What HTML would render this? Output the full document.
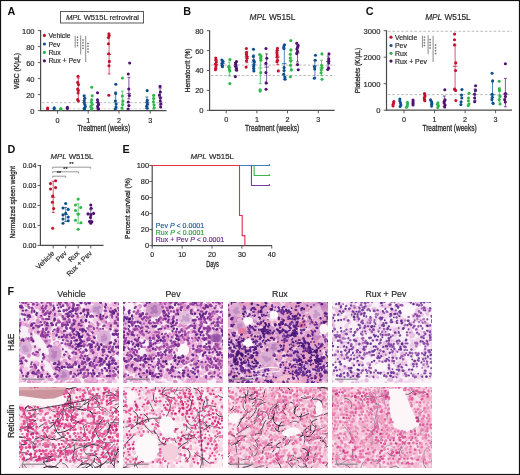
<!DOCTYPE html>
<html><head><meta charset="utf-8"><style>
html,body{margin:0;padding:0;background:#fff;}
body{width:520px;height:475px;overflow:hidden;position:relative}
svg{position:absolute;left:0;top:0;display:block;opacity:.999}
text{font-family:"Liberation Sans",sans-serif}
</style></head><body>
<svg width="520" height="475" viewBox="0 0 520 475">
<rect x="0" y="0" width="520" height="475" fill="#fff"/>
<defs><filter id="bl" x="0" y="0" width="1" height="1"><feGaussianBlur stdDeviation="0.5"/></filter></defs><clipPath id="ch0"><path d="M19 302h100v81h-100z"/></clipPath>
<g clip-path="url(#ch0)"><g filter="url(#bl)" stroke-linecap="round">
<path fill="#f7ebf5" d="M18 301h102v83h-102z"/>
<path stroke="#f2c8e4" stroke-width="3" d="M33.7 338.4l-2.3.7M37.3 329.1l-.7 1.1M39.7 380.6l-.9.4M98 342.5l-1.4 1.2M29.6 316.5l-.7.5M58.8 322.4h0M62 361.6l2.4.2M77.8 309l-.3 1.7M63.6 301.5l-1.2 1.3M29.4 377.2l0 .3M105.2 349.7l.1.3M76.4 319.7l1.4.7M33.9 362l.6 1.8M73.9 381.7l-1.1 1.4M38.6 354.3h0M70.8 314.2l.3 0M46.2 335.7l-0 .6M98.9 376.2l.8.2M112.1 368.6l-.9 1.5M32.4 329.7l-.6.9M81.7 318.9l-.7 1.8M77.4 328.6l-.6.8M75.2 309.2l-1.3.3M110.2 366.7l-1.6 1.5M75.6 308.6l.3 1M71.2 346.7l1.8 1.4M117.3 345.7l-.1.4M111.5 368.4h0M47.8 357.7l.5 1.3M79.5 312.4l-1.1.3M64.7 341.7l.1 2.2M108.2 371.5h0M100.2 355.7l.5.7M48.2 309.6l2.1 1.2M104.8 302.2l-0 1.7M38.9 348.6l.6 1.5M48.5 348.8h0M95.7 366.7l1.5.1M82.8 340.7l-.2 1.3M92.4 378.3l-1.4.8M23.1 322.9l.6.5M76.2 314l-.4 1.2M22.6 325.2l-2.1.5M76.1 344.2l-2 .8M107.6 383.4l-2.5.1M114.7 315.1l1.1.9M83.2 342.4l-.3.4M85.1 309.1l-1.8.2M52.5 366.1l-.6.1M114.6 308.6l-.2.3M39.2 316.8l-.3.1M112.6 316.8l-.1.9M68.9 310.5l1 .5M23.4 309.9l-1.6 1.8M88.7 366.7l.8 1.5M26.5 372.7l-.7 1.5M82.2 310.2l-1 .6M83.7 374.6l-.4 2.4M20.1 375.8l1.7.4M79.8 361.3l-.8.4M106.4 350.4l-.6 1.7M107.1 304.1l.4.8M107.8 346.7l-2.1.6M49.7 379.5l2 .5M103.3 319.5l2.2.6M114.2 374.4l1 .4M114.9 365.6l1.4.5M50.1 375.3l.7 2.1M69.1 382.3h0M35.1 350.3l.2.4M45.4 334.4h0M26.6 321.4l-1 1.5M115.3 373.6l-1.3.2M56.8 382.7l-.1 2.5"/>
<path stroke="#da90c6" stroke-width="4" d="M96.8 359.2l.2 1.2M110.4 310.7l0 .9M33.7 367.4l.7.4M37.8 320.5l.2 1.9M24.3 379.9h0M45.8 323l-.7.6M25.6 325.3l.2.5M48.4 373h0M76.6 318.5l1 1.5M109.5 309.2l-.9.1M40.4 374l0 .8M48.6 376.1l-1.7.2M105.9 314.1l-.3 2.4M52.5 365.4h0M81 320.5l.3 1.5M88.6 308.4l1.2.7M66.6 315l-.6.1M119.2 324.3l2.4.1M75.5 349.3l-.3 1.6M30.1 339.3l-.7.9M20.6 357.2l1.2.4M94.8 362.6h0M17.7 354.3h0M44.4 333.9l.3.5M99.2 315.8l0 .6M50 306.9l-1.8 1.7M30.8 330.1l-.5 1M109.9 324l-1.4.5M107.6 384.4h0M21.7 368l.9 1.3M119.2 337.2l1.2.5M102.8 317.4l.4.4M78.6 322.3l1 1.6M42.9 331.4l-.9.3M18.7 339.3h0M106.1 355.2l-1.6 0M62.6 380.9l-1.1 1.4M120.4 328.6l-2.2.2M91.8 375.6l.5.6M118.5 375.8l1.2 1.4M94.5 341l-.2.6M19.3 328.9l-.4.3M71.4 372.4h0M49.6 314.1l1.7.2M45.4 354.8l0 .3M99.5 318.1l-.4.5M17.1 344.1l2.1 1.2M36.8 305.9l-0 1.2M95.6 355.6l1.1 1.9M28.9 354.8l-.1 1M70.9 367.2h0M80.7 369.8l1.3 0M112.3 310.9l.7 2M120 352.3l-.3 1.9M45 336.8l.5 1.3M91.6 375l.9.4M114.3 352.8l-1.6 1.3M59.7 331.1l-.5 2.3M46.7 327.9l.2 1M97.7 351.7h0M66.2 322.2l-1.5 1.5M112.3 374.6l-.3 2.2M103.8 360.9l.6 1.1M18.8 362.5l.1 1M72.7 326.2l-.3.4M53.7 334.4l-.3.2M43.8 341.2l1.4 1.8M36.6 326.8l-.8.9M108.8 342.8l-.6 1.6M81.9 362.2l-1.9.1M89.6 330.3l.9.2M58.1 378.2l.1.3M101.9 355.4l-1.2.6M79 307.7l-.2.2M46.5 340.9l.4.6"/>
<path stroke="#e09ece" stroke-width="4" d="M93.3 336l-.7 1.9M38.4 314.5l.2 2M71.5 359.7l.1 2.5M59 345.5l-.2.7M79.2 382.8h0M120.7 333.2l-.7.3M119.1 346.8l1.1 1.1M63.4 317.7l.2 1.2M73.6 323.2l1.1.1M81.6 352.9l.7 1.6M69.3 345.8l.8 1.4M68 383.4l1.8.1M88.6 375.2l-.2.3M92.4 380.3l1.2 1.2M31.9 370.3l.6.7M57.8 333.2l-.5.1M118.6 341.8l0 .5M19.6 333l-1.9.8M22.5 359.8l.2.1M111.1 325.5l-.3.4M46.2 334.4l.9.7M38.5 304.9l-.8 1.6M68.8 304l.3 1.7M43 319.5l.8 1M90.7 348.9l-.1 1.2M107.7 308.3l.1 1M110.2 381.4l-.9 2.1M85.9 359.4l.3 2.4M48.7 341.1l-.4 1.3M36.8 371.3l.3.1M78.2 357.1l-0 .4M85.9 340.6l-.1.8M26.8 375.4l.9.5M117 302.9l-.9 1.6M41.6 376.9l.6 1.1M82.8 317.5l-1.3.7M54.2 367.6l1.2.8M49.5 326.7l-1.9 1.3M78.6 374.8h0M45.6 304.5l-.3.6M34.9 300.4l.3.9M43.4 337.7l-1.2.6M96.4 342.6l.5.1M118.8 322.7l.8 1.6M27.1 305.1l-.6 0M57.7 330.6l-1.2.9M108.6 382.5l.1.3M36.3 354.4l1.4.9M64.6 360.7l.6.1M45.9 325.7l.6.1M75.2 361.8l.6.8M61.2 363.2l-1.7.8M47.4 361.3l1.3.1M79.5 363.7l2 .9M87.1 373l-.7.7M111.3 371.8l.8.9M91.7 355.3l.6 2.3M47 312.5l-.4 0M77.5 380.5l-.4.3M37.5 363.4l-.1 1.1M73.9 346.3l-0 .6M70.2 301.3l-1.1 1.5M19.4 377.7l-.2.2M102.3 320.8l1.9.9M74.3 358l-.2 1.3M77.7 347.6l-.6 1.5M40.9 378.8l-.7.4M75.1 351.4l-.7 2.3M69.5 337.8l.3.1M96.1 356.1l.4 2.2M38.6 374.8l-0 1.2M42.6 313.3l-0 .9M91.8 362.8l1 .5M86.1 380.8l1.9 1M120 336.8l.3 1.8M93.2 380l-1.7.5M77.4 326.5l1.6 1M34.9 365.6l-.8 2.2M48 376.5l0 .4M82.2 317.7l.2.2M90.9 383.4l-.8 1.2M116.2 327.9l.2 2.5M52 317.8l-.5 1.9"/>
<path stroke="#e09ece" stroke-width="3" d="M100.3 344.6l-.7 1.4M104.1 376.8l1.3.2M71.1 341.6l-1.3.7M50.7 301.2l2.4.7M83.2 310.5l.8.7M91 316.4l-.5.2M48.1 379.1l1.5.3M20.3 351.9l-1 .9M53.7 366.7l.3 2.2M35.8 331.6l-.6 2M88.4 303.8h0M30.1 324.9l-.5 1.6M97.1 343.2l.3 1.7M98.6 330.1l.7.5M78.9 339.9l-.2 1.1M56.8 382.2l-1.5 1.1M70.2 333.6l-1.2.3M62.8 332.3l-2.4.7M93.6 348.3l1.5.9M32.9 339.8l-.5.5M75.4 340.3l-.2 1.4M49.6 333.5l-1.3.6M22 366l.4.1M77.1 326.6l-1.8 0M77.4 328.1l.3.3M97.8 369.7l-1.6.3M114.4 322l1 .5M26.3 303.1l-1.1.9M46.6 355.1l-1 2.2M103.2 359.2l-.9 1.6M50.7 375.1l.1.4M106.6 308l.5 1.9M35.8 305.8h0M59 314.3l1.7.4M64 338l.5.6M73.8 345.1l-.7 1.7M85.1 369.5l1.4 1.7M43 308.8l-2.2.9M56.5 360.9l1.5 1.9M22.5 308.9l-.8.4M120.3 304.2h0M64.4 301.5l.2.4M120.6 322.1l-1.8 1.2M92.7 341.5l.5.6M69.9 322.6l1.4.5M49.8 379l.4.5M110 366.2l1.3 2M87.7 373.2l-.5.9M78.6 301.1l.8.5M118.2 375.4l1.6 1.2M92.3 300.7l0 1.1M82.7 365.9l1 1.4M89.3 356.9l1 0M27.5 300.7l1.7.8M89.2 355.2l-.5.5M105.7 345.6l.8.9M58.5 327.5l.9 1.9M63.6 302.7l-1.5.9M74.2 328.8l-.9 1M18 324.2l.3 1.3M62.1 366.3l-.6.4M87.9 303l-.2 2.1M27.5 325.1l-.6.1M101.8 304.5l.2.9M89.9 357.9l1.7.5M57.8 319.7l1.1 1.7M61.8 326.4l-.2 1.4M33.1 381.8l.5 0M50.5 317.9l-1.8 1.3M45.7 313.9l-1.7.3M103.1 357.8l1.1 2M29.4 372.2l-2 1.2M49.5 319.2l-.1.3M107.3 355.6l.5.2M119.1 328.1l-.2.7M72.6 382.6l1.6.3M75.3 379.4l.5 1.8M56.9 343.3l-.9 1.2M116.5 312.4l.5.2M87.8 358.5l.4.8M91.4 310.8l-.5.4M59.2 302.1l.2.6M111.3 323.6l.7.4M44.8 354.2l1.8.3M116.1 330.2l-1.5.5M113.8 358.6l-0 .4M92.6 350.8l.4 1.5M72 307.4l-.3.1M21.5 353h0M115.1 310.8l-1.5.2M49.5 340.3l.3.3"/>
<path stroke="#da90c6" stroke-width="3" d="M25.7 338.1l0 1.4M18.3 333.7l-.5.1M27.4 312l-.3.4M98.2 328.7l-.8 2.1M60.9 332.3l.8.5M113.1 321.1l.4 2.3M39.3 306.2l0 1.5M99.1 353.2l.7.1M116.9 340.7h0M110.6 315.3l1.2 1.1M90 383.4l1.3.1M117.1 300.6l-.3 0M91.2 323.9l.6 1.6M47.6 345.7l-.2.9M100 352.6l-2.1.4M91.3 346.6l-.9.4M96.6 362.6l-1.5.7M78.1 361.3l1.3 1.3M106.5 346.5l.1.5M93.6 337.4l-.7 1.8M30 381.1l-1.4.8M52.1 315.5l-1.3 2.1M32.5 308.9l1.1 1.1M55.3 343.1l-.6.5M108.2 327.5l.2.4M106.7 370.5l-.3.3M70.3 366.6h0M118.2 344.8l1.8.5M78.7 369.4l1.1.1M72.6 365.1l-2 .6M59.3 302.3l-0 .5M97.2 381.1l-1.8 1.1M119.8 304.5l.2.1M33.3 374.2l-.2 1.7M29.6 382.3l-.8 1.2M80.9 324.7l.3.5M119.9 313.8l.7 1.3M109.3 372.9l1 1.2M67.7 321.2l-1 .2M119 374.1l.9 1.5M94.6 359.9l-.1 1.5M50.8 375.9l.2.8M113.1 378.4l.7 1.1M54.1 338.8l-.2.4M84.2 343.4l1.2 1.2M21.7 322.6l1.4 1.2M79.9 332.5l-2 1.2M55.7 365.7l1.1 1M100.8 383.7h0M20.6 342.8l-0 1.8M80.7 360.7l.4.4M98.2 346.1l.6 1.2M27.8 303.5l-.3.2M50.4 377.8l1.6 1.8M21.6 357.9l-1.8.7M77.3 315.6l1 2.1M40.6 307.3l-.2 1.6M20.2 350.4l-.9.5M40.9 317l.6.4M17.9 313.3l-.6.5M57.6 342.3l-1.7 1.4M81.7 319.7l.1 1.1M72.3 383.6l-.2.4M86.1 333.7l1.9.1M52.3 321.2l1 .1M102.8 380.3l.2.2M34.7 369.3l-.1.3M56.1 372.3l-1.1 1M44 340.9l-.8.2M112.7 367.6l-1.5 1.8M81.1 326.8l.8 1.7M58.7 331.7l-1.1 1.6"/>
<path stroke="#f2c8e4" stroke-width="4" d="M21.8 378.6l1.2.6M97.7 347.9l-1 .2M112 320.3l-.7.2M85.6 321.6l-1.9.1M94.3 347.8l.6.8M114 334l-.1.4M32.3 317l.3 2.1M40.6 300.5l1.6 1.7M83.6 353l.1.3M18.1 361.9l-.5.7M20.9 301.6l.4.2M51.7 364.8l2.2.1M90.2 306.8l1.4 1.3M50 317.1l-0 1.1M45.3 356l-.5 1M116.1 321.8l-1.7 1.1M59.4 301.7l-.5 1.1M78.2 348.5l-1.5.7M75.5 371h0M96.4 319.5l-.5 2.3M91.2 356.1l-1.3 1.9M38.5 313.4l1.2 1.3M72.1 369l-.4.1M119.9 375.1l.6.9M102.1 371.7l-1.8.3M118.9 327.2l1.5 1.7M61.2 348.1l.4 2.2M106.6 310.4l.7 1.2M110.9 305.7l.3 1.3M94.4 348.3l-.8.3M87.1 305.8l.4.6M79.7 374.1l.2 2.2M71.5 363.1l-1.7.2M59.1 334.9l.2.8M94.1 341.2l.1.2M117.1 367l-.5 1.4M115.1 351.3h0M74.7 334.8l.3.3M21 352.2l.2 1.3M98.2 350.2l-1 .5M74.3 316.1l-.3 2.2M92.9 345.1l2 1.3M51.8 318.8l-1 1.5M45.7 373.8l1.2 1.5M109.2 357.7l-1.5 1.1M92.6 361.6l.5.1M66.6 333l.7.7M63.7 383.3l.4.9M99.1 357.3l-.2.2M33.7 347l1.4.6M22.4 361.1l-1.4.3M73 373l-1.1.8M85.2 375.5h0M45 379.4l.9.9M100.6 356.6l2 1.2M50.9 375.7l.4.5M83.6 358.7l1.5.5M23.3 370.6l1.3 1.1M50.5 304.7l-.8.3M115.9 325.8l-2 .3M85.9 304.1h0M68.6 361.5l-.5 1M78.4 340.3l-.2.7M26.1 368.8l-2.1 1.2M85.3 362.3l.9 1.2M105.1 351.4l-1.1.6M92.1 368l1.8 1.7M57.7 370.9l.4.4M99.6 352.4l.4 1.4M18.5 313.9l-.5 1.3M70 343.4l.4 1.1M42.5 365.3l-.7 2.2M29.7 313.8l-.2.3M96.9 319.8h0M115 322.1l-.9 0M20.5 379.9l-.3.7M80.6 319.8l1.4 1.7M114.8 381.3h0M56.6 344l.3.1M106.7 315.6l-.8 1.2M31.5 376.4l-.5 2.4M72.3 338.8l1.1 1.6M119.4 305.3l.3.8M66.9 308.5l0 .3M46.9 310h0M47.9 314.5l-.1.7M111 352.9l-.7.2M110.3 361.8l.4 1.7M95.8 320.4l-.9.2M96.3 327.2l-.9.6M92.4 374.2l-1.4 0M99.7 381.6l2 .8M79.9 331.1l.5 0M104.6 357.2l2.3.5M94.9 320.3l.4.2M99.7 303l-.9 1.2M18.1 375l.8.3M113.9 373.3l.7.8M86.2 361.8l-.7.6"/>
<path stroke="#eab2d8" stroke-width="4" d="M74.6 376.1l.2.2M84.9 310.3l-1.2 1.3M101.5 374.4l-.3 1.7M38.4 333.2l1.3.2M85.8 340.4l-.6.2M95.4 349.6l.6 0M93 331.5l.8 1.7M89.5 378.9l-.6.1M90.8 324.4l1.9.7M40.3 379.8l-.5.6M59.3 303.7l-.6.2M72.7 363.5h0M21.8 357.5l.2 1M117.5 315.3l-.5.2M57.6 302.6h0M97.1 303l1 .4M94.5 301.9l-.2.6M19.6 306.7h0M60.6 337l-1.4.7M71.2 333.7l.2.5M46 384.2h0M74.9 347.8l-1.8 1M119.2 361.5l-.5.4M120.9 369.5l-1.2 1.3M81.1 362.6l.3.9M106.7 326.4l.7 1.2M110.1 347.7l1.6 1.4M119.8 321.3h0M37 305.1l1.1 1.7M90.3 337.2l1.6 1.1M91.2 364.4l0 .3M107.3 378.2l1.6.5M45.3 356.9h0M58.9 362l.4.7M113.7 304.4l1.1.5M46.7 312.3l.5.1M78 335.7l-2.2 1.2M109.9 378.9l.5.5M77.5 320.4l-1.2 2M119.8 354.6l.2.3M77.5 350.3l-.1 2.5M50 315.2l.8.4M94.7 364.9l-0 .5M44.6 303.8l-.4 1M83.1 326.7h0M51.8 310.7h0M57.3 361.2l1.2 1M93.7 372.5l-.9 1.6M96.7 344.1l-.2.6M22.8 323.2l.3.7M56.2 374.7l-.9.9M96 331.7l.1 1.5M26.2 311.8l1.9.2M121.1 311l-1.3 2M83.3 334l1.1.6M34.1 302.9l-.7 1.1M64.1 365.7l-.4.1M76.8 371l.5 1.8M78.4 357.6h0M96 371.7h0M115.7 340l.3 2.1M41.8 373.1l1.6.2M46.1 337.2l-1.6.2M23 339.1l-.8 1.5M77.4 311l-.7 1.5M21.4 301.6l.6.5M80.9 300.9h0M17.6 355.5l.3.2M87 336l-1.3 1.1M56.2 315.4l-2 .8M86.7 357.3l-1.5.9M44.5 308h0M90.3 378.5l-.6.2M79.5 357.2l.3 1M74.7 324.8l-1 .6M29.7 330.6l-.4.1M54.6 311.4l.9 1.1M43.5 365.3l-1.4.7M33 339.3l-.7 2M30.7 323.3l1 2M48.9 307.2h0M44.1 359h0M45.8 321.4h0"/>
<path stroke="#eab2d8" stroke-width="3" d="M37.5 371.1l-.3.1M79.4 360.3l1.6.9M77.5 312.4l0 1M86.8 372.6l.6.4M34.3 363.6l.3.5M64.1 316.6l.3.5M36.8 382.2l-.7.6M25.4 304l2.3.8M35.4 380.3l-.7 0M22.7 375.6l-.6 1.6M75.3 373.6l-1.6.4M83 344.5l0 .7M58.9 309.8h0M82.5 375.6l1.7 1.5M110.1 328.7l-.7 2M71.9 378.2l-2.1.9M114 322.3l-.6 1.1M33.4 325.4l.4 2.3M35.7 353.5l-.9.4M73.2 346.5h0M84.3 361.4l-.1 1.3M102.7 351l-.8.9M36.2 329.1l-.4 1.9M67.8 353.6l-.1 2.3M84.9 362.2l1.8 1.3M63.8 356.8l-1.1.2M94.4 315.9l-.5.1M23.2 363.8l-.1.7M116 351l-1.2.4M39.4 381l-.3.6M35.8 362.2l.8.1M83.5 342.6l1 1.9M43.5 353.8l.9 1.1M117.1 363.1l-.6.4M53.5 337.5l-.1.5M50 329l-.8 1.2M95.6 353.8l-.2.9M110.5 316.9l-.1.5M62.1 302.9l1.1 1M114.2 366.7h0M46.9 345.7h0M75.5 331.3l-2.1.1M73.4 332.6l-.9.6M78.2 379.9l.2.7M82.7 325.6l-1.6.8M118.8 316.7l-.2.2M38.1 375.8h0M112.3 310.7l-.4 2.4M76 369.7l-2.4.3M101.1 353.3l1.5 1.6M31.2 334.7l.3 1.1M44.4 383.4l1.1 1.1M82.3 329.3l1.1 1.5M52.2 316.3l-1.6 1.6M81.3 365.9l-.5.8M47.6 372.1l-.5 2.3M68.5 355.1h0M115.5 319.8h0M116.9 316.3l-1.2 2.1M53.1 336.1l1.6.4M71.8 300.5l-1.1 1.2M95.1 378.4l-.2 2.2M90.4 352.2l1 1.1M22.7 322.8l.7 1.1M99 323.6l.9.3M68.3 345.4l-1.6.5M94.7 353.1h0M59.1 360.6l.1 1.9M82.3 344.1h0M19.7 306.9l0 .3M80.2 352.1h0M99.7 365.3l-1 .6M88.9 368.3l-.6.9"/>
<ellipse cx="41" cy="344" rx="3.5" ry="13" fill="#f8f0f7" transform="rotate(-35 41 344)"/>
<ellipse cx="24" cy="332" rx="4" ry="6" fill="#f7eef6"/>
<ellipse cx="49" cy="368" rx="2.5" ry="9" fill="#f7eef6" transform="rotate(-30 49 368)"/>
<ellipse cx="54.5" cy="354" rx="7" ry="8.5" fill="#d4a0d0"/>
<path stroke="#8a4a9c" stroke-width="2.4" opacity=".35" d="M54.7 356.9l-.5 0M54.2 354.2l-.5.6M53.2 355.3l-1 1.1M56.3 352l-1.3.4M54.5 353.7l-.1.3M53.6 353.9l-.6.7M53.9 354.2l.1.9M55.8 356.1l-.6.4M53.6 357.1l.4.9M52.7 350.8l-.3.7M55.6 353.9l-.7.5M54.3 352.7l.3.9M54 356l.3.4M53.9 355.4l.1 1.4"/>
<ellipse cx="64" cy="375" rx="6" ry="6" fill="#d4a0d0"/>
<path stroke="#8a4a9c" stroke-width="2.4" opacity=".35" d="M63.8 374.9l.3.1M63.3 373.6l.7.7M62.2 376.3l.4.5M64.4 374.3l-.4.9M64.8 374.4l.7.8M64.4 373.3l.7.9M63.6 375l-.2.3M63.2 372.5l.4.3M64.5 376.2l-.7.5M65.8 375.8l-.1.3M63.3 375.9l-.6.7M65 375.5l.2.8M61.6 376.6l.1.5M62.4 376.5l-.3.5"/>
<ellipse cx="104" cy="337" rx="7" ry="7" fill="#dab0d8"/>
<path stroke="#9a5aa8" stroke-width="2.4" opacity=".35" d="M104 337.3l-.3.2M105.1 338.9l1.2.4M104 336.3l1.5.2M104 337l.8.9M104.3 337.8l-.1.4M103.2 338.5l-.8.3M106 338.1l.3.3M103.8 338.1l-.9.6M104.3 334.6l-0 .9M103.5 336.4l-1.3.4M104 337.4l-1.2.2M104.7 336.3l1.2.2M102.8 340.3l-.8.2M105.2 339.6l-1 1"/>
<ellipse cx="97" cy="309" rx="6" ry="5.5" fill="#dab0d8"/>
<path stroke="#8a4a9c" stroke-width="2.4" opacity=".35" d="M97.1 309.7l1 .9M98.9 307l1.1.6M95.2 307.9l.8.1M96.8 308.8l.3.3M95.7 309.6l.5.1M95.3 311l-1.3.1M94.1 308l.4.4M95.9 309.1l.8.6M94.9 309l-.1.5M98 310.2l.5 1.4M97.1 309l.5.3M97.2 309.2l.2.5M98.4 311.2l-.6 1.4M97.7 307.7l.2.4"/>
<ellipse cx="26" cy="348" rx="6" ry="7" fill="#dcb2d8"/>
<path stroke="#a066ae" stroke-width="2.4" opacity=".35" d="M25.6 349.1l.7.7M27.3 348.9l-.1.5M25.5 348.3l.4.1M23.8 346.9l-.4 1.1M27.5 350.7l-1.1.4M25.2 348l-0 1.3M26.8 349.2l-.4.4M23.8 347.4l-.4 1.3M24.4 350.6l.4.6M25.2 347.7l1 .8M23.4 346.8l.7 1M24.3 350.1l.3 1M25.1 346.2l1 .9M26.1 347.8l-.6 1.1"/>
<ellipse cx="41" cy="344" rx="3.5" ry="13" fill="#f8f0f7" transform="rotate(-35 41 344)"/>
<ellipse cx="24" cy="332" rx="4" ry="6" fill="#f7eef6"/>
<ellipse cx="49" cy="368" rx="2.5" ry="9" fill="#f7eef6" transform="rotate(-30 49 368)"/>
<path stroke="#8a3a9c" stroke-width="2.7" d="M19.3 300.8l-.3.6M65.5 302l1.1 1.2M71.2 301.1l1.3 1.2M21.4 305.8l-1.3.4M33.5 304.2l-.3 0M63.1 305.7h0M73.7 304.2l-.2 1.7M60.9 306.9h0M75.7 308.8h0M43.6 310.7l-.4.8M63.8 310.3l.1.9M66.6 310.1l-.2.1M87.8 310.2l-1 0M46.2 313.3l-1.3 1.2M118 314.1l.1.5M73.2 315.9l-1.3.7M91.3 316l-.9.4M64.1 318.8l1 .1M73.7 320.2l1.3 1M118 318.5l-0 1.2M116.3 323.1l-1.4.1M19.9 324.5l-.6 1.5M39.4 325.9l-.9 1.1M62.2 324.2l.2 1.7M64.8 324.8l1.3.5M72.9 324.6l-.9.8M117.9 325.8h0M46.7 328.4l-.7 1.1M57.8 328.7l.4.8M66.2 327.7l.5 1M70.4 328l1.4.9M38.4 331.8l-.1.3M48.3 332h0M42.9 335l.5 1.4M47.5 334.9l-1.6.7M66.9 335h0M69.7 334.4l1 1M65.8 337l.9.3M120.7 338.2l-.2.1M87.7 339.1l.1 1.1M114.4 343.6l-.1.5M49.3 345.7l1.6.5M72.6 346.7h0M103.7 346.7h0M122.6 346.8l-.8 1.3M104.1 349.9l0 1.3M112.3 349l-.7 1.1M93.4 352.4l-.3.5M64.5 354.6l-.2.2M85.2 355.9l-.2.2M87.8 358.3l-.2 1.3M34.5 364.8h0M59.3 363.7l-.2.5M75.5 362.7l.2 1.7M81.9 363.6l.9.1M100.9 364.3l-.8 1M113 363.1l-.9.4M35.6 366.7l.4 1M84.5 366.8l.3.5M119.5 366.7l-1.7.3M83.5 369.3l-1.4.2M113.5 371.3h0M35 373.7l1.5.3M70.7 372l-.1 1.4M99.2 373.4h0M57.6 375.8l-1.1 1.1M73.4 376.7h0"/>
<path stroke="#8a3a9c" stroke-width="2.3" d="M22.5 302.4l1 .4M31.1 301.3l.2.5M36.4 301.5l.3.6M42.1 302.2l-.5.5M59.6 302.7l-.5.2M61.4 301.3l-.5 1.1M115.3 302.2l-.2.8M46.4 305.7l-.2.5M78.7 305.1l-1.6.1M119.1 304.2h0M32 307.8l.3.7M42 308.2l.8.3M45.3 308.1l.2.4M69.4 307.7l-.7 1M77.5 308.2l-.1 1.5M76 310.5l-.1.4M104.7 310.6l1.4.2M123.9 310.1h0M21.9 314.1l1.4.4M24.5 314.5l.8.5M112.4 313.8l-.6 1.3M27.6 315.4l-0 1.7M62.6 316.2l.2.6M107.1 316.8l-1.1.8M116.6 316.9h0M124.6 316.5l-1.1 1.4M46 319.1l.7 0M102.2 318.6l-1.3.6M40.8 322l-.2.2M42 324.7l-.4.4M104.5 325.5l-1.1.6M110.9 325.5l-.1.8M43 329h0M93.6 328l.4.9M103 328.8h0M123.1 328l-1.5.6M42.7 331.1l-.5 1.7M57.5 330.3l.2 1.5M65.2 330.8l-1.3.2M117.2 330.8l.2.1M31.3 334h0M41.4 334.5l-.3 1.4M63.9 334.7l-.2 1.1M73.7 334l.3.2M119.1 333.8l1.3.1M31.3 337.6l.4 1.1M71.6 337.9l.8 0M73.6 337.2l.8.4M63 340.2h0M91.7 341.1l1.1.5M76.1 344.2l-.3.1M88.8 344.5l.9 0M84 346.1l.1.4M92.1 347.1h0M106.2 347.2h0M36.4 351.9l1.5.4M73.6 352.3l-1.2.5M75.9 352.9l.3 1.2M103 351.7l.2.6M117.7 352.8l-.5.9M102.7 355.4h0M23.6 357.7l-1.1.4M44.2 356.9l-.8 1.5M96.2 357.4l-.5.3M102.2 359.2l-.3.4M111.1 356.9l-.6 1.5M25.6 360.4l.9.8M31.7 362.3h0M75.3 362.2h0M99.9 361.2l-1.3 1.1M109.5 361.4l-.6 1M66.3 363l.8 1.6M69.6 364.5l-.6.3M42 367.2l0 1.1M56.8 367.5l-1.3.7M94.3 366.1l.4 1.7M20.5 369.9l.6 1.1M59.7 369.2l-.5 1.5M87.1 369.9l1 .4M101.8 369.7l.4 1M21.9 372.9h0M121.1 372.3l0 .3M23.1 375.8h0M38.2 376.2l-.1.6M46.5 376.8h0M92.4 375.5l.1.8M96.9 376.1l.7.2"/>
<path stroke="#8a3a9c" stroke-width="1.9" d="M26.4 302.1l-.7 1M39.6 300.9l-1.1.3M28.6 304.6l-.5.1M37.4 304.5l-.2.6M42.8 305.8l-.3.3M53.4 305.5l-.2.5M57.3 305.3h0M59 303.3l1 1.3M86.2 303.9l-.2.5M58.5 307.4l-.2.4M110.9 308.1h0M31.7 310.8l0 1.7M50.4 311.8l.5.3M52.8 310.1l.4.3M54.9 313.7l-.2 1.6M66 313.7h0M71.6 313.9h0M84.7 314.5l-.1.5M40.5 315.9l.9.1M67.2 316.4l.8 1M77.7 316.2l.1.7M92.7 316.1l.4.8M112.1 316.2l.1 1.5M33.1 323.1l1.7.1M44.9 322l-.3.8M56.9 323l-.7 1M67 321.9l.5 1.3M79.6 323.6l-.9.2M35.8 325.5l1.6.4M56 324.8l.2.5M78.3 324.8l.7.2M81.8 325.4l-1 .5M54.8 329.5l-.8.3M97.1 327.9h0M52.8 331.4h0M76.2 331.5h0M82.7 335.4h0M89.7 335.4l-.9.3M44.8 336.7l.8.9M49.6 336.6h0M118.1 337.1h0M31.6 339.7l-.4.4M71.3 341.1l-.1.3M74.6 340.7l-.4.1M84.2 341.4l-1.7.4M89.5 340h0M122.7 340.2l.6.1M62.3 343.1l-1 .2M65.5 343.5l-.1.9M35 346.1l0 .8M48.7 346.1l-1.2.8M95.7 346.6l-.4.3M113.1 346.5l-.4 1.6M108.8 348.7l-.4.5M65.7 351.6l.8.2M113 351.3l1 .5M119.8 351.4l-.6.9M87.3 355.9h0M68.6 357.8l1.2 1.1M80.1 357.6l.7.3M112.8 358.2l-0 .5M42 361.4l-.1.6M58.6 361.3l1 1.4M82.2 361.2l.4 1.1M86.9 360.5l.9.5M90.5 362.1l1.2.2M31.2 364l.1.6M73.5 364.1l-0 1.1M93.2 363.4l-.3 1.2M97.1 365l-1.1.2M102.6 364l.1.6M55.9 369.5l1.3.1M77.7 370.5h0M124.2 370.3l-.5.5M55.6 373.9l-1.5.3M74.2 373.5l.9.8M90.4 373.1l1.3 1M102.2 373.2l.1.4"/>
<path stroke="#a852aa" stroke-width="2.3" d="M48.4 302.4l-.9.4M85.5 302l-.6 1.1M67.2 304.6l.4.9M122.2 307.4l.1.8M47.5 311.1l-0 1.4M58.6 320.6l-.3.4M115 320.7l.2.2M90 326.3l1.4.3M44.4 332.2l.8.7M45.3 341.1l1.4.2M66.6 340.4l1.6.8M83.9 344.2l.8.7M110.4 346.4l-1.3.8M33.4 353.2l-.7.5M80.3 352.2h0M17.2 355.3l1.6.3M69.5 356.1l-0 .5M92 366.3h0M42.7 369.8l.7.5M87.8 375.5l-1.4 1M99.3 375.4l-.7.5"/>
<path stroke="#6c2a8e" stroke-width="2.7" d="M80.7 302.8l.7 0M88.6 302.7l1 .3M111.5 301l.4 0M122.8 304.4l-.3.5M20.8 307.2l1.5.3M73 308.3l-.2.4M70.7 311.6l-1 .6M73.5 309.8l-1 1.1M84 309.6l-.5 1.6M112.6 311.3l.7.3M67.5 313.7l.1.4M88 312.6l.2 1.5M29.2 315.3l.7 1.5M54.7 318.8l-.2 1.3M85.9 320.2l0 .7M31.8 324.4l-.4 1.1M52.6 324.8l-.3.2M33.4 328.1h0M82.6 329.3l1.3.4M82.6 331.5h0M85.8 331.3h0M113 334.2l.9.4M115.8 333.9l1.6.8M61.9 337h0M76.9 340.2l-.6.2M80.6 340.2l1.2 1.2M110.9 342.5l-.8.6M91.2 346l-.7 1.3M116.1 347l.3.2M85.8 349.6l.6 1M98.9 347.9l-.5 1.7M89.2 359.1l0 .3M84.7 362.3h0M100.7 360.1l.1 1.3M112.6 360.5l-.4 0M55.2 363.3l-1 .4M89.7 363.6l.4 1.7M115.5 363.5l.4.2M121.2 363.6l-1 .2M123.5 364.9l-.8.6M62.1 366.8l-.3 1M72.1 366.9l-1.4.1M33.4 372.2l-.9.9M80.7 372.5l0 .3M93.7 372.9l.6 1M118.4 371.9l1.2.7M26.5 376.4h0M41.7 374.9l-.3 1.7M107.2 376h0M109.5 375.8l.3.2"/>
<path stroke="#6c2a8e" stroke-width="2.3" d="M100.2 302.3l.7.4M54.1 307.7l.1 1.3M34.3 311.2l-0 .6M115.2 309.7l.8 1.3M119.3 310.5h0M36.8 313l-.5 1.7M49.7 313.4l-.5.2M81 313.1l-.4.4M100.5 314.5h0M49.1 316.7h0M69.6 315.4l-.9 1M87.1 315.2l-.4 1.7M100.4 316.2l-.2 1.1M103.3 316h0M81.3 320.2l-0 1M47.2 322.9l.3.5M50.9 323.3l.9 0M69.5 321.9h0M74 323.3l.3.6M74.4 329.1l-.6 1.2M81.3 329.6l-1.4.1M18.8 330.2l.7 1.1M72.7 331l-.1.5M77.9 332.3l-.2.6M115.7 330.7l.2.7M56.7 334.8l-.3.8M87.6 334.4h0M18.6 337.2l-.1.6M79.3 337.9l.4.5M94 337.2l.7.7M22.8 339.3l.8 1.4M32.8 340.4l.5.9M71.2 343l-.8.7M80.8 343.2l-.5 0M90.2 344.4l1.5.3M93.6 342.2l.3.7M81.8 345.8l-1.8.2M118.2 346.5l.7 1.6M75.5 348.4l.5.5M102.4 349.5l.5.1M108.9 351.6l1.3.6M43 354.3l.3.6M99.6 358.3l1.7.6M106.3 357.8l-.3 1.1M120.7 357.7l0 1.6M21.3 361.1l.2.5M104.6 361.1l-1 1.1M113.9 360.5l.5.1M121.5 361l-.5 1.7M106.8 364.5l1.4.1M67.6 367.2l1.1.3M104.7 368.1l.6.3M109 366.8l-.1 1.5M38.6 370.4l-1 1.3M93 370.4h0M109.9 371h0M116.3 369.4h0M28 372.9l-.2 1M78.7 373.7l-.3.6M49.7 376.1l-.5.3"/>
<path stroke="#a852aa" stroke-width="2.7" d="M50.3 303.1l.4 1.7M28.8 307.1l.7.6M118 308.2l1.6.8M69 319.4l.6.7M20.2 323.2l0 .6M59.7 321.9l-.9.3M62.7 323h0M98.1 324.4l0 .8M28.3 338.5l-0 .3M88.8 338.1l.7.8M67.7 344.2l1 .6M78.9 350.1h0M92.2 349.9l-.8 1.2M122 348.4l-.3 1.5M83.6 351.8l-1.2 1M81.3 355.6l.6.4M39.5 372.5l-1.6.1M84.6 373.1l-.7 1M114.9 374.1l.2.4M84.9 376.5l-1.2.8M113.2 375.4l1.2.5"/>
<path stroke="#6c2a8e" stroke-width="1.9" d="M105.7 303.9l.4 1.3M104.7 306.6l.7 1.1M23.1 310.7l-.3 0M26.7 310.3l-1 .1M60.2 311.1l-1.7.1M109.9 311.3l1.2 1M75.6 313.4l1.3.7M96.9 315.8l-.3 0M24.4 318.8l.3 1.2M49.3 319.1l-1.4 0M46.2 324.8l.2.2M48 325.5h0M67.7 324.6l.4.4M110 328.9l.8.4M92.1 332.2l.7.7M76.5 334.4l-.3.5M59.1 337l-.3.1M21.6 340.3l-.2.2M115.2 340l.8 1.5M120.1 340.6l-.7 1.6M97.5 343.5l-.1 1.6M70.5 345.6l-.5 0M77 346.8l1.7 0M99.2 346.6l-.4.3M62.9 349.2h0M123.1 352.8l.9 1.1M107.2 355.6l.6.6M83.3 358.2l.7 1.1M20 361.1h0M94.5 359.6l-.4 1.7M22.2 363.3l-1.5.3M58.4 364.5l-.6.2M57.7 367.1l1.5.5M63.9 367l1.2.2M80.3 370.3h0M107 369.9l0 1M47.6 374l.1.4M88.2 373l.4.7M76.6 375.7h0"/>
<path stroke="#522080" stroke-width="2.7" d="M113.8 313l-0 .3M78.8 334.2l.2 1.7M81.8 336.8l-1.1.2M79.5 343.8l-1.4 1.1M109.7 364.4l-.8 1"/>
<path stroke="#c472bc" stroke-width="2.7" d="M20.1 319.7l-.7.3"/>
<path stroke="#a852aa" stroke-width="1.9" d="M28.8 319.1l-.9.6M42.4 318.7l1.1.6M81.5 322.3l1.6 0M89.2 322l-.1.4M97.4 322.2l0 1M106.1 321.7l.1 1M88.9 325.8l.1 1.2M87.1 327.9l.9 1M100.3 328.7l.5.3M87.7 345.5l-.5.2M40 349.6l-.9.3M80.9 348.5l-.2.2M36 354.8l-1.5.1M22.4 358.1l-1.7.7M86.2 364.5h0M32.2 366.7l-1.7.3M115.5 375.1l.1.4"/>
<path stroke="#522080" stroke-width="2.3" d="M101.1 344.3l.4.5M79.2 365.7l-.2 1.5"/>
<path stroke="#522080" stroke-width="1.9" d="M114.8 368l-.3.2"/>
</g>
<path stroke="#808088" stroke-width="1.1" d="M22 379.2h22.5"/>
</g>
<clipPath id="ch1"><path d="M123 302h100v81h-100z"/></clipPath>
<g clip-path="url(#ch1)"><g filter="url(#bl)" stroke-linecap="round">
<path fill="#f8eef7" d="M122 301h102v83h-102z"/>
<path stroke="#da90c6" stroke-width="4" d="M220.9 378l.1.3M128.8 316.7h0M130.8 364.9l-.2.6M162.3 356.1l1.8 1.1M178.2 358.4l-.4 0M178.7 345.1l-.5.7M133.7 329.2l.4.1M200.7 338.6l.9 1.9M127.3 358.6l1 0M167.6 303.2l.2.9M223.1 334l1.5.7M216.2 363.9h0M209 303.4l1 1.7M167.3 305.4l-.4.9M202.3 314.7l1.7.5M122.3 327.4l-.1.2M152.8 324l-1.9 1M142.4 375.4l.4.5M137.4 367.8l-.8 1.4M201.3 348.7l1.8 1.3M145.1 328l1.3.7M194.5 323.6l.5.5M168.4 356.1l1 1.1M209.1 356.7l.4 1.2M167.6 309.9l1.7 1.8M218.2 358.7l.5 1.6M127.6 377.3l-.7.3M133.2 369.9h0M195.2 355l0 .3M133 336.2l-.3 2M189.2 345.8l1.1 1.4M201 311.4l2 .5M185.3 373l-.4.1M173.9 333.2l.8.7M216.9 303.2l-1.3.5M128.6 318.3l-.5 1.6M153 370.5l-1.4.8M127 353.3h0M219.6 382.7l1.6.4M213.3 318.9h0M174.9 381.5l.6.5M183.9 337.9l1.5.9M207.8 338.5l-.9.4M165.4 363.8l-2.3.1M161.4 361.5l2.1.2M148.5 351.5h0M219.2 364.3l-.6 1.5M145.7 372.7l1.2 2M174.6 361.8l.7.3M163.3 303.6l-1.2.1M170.4 306.4l-.6.3M222 373.7l1.1.5M196.2 358.5l-.4 1.5M125.3 381.3l0 .8M131.2 367.8l-.2.4M221.4 375.2l-.5.1M121.7 326.8l-.1.5M139.6 330.5l.2.6M180.3 325.2l-1.7.3M208.7 310l-.2.2M148.4 350l.5.1M220.9 333.1l.5.6M172.3 337l-.3.5M166.4 338.1l.6 1.6M222.4 374.6l-1.7 1.8M177.8 366.2l-.2.5M126.3 367.9l1.7.7M210.2 336.4l-1.4.6M142.9 331.2l1.3 2.1M167.4 302l-1 .4M166.6 358.9l0 1M125.3 338.9l1.1 1.2M194.8 339.9l-1.3.4M170.5 326l0 .5M221.6 354l-.3.1M187 335.3l-.3.6M148 379.6l0 .3M182.9 325.5l2.3.5M191.9 375.7l1.8 1.6M197.5 302.7h0M203.1 362.3l-2 .8M138.1 373.9l-1 1.8M135.4 381.7h0M165.1 314.2l-1.2.9M132.4 322.2l1.1 1.2M145.5 358.3h0M189 350.8l1.2 1.6M140 314.3l-.7 1.3M204.6 377.4l2.3.9M131.2 377.9l.4 1.4M151.5 349.3l-.2.4M126.7 345.3l-.4.2M179.1 336.1l-1.1 1.4M123.6 347.2l-1.2.8"/>
<path stroke="#da90c6" stroke-width="3" d="M170.8 356.2l-2.5.1M166.3 325.7l-1.1.8M130.8 378.2l-0 2.1M189.5 356.5l.9 1.6M192.2 330.7l.2.9M194.5 380.2l.3.3M128.1 335l-1.2.1M198.5 372.3l-.1.5M148.7 354.1l.3.1M214.5 348.9l.2.1M200.7 364l-2.3 0M140.9 364.9l.6 1.8M134.4 383.3h0M140.7 358l-0 .5M151.6 333.2l-1.6 1.4M134.6 379.3l2 1M121.9 321.6l1.8.7M147 371.8l-.3 2.3M193.9 340.9l-1.3.6M145.6 374.2l.4.2M221.2 305.4h0M212.3 312.4l.7.4M123.5 318.4l-.4 1.4M139.8 380.9l1.1 1.4M129.7 333l1 .5M136.4 352.9l.7.4M177.6 308.7l-.3 2.4M192.9 378.2l-1.5 1.1M224.7 380.3l-.7 1.9M216.7 315.3l.2.4M189.3 345.1l1.4 1.1M149.1 322.7l-.6.2M164.5 346.9l-1.8 1.5M156.5 380.4l.3.2M169.1 304.3l.4 2.1M192.3 313.2l-1 .4M146.9 349.7l1.1.5M184.3 310.2h0M171.1 322.4l1.2 0M167.5 301.3h0M186.1 328.4l-.1.5M135.5 330.1l-1.4 1.9M122.5 378.8h0M138.8 358.6l1.1 1M196.9 330.3l1.8 1M132.8 332.7l-1 .5M222.9 361.8l-.3 2.3M201.9 372.5l-1.5.3M194.5 362.3l2 .5M173.4 301.5l1 1.1M162 329.6l-1.1 1.2M201.3 307.1l-0 .9M133.8 333.2l.3.3M211.4 357.2l-.7 0M193.6 312.6l-.7.1M167.2 372.2l-.8.5M214.6 307.2l.3 1.4M167.1 343.1l.4 2.2M171.8 356.7l.1 1.4M183.7 360.9l-.7 1.4M148.4 362.2l.2.1M195.8 331.7l-.2.7M153.7 327.5l-1.6 1.5M134.5 363.4l-2 .7M192.3 319.9l-.6 2.3M123.4 326.1l-1.3.6M202.8 360.4l-0 .6M152.2 332.2l-1.5.2M167.8 315.4l-.2 2.4M202.6 349.7l-.8.4M125.4 377.3l-.5.7M159.9 336.5l.4.4M196.1 379l-.9.6M159.4 342.3l-1.2.4M144.9 371.6l-.1.4M221.9 321.2l.7.7M209.3 314.6l1.1 1M178.3 359.4l.1.2M160.3 348.1l1.7 0M198.8 365.9l-1.3 1.5M142.8 318.6l.1.5M135 316.3l2.1 1M216.6 322.1l.3 2.5M185.4 305.5l-2.3.7M179.6 338l1.3 2M180.6 376.5l.6 1.7M171.2 356.8l-1.4 2.1M209.9 338l-.4 1.2M145.5 358l1.5 1M165.7 303.4h0M123.5 345.2l-1.1 1.3M219.2 373.2l-.1.2M148.5 351.4l-.4.1M153.1 377.6l-.6 1.5M193.8 338l.3.5M158 301.9l1.3.4M122.7 343h0M130.8 357.7h0M157.3 340.7l.9.2M223.2 342.2l.2.2M183.7 302.5l-1.6 1.5M221.5 303.9l.2 1M159.7 319.5l1.1.2M164 315.8l-2.3.6M181 300.5l-1.4.8M173.8 316.4l.8 1.4M151.9 367.4l.1.7M133.2 362.2h0M192.3 309.4l-.2 1.7M179.8 299.6l.8 1.9M153.9 362.2l-.5.6M167.3 320l.9 1.3"/>
<path stroke="#e09ece" stroke-width="3" d="M143.5 318.9l.2.4M150 358.4l2.4.5M154.8 373.4l-2.4.4M124.9 328.5l-.3 2.1M149.2 369.3l2 1M204.3 320.2l-0 .6M134.9 346.1l-.6.5M193.6 382.3l-1.8.5M131.9 364.4h0M137.6 306.8l1.8.3M202.3 373.3h0M198.7 364.3l-2.1.5M125.6 353.5l-.3 1.2M159.4 347.8l-.4 1.3M141 334.4l-1.2 1.8M164.9 342.1l-1.1 2.2M138.7 344l-1.1 1.3M200.7 320.6l-.3.4M195.2 352.5h0M219.4 326.9l-.5 1.1M180.5 360.2l1.4 1.1M153 344.1h0M154 343l.8.4M217.6 310.2l-1.4.1M126.6 317.4l-.7.8M125.5 329.2l1.3 1.9M186.6 369l.3.2M168.1 376.6l-.2 1.7M182 329.8l.1.5M138.6 334.7l-.7 1M129.1 336.1l.6 1.5M214.3 312.5l-.7.1M131.1 379.1l-.2.3M149.1 303.6h0M217.1 330.8l.6.3M145.7 321.9h0M149.8 349.2l.2.3M190.2 300.8l-.6 0M170.5 378.5l-1.6.9M145.4 364.6h0M187.5 309l.9.1M217.7 373.2l.4.3M204.6 383.8l-.5.7M188 341.9l.3.1M176.8 349.5l.7.7M147.2 372.1l-.5.5M153.6 363.7l.3.7M162.9 336.1l.7.1M218.6 304.9h0M154 364.5l.6.7M169.8 333.9l1.2 1.7M171.3 337.1l1.1.1M209.1 336.6l-.4.1M221.5 306.7l-.4 0M130.7 349.7l.5 1.6M192.5 372.5l-.8.1M210.7 335.5h0M198.7 374.7l.2 1.3M206.7 316.8l-.2.6M214 309.6l-.5.5M196.3 321.4l-1.4 1.6M143.3 357.7l.8 1.9M150.3 361.4l-2.2.8M189.4 307.7h0M197 320.2l-.5.1M178.3 334l0 .5M184.6 355.1l-.1 1.1M214.3 331.4l-1.3 2.1M162.1 369.3l-0 1.1M167.6 377.7l.3 1.2M215.5 362l.3 1M210.7 325.3l-.9 1.6M136.5 301.1l-1.5 1.3"/>
<path stroke="#f2c8e4" stroke-width="4" d="M159.3 340.1h0M121.9 339.3l.5.3M123.8 358.6l-.2 2.1M135.4 315.4l1.1.2M219.4 374.4l1.4.7M148.4 317.4l-2.2.6M154.6 357.2l-.5.2M148.4 319.6l.9 2M174.3 319.5l-.4 0M125.1 375.1l-.3.7M134.7 350.2h0M204.1 378.8l-2 1.1M184.2 382.7l1.7.1M218.7 303.3l.6 1.6M205.3 370.1l.2.2M206.6 310.5h0M181.8 329.7l-1 .5M137.6 377.5l.4 0M211.7 372.4l-1.5.3M199.5 353.8h0M203 339.6l.1.4M144.7 371.2l-1.5.3M175 324.3l-.5.4M192.8 302.8h0M180.8 362.2l-1.3 2M139.8 381.9l-1.4.8M178.8 365.2l-1.8.4M129.5 317.1l-.8.2M132.4 343.8l.9.9M137.4 362.8l.6 1.8M207.4 361.1h0M190.1 360.8l-.7.7M217 374.7l.9.1M204.3 321.7h0M200.1 303.5l.9.1M195.6 320.8l-1.7 1.4M173.8 367.5l.1 1.8M197.1 334.4h0M207.5 366l.6.5M150.4 322.4l-.3 1.9M176.2 316.5l.1.4M195.8 334.7l.3 1.1M133.1 340.7l-.4.4M125.4 350.8l.7 2.3M205.5 367.1l-1.5 1.4M195.6 363.8l-.1.3M131.4 363.2l-1.5.2M148 354h0M169.3 378.5l1.6.5M161.8 365.6l-2.4.4M144.6 327.1l.8.8M126.9 338.9l-.5 1.8M220.6 378.4h0M155.1 336.7l-.3 0M194.2 328.1l1.2 1.1M213.3 315.4l-.2.9M176.5 323.5l.8 1M208.4 319.3l2.3.8M130.6 362.8l1.2 1.7M167.4 371.3l1.2 1.8M161.9 363.2l-.3.5M221.1 333.8l-1 1.6M163.5 383l-.3.2M132 335.8l-1.2.6M126.4 364.1h0M193 321.2l-.5.4M134.9 331.6l.5.4M222.2 354.6l-.5 0M177.2 320.2l-1.7.4M195.9 364.5l-.7.2M190.9 336.6l-.5 1.8M145.8 310.9l.1.3M137.3 309.6l-.3 1.3M189.7 301.9l-1.8 1.4M136.8 328.1l.8.1M215.6 356.4l2 0M138.8 372.9l-.5.8M150.8 354.2l-.1.6M205.9 360.2l-.2.7M121.9 324.5l.6 0M181.7 365.4l-1.6.1M210.2 345.8l1 1.4M137.2 359.8l-1.5 1.3M215 316.2l1.2.7M126.1 377l-1.2.7M185.5 328.7l-.4.2M139.3 367.5l.5 1.3M177.4 319.6l-1.8.3M130.4 372.2l.8.3M222.2 320.6l.5 1.3M193.5 306l-.5.1M210.5 328.4l-1.4 1.6M220 355.3l-.8 1.1M123.5 367.8l-.3 1.4M153 365.2l.7 1.6M135.3 333h0M150.9 329.9h0M123.7 365.3l0 .6M193.6 321.5l-.6 1M154 373.5l-.5 2M172.1 327.1l-0 1.1M155.5 331.6l.6 1.9M147.7 356.9l.2.5M216.3 311l-1.9.9M201.7 360.9l.3.7M206 314.1l.8 1.5"/>
<path stroke="#eab2d8" stroke-width="3" d="M155.3 353.4l-.4 1.3M213.1 312.2h0M151.3 357.2l-.2.6M161.4 347.4h0M139.3 336.7l-1.9 1.4M217.1 374.6l-.6.4M149.2 382h0M171.8 377.6l0 .4M195.7 344.1l-.8 1.7M216.8 318.1h0M139.7 311.1l-.3.3M202.2 314.3l-.2 1.4M125.4 314.3l-1.2.9M142.8 316.2l-.5 1.3M206.7 351.2l-1.3 1.5M164.4 345.2l-1.4.8M131.2 338.1l2.3.6M122.1 326.3l.2.6M210.3 371.1l1.2 1.9M202.6 372.5l-.4.5M202.7 371.3l2.3.4M201.7 315.6l.9.5M182.7 358.6h0M201 379l1.8 1.3M169.2 353.2h0M139.7 381h0M128.4 331.1l-1.1 1.8M202.6 305.1l-0 .6M186.5 381.5l.1.3M180.3 365.1l.3 1.5M222.7 370.5l-.3.7M188.4 378.4l-1.1 1.4M159.2 367.1l.4.9M130.1 359.6l-.8.4M139.6 320l.9 1.4M208.2 365.8l1.4 2M187.9 381.9l.6.7M151.3 353l.5.4M198.7 305.5l.2.3M204 312.5l-2.3 0M213 309.6l-.6.4M147.8 365.1l-1.2.4M141.3 343.9l-1.5 1.5M192.3 321l.3 1.9M173.6 310.2l1.1.5M159 322.8l-1.7.5M203 348.7l.4.2M123.8 372.7l.6.3M158 299.7l-.5 2.1M199 346.4l1.3 0M202.7 318.6h0M169 373.1l1.4.6M152.6 344h0M158.2 353l1.4 1.9M216.5 319.6l.8.1M211.3 343.5l-1.3 1.6M153.8 352.7l-1.6 1M136.5 343.4l-2.3.9M222.5 330.7l.1 1.6M158.9 341.5l-1.5.5M167 321.1l-.8.3M179.7 312.9l-1.1 1.1M193.8 356.3l1.2 1M134.6 322.8l.1.2M123 309l.3.1M168.5 338.3l.1.5M215.2 310.9l.7.1M124.4 328.8l-1.9.1M204.4 378l-.2 1.2M178.8 309.8l-.1.5M211.4 360.8l1.3 1.4M215.2 370.4l.7 1M149.1 365.3l-.2.4M197.8 326l-1.3.2M184.5 358.5l-.5 2.3M187.1 358l-.2.5M166.7 343.9l1.6.4M164 375.6l1 1.7M126 322.9l1.4.7M172.7 324l.7.4M133.3 347.4l-1.3 1.6M160.8 332.1l.2.2M218.4 378.5l-1 .5M212.3 319.7l-2.2 0M145 330.9l.3 2.3M152.1 328l-1.1.7M166.1 304.9l.7.3M194.3 313l-.5 2.3M203.2 321.2l-1.4.8M215.2 304.7l.1 1M186.3 327.3l.4 1.1M152.3 351.2l1.7.9M217.9 371.3h0M150.7 367.9l.5 1M211.8 322.5l.7 1.7M195.8 305.4l-.1 1.4M157.1 382.5l-1.3 1.5M197.8 329.1l.6.2"/>
<path stroke="#e09ece" stroke-width="4" d="M163 317.2l.2 1.7M140 305.9h0M122 306.4l.1 2.3M187.1 371.9l-.9 1.1M150.1 355.9l-1 .1M165.6 338.2l1.4 1.1M222.8 376.9l0 2.1M190.1 376l-.2.2M196.3 377.3l-2.2.6M155.8 378.7h0M197 357.3l-.9 1.3M199.6 343.8h0M222.3 346.6l.3.7M203.7 306.1l1.6 1.3M213.7 313.4l-1.7 1.1M218.4 382.4l-.5.1M212.8 373.1l.2 1.5M147.2 337.7l.3.4M202.4 318.6l-.7 1.7M224.1 302.4l.4.2M177.6 312.5l-1.3 1.6M152.2 349.1l-2.2.3M196.4 350.9l-.5.7M133.4 352.4l1.4 1.9M164 317.8h0M181.7 341.9l1 0M178.1 359.9l.5 2.2M128.5 341.6h0M149.8 349l.1.3M212.5 351.4l-.5 2.1M223 373.2h0M160.3 383.4l-1.4.8M215.9 350.2l.5.2M154.4 331.9l.2.2M140.9 300.9l2.1.5M137.5 338.7l-1.1.4M184.9 328.8l-1.2.6M158.4 332.2l-.9.2M206 364.5h0M122.5 331.9l1 1.9M146.7 326.4l-.9 1.1M219 359.1l-.6 2M177.2 342.8l.4 1.4M122.4 308.4h0M190.6 357.8l-1.5 1.6M180.5 357.9l.7.7M217.3 344.7l1.4 1.2M157.3 334.4l1.4.7M153.9 346.2l1.5 1.5M138.3 343.6l-.8.4M156 340.4h0M202.8 320.5h0M149.5 371.8l2 .5M167.9 327.9l.9 0M165.6 327.4l-1.3 1.1M218.6 354.6h0M139.4 306.5l.5.2M185.4 308.7l.9 1.4M146.1 325.1l.7.7M188.3 371.8l1.4 2M129.5 369.4l.4.3M131.8 363.6l1.6.1M211.8 365.5l.2.5M207 357.5l-1.3 1M211.2 341.5l-2.2 1.2M153.1 366.9l1 .2M174.8 372.1l.9 1.4M195.7 370.5l-0 .4M197.8 311.9h0M223.7 319.4l-1.9.2M162.5 372.4l.5 1.3M186.4 368.3l.9.7M208.5 330.4l1.2.5M222.3 348l1.3.2M199.6 309.8l.5.4M218.4 341.7l1 .9M199.6 332.7l2 1M193.5 321l1 .4M215.1 311.2l.1.2M133.6 371l1.2.4M140.5 372.4l.3 1.4M222.6 330.4l-.5.7M155.4 300.7l-.5.1M144.1 331.7l.9.1M150.5 344.8h0M125.8 327.7l-1.3 1.3M162.8 310.3l1.1.9M217.3 332.6h0M211.4 377.4l-2 1.1M150 316.8l-.3.1M188.6 380.8h0M188.5 345.4h0M195.2 350.4l-.2 1.8M203.6 363.8l-.4.1M162.6 360.7l-.5.4M144.9 327.3l.8 1.8"/>
<path stroke="#f2c8e4" stroke-width="3" d="M212.3 332.6l.3 2.1M122.6 346.8l-.3 2.1M207.9 310.1l-0 .9M193.6 365.4l1.1.3M204.5 366.8l.7.4M215.1 326.9l-1.5.9M131.4 355.3h0M155.3 378.3l1.2 1.7M189.5 346.6l.5.2M197 319.6l.4 2.3M197.2 337.1l1 .6M141.2 343.7l-.3.5M165.1 372.4l-.5.6M126.8 344.8l-.9.5M215.4 304.7l-.1.7M155.2 365l-1.3.8M154 347.7l.8 1.8M131.8 335l1 .7M211.4 300.6l.9 1.8M182.3 334.4l1.1.3M217.2 351.9l-1.3.5M127.2 330.9l-.5.4M122.9 341l1.5 1.1M150.1 363.1l.9.6M205.4 316.2l.3 1.6M168.7 323.8l.2.5M122.2 323.8l.4.5M205.7 357.9l-2.2 0M171.3 379.5l-1 .7M204.3 347.5l-.9.3M133.2 303.1l1 2.2M177.7 384.2l-.3 0M210.9 352.2l.6 1.3M173.3 351.1l-1.3 1.1M123.9 318.8l.8 1.6M203.4 370.1l-.3 2.1M132.7 346.3l-.7.9M169.8 384.1l-.9.4M161.4 316.4l.9 0M152.4 360.1l.9 1.1M195 305l-.2 1.9M194.3 364.9l-1.9.6M215.7 362.3l-.7.6M141.3 360.2l-.5.4M203 381.8l-1.4.8M192.4 350.8h0M221.5 360l.2.6M198 371.3l1.7.4M144.8 332.5l2.3.2M173.8 362.6l-.5.1M136.7 351.9l-.2.3M138.9 365.8l1 .9M216.9 320.9l1.7.1M149.7 341.8l-.5.1M211.7 363.8h0M190.1 299.7l.2 2M171.4 318.8l-.1 1.1M219 312.1l1.3.9M162.8 330.6h0M167.4 364.4l-1.3 1M122.8 318.1h0M144 330.8l-0 .4M122 318l1.2.7M146.4 326.9l-.8.8M188.5 327.9h0M214.3 376.5l.8 1.3M179.4 374.9l-2.3.9M124.1 370.8l.9 2.2M177 318.9l-1.7.7M214.1 350.6l.8 1.2M140.6 337.2l2.4.6M200.8 337.1l2.4.1M204.8 355.6l-1.8.5M163.5 374.1l-.7.7M144.7 310.1h0M207.3 375.4l.5 1.5M197.3 379.1l.9.2M154.2 345.5l-2.2.4M123.2 323.8l2.1.5M132 324.1l-.3.2M217.2 369.1h0M158.3 362.2l-2.4.5M131.7 301.7h0M191.2 357l.7.8M151.3 364.1l2.1.8M218 309.3l.1.4M137.4 307.4l.3.2M171.4 342.7l-2.3.5M222.7 376.3l-.4.5M145.5 324l.4.5"/>
<path stroke="#eab2d8" stroke-width="4" d="M196.6 330.9l-.2.2M172 373.7l1.7.7M127 318.9l.3.1M159.6 337.7l.1.8M196.9 312.5l-.5.6M194.5 335.5l1.1.1M144.6 366.6l-1.5 1.5M182.6 379h0M170.9 311.3l.2.1M124.3 325.5l1.2 1.2M190.5 354.3l-1.6.5M192 330.6l-.5 1.9M193 324.1l.4.9M209.2 360.3l.3.4M147.4 356.3l-.1.6M138 319.7l-1.1.3M132.7 336.9l-0 .4M192.5 373l-1.7 1.6M153.6 335.1l1.7 1.4M152.1 323.2l.6.7M153.9 323.7l-.4 1.1M159.8 369.3l-.2 1M193.2 344.7l1.4.4M223 380.5l-1 1M200.3 343.6h0M172.3 346.4l.3 1.8M204.8 305.1l-1 1.1M164.9 362.6l.8.3M145.2 333.5l.3 2.4M218.2 359.3l1.8.3M199.6 381.1l-1.7.8M171.2 327.4l-.5.7M143.3 367.5l.2 1.1M194.1 337.6l-1 .7M198.2 307.5l.6 1.9M147.3 324l-.5 1.5M221.9 383.7l1.1 1.5M162.5 347.3l-1 .3M203.3 327.6l.9 2.3M173.3 365.8l-.9.3M132.2 302.2l.9.6M220.9 304.2l-.2 1.3M195.4 303.4l.3.8M150.2 331.9l-1.9.3M201 379l1.2 2.2M139.4 357.4l1.6 1.4M127.6 318.7l-.3 0M198.9 325.8l-1.3.6M163.2 356.5h0M163.1 306.1l0 .9M187.7 358.8l.3.4M136 365.3l.2.4M143.9 322.6l1.3 1.6M167.1 369.8l.6.5M149.6 335.7l1.6 1.4M136.3 330.5h0M220.5 346.8l.2 2M189.8 346l2.3.8M194.8 368.5l1.1.9M160.6 375.7l-.8 2.1M210.2 308.2h0M181.6 375.3l2.1 1.1M126.2 319.1l.1.6M179.7 376.6l-.9.7M144.9 305.1l1.3 1M176.1 372.2l.7.3M205.5 381.3l-.2.5M203.1 335h0M125.6 359.2h0M218 366.7l-1 1.9M158.5 321.8l1.8 1.7M190.2 342.1l-.7 1.3M166.8 374.3l.4.7M179.5 307.3l1.5.3M152.1 366.6l.3.1M135.2 382l-.2 2.3M142.2 378l2.2.8M155.1 376.3l1.8 1.2M126.9 377h0M209 338.5h0M172.3 316.9l-1.3 1.6"/>
<ellipse cx="183.5" cy="350" rx="5.5" ry="5.5" fill="#fcf8fb"/>
<ellipse cx="129" cy="306" rx="5" ry="4" fill="#f8f0f7"/>
<ellipse cx="154" cy="310" rx="8" ry="7.5" fill="#d29ccc"/>
<path stroke="#7a3a90" stroke-width="2.4" opacity=".35" d="M154.6 306.1l-.9.1M153.8 310.7l-0 1.4M152.9 310.9l.5.1M151.7 308l1.1.4M155.9 308.6l.2.4M153.8 310.4l.7 1.1M156 306.6l-.2.3M152.3 309.4l-.1.3M155.4 309.2l-.4.6M155.9 312.2l.2.5M155.1 306.6l.8.1M154.4 310.4l.8.3M152 312.7l-.5 0M157.1 311.6l-1 .1"/>
<ellipse cx="185" cy="318" rx="7" ry="7" fill="#e2c0de"/>
<path stroke="#9a5aa8" stroke-width="2.4" opacity=".35" d="M186.4 317.5l-.1.5M187.4 320.2l.9.4M186.1 319.9l-.5.5M185.4 318.3l.9.7M188.2 318l.4.7M182.5 319.9l-.7.9M187.6 318.6l.5.2M185.2 318.4l1.1.3M183.3 316.5l-0 .4M185.6 318.1l-.6 0M185.4 318.3l-.5.8M184.9 317.5l-.6 1M187 315l1 .4M185 318l.6.5"/>
<ellipse cx="216" cy="338" rx="6" ry="4.5" fill="#a868b4"/>
<path stroke="#6a2a8a" stroke-width="2.4" opacity=".35" d="M214.6 339.4l.7.4M218.2 337.6l.1 1.4M216 338l.1.5M216 337.4l-.5.1M214.6 337.6l-.1 1M216.4 338.5l-.8 1.2M217.4 335.8l1.1.9M213.8 336.5l.6.6M217 339.5l.5.9M217.7 337.6l-.5.6M216.4 338.1l.4.2M214.4 340l.1 1.1M215.8 338.6l.2 1.5M214.2 336.6l.8 1"/>
<ellipse cx="183.5" cy="350" rx="5.5" ry="5.5" fill="#fcf8fb"/>
<ellipse cx="129" cy="306" rx="5" ry="4" fill="#f8f0f7"/>
<path stroke="#6c2a8e" stroke-width="2.7" d="M124 302.6h0M129.2 301.4h0M176.6 302.1l-.8.8M190.5 300.9l-.8.1M196 302.5l-1.2.3M206 305.4l.4.9M170.1 307.1l-.1.5M207.7 306.9h0M163.6 311.2l.8 1.2M142.7 313.3l-0 .7M124.6 317.3l.4.4M202.3 315.6l-1.2 1.3M165.5 318.8l-.6.1M137.7 321.8l-0 .3M140.3 322.9h0M135.8 326.3h0M155.9 326.1l-1.1.3M217 329.1l-.5.5M123.9 331.9h0M201.9 331.8l-1 .6M196.9 334.4l-.5.3M223.5 334.1l-.8 1.2M157.9 336.1l.8 1.6M178.3 339.3l.5.7M174.9 344.4l.9.3M123.7 347.4l.6.2M150.7 345.7l.3.2M178.6 345.6l-.8 0M165.4 351.5l-.6.4M209.4 352.7h0M144.8 355.1l.9.8M182.7 355.8l.3 1M192.6 354.7l.4.3M218.9 354.5l-1.2.1M135.6 358.9l-.9.5M141.4 357.8l-.7.7M148.1 358.9l.9.3M125.2 361.2l1.7.3M145.2 362.2l1.1.2M172.6 366.9l-.6.9M160.6 370.9h0M152.6 373h0M184 372.5l-1 1M192.7 372.3l.3.1M196.8 377.1h0"/>
<path stroke="#8a3a9c" stroke-width="1.9" d="M126.5 301l-1.6.7M160 301.9l.6.9M227.6 303.3l-.3 1.7M215.6 307.4l-1.1.9M225.8 307.1l-.5 1.3M124.4 309.3l-.7 1.3M167.3 310.4l.8 0M198.7 310.1l-1 .1M200.7 311.5l1.5.3M213.4 311.7l-.4.2M163.3 312.8l.1.6M168.6 313.1l.4.8M163.9 315.7l.3.6M197.6 316.8l-.5.3M141.6 318.6l1.1 1.1M150.1 320.3l-.8.2M211 319.6h0M149.1 321.8l-.5 1.1M153.3 322.5l1.6.6M170.4 323.5l1.1.5M138.1 325.7l1 1.2M175.6 325.1l-1.7.3M201.7 325.7l-.9 1.2M124.2 328.2l1.6.7M165.1 328l-.3.2M134.2 335.3l.2.3M126.3 337.9l-.6 1.2M168.5 336.7h0M171.9 337h0M144.8 340.5l-.4.5M149.8 340.3l1.4.3M208.6 341.2l1.5.7M126.8 343.1l-.7.3M153.7 343.5l-.6.9M193.2 345.3l-.2.9M198 346.1l-.5 1M224 345.5l.4.2M128.3 348.1l1 1.3M171.6 349.6l.2.2M137.1 350.8l-.2 1.5M158.1 352.6h0M200.5 351l-.7 1M213.4 351.6l-1.1 1M135 354.6l1.2.8M156 355.7l.1.4M196.7 355.8h0M206.4 355.5h0M154.2 357.6l-.3 1.2M158.3 358.9l.7 1M161.8 357.3l-.8.9M121.8 361.1l.2.8M205.9 362l-.5.1M150.8 364.9h0M160.5 364l1.1 1.4M171.1 364.1h0M211 363.5l.7.5M132.2 367.1h0M143.9 366.1l-.2.8M148.6 367.7l.4.1M152.6 366.5l.8.6M213 367.5l-.4 0M226.3 371l.2.4M146.7 376.6l-.2.9M152.4 374.6l-.5 1.7M161.6 375.7l-.9.3M171.4 375.8l1.2.6M178.1 376.5l-.5.1M212.2 376.5l-1.3.1M214.1 376.6h0M223.8 375.3l-0 1.4"/>
<path stroke="#a852aa" stroke-width="2.7" d="M132.7 300.8l1.6.7M201.8 302.4l-.7.6M180.4 304.4h0M191 304l-.5.3M201 304.4l-.4.9M162.4 306.8l.3.5M136.6 312.9l-.1.7M146.9 313.9l-.6.4M212.4 313.3h0M146.6 317.3l1.1 1.1M149.9 317.1h0M160.4 317.7l.7.1M219.8 317.3l-.8.1M157.3 322.1l0 .9M201.1 322.4l.7 1.5M189.8 326.2l-1.2 1M215.2 325.7h0M136.9 328.7l.4.6M143 334.2l.7.8M206.9 333.8l.7.9M188.4 337.8l.2.4M226.5 337.2l-1 .3M166.6 344.1l.6.8M173.3 342.4l-1.2.6M189 343.3l-.2.4M172.1 346l-1.6.7M207.1 347.4h0M214.2 346.8l0 .6M216.7 346.3l1 1.1M169 349.6l.6.6M198 349.3l1.6.4M174.2 352.6h0M130.2 354.8l-.9.9M138.4 358.9h0M187.2 358l.5.8M129.1 360.1l-.5 1M220.1 360.8l-.8.7M128.3 365.1h0M219.9 363.8l-.9.4M206.1 367.2l.4.6M221.2 366.7l-.1.9M150.3 370.7l-.4.8M206.5 368.9l.8 1.1M210.1 373.2l-1 .4"/>
<path stroke="#8a3a9c" stroke-width="2.7" d="M146.5 301.4l.6 1.5M169.5 301.7l1 .8M218.5 302.2l.9 1.3M210 305.4l1.4.4M172.4 307.6l.2.1M181.8 307.1l-.8 1M188.3 306.3l-.8 1.4M177.6 310.2l-.1.3M191.2 310.3l-.3 1M209.5 313.6l.5 1.1M223.3 315.8l.8.2M123.7 319.7l.1.9M159 319.3l-.4 1.4M195.2 319.8l.2.3M199 319l1.4 0M205 319.3l-.2.3M217.8 319.3h0M223.1 319.8l-.4 1.2M131.5 321.6l-1.2.7M167.9 321.5l.2.7M218.5 322.1l-1.4.4M122.5 324.8h0M132.3 324l.1 1.5M195 325.9l-.5 0M218 325.2l-.3.4M134.4 329.6l.8 0M142 327.6l-1.1.4M209.4 327.9l.5 1.1M129.5 331.2h0M132.5 332.2l-.3.4M176.3 331.7h0M179.3 332.1l.7 0M208.3 330.8l-.8.9M157.9 335.4l-.8.3M185 334.7h0M150 337.8l-.1.3M153.1 338.4l.7 0M164 337.1l-.9.9M206.3 338.4l-1.1.4M209.2 336.1l.1 1.5M125.3 340.5l-.8 1.1M137.9 340.1l-.9 1M164.7 340.5l-1.4.6M171 340.6l-.2.1M222.8 340.9l-.2.4M150.4 342.9l.1 1.3M178.6 344.1l-.2 1M215.7 344.2l1 .3M149.1 346.9l-.5.2M200.8 346.2l-.6.1M205.1 346.5l-1.2.4M132.2 349.2l.2.3M135.4 350h0M133.8 352.3l-.1.7M170.6 351.5l-1 .7M219.8 352.4l.6.5M127.2 355h0M138.4 356l.1.6M158.4 353.7l.2 1.6M162.6 354.3l-1.2 1.1M222.2 355.3h0M124 358.3l-.2 1.2M150.9 357.6l.5 1.3M174 358.2h0M207.5 358l1.1 1.3M214.6 358.2l-.1.7M136.6 360.5l1.1.4M143.5 360.4h0M158.6 361.6l.3 1.4M183.6 360.5l-1.3 1.1M157.8 364l-.3.7M196.6 363.3l-.7 1.1M126.4 366.2l-0 1.2M136.5 368.2l-1.5.1M161.8 366.3l1.7.5M197.9 367h0M215.9 365.9l.1 1.7M217.7 367.9h0M167.6 369.7l.1.4M171.1 369.7l-.7 1M172.8 369.9l.4 1M124.3 376.3h0M155 375.5l-1.4.7"/>
<path stroke="#522080" stroke-width="2.3" d="M150.5 301.2l-.8 1.1M206.2 300.7l.4.5M195 313.5l-.1.2M128.6 321.7l.4.2M173.6 321.3l-1 1.5M122.6 349.3l1.1.7M163.3 361.5h0M165.9 361.1l-.6.6M175.4 360l-.5.8M166.6 363.9h0M194.9 373.8h0M157.1 377.1l1.4 0"/>
<path stroke="#6c2a8e" stroke-width="1.9" d="M153.1 301h0M156.1 301.2l-.8.3M171.6 302.6h0M192.4 301.4l.3.7M213 302.6h0M180.6 309.7l.6.8M206.7 311.6l-.5.5M122.8 312.8l-.1.8M166.3 314.2l-.8 1.4M190.9 313.2l1.5.8M208.2 316.9l-.7 1.5M132.9 318.9h0M168.9 319.6l-.4.5M173.4 318.4l-.8 1.4M194.2 323.2h0M205.6 321.7l.9 1.4M211.6 323.5h0M128.7 325.7l.8 1M146.1 326.5l1.5.1M167.9 325.8l.3.9M128.5 329l0 .3M158.3 329.3l.3.2M159.9 328.7l1.5.1M146 331.4l1.1.1M198.8 330.3l.2 1.1M127.4 333.3l1.1 1.2M162.2 333.8l-.4.4M167.9 335.4l-.4.1M182.3 334.7l-1.1 1.2M139.1 337.4l-.5.6M133.5 343.2l-.7 1.4M144.2 342.5l-1.1.5M206.3 343.9l.2.2M208.6 342.9l1.2.4M214.8 348.9l.6 1M131.4 355.6l1.1 1.3M131.4 358.6l-.7.2M180.8 357.7l-.2.9M210.7 358.7l.1 1.3M140.7 360.5l-1.1.1M198.3 360.7l.3.3M215.7 361l.8.2M140.4 364.7h0M148.9 364.6h0M158.6 367.2l-.2 1.5M193.1 368.3l-.4.1M182.8 370.4l1.7 0M139.1 373.8l-.3.5M158.9 373.7l.6.2M178.8 372.3l.8.5M128.3 375.3h0M140.1 376.5l.9.8M187.3 375.7l.6.3M189.8 376.5l-0 .5M220 377l.9.6M227.7 374.9l.7 1.1"/>
<path stroke="#a852aa" stroke-width="2.3" d="M165.6 301.4l.1.6M184.5 301.8l1 .2M134.1 311.4l-.5.4M138.2 310.3l-.2 1.7M176.4 313.9l-.5.3M224.8 313.7l.9 1.3M209.7 316.8l1.4.4M125.5 323.5h0M143.9 323.6h0M219.2 322.2l1 .5M222.6 322.8l-.3.3M199.8 324.8l.3.3M223.8 326.3l-1.4.2M226.8 328l0 .3M139.9 332.2l.8.6M156.4 332.2l-1.1.2M185 331.4l.1 1.2M193.9 331l-1.2.9M165.8 333.6l-.9.9M182.7 336.7l-0 .8M195.5 337.7l.2.6M216.9 344.3l1.4.6M168.9 347.5l-1.8.1M173.2 345.7l1.3.6M225.7 347.3l1.6.3M139 349h0M159.6 348l.1 1.5M220.4 348.6l-1.5.3M127.7 353.1h0M198.2 351.6l-1.6.4M122.3 354.1l-.2.7M149.5 356h0M193.4 359h0M227 357.5l.6 1.1M186.3 361.8l.3 1.3M222.1 360.7l-1.1.6M224.6 360.4l.5.1M194.6 363.6l-.5.7M213.8 364.7l-.1.3M209.5 365.9l.6 1M190.9 371l.9.3M219.3 369.8h0M218.2 375.2l-.1.4"/>
<path stroke="#a852aa" stroke-width="1.9" d="M179.4 301.4l-.4.1M222.3 302.5l.3.3M164.5 303.7l.8.6M196.6 304.9l1.3.5M216.1 305.6h0M222.9 305.8l-.4.2M166.2 307.8l1.1.6M222.7 307.4l-1.4.5M226 311.2l.7.3M222.8 314.2h0M212.7 316.2h0M145.7 320.1l.7.8M163.5 319.1l-.5.9M160.6 322.1l1 .8M204 322.1l1.5.4M225.6 325.5l.4.9M148.1 327.5l.6.6M187.3 328.4l-.9.1M220.2 328.3l1.5.5M149.8 332.1l-1.5.9M157.7 332l1.5.7M182.7 331.2l.1.7M137.3 335.2h0M186.2 333.8h0M191.8 337.9l.8.8M226.7 340.4l.7.4M124.6 343.9l-1.3.9M163.6 343.1l0 .3M156.8 346.9l1.1.8M161.1 346.4l.7.6M149.6 350.4l.6.3M202.1 350.5l-.2.2M205.7 348.9l1.4.7M212.7 348.9l-.5.2M161 352l-1.2.9M143.7 355.8l-.4 1M222 357.7l1.6.4M209 361.5l.8 1.3M182.9 363.6l1.7.4M208.1 364.8l-.8.7M155.4 366.3h0M186.4 367.1l-.8.7M188 370.1l.1.9M122.5 372.4h0M125.8 374.3l-1.2 0M156.4 373.8l.4.1M161.5 373.6l.1.6M219.5 373.4h0"/>
<path stroke="#8a3a9c" stroke-width="2.3" d="M182.5 301.7l.6.7M217 300.8l-.9 1.3M145.8 305.2l-1.1.5M178.2 304.2l.1.2M192.3 304.3l1.2.3M123.8 307.5l-.3.4M135.7 306.9l-.9 1M203.3 308h0M205.1 307.6l-.6 1.3M170.9 311.3h0M173.9 311.5l-0 .6M217.6 311.5l-1.3.4M221.5 311.8l-.7.3M139.6 314.3l1.1.7M127.4 317.4l-.8.4M144.7 317l-1.1 1.2M173.7 316.7l-.1.8M156.4 319.8h0M176.9 320.1h0M201 318.6l.1.7M209.6 319l.6.6M134.9 321.9l-1 1.1M150.1 323.3l.7.1M176.8 322.8l-.6.6M214 322.1l-.8 1M191.1 325.5l1.1.3M208.2 326.4l-.3.1M181.5 329.3l-0 .9M204.1 327.8l-0 1.1M205.8 328.1l1.4.7M212.9 328.1l.8.9M224 327.6l.1 1.4M142.2 330.8l0 .9M195.4 332l-.3.4M178.5 336.7h0M204 338.3l-1.4.4M128.8 341.3l-.5 0M131.5 341.5l.2.1M175.1 341.6l-1.2.1M184.3 339.6h0M187.2 339.7l.9.9M197.5 339.6l.4 1M139.8 342.5l1.1 1.2M141.3 346.1l.4.8M164.3 345.7l-.3.9M155.3 349.2l.4.7M166 349.9l.7.3M193.7 348.6l-.7.2M196.3 350.2l.2.3M210 348.9l-.8.8M218 359.3l-.6.1M192.2 360.4l-.6.3M202 361.9l-.6.2M211.9 361.8l-.4 1.1M143.4 364.4l0 1.5M225.4 363.9l1.5.9M196.2 367.5h0M139.6 368.8l.9 1.1M194.9 369.7h0M198 370.7l.1 1.2M224.4 371h0M143.3 373.1l.8.1M170.6 372.7l-1.4.5M214.6 372.1l0 1M225.3 373.4l-.2 1.6M175.1 376.8l0 .3M179.2 376.6l.9.7M206.1 376.1l-.1 1.6"/>
<path stroke="#c472bc" stroke-width="2.7" d="M199.6 301.3l-1.3.7M188.7 332.3l-.4.4M153.2 335.3l.9.4M130.5 351.6l-.7.3M153.2 354.8l-1 .2M202.3 366.5l.3 1"/>
<path stroke="#c472bc" stroke-width="2.3" d="M160 304.3l1.1.1M214.8 312.4l-.2 1M141.5 324.7l.3.3M162.6 326.5l-.4.2M225.6 354.4l-.5.2M188.9 362.1h0M191.4 364.7l-.9.4"/>
<path stroke="#6c2a8e" stroke-width="2.3" d="M174.9 304.7l.2.3M129.6 310.4l-1 1.4M129.4 312.6l-.3.9M177.8 313.4l.4.8M205.9 312.8l-.7 1.1M132.1 315.5l.1 1.1M141.1 315.6l-1.1 1M204 317.3l0 .5M192.8 320.3l1.3.1M174 328.5l-.3.5M177 329l0 .3M194.2 328l.6.3M199.9 328.1l-.5.9M172.4 331.1h0M221.8 330.3l.5 1.5M124.2 335.5h0M131.5 334.7l1.7.1M176.3 334.8l.6 1.1M203.5 335.4h0M122.5 336.9l1.6.7M176.2 338.5l.3.4M198.6 337.6l.4.2M135.1 339.5l.6.4M158.2 340.6l-1 .5M204.7 339.6l-.3.2M138 344.2l-1.5.8M155.6 343.2l-.1.3M134.9 346.8h0M209 346.4l.8.5M153.1 348.4l-.1.5M205.1 352.3l-.9.8M216.7 351.9l.3.1M165.6 354.5l0 .4M175.2 355.5l-.3 1.7M203.1 354.4l-.1 1.4M179.4 361.1l-.4.5M132.5 364.7l-.9 1.1M134.7 368.9l.1 1.5M146.8 370.4l.2 1.7M188.3 374.3h0M183.1 375.8l.4.4"/>
<path stroke="#522080" stroke-width="1.9" d="M199.7 313.8l.4 1.2M203.2 313.4l-.1 1.1M167.6 315.7l1.3 1M126.6 318.4l.2.8M152.6 326.1l.3.6M172.7 326.1l-1.3.6M225.4 331.7l-.1.3M200.4 334.9l.3.4M223.3 344.4l-.2.2M225.6 343.3l-1 1.4M138.6 345.1l-.5 1.3M152 361.3l-0 .3M177.9 364l-.5.4M175.4 367.7h0"/>
<path stroke="#522080" stroke-width="2.7" d="M130.2 318.7l-1.1.5M160.7 340.1l.1.3M128.4 342.7l.4.3M145.4 358.7l-.2.4M178.6 357.7h0M150.1 373l0 .8"/>
<path stroke="#c472bc" stroke-width="1.9" d="M166.1 325.6l0 .7M145.4 347.1l-1.5.1M169.2 356.1l.1.4M171.2 354.1l.7 1.5M223.6 363.8l-1.1 1.3"/>
</g>
<path stroke="#808088" stroke-width="1.1" d="M126 379.2h22.5"/>
</g>
<clipPath id="ch2"><path d="M228 302h100v81h-100z"/></clipPath>
<g clip-path="url(#ch2)"><g filter="url(#bl)" stroke-linecap="round">
<path fill="#f2d6ea" d="M227 301h102v83h-102z"/>
<ellipse cx="236" cy="314" rx="10" ry="14" fill="#e8b4d4"/>
<ellipse cx="288" cy="379" rx="12" ry="5" fill="#f0b6c8"/>
<ellipse cx="320" cy="310" rx="10" ry="9" fill="#e6bcdc"/>
<path stroke="#dca6d0" stroke-width="3.2" d="M244.1 360.1l-.2.5M230.8 344.7l.2.6M317.4 361.7l-.7 1M264.9 319.3l.8.5M248.3 349.4l-.9 1.1M283.5 337.5l1 .1M234.1 372.2l-.2.7M253.7 357.7l-2 .5M270.3 326.6l-1.5 1.2M240.9 337.5l.5 1.9M238.1 363l-1.5 1.1M275.3 330.1l-.3 1M303.1 367.7l.1 2.4M286.8 314.4l.1.9M267.6 368.7h0M256.9 327l-.2 1.6M251 361l1.1 2.2M328.1 314.4l-1.3.7M237.8 377.6l-.8.8M310.9 376.6l-1.4 1.3M288.9 355l1.6 1.8M286.8 372.8l1.5.9M249.9 335.3l.4 1.4M316.7 330.7l-.7.8M327 324.5l-0 .4M302.9 371.1l.1.6M290.9 354.5l-.9 1.2M228 364.2l-1.9.9M242.6 345.2l-0 .7M244.3 311.3h0M254.8 332.3l1 .7M313.2 382.8l-.3 1.2M247.2 305.9l.5 1.3M327.6 365.7h0M316.8 329.9l1.3 1.7M281.6 364.5l.6.2M316.4 323.3l-.7.4M319.9 341.9l1.5 1.1M300.5 380.7l-.6 1.5M275.6 365.4l.6 1.1M237.1 336.4l.6 1.2M294.3 371.8l1 1M303.1 334l-.2.2M322.3 377.4l.4 1.4M290.7 319.2l-0 .7M243.2 301.6l-1.7 1.8M259.5 373.1l.7 1.4M300.6 342.1l1.4.4M229.1 320.6l-.5.7M277.3 312.4l1 .3M309.6 372h0M271.8 362.8h0M280.4 343.3l.2 1M233.6 344.8l.7.3M288.4 337.3l.5.9M265 328l1 1M232.9 336.5l2.3.2M254.2 376.9l-.2 1M302.1 310.3l-1.3.1M239.3 342.4l-.4.9M249.3 329h0M317.2 300.7h0M313.6 375.2l.1.6M309.2 323.4l-.2 2M286.9 316.2l1.3.6M289.3 333.7l-.7.2M248.4 376.9l1.6.3M255.6 337.1l1.8.8M286.5 339.2l1.9 1.2M286.4 376.4l-.7 2.1M228.7 368.9l.9 1.2M285.2 331.1l-2.4.8M292.5 322.6l-1.1.3M311.3 367.7l1.2 0M251.6 317l.1.4M267.8 343.3l1.2 1.2M234.4 301.5h0M249.3 299.9l.6 2.2M289.3 304.6l-.3.2M293.7 346.5l-.8.6M301.9 315.7l1.9 0M255.7 309.1l-.5.6M227.8 366.4l-.2 1.7M243 356.7l-1 1.4M242.6 351.8l.6 1.9M270.9 329.4l.7.7M285.7 324.2l2.1.4M245.5 308.2l.7.8M263.2 330.9l-.3.1M317.5 327.9l-1.5.4M269.1 343.9h0M254.5 326.1l1.5 1.7M325.3 348.8h0M261.4 312.8l.4.2M310.1 302.3l.4.8M319.4 353.5l1.5.7M296.5 303l1.9.5M289.4 349.8l.9.7M316.1 305l-1.3 2M244.3 359.4l2 .6M253.6 337.7l-1.5.1M284.7 315.8l-2.2.4M316 339.4l-1.1 1.6M230.3 314h0M286.6 329.2l-1.7.8"/>
<path stroke="#c884bc" stroke-width="4.2" d="M290.1 332.1l-2 1.4M290.9 343.3l-1.1 1.8M256.9 362.6l.3.7M287.5 340.9l1.9.2M235.2 358.7l-1.1.2M282.8 330.8l-.4 1.2M280.4 313.8l-.4.1M319.9 377.9l-.2.8M261 311.4l.2.2M307.4 379.2l-.3.7M246.2 332.4l-1.2.4M291 373l.5 0M329.8 320.8l-1 1.7M297.9 354.5l1.7.5M306.1 344.4l.1.4M313.6 336.8l-.9 2.1M239.9 350.2l-2.1.9M250.6 304.2h0M301.6 336.8l1.2 1.7M327 308.2l-.1.5M270.9 328.7l-1.6.7M304.9 370.9h0M249.2 356.6l-0 1.2M326.2 305.7l-1.6 1M248.9 370.3l-.2.6M295.3 344.4l.8 0M328.6 350.6l-1 .8M292.7 360.7l1.5 1M315.4 335.7h0M236.9 320.1l.2.8M229.6 331.1h0M244.8 302.2l.5.4M230.2 382.6l-.3 1.4M295.9 316.7l1.4.9M315.3 348.2l1.3.5M310.1 379l-.1.5M300.6 343.8l.8.4M318.3 327.6l1.5 1M231.1 368.2l-.3 1.1M260.1 371.1l.6 2M293.2 356l1.4.1M278.4 337.3l-.2.2M255.7 302.6l.7.2M247.9 382.6l-.5.3M298 372.6l-.2.2M321.7 322.1l-.6.5M310.8 381.1l1.1.3M244.8 362.5l-1.6.3M321.6 323.6l1.7.1M231.2 364.7l-.5 2.3M319.1 323.5l-.1 1.4M301.8 349.4h0M226.9 379.8l0 .8M235.5 360.2l1.7.5M266.6 340.1h0M317.9 324.2l-.2.4M319.5 343.3l-1.4 1M318.3 336.7l1.4.8M317.3 339.7l-.8 1M272.2 308.9h0M287.4 376.8l.2 2.1M228.5 306.1l-1.3 1.4M317.6 300.1l.8 2M258.7 323.2l.1.3M259.7 332h0M312.9 367.1l1.6 1.2M255.2 319.4l-.3 1M326.1 314.3l1.4.5M253.2 331.8l-1.1.9M256.8 308.1l.8.6M257 312.2l0 2.4M295.7 331.8l.6.2M299.7 361.9l1.6.9M312.8 345.4h0M280.2 318.9l1 .9M277.4 327l-.8 1.3M297.8 338.8l-.9 1M256.5 382.2l1.1 1.4M232.1 342.1l.1 1.1M243.6 339.4l.9 1.4M297.4 341.7l0 1.2M321.2 345.6l.2 2M281.2 323.4l-.8 1.4M305.7 304.3l2 .6M314.4 323.8l.7 1.2M297.6 349.6h0M235.9 354.9l1.7.3M306.5 323.3l-.5.9M324.5 373.4l1.4.1M238.8 318.8h0M313.8 303.5l-.7.5M230.3 313.7l-1.3.5M318.9 371.5l1 1.5M282.2 321.8h0M313.3 347.9l.3 1.1M304.3 365.8l-1.6 1.2M254.7 304.4l.1 1.2M280.3 330.9h0M303.1 359.6l1.3.1M235.5 357.2h0M326.6 342.9l.3.9M235.9 344l-.1 1M289 304.8l-1.2 1.2M320.8 341.9l0 1.3M236.4 382.2l.9.8M306.2 371.8l-.6.5"/>
<path stroke="#d094c6" stroke-width="4.2" d="M290.2 348l-.3.2M292.3 356l-1.9 1.6M267.3 379l.4.5M241.8 340.1l-1.1 1.4M292.1 319.3l1.2.6M313 323.2l-.6.7M324.8 302.6l.9 1.1M288.2 340h0M314.3 332.6l-.8 1.4M260.1 367.9l-.8.3M318.3 322.8h0M236.1 354.6h0M329 370.4l-2.1.4M284.1 373.7l-1.6.9M297.5 373l.4.2M328 331.4l1 1.1M303.3 365l.1.6M318.4 351.9l-.5 1.4M301.3 348.2l-0 1.4M260.2 339.1l-.3 0M307.3 377.7l-.7.5M226.7 325.4l-.1.3M255.1 374.5l.5.7M240.5 302.7l.4.1M230.8 340.6l-.4.2M261.6 379.3l.3 1.2M300.8 356.3l.3 1M265.9 306.3l-.4.7M323.1 302.7l-.4 1.3M273.8 373.7l.5.6M306.8 332.9l.5.6M288.7 306.5l2.2.7M305.6 381.8l-.5 1.2M238.8 369.4l-.5.7M319.6 382.6l-.5.3M237.1 363.4l-0 1M287.5 367.9l.6.7M227.7 379.3l.7.8M295.4 337.7l.3 1.5M304.9 358.6h0M233.2 370.5l0 1.8M242.1 358.4l-1.3.1M318.3 360.3h0M247.6 359.7l1.2.9M229.4 356.1h0M320.8 353.7l-.2.6M258.3 330.1l-0 .7M252.3 301.7l1 .1M292 340.8l1.2 1.6M302.1 302.1h0M243.4 304.9l-1.7 1.7M252.3 307.3l-.7.6M263.7 312.3l.6 1.2M270.3 334l1.4.6M286.5 370.9l2.2.6M232.4 359.8l.3.3M310.7 373.7h0M318.6 330.2l.1 1.3M257.6 346.6l2 1.4M235 316.6l-.5 1M303.5 310l0 1.6M268.9 377.5l-2.1 0M232 359.7l.3.3M286.4 344.9l-.5.1M266.7 344.6l-1.1.1M280.4 357.1l0 1.3M320.7 344.2l1.3 1M293.8 328.9l-1.6.6M313.5 367.9l-.4 0M287.1 348.8l-1.7.5M299.5 335.3l.8.5M308.7 345.5l.9.6M244 348.9l.9.7M305 367.3h0M227.5 366.2l-1.8.2M301.5 363.7l.7.2M262.7 306.4l-.4.1M256.9 332.8l-.4 0M309.5 315.1l-.1 2.3M242.7 348l1 .3M295 366.4l1.3.5M319.1 374.3l.6.1M324.7 310l.2.2M306.1 348.5l1.7.3M321.8 362.9l-.2.5M228.5 350.4l-1.4.1M268.4 351l.7.2M258.4 380.2l-.5 1M241.5 349.3l.2 1.4M314.3 347.5l-1.3 1.8M287.4 329.3l-1.1 1.5M263.5 314.8l.1 2.1M284.8 378.2l.8.3M328.3 331l1.2.3M315 332.7l2 .3M312 340.8l-.5.5M302.2 375.4l2.1.1M262.5 303.5h0M270.1 365.2l-.4.2M283.9 316.5l-.3.2M261.3 322.2l-.1 1.9M304.2 366l.8.3M304.1 338.4l-1.4 1.8M250.8 315.7l2.3.2M320.1 350.1l-1.2.7M305.9 307.8l.2.3M255.4 300.9l1.1.1M263.8 325.1l1.6.1M273.9 372l1.1 2.2M295.9 303.7h0M302.1 359.7l-.4.5M258.5 351.4l1.1 1.4"/>
<path stroke="#e6b6da" stroke-width="3.2" d="M240.5 367.9l-1.6 1.2M310.5 369.9l-1.8.7M298.8 380.8l.6.6M262.7 311.5l-2.1.7M322.4 340.4l-1.4 1.6M325.7 346l-.7 1.9M233.1 357.8l-2 .8M234.9 339.5l.3 1.1M326.9 333.1l-.7.4M279.8 314.7l-.4 1.2M302.9 320h0M254 310.7l1 .1M310.9 371.1l0 .6M287.7 318.3l1.1 1.2M266.5 301.1l-.2.2M233.9 364.4h0M271.1 370.6l-.5 1.5M232.2 357.5l-.7 1.5M316.7 328.9l.3.4M243.1 382.7l-.8 1.8M323 346.1h0M322.6 359h0M277.1 329.3l-1 .4M300.7 300.8l.5 1.9M315 381.8l-.8 0M263.5 302.3l-.4.2M279.4 305.5l-.2 1.3M262.1 300.4l.9 2M270.6 383.2h0M325.7 375.5l-.8.7M306 336.3l.7.2M291.7 364.1l.9 1M328.2 313.2l-2 .1M297.1 319.2l-.5.7M253.1 367.3l1.7 1.4M254.4 318.6l.4 0M227.1 340.2l.5.1M316.1 330.2l.4 1.1M308.9 362.9h0M320.4 378.3l-.7.3M288.2 307.1l-2 .2M231.5 365.9l-1.2.8M281.8 310.3l1.5 1.3M308.5 333.8l1.3.5M325.7 380.7l.3.3M279.7 315.1l-.1.5M289.1 326.1l.2 2.2M316.5 365.8l1.2 2.1M285.8 360.6l-1.8 1.3M280.1 375.5l.3 1.3M287.1 354.7l-2 1.5M309.9 337.5l-.3.3M244.2 300.8l.6.1M324.5 362.2l-2.1.9M231.2 313.3l-2 1.2M325.6 334.6h0M275 362.2l-2.4.1M259.7 317.6l.1 1.4M273.2 300.5l.6.3M328.7 318.8l.9 1.1M231.7 326.2l-.2.3M300 319.6l-1.9 1.6M264.9 302.5l.4.4M269.9 330.7l-1.3 1.1M276.3 308.7l-1.3.6M315.6 371.8l-.8.5M263 341.5h0M241.2 366.1l-1.5.2M258.1 374.5l.6.1M287.5 370.5l-.4.7M291.1 357.8l-1.4.2M237.5 377.7l-2 .2M283.7 307.6l-.2.5M288.7 305.6l-.3.1M308.7 302.8l-.1 1.4M238.8 375.9l.5.9M260.1 380.8l.4 1.3M229.6 321.7l-.3 1M265.8 382l-1.2 0M255.6 341.4l1.9 1.4M294 302l-1.8 1.2M291.3 352.4l.4.7M309 351.3l1.3.5M311.8 338.7l-1.2.5M308.3 323.1l1 1.7M321.1 340.9l.7.2M323 374.2l.8.5M284.3 341.3l1.3.5M301 303.9l-.7 1.7M313.9 347.7l-1.2 1.7M294.7 303.8l-.8.2M281 372.8l-.4 0M258.1 303.1l-.5.5"/>
<path stroke="#c884bc" stroke-width="3.2" d="M297.4 351.3l.3.7M274.9 380.1h0M299.6 377.7l-1.6.3M292.2 340.4h0M320.7 338.5h0M324.6 305.2l.1 1.8M293.2 317.8h0M265.7 367.8l-.2 2M296.7 377.3h0M263 367.8l-2.3.9M328.2 375.6l1.2 1.1M317.8 378.2l1.4.3M321.9 358.2l-1.4 1.3M235.2 349.8l1.9 0M228.1 362l1.6.7M258.8 378.8l2 1.4M319 361.6l.5.3M243.3 310.9h0M289.6 367.7l.7.4M290.5 362.3l-.7 1.8M278.8 339.4l.9 1.3M235.1 303.7l-1.2.1M230.6 337.7l0 .5M321 304.8l1.1 1.6M259.1 341.9l-.8.9M244 358.8l1.2 2.2M285.6 316l1.1 1.5M236.5 381.9h0M315.2 367.1l-.2 1.5M326.2 315.4l-.2.5M295.3 343.2h0M261 334.1h0M249.5 329.7l-1.4.6M299.7 339.8l1.2 1.4M228.9 368l-.1.8M329.1 358.9l-.5.5M237.8 340.7l.5 1.3M313.9 339l-.7.8M290 378.8l.4.2M242.6 378.2l-.2 1.2M316 321.4l-.6 0M253.9 312.3l-.9 0M322.1 309l1.2.4M232.6 320.9l.6 1.4M295.8 362.2l.6 2M283.2 363.7h0M324.7 337l-1.2 1.9M302 339h0M275.3 373.2h0M306.6 382.8l1.4.2M244.5 344.6l-1.3.9M271.5 332.7h0M226.5 316l.3 1.2M289.9 340.6l-1.3 2M246.6 337.2l-.1.3M265.6 336.9l-.7 2.2M289.9 371l.6 1M294.5 332.7l.3.2M309.9 319.4l-1.3 1.2M258.5 380.5l1.6 1.4M290.6 354.4l-.4.1M233.6 331.7l.1 2.2M291.9 345.7l-.5.4M253.1 357.8h0M268.6 339.9l-.9.5M328.1 302.4l.9 1.7M304.3 336.1l1.2 2.1M279 334.6l1.1 1.6M233.5 332.4l1 1.7M268.3 329.6l-.9.4M248.7 349.6l.5 1.3M282.3 312.8l-.3.2M320.1 341.9h0M246.4 356.4l1.2.1M294.8 311.9l-.9 1.3M299.5 318.1l-.6 1.4M298.9 372.9l.7.9M307.7 365.8l-1.7.7M301.2 358.4l1.3 2.1M248.4 364.5h0M285.1 383.4l1 0M241 305.7l-.4 1.1M322.4 321.6l-.6 2M258.1 323.6l.5.9M293.1 369l-.9 1.5"/>
<path stroke="#d094c6" stroke-width="3.2" d="M242.2 352.5l-1.4.3M273.3 352.6l-1.4.9M323 318.1l.6.5M266.7 312.5l-.2 1.3M251.6 316.3h0M304.3 363.5l.5.8M242.9 305.3l-1.5 1.7M326.8 319.9l-1.8 1.5M311.4 383l1.8 1.3M326.4 319.6l.6.5M255.7 307.6h0M303 378.7l-.9 0M318.2 320.5l1.2.7M304.1 335.1l1.8 1M327.3 379.6h0M274.3 337l-.3 2.4M268.1 366.9l2.4.4M245.1 379.5h0M301.6 306.7l-.9 1.1M238.7 381.4l-0 .9M247.1 348.2l.4 0M268.4 336.6l.4.3M292 343.3h0M288.6 341.1l.1 1M290.9 383.6l-.2.6M228.2 310.9l.9.7M278 332.3l-1.4 1.4M284.4 347.7l.5 1.6M295.5 373.8h0M271.4 311.7l-.5.7M281.7 383.8l-1.5.1M290.4 315l-1.5 2M229.1 356.8l-1.4 1.8M302.7 359.6l-.2.6M250.8 373.1l-.2.8M283.8 367.5l1.3.1M318.7 380.4l1.6 1.4M297 335.2l-1.1 1.7M329.3 308.4l-.4 1M227.8 334.5h0M265 307.3l1.5.4M278.3 357.6l-.9 2.3M277.9 328.6l.8 1.3M273.9 328.3l1 .5M275 365.5l-.9 1.9M239.8 382.3l-.5.9M297.7 303.3l-.1.3M302.1 367.7l1 1.4M304.8 305l1.1 1M252.2 351.4l1.8.9M266.6 378.1l2.3.5M317.8 325.6l-0 .6M288.1 382.3l.5.2M313.6 330l-1.5 1.8M267.3 378.5l1.5.4M276.6 372.4l.4.6M279.8 333.3l0 .6M304.7 348.2l1 1M263.3 364.3l-.6 1.7M322.2 310.5l1.2.1M274.1 364.8l.6 0M301.1 345.6l-2 1.1M233.1 376l-.6.6M300.7 361.1l.2.1M256.7 333l-1.2.5M237 358.9l.4.9M275.1 304.6l-.6 1.2M229 340.9l.5 1.6M259.1 336.1h0M300.2 314.3l.2.1M284.6 328.4l-.8 1.9M317.4 372.9l-.9.2M276.4 369.4l.4.3M234.3 318.7l.7 1.3M327.8 319.6l1.8.7M319.1 361.8l2.4.2M293 344.6l-2.2.9M264.8 336.4l.4 2.2M271.3 327.4l-.3 1.5M268.8 315.4l-0 .7M320 340.4l0 1.8M263.4 322.5l1.8 1.5M309 309.6l-1.1.6M328.8 328l-.4.2M254.6 347.9l.2.4M243.6 371.8l-.6.5M279.4 360.7h0M257.8 357.1l-.2.7M314.5 384.3h0M297.3 311.5l.6 1.4M238.9 319.3l1.6 1.8M257.5 361.4h0M262.6 309.4l-.7.8M283.8 327.6l.7.7M284.2 333.4l-.8 1.1M326 340l-.6.7M327.2 357.7l.4.3M243.4 382.1l1.5 1.5M300 338.6l-.9.6M290.1 340l-.3 1.5M301.8 311l1 1.4M324.9 360.8l.7 2.2M273.3 328.2l-1 .4M300.5 319.5l-1.1.9M246.4 365.8l1.3.3M254.9 320.4l.4 1.4M248.5 353.1l-.8 1.6M301.2 326.8l.8 1.1M288.2 319.8l-.9.7M279.3 373.7l-.4 1.4M272.2 368.5l.1 2.1M302.5 350.4l1.2 2M286.2 305.1l.8.9M298.4 348.6l-.2.3M252.8 328.7l-.6 0M300.2 359.1l0 1.1"/>
<path stroke="#e8a0c0" stroke-width="3.2" d="M251.3 307.9l1.3.7M311.9 353.1l-.9 2.1M316.9 380.6l.4.3M298.1 338.7l1.4.3M277.2 355.7l-.2.4M238.4 362.7l1.7 1.7M322.4 375.5l1.4 1.9M249.5 349.4l1.7.3M304.5 320.6l.5 1M241.5 379.2l.1 1.1M314.4 362.4l-.8.8M237.8 348.5l-.8 0M293.1 380.7l-1.1.5M235 380.4l.2.4M243.9 346.7h0M280.3 319.5l-1.4.2M269.3 378.4l.1.5M241.5 357.9h0M252.4 307.9l-.6.3M316.1 352.7l-1.5.6M239.4 332.7l1.4.1M303.2 323.6h0M290.1 358l-.6 2.2M260.9 372.4l-.4 2.2M284.5 369.5l-.4.1M232.1 382l.4 0M237.8 361.7l-2 1.1M253.7 327.3h0M262.7 341.3l.1.8M228.3 309.1l.7.6M256.6 309l-.6 1.8M287.1 345.4l-.2 1M228.8 309.5l1.4.1M327.4 340.5l.8 2.1M265.1 349.1h0M238.8 350.7l-.6.2M262.3 373.8h0M255.2 314.2l-1.3.3M264.3 318.2l-1 .2M241.9 305.2l.7.6M258.7 305.5l1.6 1.1M265 333.2l2 1.4M296.7 344.8l2 .8M259.4 322.2l-.2.6M317.9 360.8l.4.8M227 314.1l-.7 1.1M299.5 376.5l-.7.3M313.2 329.2l.3.3M263.2 330.9l-1.4.5M327.8 300.4l-.5.7M243.1 349.2l-.2 1.9M263.1 370.3l.5 2M259.4 369.6l-.9.5M283.4 337.9l.5.3M289.8 325.5h0M235 374.4l-1.7.1M283.3 347l.1.2M324.1 314.4l-.5 1M285.4 364.1l.1 1.5M288.8 359.1l-1.2.5M312.4 320.6l-.4.4M258.7 307l1.3.8M264.2 318h0M245.6 327.8l-.1.7M327.6 345.6l.8.5M280.4 355.9l-1.9.9M318.8 360.4l-1 1.2M291.1 381.3l-1.5.6M272.7 377.4l-.1 1.7M294.1 306.9l-2.1.2M312.5 360.5l-1.8 1.3M303.5 343.7h0M319.9 350.6l-.3.4M280.7 339.6h0M297.4 332.9l-2.1.5M292 328.9l.2 1.3M291.1 345.9l.6.1M267.2 366.8l-.2.3M289.8 341.9l.3.3M229.8 331.5l-1.8 1.3M228.1 368.1l1.6.7M249.2 357.9l-0 .7"/>
<path stroke="#dca6d0" stroke-width="4.2" d="M291.8 336.4l-.6.9M288.7 377l-.7.6M317.7 331.8l-.6 2.1M250.7 306.4l-1 1.8M301.5 334.9l.1.9M308.3 333.1l-.9.2M227.3 323.2l-0 1M297.9 307.7l-.1.5M271.9 337.9l-.1.6M296.4 369.4l.3.2M312.2 342.4l-1.4 2M256.4 354.9h0M265.2 332.9l-2.3.4M283.6 315.6l.7.1M275.7 375.1l-0 .7M302.9 326.6l.9 2.2M283.2 363.2l-.2 1.5M308.7 347.7h0M229.2 383.1l.1 1.4M317.1 368.5h0M310.9 305.2l.5 1.5M285.2 383.8l.5 1.1M306.5 300.7l.1 1.5M262.7 368.3l1.6.3M265.1 308.9l-0 1.8M300.7 314.9l-.7.6M280.2 334.8l.6.7M304.1 369.3l1.1 1.1M284.7 372.6l.4.5M307.6 381.6l.6.5M239 347l.8.8M294.5 325.7l-1 1.3M308 353.5l1 .4M236.2 382.2l-.3.4M308.7 369l-.9 1M280.7 329.3l.8.3M246.3 373.2l-1.1.3M299.5 351.8l2.2.7M240.9 354.4l1.1.2M256.2 346l-.3 1.9M252.2 304.4l1 1M295.3 355.9l1.2 1.7M293 308.7h0M294 337.5l.3 1.2M325.4 376.3l.1 1.2M261.1 383.3h0M270.3 350.6l.4 1.2M277 326.1l-.9.2M252.1 329h0M234.6 327.6l.2 1.2M263.3 329.7l0 1M262.8 318.6l-.9.4M246.1 303.3l.5 1.9M296.2 322.7l0 2.5M317.2 372.1l-.7 2.3M273.3 370.8h0M227.8 381.5l-1.1 2.1M277.7 302.5l.8 2.2M233.5 330.7l-1.7.3M306.4 363.2l.4.3M288.9 320.8l1.9 1M262.2 370.8l1.3 1.6M286.6 330.8l-1 2.2M262.1 333.6h0M265.9 326l.3 1.3M250.7 329.4h0M304.9 382.1l.9.9M229.7 372.4l-1 .7M290.7 330.1l.4 1M240 347.2l-1.4.6M327.6 333.5l.2 1.1M320.3 380.7l-.5.6M310 326l-.2.6M288.8 310.8l-2.1.9M296.8 300.6l2.1 0M242.3 383h0M294.2 362l1.6 1.3M327.9 341.1l-1.3.9M281.9 338.3l-.3.2M311 361.9l.6.1M293 322.9l-.1.7M258.9 336.8l.8.1M303.3 306.3l.3.4M286.7 342.4l-2.1.4M235.5 365.9l.4.5M228.1 382.8l-1 .4M293.2 317.2l-1.6.8M267.6 337.4l.6 2.3M256.5 307.2l1.1 0M301.6 325.6l1.9.9M302.8 305.2l-.6 1.8M313.9 346.5l-.4.5M314.5 320.2l1.7.1M303.6 367.1h0M261.1 323h0M248.8 349.9l-.4.6M309.3 349l-1.4.6M286.5 342.4l0 .5M278.9 315.6h0M319.3 370.7h0M297.4 361.2l1.8.5M251.4 360.9l-2.1.7M311.9 302.1l1.8.1M286.2 311.1l2.1.7M271.3 364.9l-.9 1.6M253.7 333l.6.1M257.1 300.8l-1.5 1.5M228.8 324.9l-.9.5M245.7 315.6h0"/>
<path stroke="#e6b6da" stroke-width="4.2" d="M294.8 374.7l1.2.8M312.4 381.7l.7.1M322.1 339.2l-1.9 1.5M252.3 311.5l-.5 1.2M255.4 347.1h0M317 358.8l-.1 1.2M262.1 340.9l-1.3 1.1M231.8 339.8l1 .6M311.3 357.4l-.9 1.9M300.7 321.1h0M292.1 361l-.4.6M228.6 342.1l-1.3 1.1M320.4 371.1l-1.2.6M260.5 374.2l-.9.4M298.8 332.8l-1.3.8M285.8 374l-.7 2.3M306.9 325.4l1 .1M252.3 315.2l-.1 1.4M249 348.4l-1.3 1.3M230.5 306.3l.7.7M299.8 378l.1 2.4M303.3 333.8l-2.1.7M298.9 343.2l.9 2.3M234.6 355.8l1.1 0M267 384.3l.8.4M272.5 365.2l.2.9M260.3 348.3l1.6.5M292.9 329.4l-2.4.2M286.5 371.4l-.2 1.4M266.8 341l1.5.8M288.7 371.7l-1.7.5M264 340.7l-1.3 2.1M229.2 367.7l-.9.6M276.7 304.1l-1.5 1.2M288.6 335.8l.9 1.4M311.7 353.6l-.4 2.2M290 309.9l-1 1.6M272.1 310.6l-1.2 1.3M265.8 300.8l.1.8M299.9 302.9l.3.3M233.7 382l-1.4.5M299.5 334l1.1 1.1M279 327.4l-.3.2M292.6 334.6l-1.3 1.2M284.6 310l.8 1M279.4 371.7l.4.2M232.6 376.7l-1.1.2M263.1 330.4l0 1.1M277.2 327.7l-.6.4M285.2 328.2l2.2.3M256.2 316.4l.1 2M319.5 362.8l.1 2M318.6 375.6l1.1.3M264.2 339.5l-.3 2.3M317.8 320.6l.7.3M278.2 370.3l1.2 2M284.6 347.6l1.3.5M309.5 299.8l.6 1.4M317 318.8l-.2 1.1M245 383.7l-.5.2M257.2 361l.3.3M271.3 378.1l1 .3M252.5 351h0M257.1 380.8l1.4.1M328.2 382.8h0M294.9 363.8l.3.5M245 360.9l-.6 2.3M303.7 364.8l1.8 1.2M287.5 345.7l-1.6 1M255.9 341.5l1.1.1M297.7 300.9l.4 1M292.4 316.5l-.3 0M235.8 302.6l-2 1.1M288.1 383.5l-.9 0M233.9 330.4l.6.1M260.7 379.5l.4 2M239.2 320.1l2.1.6M319.6 368.2l.7.5M294.5 305.1l.9 1M261.9 372.6h0M273.3 370l-0 .5M292.3 301.7h0M268.4 304.4l0 1.7M232.8 378.2l.1 1.2M313.8 323.2l1.1.8M249.2 330.9l-.4.5M236.6 380.3l.4.2M275.1 370l-.7.3M301.2 331.3l-.6.7M302.5 342l-.9.8M268.7 323.6l-.3.2M305.6 341.4l1.8.8M233.2 342.4l-1.6.7M234.5 349.6l.3.6M313.3 326.1l1 .3M251.5 382l.9 1M273.1 334.8l.5.1M258.7 329.9l-.2.2M276.5 379.4l1.6.4M282.9 368.3l.7 1.4M308.5 340.8l-2.1 1M272.9 306.1l-.1 1.7M301 379.4l-.7.5M277.8 372.7l1.2 1.1M314.9 344.1l-0 .5"/>
<path stroke="#e8a0c0" stroke-width="4.2" d="M249.2 335.2h0M249.5 374.2l1 1M287.1 313.5l1.4 1M285.7 371.9l-2 .6M237.4 377.6l-.9 2.3M293.8 311.9l1.1.2M243.1 336.3l2.2.8M302.5 355.1l.4.4M273 335.6l.2.3M327.6 323.6l2.4.6M279 342.3h0M310.3 316.9l-.2.1M311.5 322.9l.8.7M317.6 342.3l-1.8 1.6M228 351.3h0M290.1 319.2l-2.5.3M283.1 342.6l2.5.1M274.7 322.6l.4.2M306 378.6l-1.5.1M286.2 346.1l.1 2M276.8 302.4l1.5.4M306.4 308.4l1.3 1.6M287.8 372.6l1.3 1.2M288 302.2l-1 1.7M251.2 359.6l1.1.7M313.7 341.5l-1.7 1.7M304.2 379.9l-1.4.3M308.4 316.1l.9 2.2M306.5 337.6l1.1.3M295 329.2h0M308.9 332.3l-.1.9M243.2 355.3l-.9.1M287.8 377.9l-1.3 1M326.5 313.3l-.2 1.2M298.9 316.8h0M297.2 381.7h0M237.2 357l-.2.5M316.4 379l.6 1.8M285.9 362l-.8.7M303.8 359.9l-1 .9M275.8 366.8l.9 1.7M246.1 302.8l-1.7.9M262.4 303.3l-.3 1.6M301 363l-0 1.1M306.9 349.8l-.1 2.1M250.4 335.7l.4.4M302.9 320l-.3.5M278.5 382.9l1.2.9M247.5 376.4l-1.2.5M268.1 322.4l1.2.2M305.4 353.2l.9.6M309.9 350.1l.3 1.6M317.3 374.8l-.4 2M286.7 351.2h0M294.4 309.9l.5.8M231.6 382l-.4 1.5M319 318.3l1.6.6M283 343.5l-.4.1M315.6 355.4l-.2.4M255.8 301.4l1.1.3M257.8 352.9l-1.1.1M306.5 315.3h0M307.1 358.1l.8 0M261.7 323.7l-2.2.6M235.1 354l-0 .3M256.9 308.7l-1.9.1M295.2 373.9l-1.3.4M236.2 378.4l-.8 1.3M319.6 382.1l.1.3M274.5 379.6l-.9.2M267.5 372.7l.1.5M282.1 327.2l-.4.2M325.9 359.1l1.4.1M244.7 360.7l-1 .2M320.3 374.7l.4.7M282.9 321l.2.3M291.5 368.3l-.4.1M325.6 319.6l-.6.2M299.9 303.4l-2 1.2M259.2 380.6l.2.4M293.9 304.6l-.7.4M283.3 363.2l1.4.1M273.1 301.5l.5.2M303 343.8l-.4.4M257 381.3l-.6.1M287.5 372.8l1.5 1.6M265.7 349.2l1.6 1.6M249.1 303.4l.2 1.4M322.5 347.3l-2.1 1.1M314.4 364.3l-1.5 1.8M284.9 344.7l.3.2M263.7 382.5l1.7.9M310.7 376.7l1.7.5M296 313.3l.3.1M269.3 339.2l-.4.2M227 334.2l.8 1M296.7 364.4l-.1.4M256 338.1l-.1 2M234.6 373.8l-.8 1.7M289.8 349.6l.6.6M269.9 307.8l-2 .3M286.9 320.1l.4.9M228.9 336.1l-.4 0M280.7 351.9l-.4.2M256.1 357.4l.3.7M308.4 301.3l-.5.1"/>
<ellipse cx="248" cy="321" rx="4.5" ry="4" fill="#fdf9fc"/>
<ellipse cx="274" cy="315" rx="4" ry="4" fill="#fdf9fc"/>
<ellipse cx="248" cy="343" rx="5" ry="3.5" fill="#fdf9fc"/>
<ellipse cx="324" cy="329" rx="4.5" ry="5" fill="#fbf5fa"/>
<ellipse cx="266" cy="358" rx="8" ry="7" fill="#dcb0d4"/>
<path stroke="#a060a8" stroke-width="2.4" opacity=".35" d="M267.8 358.3l0 .6M262.4 356.6l1.1.4M265.3 357.7l-1.2.5M265 358.4l.6.8M265.1 359.9l.4.3M267.3 358l-.4.8M266.3 361.3l.5.1M266.4 358.9l-.8.4M264.9 357.2l-.1.6M267.4 359.8l-.8.8M266.9 357.4l-.1.5M266 358l.2 1.2M270.1 358.6l-.7 1.3M265.6 358.7l-.8.2"/>
<ellipse cx="274" cy="347" rx="6" ry="5" fill="#d4a4cc"/>
<path stroke="#8a4a9c" stroke-width="2.4" opacity=".35" d="M272.7 345.2l.7.5M273.1 346.6l-.4.1M272.4 347.6l-.8.4M273.3 348.8l-.6.8M273.9 344.9l.1.6M273.5 347l1.2.9M272.7 349.1l.5.5M275 348.2l.9.3M274.1 346.9l-1.1.2M274.1 348.3l-.1 1.1M273.1 347.8l.6.2M272.7 347.3l-.8.4M275.5 344.6l-.2.4M274 347l-1.1.1"/>
<ellipse cx="316" cy="313" rx="7" ry="6" fill="#e2bcda"/>
<path stroke="#a060a8" stroke-width="2.4" opacity=".35" d="M314.9 316l-.6.9M316.2 315l-.3 1.2M314.4 315l-.3 0M318.5 313.3l-.3 1.2M317.8 314.5l1.4.4M316.1 311.1l-.3.4M315.9 313.2l-.6 1.1M315.3 314.9l1.3.6M315.9 313.1l-.2.5M316.7 313.5l-0 1.4M315.2 311l-.2.3M316.6 312.4l.3 1M316.7 314.2l-.1.9M315.5 316.1l.5 1.4"/>
<ellipse cx="236" cy="310" rx="6" ry="6" fill="#dcaed2"/>
<path stroke="#9a5aa8" stroke-width="2.4" opacity=".35" d="M237.6 307.9l-.7 1M235.3 309.9l-1.1.7M235.8 308.3l1.1.9M235.8 309.8l.6 0M235.7 311.6l-.3.2M234.9 310l-.2.9M237 312.6l-.7.2M236.8 309.6l-1.2.6M233.9 310.9l.3.8M234.8 311.5l.3.3M235.8 309.5l0 1.4M236.3 310.2l.1.4M237.9 311.8l.9.3M235.4 313.2l.7.2"/>
<ellipse cx="240" cy="326" rx="5" ry="5" fill="#d8a8d0"/>
<path stroke="#9a5aa8" stroke-width="2.4" opacity=".35" d="M239.1 327.4l-.7.1M241.3 324.3l-.1.3M239.9 326.5l-1 .9M240.8 326.3l-1 1M239.3 325.9l1.1.5M239.7 325.7l.1 1.1M240.7 324.9l0 .6M239.5 325.7l.4 1M239.1 325.9l.4.2M239.4 327.3l-1.4.3M238.6 325.8l.6.5M238.7 324.7l-0 .4M240 327.5l-.3.5M241.1 325.7l.3 1"/>
<ellipse cx="242" cy="331" rx="4" ry="3" fill="#e47ca0"/>
<ellipse cx="302" cy="325" rx="4" ry="3" fill="#e47ca0"/>
<ellipse cx="288" cy="379" rx="10" ry="4" fill="#f2c0d2"/>
<ellipse cx="248" cy="321" rx="4.5" ry="4" fill="#fdf9fc"/>
<ellipse cx="274" cy="315" rx="4" ry="4" fill="#fdf9fc"/>
<ellipse cx="248" cy="343" rx="5" ry="3.5" fill="#fdf9fc"/>
<ellipse cx="324" cy="329" rx="4.5" ry="5" fill="#fbf5fa"/>
<path stroke="#3c126e" stroke-width="1.5" d="M241.3 360.8h0M305.9 368.5l-.8 0M312.1 349.3l.7.2M239.6 358l-0 .8M317 350.8h0M294.4 333.2l.9.1"/>
<path stroke="#5a2286" stroke-width="2.3" d="M295.5 327.7h0M240.1 345.6l-0 .4M297.5 373.1l.3.2M321.5 359.8l.3 1.4M309.1 360.5l-.7.1M328.7 380.8l-0 .3M322.9 366.6h0M237.6 383l-.7 1.1M248.5 381.4l-.5.2M233.4 335.5l1 .3M293.6 325.5l.5.3M260.2 344l-.7.5M241.5 367.5l.7.2M285.5 331.5l.1.3M232.1 325.9l.3.3M231.1 380.4h0M275 324.3l.6.5M295.1 315.9l1.4.1M231.9 318l.3 1.2M313.2 369.4h0M236.3 356.5l-.9.4M262.8 333h0M257.6 353.1l-.6.7M248.6 370.3l.2.2M235.6 301.5l-.5.2M283.8 320.2l-1 1.2M295.5 326.6l-1.4.2M245.1 311.6l-.2.2M303.1 372.3l0 1.2M244.4 362.6l-.7.3M318.6 348.1h0M295.2 351.3l-.8 1M283.4 348.5l-.2.7M226.3 361.2l1 .5M265.5 302.7l.9.7M252.3 339.3l.7.1M323.6 357.2l.8.2M286.9 332l-.1.6M324.5 371.4l.3.9M296.7 372.5l-1.5.1M303.4 338.2l.5.5M242.9 383.6l-1 .1M236.4 340.1l.3.1M316.4 327.7l.9.4M323.8 358.5h0M233 355.2l-.6.4M320.9 367.4l.2.1M239.2 352.6l1 1.1M284.5 355.6l-1.2.2M283.8 383.5l.9.2M289.8 335.5h0M320 363.9l.4 0M234.1 384.2l.7.6M249.9 349.9l.5 1.4M287 354.9l1.1.7M320.5 373.8l-.3.2M241.8 334.4l-.7.4M320.5 318.2l.1.3M237.7 353.4l.1.3M307.7 342.8l1.2.8M267.3 349.3l-.3 1.2M268 381.2l-.7.3M231.4 355.8l-.6.5M290.6 328.1l-.3.2M265.1 329.9l.5.6M231.6 324.9l-.2.9M243.6 339h0M228.6 355.2l-.1.8M248 350.7l-.2.7M241.6 378.2l-.6.5M230.4 347.8l.4 0M308.7 352.3h0M304 340.5l1.1.9M296.5 328.8l.3.1M246.5 382.8l.6.4M309.4 347.4l-1 1M296.6 332.1l-.1.5M252.2 357.2l-.3.7M231.8 350.5l1.3.7M308.2 334.8l-.3 1.4M296.9 362.4h0M231.5 318.5l-.4.5M278.8 317.7l.1 1.3M244.7 370.8l-0 .9M253.8 308l-1.1.1M246 362.6h0M295.4 319.5h0M247.8 382.2l.8.9M280.7 364.7l-.2.5M254.6 341.6l-1.3.6M324.8 313.3l1.3.8M315.9 377.7l-1.1.7M251.7 327l.6.4M285.5 367.8l.1.3M255.5 366.3l-1.2.3M246 350.4l-.2.2M296.6 370.4l-.1.6M257.7 336.6h0M240.2 365.9l1.2.5M303.9 329.8l-.6.2M296.4 370.4l-.6 1.2M286.7 336.9h0M261.1 322.1l-.5 1.3M257.6 323.6l.1.3M283.4 381.7l.2.8M287.6 335.1l-.5.8M320.4 360.4l.7.2M304.1 346l-0 .5M273 332.7l-.7.6M328.8 340.4l-1.2.7M298.9 374h0M250.7 347.4l-.4.3M270.6 309.5h0M323.5 366.3l.5.2M293.7 360.1l.9 0M255 347.2l.9.2M250 326.2l-.3.2M301.7 367.3h0M281 322.2l.2.2M292.7 316l.8 1M279.6 351l-1.2.2M227.4 357.6l-1.2.1M236.6 375.9l-.2.1M317.8 366.1l-.7 1.1M229.7 347.9l-.2.3M261.8 346.6l-.9.3M318.6 363.8l-.3.4M321.4 304.1l.8.1"/>
<path stroke="#5a2286" stroke-width="1.9" d="M287.3 313.1h0M268.8 370.2l-.5.5M301.8 325l-.7 1M261.5 309.8l-.6 1M264.1 306.3l-.9.9M252.3 347l1.2.1M279.8 323.7h0M256.2 340.7l1.2.8M312.2 378.1l-.9.2M255.6 330l-.8.4M256.9 352l-1.2.5M294.6 331l-.3.8M322.1 369.1l-.3 1.1M312.2 334l.5 1.2M239.3 346.4h0M320.9 379.7l-.9.5M261.1 329.4l-1 .2M319.7 347.5h0M254.8 349.9l-1.3.3M274.2 338.6l-.4 1.2M243.1 368h0M297.5 323.2l-1 1M243.7 361.8l.4.6M309.3 347.7h0M251.1 356l1.2.6M285.8 324.6l-.8.5M231.5 340.2l-.2 1.4M239.4 373.7l-.4.2M235.7 358.4l-.6.2M288.2 311.8l.9 0M227.5 344.4h0M300.6 342.7l1.4.5M312 381.4l-.2.8M236 368.4l1.1.7M288.9 371.8h0M268.8 323.7l.7 1.2M283.3 306.7l1.1.2M233.4 344.6h0M297.1 324.8l-.6.8M243.1 369.5l-.1 1.2M284 311.1l-.2 1.2M254.5 308.4l-.3.2M303.8 345.1l-.1.6M267.9 329.6h0M263.8 314.7l.1.7M310.1 372l-.6 0M278.3 307.2h0M278.9 308.4h0M261.7 329.8l-.5.4M237.9 345.7l.6.3M290.5 324.1l-.8 0M275.7 300.5l-.7.4M293.2 345.6l.5.2M238.8 382.8l-.5.3M229.4 338.5l-.3.6M233.8 358.1h0M251.3 376.4l-.5.4M329.3 301.1l-1.1 1M312.5 338.6l-.2.4M307.2 351.5h0M283.8 373l.4 0M283.7 335.5l-.3.2M295.4 335.4l.3.4M304.6 374.7l-.6.4M233.7 360l.5 1.4M269.9 330.4l.3.1M249.3 357.7l.4.3M251.6 308.8l-.5 1.4M232.2 365.3l-1 .6M232.6 334.8h0M298.2 342.7l-.8.8M249.2 376.6l.8.6M317.1 357.2l.5.7M306.7 371.6l.6.5M245 349.3h0M249.6 371.9l.2.4M316.1 367.4h0M283.9 345.7l-.3.5M280.2 345.2l1 .7M251.7 357.3l-1.3.3M310.7 357.2l-.5.8M317.5 357.9l-.8 1.1M281.4 331.3h0M282.7 301.2l1.3.1M266.5 329.7l.3.4M282.7 330.1l-.3 1.1M290 364l-.3 1.4M312.6 382.4l.8 1.2M292.7 377.1l0 .6M322 375.4h0M255.3 326.4l.5.2M294.2 378.3l-.6.8M289.2 318.5l-1.1.6M282.7 323.1l-.7.9M234.5 375.8l-.7 1.2M280.4 327.5l-.5.3M305.7 348.2l0 .9M258.8 317.2l.9.5M310.5 374.9l-.3.9M314.8 330.8l.3.2M267.3 368.2l.8.2M254.4 376l.4.1M252.6 366.3l1 1.1M307 375.4l.5.2M262.1 307.8l.6 0M239.6 341.9l.9 0M296.4 306.2l.1.4M291.4 313.5l-1.1.5M292.2 366l-.7 1.3M278.6 330.8l1.3.4M305.6 350l.2.9M266.6 340.8l-.8.4M256 365.6l.6.6M314.9 369.5l1.2.8M289 326.4l.6.6M236.9 353.2l-.4.2M320.6 346l1 .2M295.2 366.7l.3.4M253.4 328.9l.5.4M261.6 314.5h0M285.3 324.2l.6.2M295.4 332.1l-.4 1M253.7 371.5l1.1.9M257 378l.1.9M282 340.4h0M285.2 370.3l-.2.4M228.7 345l.4.2M250.5 365.9l-.4 1M304.9 300.5l-1.1.3M237.3 363.1l-1.2.6"/>
<path stroke="#4a1a7c" stroke-width="1.5" d="M304.7 342l-.8 1.1M243 355l.1.5M271 380.1l-.1.7M299.6 342.7l-.3 1M244.2 346.6l-.5.4M238.4 341.9h0M247.7 360l.7.4M236.8 358.7l.1 1.4M238 350.5l-.1 1.3M267.5 312.5h0M243.6 358.2h0M292.5 373.8h0M250.9 354.8h0M257.2 304.8l1.4.4M311.9 360.5h0M243.8 362.1l-.3 0M295.2 319l-1.2.5M316.9 354.9l1 1M243.6 316.1l.4.6M292.2 333.3l-.1.3M254.6 363.4l-1 .1M284.9 330.9l1 .2M313.3 363.8l-.4 0M248.6 362l.2.3M324 365.1l-.1 1.1M258 345.8l-1.2.2M329.6 373.3l-.3 1.3M231.6 302.6l-.1 1.3M327.3 362.5l-.6.8M241.3 355.9l1.1.8M293.3 374.7l-.4.2M266.1 332.6l-.2.7M285.6 311.1h0M311.2 357l-1 .5M281.9 349.4l-1 .4M317.6 360.5l-.1 1.3M270.6 330.8h0M290.9 311.7l-1.1.5M247.7 359.3l-.2.8M276.7 329.1l-.1.3M273.7 331l.8.1M260.2 335.9l.2.4M234.1 324.4l-.6.5M324.5 372l.6 1M317.6 349.1l-.8.3M300.3 315.1l-.6.5M292.8 330.6l.4.5M267.8 339.6l1.3.8M294 332.7l.7.1M290.2 328.3l.5.1"/>
<path stroke="#5a2286" stroke-width="1.5" d="M283.5 365.1h0M298.2 313l-.4 1.4M269.3 332l.4.7M234.1 350.6l-.4 1.1M252.3 378.4h0M240.6 346.1l-.2 1.1M328.7 337.6l.3 0M248 337.5h0M268.6 331.5l-1 .4M290 330.4l-1.4.4M266.8 315.6l-1.4.1M316.4 346.5l.5.5M299.7 314.2l.4 1.4M321 322.9l.8.2M237.6 372.6l.4.4M321.1 344l-0 .4M272 306l.8.9M300.3 343h0M233.6 362.5l-.3 0M239.7 347.6l-.8.2M311.1 351.6l1 .8M250 383.1l.3.4M284 333.9h0M227.4 334.6l-.3.1M286.8 325.4l1.1.4M235.4 348.1l.4.3M301.3 345.7l.9 1.1M240.2 369.3l.3 0M302.8 351.6l1.2.2M230 314.2l-1 .3M265.6 305.4l.6.9M244.8 307.1l.2 1.4M326.9 366.3l.3.2M306.6 372.4l-.7 1.3M287.3 312.8l.4.5M292.7 338.6l-.8 1.1M308.7 376.5l-.6 1.1M249.4 325.3l.9.1M246.2 312.9h0M233.1 343.4l-1 0M327.8 365.1l.9.1M283.9 344.9h0M263.7 320.2l-.5 1.3M266.1 368.8l.3.2M301.5 359.8l-.1 1.4M308.8 350.3l.8.7M260.3 338.5l0 .5M261.4 337.3l-.7.9M297.1 363.9l1.1.9M275.3 377.5l1.1.1M242.3 363.7l-.5.9M262.6 340.7l-0 1.2M324.9 315.9l.2.4M294.1 364.4l-.6.7M284.9 341.5l-.8.9M267.7 331.4l-.4.2M282.6 307.7l-.3.6M293.3 352.9l.6.5M231.3 371.4l.5.9M268.7 333.1l-.8.5M308.5 346.7l-.1 1M267.5 373.7l-.2.2M302.5 343.5l.4.6M241.8 340.4l-.8 1.1M252.3 326.5l.4.9M246.7 361.9h0M260.5 365.3l-.5.5M280.6 324l.3.9M310.7 301.2l-.3.1M302.9 318l-.3 1.1M324.3 371.5h0M280.1 367l.5.3M259.4 367.7h0M228.5 334.3l.8.6M291 373.6l-1.3 0M298.1 373.4l.2 1.3M232.8 356l.4.6M245 360l-0 .4M292.8 371l-.1 1M290.2 318.3l.2.5M313.4 383.2h0M258.8 329.3l.2 1.4M290.7 301.8l-.3.1M295.9 325.3l-.7.2M242.4 382.3l.7 1.1M304.8 383.6l-.9.9M289.5 344.7l-.1.3M307.7 363.1l-.4.1M261.4 306.6l-.4 1.2M298.3 301.1l-.2.6M295.6 334.8l.3.3M239.2 347.2l.9 0M261.7 315.8l.8.5M283.6 301l-.5.4M299.4 345.8l-1 .5M300 363.8h0M298.6 339.8l0 .8M269.9 340.7h0M299.6 339.8l.4.4M266.1 380.3l-1.3.3M264.8 342.5l-.4.5M237.8 351.7l-.2.3M306.3 327.5h0M235 362.7l.1.3M290.3 324.7l-.7.1M275.9 359.1l.8.3M248.7 315.8l-1.3.7M304.8 342.6l1 .4M303.7 366.4l.6.1M229.8 315.4l-.9.7M322.2 343.9l.7.5M255.8 309.3l-1.1.5M321.2 368.3l1 1M266.2 376.6h0M282.1 307.6l.3.1M263.8 339.9l-.3.3M267.9 319.8h0M311.2 359.3h0M320 360l-.1 1.2M259.3 300.8l1 .2M251 335.6l.5.4M308 301.6h0M315.1 344.9l.6.6M278.6 311.2l-1.4.2M316 365.9l.7 1.1M313.9 305h0M296.3 375.4l.6 1.1M233.3 376.4l.2.2M254 368.9h0M287.9 368.6l.8 0M301.3 367h0M252.1 303.6h0M239.9 348.4l-.5.7M263.1 372.8l1 .4M326 354.5l.5.8M242.3 318.9h0M295.1 352.6l-.9.9M299.8 364.3l-.3.3M260.3 318l-.4 1.1M238.9 338.5l-.3 1M304.6 329.6l-.8.6M309.6 370.6l-.5.5M254 375l-0 .3"/>
<path stroke="#6e3294" stroke-width="2.3" d="M234 332.7l.9.6M307.4 305.6h0M326.8 372.3l.9.2M293.9 359.3h0M248.8 364.3l.4.3M304.3 321.2l-.8.7M311.7 321.7l.8.9M250.1 331.9l-.2 1M228.1 341.6l.7.8M245.2 300.7l-1.4.4M279.5 310l-.1.5M241.1 367.1l.1 1.1M229.8 380.2l.6 1.2M244.7 308.5l-1.4.3M229.3 374.4l-1.2.8M288.9 316.5l-.6 1M252 327.2l-1.2.3M248.7 329.3l.6.6M290.5 323.3l-.1 1.1M284.1 339.4l.2 1M314.7 324.7l.3.1M296 359.6l.8.9M327.7 356.2l.3.6M282.9 310.3l-.7.1M245.2 369.8l.3.2M300.9 368.8l-.5.4M290.2 355.7l1.3 0M264.9 371.2l.1.7M286.6 340.5l.3.3M274.5 354.4l-.2.5M296.6 322.3l-.3.4M298.4 357l.1.3M320.2 373.9l-.2.3M263.5 383.5l1.1.9M301.4 309.9h0M267.4 369l.2.4M260.2 337.8l-.3 1.3M288.3 337.3h0M241.1 370.2h0M243.9 378.7l.1 1.2M291.8 322l.3 0M264.7 368.7l1.3.5M256.3 379.4l-.1 1M320.3 367.1l-.4.8M312.7 331.9l.3.7M231.1 354.4l.5 1M295.4 309.8l.8.2M258.8 311.3l.1.8M259.5 373.5l-.5.2M253.8 311.8l-.4.1M228.4 356.7h0M273.5 355.4l1.4.5M303.4 371.6l-.6.5M315 376l1 1M254.9 315.4l-.5.4M300.5 372.2l-.8.3M305.8 361.8l-0 1M321.6 376.2l-1 .7M230.8 355.6l-0 1.3M319 370.2l.1.8M281.2 311.6l.4 1.2M301.2 332.8l.3.5M285 338.6l.4 0M231.7 351.5l.8.8M251.7 382.5l-.3 0M298.8 367.8l.9.4M309.3 316.8l.6 1.4M318.2 369l.6.8M263.7 375.6l-.9.4M311.1 307.2h0"/>
<path stroke="#6e3294" stroke-width="1.5" d="M319.6 374.9l-0 .6M329.4 352.5l-.6.1M274.7 310.4h0M241.4 338.1l.2.4M279.1 307.9l.3.5M249.8 326.6l0 .6M278 341.6l-.3.6M301.3 332.9l-.6.3M247.2 370.1l-.1.5M317.7 382.6l.1 1.3M252.8 315.3l-.3.2M234.1 372.8l.7 0M326.5 339.3h0M290.5 318.9h0M270.2 333.8l-1.3.3M283.5 310.4l.9 1M326 312.5l-.6.1M259.2 324l.5.7M280.1 332.4l1.2.1M288 351.1l-.2.8M327.4 318.8l-.4.5M311.2 330.4l.6.6M258 383.4l.8.6M273.4 376.3l.1.9M325.7 351.9l.6 1.2M245.1 372l-.3 1.3M295.7 359.1l.1.4M273.2 382.7h0M265.3 343.4l-0 .7M298.6 326.4l-1.4.4M233.3 380.8l-.6 1M325.2 338.9l-.3 1.2M282.4 319.1l-.4.2M249.3 314.3l.5.1M297.8 378l.5 1.3M290.9 361.3h0M295.7 364.2l-.3.1M291 344l.5.6M320 302.5l-.4.2M288.9 326.3l-.3.6M255.9 340.1l.2.3M252.1 334.3l-.2 1.1M304.5 365.1l0 .7M314.5 381.9l-.4.2M301.4 308.8h0M325.2 341.4l.1.6M286.8 361.5l-.4.3M242.9 302l-.3 0M275.4 306.9l-.1.3M264.7 337.7l-.4.2M283.7 313.4l-.2 1.2M318.9 301.7h0M284.8 335.5l-.6.4M232 332.7l0 .5M304.1 315.6l-.8.5M324.6 347.6l.2.1M240 337l-.5.1M284.7 301.2l.9.1M295.5 307.1h0M232.6 368.2l1.1.7M247.6 327.2l.6.9M255.9 355.2l.5.3M324.1 366.9l.9 0M324 336.9l-.5 0M278.7 300.6h0M249.5 371.4l-1 .1M281.1 346.6l-.4.9M311.3 319.6l-0 .5M291.8 322.1l1.3.7M228.6 353.5l-1 .5M301.2 354.3l-0 .3"/>
<path stroke="#6e3294" stroke-width="1.9" d="M308.2 382l-1.3.7M242.4 301.9l-.2.4M310.9 342h0M229.6 348.7l.7.3M262.1 312.1h0M304.6 324.9h0M297.4 374.7l.3 0M272.1 305l.2 1.4M263.6 374.4l-.4.9M328.9 364.5l-.1.9M324.9 370.2l-.2.2M241.4 371.6l1 .1M292.6 350.5h0M249.2 331.8l-.3.9M308 370.4h0M308.3 349.7l-.5.4M282.9 313.7h0M227.8 304.7l.5.7M323 335l-.1.7M307.6 379.8l.1.4M255.8 342.7l-.2 1.3M284 339.6h0M285.3 336.2l-1.5 0M246.6 376.3h0M300.4 369.2l1 1M318.7 343.6l.1.7M326.9 316.5l.2.9M299 369.2l1.4.6M303.6 373.8h0M322.5 345.3h0M249.5 313.9l.4.9M230.7 373.5l-.1 1.1M303.5 374.3h0M299.9 369.2l-.1.3M300 369.5l-1.2.3M316.8 373.5l-.3 0M316.7 324.5l.3.1M304 350.6l.2.2M282.2 362.4l1 .2M315.7 322.2l.6.6M324.2 366.5h0M314.1 341.8l.3.3M293.1 365.8l-.1.4M300.7 329.8l1.1.9M282.2 309.5l-.8 1.1M260.4 343.3l.3 1.1M299 305.9l-.4 0M324 368l.2.5M226.5 357.7l.1.8M257.4 355.4h0M309.9 335.9l.5.2M302.2 375.2l.7.4M316.5 370.7l1.4.5M258.1 372.2l-.7.6M248.4 381.1l-.8.5M243.4 380.8l-1.1.8M256.3 374.9l.3.8M292.7 318.9l-.7.1M261.5 322l-.1.3M232.3 317.6l.7.2M315.3 331.4h0M241.6 348.6l1.4.4M305.9 363.4l1.1.3"/>
<path stroke="#4a1a7c" stroke-width="2.3" d="M304.3 357.8l-.4.1M298.5 318.3l-1.2.1M308.9 344l-0 .9M302.9 344.6h0M286.1 309.7l.6 1.1M302.4 308.1l-.8.5M234.3 346.5l-.1.6M317.5 355.8l-1.2.9M255.1 336.4h0M299.3 360.7l-.6.1M279.7 331.6l0 1.5M263.4 331.3l-1.3.1M248.5 365.5h0M294.9 334.1l-.1.4M300.1 364l-.1.8M301.8 346.1h0M265.2 323.2h0M310.7 352.4l-1.2.7M310.8 364.6l-.2.2M315 350.6l.4 1.2M236.6 363.6l.9.7M298.6 302l.1 1M237.4 352l.2.3M252 303.4l-.4.6M252.4 362h0M241.3 362.8l1 .6M264.3 331.3l-1 .3M310.6 350.7l-.4.6M245.9 351.4l-.2 1.3M248.2 354.2h0M309.4 347.2l-.4.1M320.5 360.9l-1.2.3M309.8 352.7h0M270.7 381.9l1 .2M297.9 352.4h0M303.7 355.5l-.8.5M268.3 326.2l-0 .5M297.2 351.7h0M271 337.9l1.2 0M319.2 358.7l-.9.7M290.2 348.9l.3.3M329 344.1l.7.4M263.1 329.1l-1 1.1M239.5 343.6l.1.4M260.9 311.4l-.1.6M263.6 335.9l.2.8M299.6 359l-1 .9M271.6 308.9l.3.5M315 359.9l.6.8M315.9 362.4l.4.5M235.6 363.8l-.2.5M282.9 323.5l-.1.3M297.5 302.9h0M252.1 355.5l.8.5M292.7 332.9l.2 1M263.6 333.9l.5.5M279.2 324.2l.3 1.1M243.1 313.6l.5.6M264.3 327.2l.6.7M267.1 332.4l.7.8M323.8 321.8l.4.9M297.6 322h0M268.4 381.4l-0 .4M255 348.9l.9.1"/>
<path stroke="#4a1a7c" stroke-width="1.9" d="M266.3 324.5l-.3.1M253.9 352.7l-.2.6M228.8 300.2l-0 .8M296 333.4l1.4.4M255 360.8l1.2.2M325.1 300.5l1.3.6M298.2 360.4l.8.5M304.1 308.8l-0 .5M291.7 347.4h0M282.4 350.1l.2.2M290.3 335.6l.7.1M277.9 329.3l-.3.9M311 360.6l-.4 1.2M320 359.1h0M245.8 355.9l-.5.3M254.7 359.2h0M282.6 329.2l1.2.8M295.7 341.1l.3 0M265.9 325.2l-.3.8M235.6 359.3l-.7.4M238.6 343.9l.4.3M238.6 351l.1 1M288.8 310.2l-.2.3M295.6 336l-1.4.4M315.1 350.8l-.1.4M237.8 361.6l0 1.2M236.5 354.2l.2 1.4M270.7 309.2l1.4.1M251.3 368.4l.5.7M294.7 329.7l-.5.5M311.5 354.5h0M309.3 360.8l-.2.2M326.1 371.1h0M241.3 353.4l-.1.8M239.1 341.9l-1 .4M275.5 324.6l-.4.9M320.3 350.9h0M236.8 345.9h0M316.6 360.1l-1 .8M292.5 341.9l.9.6M308.6 347l.2.4M303.6 347.5l.2.7M326.5 321.4l-1.1.4M242.9 340.7l.6.1M233 377l1.1.6M313.6 351.9h0M237.8 351.5l.5.5M286 332h0M321.4 357.2l.8.9M304.2 368.1l.8 1.2M302.9 362.2l-.7.2M294.9 317.5h0M236 359.4l.1.8M314.1 355.2h0M232.6 301.5l.9.4M311.5 355l.7.3M292.7 334.7l.2.4M291.6 308.1h0M305.6 342.2l-0 1.2M256.9 363.2l-.7.1M244.8 346.5l.5 1.1M301.1 364.7l.9.2M300.7 302l-1.4.3M300 359.9l.4.1M231.4 341.9l-.9.5M295 330.3l-0 .5M310.6 348.5l-.7.7"/>
<path stroke="#8a48a0" stroke-width="2.3" d="M258.8 382.2l-.3.3M287.4 381.3l.2 1.2M328.1 313.6l.8.3"/>
<path stroke="#3c126e" stroke-width="2.3" d="M237.7 354.4l-.3.7M257.7 362.6l-.1.5M241.9 353.7l-.5 1M235.4 360.9l-.3.7M316.5 352.8h0"/>
<path stroke="#3c126e" stroke-width="1.9" d="M241.1 359.3l-.5.5M317 350.9l-.8 1.2M317.7 361.1l.8.9M292.8 334.1l-1 .6M242.7 354.6l-.2.2"/>
<path stroke="#8a48a0" stroke-width="1.5" d="M229.1 375.6l.5.1M310.1 323.2l-.1.8M246.2 379.8l-.2.5"/>
<path stroke="#8a48a0" stroke-width="1.9" d="M227.9 309.3l.8.8M288 378.9l1.1 0M243.8 306.3l.6.1M296.9 355.1l.4.8M243.1 301.3l-.7.2M247.7 331.6h0M283.1 336.2l-.1.6"/>
<path d="M28 68Q40 64 50 66" transform="translate(228 302)" fill="none" stroke="#fbf5fa" stroke-width="1.1"/>
<path d="M30 72Q42 70 52 69" transform="translate(228 302)" fill="none" stroke="#fbf5fa" stroke-width="0.9"/>
<path d="M18 76Q28 74 36 75" transform="translate(228 302)" fill="none" stroke="#fbf5fa" stroke-width="0.8"/>
<path d="M55 58L70 62" transform="translate(228 302)" fill="none" stroke="#fbf5fa" stroke-width="0.6"/>
</g>
<path stroke="#808088" stroke-width="1.1" d="M231 379.2h22.5"/>
</g>
<clipPath id="ch3"><path d="M332 302h100v81h-100z"/></clipPath>
<g clip-path="url(#ch3)"><g filter="url(#bl)" stroke-linecap="round">
<path fill="#f9f0f8" d="M331 301h102v83h-102z"/>
<path d="M0 6Q15 8 32 13" transform="translate(332 302)" fill="none" stroke="#eec8e0" stroke-width="2.5"/>
<path d="M62 20Q75 22 90 30" transform="translate(332 302)" fill="none" stroke="#f2d0e4" stroke-width="2"/>
<path stroke="#f0d2ea" stroke-width="4" d="M430.7 338.7l1.2.3M384.7 359.4l.5 1.2M377.3 356.9l1.4 1.1M398.3 316.6l2 1M425.7 364.9l-1.6 1.7M391.6 361.5l0 .3M365.1 328.7l.6.1M432.6 362.3l.6.4M420.9 376l-1.7 1.5M429 325.8l1.2.7M343.9 355.8l1.6.2M398.7 304.6l-.1.6M429.8 343.3l1.8 1M414.5 347.1l-.6 1.9M377.7 317.5l-1.7 1.5M366.8 319.9l-.4.6M414.5 346.1l-1.5.1M416.1 376.8l-.9 0M344.9 348.1l-.1 1.6M358.1 355.7l.6.5M345.4 349.7l-.6.1M397.5 365.2l-.2.3M342.5 333.8l1.4.3M409.8 329.3h0M336.7 359.2l.6.5M421.4 335.6h0M432.4 368h0M362 331.2l1.3 1.6M350.9 343.9l-.9 2.1M341.5 341.9l-0 1.4M383.3 353l-.1 1.7M374.2 325h0M371.3 348.2l-.7 1.1M400.6 362.8l1.1 1M414.4 318.4l1.8 1.5M338 355.1l1.1.6M424.4 342l.5.2M411.4 380l-1.3.5M417.2 375.5l-1.5 1M353.7 305.8l.5.1M356.1 357.3l-.6.1M360.4 348l.8 2.2M346.7 324.7l-.5 2.1M371.9 319.2l1.1.3M397.1 382.2l-1.6 1.7M365.2 320l-1.3.5"/>
<path stroke="#e4bade" stroke-width="3" d="M353 306.9l-.7.4M356.1 331.5h0M376.9 363.4l-1.3.1M334.9 354.4l.4.8M395.4 306.1h0M410.9 346.3l.3.9M427.8 309.3l-.2.5M341.9 354.3l-.6 1.5M362.5 338.2l.6.8M398.3 303.7l-0 .8M411.7 354.8l.3 1.1M358.3 362.9l-1.3.1M352.6 384.1l-1 .7M408.4 333.9l-1.1 1M342.8 333.3l.9 2.2M337.9 350.7l-1.4.1M384.4 343l.6.8M391.7 313.5l.7 1.6M375.1 308.7l-2.1.1M404.9 346.5l.9.3M418.7 354l-1.9.9M342.1 346.1l-1.3.9M388 312.7l-.1 2.3M385 334.1l2 0M352.5 374.2l-.6 2M433.6 373.6l-1.2.5M377.5 377l.2.3M352.8 363.6l.6 1.3M337.8 379.6l.8.5M359.7 311.8h0M364.9 327.8l-1.5.6M392.9 372.2l.4.4M356 311.5l-1.9.3M345.8 316.9l.5.5M364.7 302.6l-.7.2M360.9 326.5h0M383.4 302.2l-1.3.8M414.1 374.5l1 .6M430.7 362.5h0M380.8 350.7l-2 .7M380.9 355.5l2.2.3M367.6 343.1h0M356.4 352.7l1.5.9M387.7 352.2l-.8 1.1M393.2 357.6l-.3.1M370.8 376l-1.8.6M342.4 357.4l.5.6M370.4 303.8l-.2 1.1M422.2 300.7l-.2 1.1M403.6 359.2l-.9 1.7M412.8 336.6l-1.9.2M330.8 380l1.1 1.4M380 311.1l-.8.1M384.3 342.7l.1.3M379.5 328.8l-1.6 1M349.7 368.4l-.5 1.9"/>
<path stroke="#e4bade" stroke-width="4" d="M393.1 310.5l-1 .5M343.6 343.3l0 2.2M389.2 379.8l2.1.3M352.7 383.2l0 .3M421.8 375.6h0M427.3 344.8l-1.1.2M389.3 340.2l1.8.7M431.2 353.5l-.3.9M353.2 373.3l-.5.2M339.5 304.3l.3.5M384.2 331.1l.7.2M402.5 353.3l-.5.8M401 370.4h0M395 350.7l-1.8.6M419.4 342.8l-.6.3M357.5 339.2l-1.5.4M341.7 338l.9.3M345.4 343.9l-.5.6M371.6 327.4l2.1.4M359.8 339.6l.6.7M394.5 354.9l-1.3 1.6M341.1 381.4l-.1.8M356.6 374l.2.2M430.6 335.2l-1.7 1M425 370.9l.2 1.5M386.1 306l-.2.2M398 363.5l1.2 2.2M356.9 318.9l.5 1.5M370.1 326.9l-.5 1M366.4 380.2l.3.3M331.5 324.1l1.8 1.4M410.6 332.1l.6 0M354.3 376.3l-1.3.1M358.3 355.3h0M403.7 355l-0 .5M393.2 354.7h0M396.8 374.3l-1.6.2M365.8 324.8l2.2.3M364.7 348.9l-.7 1.6M355.3 376.5h0M341.7 380.4h0M387 345.7l.6 2M427 323.9l-.3 1.1M417 302.8l-.1.3M379.2 346.2l.6.6M346.2 343.6l-2.1.1M400.2 379.9l.7.3M369.2 363.7l-1 .1M331.2 346.4h0M341.6 370h0M332 320.1l-.7.8M383.2 331.7l.1 1.6M394.7 330.3l-.2.4M418.7 317.1l.2.6M360.2 362.8l1.4.4M340.3 356.6l2.1.1M404.4 374.2l-.1.6M385 351.5l-1.5 1.3"/>
<path stroke="#f4dcf0" stroke-width="3" d="M421.4 309.9l-2.1 1.1M386.9 350l.4 1.4M419.9 324l.3 1M390.7 328l1.9.1M375.9 327.6l-.3.2M420.6 361l.5.9M415.1 379l.5 0M418 316.9l1.7.7M379.4 311.9l-.8.4M375.1 331.2l.1.5M350.1 377l-1.6.1M374.7 360.9l.1 1.5M380 350.5l1 .1M335.3 337.1l.4 2.4M359.5 339.3l-1.4 1.3M411.9 340.4h0M387 305.6l1.7.4M347.4 313.6l.7 1.9M380.5 326.9l.7 1.4M413.1 303.7l-.2.2M420.2 307.5l-1 .8M431.8 352.1l-2.3.4M365.3 309l.4.1M426.6 365.3l.5 2.2M346.9 352.9l.7.3M341.8 321.4l-.8 1.2M331.9 331.8h0M374.4 378.6l.3.2M416.6 339.6l1.7 1.7"/>
<path stroke="#f0d2ea" stroke-width="3" d="M415.9 302.6h0M364.3 346.7l.6.7M400.1 327.4l-0 1.3M426.8 301.1l-.3.4M418.8 338.6l-1.4 1.8M362.2 319.9l-1.7.8M378.2 345.8l2.3.7M355.2 308l0 1.5M413.1 323.5h0M405.9 325.6l0 1.2M416.5 362.1l-1 2.1M405 370.7l1.8 1.3M355.9 301.4l-1.1 1.6M431 343h0M411.2 340.1l2.3.8M390.5 360.7l-1.6 1.8M347.3 345.1l.1 1M403.3 301.1l-.3.4M394.8 302.3h0M388.5 353.7l-1 .6M350.2 332l.5 1.3M370.6 374.5l-.2.3M398.6 351.6l-.3.1M380.2 306.2h0M337.1 360l-.1.7M430.5 309.7l-1.4.8M394.1 352.8l-.3 1.4M331 329.2l-.5.1M430.2 377.2l-1 .7M343.7 345.7l-1.8.3M400.6 328.4l.2.8M346.9 367.3l.7 1.7M360.7 305.4l-1.1 2M374.7 374.8l1.6.7M380.9 312.4l1.5 1.1M419.5 344.5l-1.1 1.7M410.7 370.2l-.5 1.2M380.3 321.7l.5 2.4M363.6 368.3l1.8.7M341.6 373.3l-.1.7M348.3 359.6l2.1.4M413.9 315.8l1.5.1M403.3 341.4l-.1 2.2M432.2 369l-1.5 1.6M375.9 339.7l-1.3 0M427.8 311.3l-1.7 1.3M413.1 380.5l0 .7M374.9 321l.6.3"/>
<path stroke="#e8c4e2" stroke-width="4" d="M352.7 309.1l2.1.8M394.2 340.2l-0 .3M349.5 329.9l-.4 2.3M412.4 335.5l-0 .5M380.8 301.7l-.2.8M428.7 351.3l-.2.4M364 330.4h0M403.7 322.5l-.3 2.1M363.4 356.4l.9.2M342.4 356l-1.2 1.5M333.6 338.2l-.4 1.9M332.4 322.3l.3.4M432.3 353.4l-1.4 1.3M403.1 320l1.3.3M433.7 358.3l-.6 1.3M389.6 305.4l-.5.8M395.7 334l-.5.8M360.7 342l1.3 2M373.3 331.7l-.3.8M347 349.6l-.2.5M377.6 353.5l1.6 1.3M420.5 313.8l1.4.9M348.4 375.1l-.2.2M413.3 334.7l-.4 0M425.5 348.7l-.8.4M355.3 376.8l1.6 1.6M343.5 300.2l-1.9.6M415.5 313l1.5 1.7M385.3 316.6l.1.4M396 313h0M398.3 343.6l.8.6M412.9 312.9l1.1 1.8M380.2 312.8l1.2 1M332 340.2h0M343.6 367l1.8 1.1M403.9 359.3l-.2.7M383.7 345.6l.9.6M391.5 335.8h0M369.6 352.8l-.8.7M357.6 361.9l1.8 1M347.3 321.2l1.5.7M356.6 343.1h0M385.6 347.6l.4.2M337 310.6l.4 1.2"/>
<path stroke="#f4dcf0" stroke-width="4" d="M349.6 333.8l-.4 2.3M362.1 340.5l-2.2.9M403.2 324.4l.6 1.2M333.6 374.4l-.3.3M374.2 324.1l.9 1.4M350.3 356l.5 1.1M405.1 382.6l.4.4M358.7 302l1.2.8M361.5 381.4l-.6.3M415 362.9l.6.4M426.7 335.8l.7.8M386.7 330.4l-.1.7M333.5 332.7l-.7.5M410.3 345.9l.7.1M398 364.6l.4.5M367.1 344l-1.1 1.8M354.3 347.8l-.1 1.6M355.9 350.2l.8.9M409.3 331.2l-1.3 1.6M390 369.8l-.5.2M360.2 308l-1.2.2M408 300l1.5 1.3M386.8 340.6l2 .5M371.8 300.9l-1.1 1.9M428.8 330.5l-.2.8M413.6 380.4l-.7.5M405.5 360.9l-.5.1M422.6 379.4h0M348.8 302.7l-.3 1.2M345.5 345.1l2 .7M412.5 325.7l.1.3M429.3 355.3h0M390.4 369.1l-.1.5M369.2 331.6l1.7.5M368.4 329.4l-.2.8M397.8 375.7l1.1 2.1M402.9 383.5h0M387.9 314.8l-.2 1.7M400.2 329.4l.3.5M385.5 316.4l.1.4M399.7 360.6l.2.1M387.2 326.5l.6.4M432.3 354.8l.6 1.3M396.2 338.5l-.5 1.3M380.1 348l.8.5M389.7 352.9h0M431.6 346l-.4.5M341.6 366.7l-1.3 1.3M392.4 300.1l-1.7 1.7M408.8 381.8l-.7 2.2"/>
<path stroke="#e8c4e2" stroke-width="3" d="M389.8 369.9l-.6.2M425.4 307.7l-.4 1.9M385.8 382.8h0M414.4 302.8l.5.9M427.7 357.5l-0 .6M405.6 362.8l-.9.3M422.7 357.7h0M386.9 373.6l-.2.3M412.8 363.7l-1 .9M412.2 343.5l-.5 1.7M380.6 356.1l-.8 0M407.9 335.1h0M342.8 337.8l-.3.7M404.4 300.5l2.2.8M428 312.4l-.6 2.1M414.1 360.8l1.8.2M395.1 328.8l2.1.7M356.3 381.5l1.2.8M427.2 365.1l-.8 1.7M332.9 373.2l-1.9 1.6M389.7 344.9l1.6 1M421.2 337.9l.3.3M365.2 342.4l1.8 1.5M351.7 316.2h0M424.6 351.8l.1 1.4M369.1 319.3l1.9.2M368.3 306.2l-1.3.4M379.1 325.4l.2.7M412.1 322.2l-.1 1.8M331.2 312.9h0M381.7 306.2l2.5.1M416.7 345.6l-.2.4M417.7 309.3l-.9 1M338.9 313.8l1.1 1.2M340.4 375.6l1.5.6M426.3 364.5l-.6 1.7M389.4 343.5l-1.6.5M358.8 371.2l.5 2.2M359.6 312.3l-.6 2.2M425.8 343l-.4.7M396.9 366.3l2.1 1.4M391.3 345.4l-.8 1.4M353.6 316.8l.4.6M362 349.3l1.4 1M370.4 352.2l.3.4M356.3 307.5l2 .1M398.9 373.7l-2.3.4M403.3 364.2l1.4.3M425.9 363.6l-.5.3M391.8 374.3l-.6.9M430.5 329.6l-.8.9M355.9 344.4h0M383.9 372.3l-.1.5M415.9 375.5l.1 1.2"/>
<ellipse cx="408" cy="310" rx="7" ry="5" fill="#fcf8fb"/>
<ellipse cx="380" cy="367" rx="6" ry="3.5" fill="#fcf8fb"/>
<ellipse cx="421" cy="348" rx="3" ry="2" fill="#fcf8fb"/>
<ellipse cx="342" cy="324" rx="6" ry="1.5" fill="#f8eef6" transform="rotate(-20 342 324)"/>
<ellipse cx="408" cy="310" rx="7" ry="5" fill="#fcf8fb"/>
<ellipse cx="380" cy="367" rx="6" ry="3.5" fill="#fcf8fb"/>
<ellipse cx="421" cy="348" rx="3" ry="2" fill="#fcf8fb"/>
<ellipse cx="342" cy="324" rx="6" ry="1.5" fill="#f8eef6" transform="rotate(-20 342 324)"/>
<path stroke="#6e3898" stroke-width="1.9" d="M339.1 302.3l.2.5M385 301.8l-.8 0M400.3 305.2h0M385.4 308.7l-.2.3M430 308.1l.5.3M356.4 311.6h0M425.3 310.3l-.3.1M338.3 314.4l-.4.6M357.6 313.7l-.2.8M333.2 317.4l.1.6M364 315.8l-0 .5M399.1 315.9l.5.2M334.8 320.7h0M431.9 320.1h0M396.7 322.6l.5.5M378.7 331.4l-.2.3M376.1 335.5l-.3.3M390.8 336.7l-.3.6M422.1 341.4l.8.3M331.9 342.7l.2.7M344.3 346l-.5.6M346.6 347l.1.6M383.4 346.8l-.4.4M389.9 346.3h0M349.2 351.5l-.3.5M353 352.5l-.1.7M359.8 352.1l.8.5M332.5 355.1l.2.3M417 355.3l1 .1M427.7 356.2l.3.6M337.9 358.9h0M392.3 357.7l.8.1M412.2 359.4h0M358 360.7l-.6.3M431.2 368.1h0M358.8 370l.6.1M388.1 372.9l-.1.7M411.4 373.4h0M353.3 375.9l-.3.2M422.1 376.5l.2.4"/>
<path stroke="#8248a4" stroke-width="2.5" d="M351.6 302.3h0M355.2 301.3l.8.5M361.5 302.5h0M365.2 302.5l.2.9M351.1 305.4h0M390.4 304.6l-.6.1M349.7 308.5l-.6.4M423.9 307.6l.5.4M359.6 311.6l-1 .1M363 310.1l-.9.1M373.9 310.6l.6.4M377.5 310.3h0M361.6 313.5l-.6.7M370.4 317.2l.1.3M380.3 317.6l-.5.6M417.1 315.5l.2.8M431.6 316l.3.4M348.3 320.4l-.2.2M359 318.6l-.2.5M381.6 319l-.8.3M434 318.8l.4.6M383.5 323.3l0 .3M386.1 323.1l.3 0M432.7 322l-.5.1M358.7 324.9l.9.3M364.9 326.2l.3.4M382.3 325.2l-.1.2M357.3 329.3l.3.3M373.1 329.5l.6.2M355 331.9l-.1.8M433.7 331.2l-.3.6M345.9 333.7l.8.4M374 335.1h0M389 334.4l-.4.3M433.4 333.7l-.7.6M336.7 336.5l-.6.7M388.7 338l.3.4M421.5 337.1h0M430.3 337.2l-0 .9M338 340.8h0M354 340.1h0M356.1 340.8l-.7.2M377.2 340l-.3 0M420.6 341.3h0M341.5 342.6h0M359.4 343.9l-.2.4M388.7 343.4l0 .9M391.1 344.5l.2.3M423.8 343.5l.6.1M393.3 346.6l-.9.3M352.1 348.8l-.4.4M357.8 350.2l-.8.4M429 350.4l-.4 0M369.3 352.3l.3 0M409.9 352.6l.2.2M418.4 353.4h0M408.2 354.9h0M424.1 354.6l.7.5M347 357.5l.9 0M354.1 358.9h0M362.3 358.4l.6.2M377.5 357.8l-.1.2M386.9 358.9l0 .3M418.8 358.2h0M425.5 358.5h0M386.1 360.9l-.7.1M416.6 364h0M348.8 368.2h0M388.8 367.6l.2.9M398.6 366.1l-.1.5M375.8 370.5h0M398.8 369.7l-0 .7M402.8 370.5l.7.3M370.6 372.1l.3.6M378 372.8l.5.2M386.4 376.4h0"/>
<path stroke="#8248a4" stroke-width="1.9" d="M368.3 302.3l-.4.1M408.7 301.3l-.4 0M343.1 304.1h0M346.4 305.7l-.5.6M382.3 305.4h0M417.2 304.3l-.2.8M369.8 310.2l.3.6M395.9 310.2l-.2.2M433.5 311.8l-.1.2M341.7 313.3h0M397.3 313.4l.3.9M415.7 314l-.6.3M434.9 313.8l.4.5M366.3 316.2l-0 .5M393.9 317.4h0M354.5 319.4l-.4.3M362.7 320.4l-.5.4M397.4 320.6l-.8.4M361.1 322.1l.1.5M374.2 321.9h0M375.2 323.2l.3.9M390.5 321.9l.7.6M331.6 325h0M420.7 325.8l.3.5M340.7 327.8l0 .5M346.7 329.4l-.5.3M364.2 327.8l.1.3M379.9 327.9h0M390.6 329.6l-.5.1M422.5 328.2l-.1.6M436.2 328.8l.4.9M341.4 330.9l-.3.5M362.4 331.8h0M365.1 331.3l.4.1M360.9 333.5l0 .4M382.2 337l.3.2M379.6 343.7l-.7 0M405.4 343.5h0M406.9 343.4l.7.1M425.3 346.4h0M387.6 349.1h0M391.2 349.5h0M399.3 349.2l-.3.4M407.3 350.1l-.3 0M431.7 349.8l-.5.2M347.5 352.9l-.5.4M356.8 352l.4.3M421.9 353.1l.2.4M432.9 352.6l-.2.4M359.6 355.5l-.2.3M374.2 355l-.8 0M378.1 355.9l-.2.4M423.1 358.9l-.1.6M430.5 358.7l-.3.1M335.5 362.2h0M388.7 360.1l.4.7M421.6 362.2l-.2.4M363 365l-.8.6M406.1 364.9l.6.4M339.6 369.5h0M392.5 369.3h0M396.5 369.6l.6 0M409.6 369.4l-.8.3M340.6 374l.6.4M418.2 373.6h0M425.1 373.2l-.9.2M430 373.3l.8.3M434.1 374h0M344.3 376.9l.4.3M350.8 377.2l-.2.2M393.6 376.9l-.7.4"/>
<path stroke="#9c5eb0" stroke-width="2.2" d="M372.6 301.4l-.5.6M354.8 307.6l-.3.1M408.9 317l-.6 0M370.5 322.2l-.4.9M418.4 326l-.1.6M369.8 329.5l.2.2M383.8 328.9l.6.2M413 327.8h0M416.6 329.2l-.6.4M337.1 334.6l.7.5M339.7 335.3l.3.1M392.8 335.6h0M436.3 334.4l-.7.4M340 340.3l.5.8M365.8 340.7l-.1.3M432.4 339.8l.9.4M397.7 343.4l.2.1M415.4 342.5l-.1.8M353.2 347.1l-.2.5M404 346.4l-.2.2M380.2 350.2l.4.4M425 349.2h0M338 351.5l-.1.3M367 352.9l-.3.7M412.2 353l.2.2M335.6 354.7l-.6.1M341.6 354.7l.2.6M354.3 355.3h0M404.7 354.7l.2.2M344.4 358.7l.2.2M357.2 357.4l-.2.1M389 357.5h0M396.6 357.9l-0 .9M402.8 358.8l.4.6M436.4 358.5l.5.1M424.1 361.1h0M370.1 364.6l-.2.4M344.6 366.2l.2.2M369.1 367.5l.5.3M371 368.2h0M416.9 366.4h0M367.3 373h0M397.2 374.3h0M358.7 376.5l.7.1M367.1 376l-.5.1M430.1 376.3h0"/>
<path stroke="#5c2c8c" stroke-width="2.2" d="M381.9 302.8l-.7.3M413.3 304l.3.2M427.1 325.6l.6.5M332.5 331.1l-.4.4M374.9 336.6h0M373.7 346.6h0M374.2 360.8h0M357.9 369.5l-.4.1"/>
<path stroke="#9c5eb0" stroke-width="2.5" d="M391.2 300.9l.4.8M360.9 305l.4.3M401.6 305l.7.4M421.9 305l-.4.2M331.2 307.1h0M367.5 310h0M386.7 311.4l.4.4M419 311.2l.2.5M429.7 310.4l-.1.3M334.4 314.8l-.3.2M419.1 316l.2.3M344.2 319.3h0M334.4 328.6l.4.8M371.6 331.6l.2.3M362.3 334.8h0M385.5 334.9l.8.2M418.9 334.3h0M363.2 338.2l-.9.4M351.3 344.2l.2.3M365.1 342.4l0 .4M416.7 342.8l.5.7M433.4 346.9l0 .7M331.3 349.5l.2.6M404.7 350.1h0M392.7 351.4l-.4.8M415.7 353.1h0M435.3 351.4l.8.6M346.3 354.7h0M364.6 354.3l-.4.3M402.3 356.1l-.9.4M382.4 361.8h0M392.6 360.6l-.2.2M431.1 362.1l.9.4M388.9 365l.1.3M362.9 370.2l-.7.5M405.2 373.4h0M348.2 375.4l-.5.2M406.6 375.2l-.3.8M413.1 375.5l-0 .4M415.8 376.8l-.9.3"/>
<path stroke="#9c5eb0" stroke-width="1.9" d="M394.3 302l.2.3M365.4 305.5l.4.9M436.1 304.8l.4 0M368.3 308.8l.5.2M422.1 308.2l-.4.3M423.6 309.8l-.1.6M377.9 314.1l-.5.9M384 313l.5.2M375.8 316.6l.3.7M414.1 315.7l-.8.6M374.6 319.9l-.1.3M414.8 320.3h0M414 321.8l-0 .5M418.8 321.9l.3.1M422.3 322.3l.6.8M405.1 324.8l-.5.6M398.6 327.8l.1.6M344.7 331.2l-.6.2M351.2 331.7l-.9.2M382.2 331.6l-.2.6M385.7 331.8h0M407.4 335.2l-.5 0M424.3 335.4l-.9.4M433.8 337.4h0M350.7 340.3l-.9 0M430.3 340.1l-.9.2M434.8 340.7h0M364.6 352.9l-.2.2M397.3 351.5l-0 .6M406.4 353.1l-.3.1M351.3 355l-.2.2M385.7 354.9h0M435.3 356l.2.6M361.2 357.4l-.1.7M433.1 359.1l-.6.1M400.4 364.2l-.5.3M427.3 363.8l-.3.2M361.3 372.8l-.1.4M374 372.4l.2.3M396.4 376.9l.3.6"/>
<path stroke="#6e3898" stroke-width="2.2" d="M411 302.3l-.3.2M415.2 300.9l.6.5M423.7 302.2l.6.1M430 301.7l0 .3M339.1 304h0M341.1 306.4l-.2 1M339.6 311.1l.7.4M352.7 311.5l.8.4M382.9 311.1l.2.7M391.1 314.2l-.8 0M400.7 312.7l-.3.7M341.1 319.9h0M402.2 322.7l-.5.6M409.6 323.3l-.1.5M368 326.3h0M374.4 326.3h0M384.1 325.5l-.4.5M407.4 325.2h0M394.9 332.7l.6 0M382.7 335.1h0M429.7 335.4h0M369.3 337.8l.2.4M378.1 336.7h0M370.9 343.5l-.4.5M333 345.8l.1.4M337.9 347h0M375.6 346.3l.3.5M400.5 346.7l-.2.4M345.2 350.4l.3.1M374.9 349.8l-.6.8M383.2 351.3l.4.3M389.8 352.5l-.1.5M381.2 356l-0 .3M431 354.7l-.4.4M379 357.5l.7.4M349.6 360.7h0M371.9 362h0M341.1 364.2l-.6.2M354.1 365.3h0M335.9 367.1l-.4.6M413.6 366.5h0M350.6 370.6l.1.6M412.3 369.6l-.3.1M347.7 373.2l-.1.3M358.1 374.1l.4.2M380.8 372.8l-.3.6M393.3 372.4l.5.5M408.9 375.5h0"/>
<path stroke="#8248a4" stroke-width="2.2" d="M421.1 302.9l-.4 0M336.4 304l-.3.2M419 305.2l-.3.4M359.3 307.6l.3.9M363 307.4l-.3.2M364.5 307.1l-.2.8M351.7 314.6h0M420.9 312.9h0M390.8 315.8l-.5.6M396.4 317.2l.2.4M391.4 319.6l-.4.5M427.3 319.4h0M362.6 322.7l.4.7M392.1 321.6l.1.5M388.9 326.2l-.1.3M411.3 324.8l-.3.3M414.6 325.9l-.7.5M430.2 325.4l-.3.1M351.1 329h0M360 327.8l-.1.3M408.6 329.3h0M433.9 327.6l-.8.1M398.6 332l.3.9M406.9 332.3l0 .2M417.3 332.6l-.4.1M427.1 330.7l.6.4M430.2 331.4l-.1 1M335 335.2l-.4.1M380.6 334.2l.1.4M400.2 335.2l-.5.5M425 333.5l.6.4M339.2 336.4l.4.8M348.4 338l-0 .5M370.6 337.6l.4.1M423.4 337.8l.4.4M372.6 340.4l.4.2M381 339.4l-.4.8M386.8 341.2l-.3.1M397.1 340.8l-.4.7M399.1 340.3l.5.8M426.7 340.7l.5.7M348.4 342.6l-.1.5M380.2 342.6l.4.1M393.8 343.8l-.1.4M427.3 343.5l.4.9M351 345.9l.2.1M363.8 346.9l.4.1M366.1 346.7h0M405 346.9l.8.3M377.6 348.6l-.1.8M394.5 348.6l-.3.2M411.3 349.5l.3.2M341.4 351.9l-.4 0M379.2 353.3h0M425.3 352.4l.3.5M429.4 352.2l.5 0M372.4 355.2l-.9.2M411.2 356.4h0M351.2 358.8l-.7.1M400.2 358.2h0M394.1 361.1l-.4.1M417.9 360.1l.7.6M426.9 361.5l.3.1M333 364.7l.2.1M413 364.1l.8.3M401.4 367l.8.4M428.3 366.5h0M334.2 370.5l-.3.4M336.7 370.3l.2.2M366.1 370l.6.8M425.1 370.7l.4.1M344.3 372.8l-.5.6M373.4 376.6l.1.5M384.5 375.2l-.4.7"/>
<path stroke="#5c2c8c" stroke-width="1.9" d="M427.3 301.5l.8.1M338.7 320l-.6.4M384.8 320.2h0M349.8 349.4l-.4.5M433 375.2l-.4 0"/>
<path stroke="#6e3898" stroke-width="2.5" d="M435 301.5l-.4.9M396.4 305l.1.6M345.5 308.7h0M398.2 306.9l-.2.6M343.3 311.5h0M399.9 311.2l-.5.6M354.8 314.1h0M364.5 313l-.2.5M357.6 316.6h0M382.3 317.7l-.5.2M435.5 316l.3.3M401.5 320.5l-.3.6M407.9 320.7l.6.1M435.5 325.9l-.5.3M387.7 328.2l-.2.8M403.6 328.1l-.5.6M354 335.2l-.4.2M388.9 340.4h0M406.2 339.8l-.2.6M367.2 342.8l.4.8M386 346.2l1 0M363.5 349.2l.8.3M400.9 348.8l0 .7M373.3 351.4l-1 .1M339.8 361.7l-.1.3M414.6 361l.2.2M359.1 364.9h0M350.7 368l.7.1M351.3 372.3h0M391.1 372.4l.3.4M337.2 375.4h0M339.9 376.1l.6.1M357.2 375.9l.5.6M390.3 375.8l.4.3M426.5 376.5l-.2.3"/>
<path stroke="#b676bc" stroke-width="1.9" d="M354.1 306l.4 0M369.1 320l.3.4M405.3 320.3l-.3.1M420.6 320.3l.8.2M345.6 338.5l-.7.4M422.1 367.9h0"/>
<path stroke="#5c2c8c" stroke-width="2.5" d="M391.4 308.7l.6.4M394.9 313.9l-.3 0M354.1 316.7l.1.5M372.1 326.3l-.6.5M402.1 343.4l.1.9M434.7 366.4l.4 0"/>
<path stroke="#b676bc" stroke-width="2.5" d="M376.2 313.8l-.4.7M423.8 319.1l-.5.2M424.9 321.7l.2.8M424.3 332.2h0M343.2 338.1l-.4.4M433.8 342.8l.3 0M416.4 345.5l-.1.8M423.5 364.4l-0 .3"/>
<path stroke="#b676bc" stroke-width="2.2" d="M371 320.1h0M417.3 318.6l.1.7M367.5 322.3l.4.2M337.5 332.1h0M410.3 332.5l-.5 0M366 333.6h0M363.2 340.5h0M363 342.8l-.3.4M379.2 361l.3.1M394 363.4h0M368.8 370.5l.3.3"/>
</g>
<path stroke="#808088" stroke-width="1.1" d="M335 379.2h22.5"/>
</g>
<clipPath id="cr0"><path d="M19 387h100v81h-100z"/></clipPath>
<g clip-path="url(#cr0)"><g filter="url(#bl)" stroke-linecap="round">
<path fill="#fbf0f4" d="M18 386h102v83h-102z"/>
<path stroke="#f5d0e0" stroke-width="4" d="M106.2 407.8l-.3.2M35.3 386.2l-1.1 1.4M30.7 425.8l.5 2M117.6 404.4h0M31.3 385.7l.7 1.6M83.5 428.5h0M119.2 386.2l-.1 1.9M79.4 442.6l.4 1.3M34.2 457.7l-.1 2.5M84.3 435.9l1.4 1.5M80.6 421.3l-2.3.4M47.6 408.5l-1.5 1.3M69.8 398.3l.3.7M25.1 418.9h0M47.6 420.8l.3.5M59.5 426.3l.4.3M89.2 432l1.5 1.7M47.4 452.4l-0 2M46.4 443l.1.4M118.1 436.3l1.2.6M74.8 387.5l1.5 1.8M79.8 419.9h0M97.8 444.2l-1.2.5M103.8 454.5l-.8 1.4M94.1 432.2h0M104.7 387.3l1.4.2M106.9 406.2l-.1 2.1M32.1 410l-.2.2M47.2 463.6l.7 1.7M71.1 410.3l-2 0M101.3 404.2l-.1.3M70.5 427.7l-.9.3M50.9 458.5l.1 1.2M114.6 468.8l1.1 1M66.8 461.4h0M51.5 449.5l-.5 1.8M116.1 388.7l.2.7M65.7 430.4l-1.1 1.9M26.2 438.3l-.1.6M61.2 408.2h0M19.5 444.4l-.3.2M39.9 438l1 1.4M50.1 435.3l-.4 1.4M20.2 406.1l-.4.5M64.2 394.2h0M43.9 427.3l-.3.1M95.2 412l1.2 1.8M66.4 454.4l.4 1.6M92.4 457.2h0M100.3 401.8l-.3 2.1M76.5 387.6l-.2.2"/>
<path stroke="#f2c6d8" stroke-width="3" d="M45.9 423.6l.5 1M97.8 467.5l.9 1.6M37.3 440.7l-.2.4M91.6 444.5l-.4.6M52.6 413.4l-.4.4M84.9 417.7l.3 1.6M72.9 465.9h0M37.9 428.3l-1 .3M76.3 447.1l-2.1.1M32.4 466.4l.6 0M38.7 445.8l.8.4M87.7 427.1l-.6 1.2M48.1 441.9l1.4.7M23.9 423.7l-1.8 1M99.5 456l.9.8M86.3 456.3l.9 0M98.1 417.7l2 .1M26.4 410l.6.8M76.9 450.2l.4.3M54.6 452.5l-.1.7M69.5 413.8l-2.1 1M96.1 457.6l-1.1.6M44.5 445.9l1.2.3M39.1 432.9l.6 2.3M112.4 452.8l.5.1M41 440.5l-.3 0M100.1 444.2l.8.7M99.6 387.9l-2 .1M33.4 405.1l-1.1 1.8M84.1 447.6l-1 1.7M80 458l.3.9M77.8 409.3l2.2.4M110.3 398l-2.2 1.1M76.6 445.6l.3 1.4M88.1 426.5l-.9 1.3M82.1 468.2l1.6.2M33.2 448.3l.4.4M68.5 453.9l.2 1.5M109.7 393.6l.5 2M18.2 389.4l1.2 1.7M82.1 451.8l.4 0M27.8 412.4l.8.7M73 444l1.8 1.3M29.3 432.8l1.6 1M66.2 467.5l-.2 1.8M116.5 449.2l-1.3 1M26.8 465.6l1.3.5M64.1 467.7l1 2.2M76.9 407.2l0 .3M47.6 467.5l.3 1.7M114.9 420.9l-1.8.1"/>
<path stroke="#f8dce8" stroke-width="4" d="M38.6 457l-2.4.3M98.9 451.1l-1 2.1M32.8 429.9l-.6 2.2M65.6 468.9l-.2.3M29.6 414.5h0M72.6 468l2.3.3M92.7 402.9l1.1.8M63.6 446.2l-1.1 1.1M65.1 441.8l-.8 1.2M21.4 464.8l.6.1M95.6 422.6l2.1.8M99.2 449.8h0M108.6 392.2l.1 2.2M91.4 432h0M81.6 407.2l.4 1.6M66.7 468.3l.1.3M64.2 446.2l-1.6.6M72.5 392.9l1.2.1M39.9 462.9l-.6.1M72.3 419.2h0M100.2 392.4l-.1 1.9M113.9 397.3l.6.7M90.9 393.9h0M120.4 396l0 1.1M57.3 424.7l2.1 0M62.8 457.5h0M26.7 465.4l1.1 1.7M79.7 436.2l-.2.2M86.5 391.5l-.6 1.9M109 386.9h0M107.9 428.3l-.1 1.2M87 444.7l-.2.7M108.2 443.2l.7.1M79.4 462.1l.7 1.2M117.9 433.8l2 .3M104 461l1.3.6M120.2 388.2h0M45.5 413.4h0M99.1 455.3l-.4 1M20.5 411.5l1.3.4M83.5 463l-1.3.1M88.5 416.4l.9.9M20.7 447.1l.6.2M108.6 459.3l.7.4M89.4 415.2l-1.7.7M64.4 455.6l.8.9M71.7 400.1l-.6.3M64.5 448.7l-1 1.3M82.9 387.5l2.1.9M84.1 418.8l-.5 1.4M57.3 413.1l1.6.4M45 457.6l.6 1.4M86.5 434.3l-1.4.3M96.9 431.1l-1 1.1M20.5 445.6l.3 1.7M49.1 465l.2 1.7M65.3 460.1l.4.6M111.7 466.3l1.2 1.4M82.6 386.5l-.2 1.4M38.5 451.2l-.9 1.4M28.9 442.5l-.3.2M43.3 431.2l-2.3.2M25.1 419.9l-.7.6M33.8 444.8h0M75 461.3h0M19.3 410.4l.2 2.3M72.5 468.3l.9 2.2M114.4 395.9l.9.7M85 441.2h0M34.8 418.4l-.7.2M66 428l-.7 1.2M88.3 434.7l.7 1.9M118.3 388.5l.2 1.4M70.7 392.1l1.1.1M86 443.7h0M60.4 439.1l-1.1.8M121 401.2l-1.2 1.5M28.6 468.2l-2.1 0M54.8 460.6l-.9 1"/>
<path stroke="#fae6ee" stroke-width="4" d="M101.9 394.8h0M78 442.5l-1.5 1.7M110.1 431.3l-.6 1.7M49.5 441.5l-.6 1.4M83.9 415.6l-0 .8M21 407.1l-.9 1.4M61.1 451.9l-1.6.3M78.6 405.4l-.3.5M27.7 459.9l-.6 0M58.7 415.2l-.4 1.8M52.1 438.2l-.5 1.5M100.8 409.1l-1.2 1.6M102.5 451h0M72.9 457.8h0M86.2 424l-.2 1.1M36.5 463.9h0M45.3 432.1h0M46.9 440.3l1.8.6M40.7 426.1l1 2M30.2 416.5l-.8.5M63.1 455.7l1.7.7M66.5 454.2l1.8 1.5M27.4 428.6l-.2.7M66.5 417.3l-.2.4M60.1 416l-.4 1.2M110.5 440.6l-.1.3M23 406.1h0M95.5 435.6l2.1.3M66.3 404.4l-.9.3M74 449.5l-1.3 1.5M21.6 449.1l2.2.1M42.3 467.9l-.9 1.4M84.1 409.2l-.9 2.2M57.6 462.7l.7 1.3M68.4 443.1l1.6.8M25.6 385.5l1 .9M113.9 425.7l1.1 1.2M29.2 444.1l.9.7M75.3 395.5h0M28.8 412.2h0M70.3 409.6h0M22.5 452.7l-1.5.7M22.2 415l-.2.3M90.2 461.5l1.1.6M79.7 468.3l-.2 2.1M111 446.4l.1.6M79.2 438.2l-.1.6M99.2 432.1l2 .1M26.9 413.6l.2.3M54.1 459.3l-.2.1M31.5 442.4l2.1 1M43.4 467.3l-.8 2.1M71.1 428l-1.4.1M23.5 468.1l.6.1M33.1 417.3l.2 2.2M110.6 462.3l-0 .6M84.4 414.3l0 .3M56.2 453.8l-1.5 1.9M33.4 445.8l1.3 1.9M112.2 469.1l-2.4.5M50.6 440.1l-.7.6"/>
<path stroke="#f2c6d8" stroke-width="4" d="M47.7 459.2l-.8.8M102.7 426.2l-1.7.3M115.4 396.7l2.3.4M85.7 448.8l-1.1.4M25 427.3l1.7.5M108 408.5l-2.3 1M78.2 444.4l1.9.6M107.7 425l-.2 1.2M84.1 448.4l-.3.4M100.4 426.7l.1 2.5M47.7 451.4l-.2 1M79.9 406.7l.5.7M55.3 418.7l.6.2M56.5 409.1l-.2.3M41 447.5h0M28.3 461l-.5.6M65.8 402.2l.3 2.3M73.1 439.7l-1.5.1M24.5 409.7l.3 0M61.7 411.8l1.4.2M109.1 404.1h0M113.2 389.5l-.3.8M119.1 397.9l-1.1.6M80.3 391.5l-1.2.1M43.3 419.4h0M47.7 453.5l-.3.1M117.8 447.3l-.6.4M79.4 427.3l.1.8M75.8 447.2l-1.4 0M109.2 467l.2 1.3M51.2 409.9l-.9.2M22.3 466.2l.4.5M25.6 421.3l-1.1 1.6M116.3 460.4l-.1 1.9M112.8 459.4l-.9 2.2M91.7 421.8l-1.3.4M28.7 429.8h0M80.5 433.5l.9 1.3M116.2 435l.9.4M104.8 395.1l.7 1M89.8 401.8l-.3 1.5M66.9 452.1l-.6 1.8M39.9 459.3l1.3 1.6M92.8 424.6l-1.4 1.4M75.3 462.2l-.4.3M110.9 411.9l.2 2.3M51.6 424.7l.7.3M105.7 414l.8.4M105.5 456.6l-.8.9M67.9 398.4l-.3.9M46.1 468.3l-1.2 1.9M93.8 430.8l.1.6M22.5 418.8l-1.4.1M77.1 467.6l1.6 1.4M66.3 425l-2.4.3M90.9 445l-2 .1M51.3 434l-.1 2M44.8 436.5l-.5.3M35.3 414.4l-2.1.9M81.3 397.1l-1.9 1.1M39.6 409.2l.4 2M95.3 428l-.3 1.1M114.2 405.9l-.2 1M101.6 464.9l-1 .8M94.3 401.5l.3.1"/>
<path stroke="#f8dce8" stroke-width="3" d="M54.3 454l.8 1.7M99.6 422.8l-.1 1.8M99.2 393.3l1.4.9M116 435.2l-.5.2M33.1 416l-.8.4M119 426.3l.6.6M27.5 439l-1 .1M36.4 426.2h0M106.7 403.4l-0 .4M64 415.3h0M86 415.6l.3 1.6M58.8 414.6l2.2 1M60.3 423l-.8 1.7M39.8 449l-.4.7M55.4 418.2l-.4 1.8M51.9 412.8l2 .3M63.5 465.2l2.5.1M92.4 418.2l-.7 1.3M103 464.2l-.1.3M37.4 443.7l.3 1.7M32.5 432.1l-.9 1M80.5 410.5l-1.1.4M107.5 440.1h0M115.8 428.2l.6.9M24.4 444.2l-.5.2M105 459.3h0M76.1 420.9l-1.3 1M101.7 399.5l-2.1.8M35.3 432.9h0M107.1 429.2l.3.8M114.4 458.4h0M58.8 463.9l1.4.1M18.8 460.3l-1.4.7M25.3 452.9l.3.8M100.2 434.6l.4.9M48.2 449.3l-1 1.9M73.1 445.9l-1 .6M46.3 443.7l-.4.5M72 408.5l-.8 2.4M35.1 451.6l2.1 1.1M86.7 413.2l1.4 1.2M25.8 419.8l-.3.8M39.9 425l-.2.7M21.3 424l-1.4.3M18.4 413.8l-.7 1.9M107.5 444.2l-1 .5M94.9 395.6l-.2.7M104.7 458.4l.8 2M107.8 407.7l.5 1.4M99.1 392.4l-.3 1.7M108.9 409l.7 1.6M46.1 434.4l.8.5M87.2 438.7l1 .1"/>
<path stroke="#fae6ee" stroke-width="3" d="M117.3 448.7l2 1.1M112 409.6l.4.8M65 427.9l-.4 2.4M106.7 405.5l.8.8M97.3 420.1h0M23.6 419l-.9.5M89 453.1l-.1.3M79.9 469h0M92.3 442l-.7.9M110.1 445.7l1.3 1.7M57.5 417.5l-1.1.9M96.4 428l1.4 1.6M118 466.5l-1.7 1.1M80 458.5l-1.3 1.8M71.7 435.4l-1.3 1.7M75.7 393l2.4.5M101.9 466.6l.3.1M113.4 462.3l-.7 1.5M109.2 445.1l1 1.5M107.8 419.5l-2.4.6M45.5 459l.8 2M119.3 418.6l-.7.6M57.1 457.4l1.5.6M85.5 439.8h0M117 404.5h0M32.1 468.1h0M78.2 450.5l.8 1.7M48.6 405.4l-.9 1.6M22.2 425.2h0M77 407.6l1.1.3M70.3 407.3l-1 1.7M53.4 460.4l2.1 1.3M105.8 418.7l-.5 2.1M102.1 457l-1 .2M120.1 387.6l-.9.7M71.2 455.2l-.3 1.3M32.6 434.3l-.9 1.3M20.1 461.2l1.8.3M90.7 421.3l-1.4.1M34.6 417.9l-.3.3M38.2 440.9l-.5 1.5M100.7 440.5l-1.9.3M66.6 408.1l0 .4M116.2 386.6l1.2 1.7M68.1 401.3l1.1.1M105.4 395.1l-.7 2M28.6 445.8h0M45.4 429.6l.9 2M97.3 446.4l.8 1.1M109.9 416.6l-.4.1"/>
<path stroke="#f5d0e0" stroke-width="3" d="M69.9 396.2l2.1 1M68.1 420.6l-.1.8M113.8 445.6l1.7 1.4M101.3 440l-1.3.2M75.8 452.2l-.3 2.3M34.9 423.7l-.1.4M62.7 429.8l-.9 1.5M70.2 397l1.2.9M20.3 416.8l-1.6 1.5M89.4 453.9l.2.9M70.3 458.9l-.5.9M110.7 423.5l.3.8M112.1 448.9l-.4 2.3M98.2 412.2l-.6.7M40.7 406.7l-1.1 1.9M93.2 432.1l.1.4M29 463.4l-.8 1M57.6 416.9l2 .3M79.2 423.6l-.1 1.3M39.3 446l.2.3M91.6 428l-1.3 0M55.9 421.4l1.7.4M84.8 408.1l2.2.5M46.6 466.2l.4.9M114.2 434.3l1.6 1.2M111.4 465.7l1.1 2M24.8 416.9l-.6.4M22.4 416.5l1.9.6M55.6 466.9l-1.6 1.8M70.7 461l-.2.7M40.5 438l.1 1.5M108.4 423.7l-.4.2M72.6 425.3l.2.3M18.1 447.8l.3.2M70.9 449.1l-.4.5M110.2 408.6l.4.3M113.3 438.8l-.4 1.2M78.3 467.3l.8.2M42.5 451.6l.9.9M118.8 392.3l.5 1M39.3 433.2l1 .7M50.3 466.4l-1.2.5M90.1 415.1l1 .5M72.3 450.7h0M73.4 403.8l-1.4.2M78.3 420.8l0 2.2M120.3 420.5l-.4.3M88.6 462.6l-1.3.8M52 429.2l-.5 1.6M93.8 389.2l.5 1.2"/>
<ellipse cx="41" cy="400" rx="26" ry="6" fill="#fcf6f8"/>
<polygon points="19,387 66,387 65.5,392 61,396 54,398.5 44,399 29,397 19,395.5" fill="#cc949c"/>
<polygon points="19,387 66,387 66,389.5 19,390.5" fill="#dcb0b6"/>
<path stroke="#24162c" stroke-width="0.6" fill="none" stroke-linejoin="round" d="M56.4 445.3l-2.8-.1 -2.8-.3 -2.8-.2 -2.8.2 -2.8.4M104.9 423.9l-2.6.3 -2.6-.1 -2.6-.6 -2.6-.6 -2.5-.7M72.7 456.6l1-2.9 .7-3 .1-3.1 -.5-3M80.4 406.7l-2.9-.1 -2.9.2 -2.9.5 -2.8.6 -2.8.8 -2.6 1.2M31.2 429.1l-2.1-1.7 -1.5-2.2 -.5-2.6 .6-2.6 1.3-2.3 1.9-1.9 2.3-1.3 2.6-.8 2.7-.1M78.9 445.7l2.5-.3 2.5-.2 2.5-.4 2.5-.4 2.5-.4 2.5-.3 2.5.1 2.3.9M85.9 453.9l2.8-.1 2.8-.1 2.7-.8 2.3-1.6 1.9-2.1M40.7 383.4l-2.8.5 -2.7.7 -2.7.8 -2.7.7M42.8 458.6l2.9.1 2.8-.6 2.6-1.3"/>
<path stroke="#1a1020" stroke-width="0.75" fill="none" stroke-linejoin="round" d="M94.4 468l2.3-1.1 2.4-.8 2.3-1.1 2.2-1.3 1.9-1.8 1.8-1.9 1.8-1.8 1.9-1.8 1.7-1.9M23.6 427.5l2.7-.7 2.8.2 2.5 1.3M25.1 437.4l-2.5.1 -2.5-.2 -2.5-.2 -2.4-.8 -2.1-1.4 -1.7-1.8 -1-2.3 -.2-2.5 .6-2.5M35.4 420.7l-2.3 1.5 -2.2 1.7 -1.8 2 -1.4 2.3M65.2 438.1l-2.5-1 -2.3-1.4 -1.9-1.9 -1.7-2 -1.1-2.4 -.9-2.5 -.6-2.6M111 460.6l3 .2 2.9.8 2.8 1 2.9.6M85.8 440.5l-2.8.1 -2.8.1 -2.8.1 -2.8-.3 -2.6-1M22.7 441l2.8-.4 2.8-0 2.7.7 2.4 1.4 1.6 2.3M40.4 441.4l2.2-1.6 2.2-1.7 2.5-1.2 2.7-.3 2.6.9 2.2 1.6"/>
<path stroke="#2e1c38" stroke-width="0.95" fill="none" stroke-linejoin="round" d="M65.4 435.3l-2.1 1.5 -2.3 1.1 -2.4 1 -2.5.5 -2.6.1 -2.6-.2 -2.4-.9 -1.8-1.8 -.9-2.4M78.8 421.1l-1.9 2 -1.8 2.1 -1.9 1.9 -2.3 1.5 -2.4 1.2 -2.5 1.2 -2.6.9 -2.7.5 -2.7.5M34.9 439.1l2.2-1.2 2.5-.3 2.4.8 1.9 1.7M44.9 386.5l-2.7-.5 -2.6-.8 -2.6-1 -2.4-1.4 -2.2-1.7 -1.6-2.2 -1.1-2.5M55.8 421.2l1.4-2.1 1.3-2.2 1.3-2.2 1.3-2.2 1.3-2.2 1.3-2.3 1.1-2.3 .9-2.4M68.3 404.4l2 1.7 2.3 1.2 2.4 1 2.6.6 2.6.6 2.5.6 2.6.4M52.7 387.3l-2 2.2 -1.8 2.3 -1.3 2.6M84.3 404.6l2.4-1.7 2.5-1.6 2.2-1.9 1.5-2.6M80.6 465.1l2.4-.8 2.5-.6 2.6.1 2.3 1.1 1.7 2 .9 2.4M107.3 431.5l1.7-2.3 1.1-2.7 1-2.7"/>
<path stroke="#24162c" stroke-width="0.75" fill="none" stroke-linejoin="round" d="M24.5 472.4l2.6-.3 2.6.2 2.6.4 2.4.9M34.9 457.4l-2.6.5 -2.6.7 -2.4 1.2 -2.2 1.4M72.5 412.4l1.3-2.3 .2-2.6 -.5-2.6 -1.5-2.2 -2.2-1.4 -2.5-.8 -2.6-.4 -2.6-.1 -2.6.6M88.8 459.7l-2.6 1 -2.3 1.6 -1.9 2M106.3 449.6l1.3 2.2 1.1 2.3 .9 2.4 .7 2.5 .7 2.5 1.1 2.3 1.6 2M97.3 469.8l-2 2.1 -2.2 1.9 -2.3 1.7 -2.6 1.3 -2.7 1M27.9 428.5l3.2-.8 2.7-1.8 1.7-2.8M14.4 464.7l-1.6 1.9 -1.5 2 -.9 2.4 -0 2.5 1 2.3 1.9 1.7 2.3.9 2.5.5 2.5-.1M113.8 407.5l2.4 1.5 1.9 2 1.7 2.2 1.2 2.5 .7 2.7 .3 2.8 .4 2.8M82.5 462.4l-1.8 1.9 -1.7 2 -1.8 2 -1.7 2.1 -1.2 2.4 -.2 2.6 .9 2.5 1.6 2.1M110.2 424.9l2.8-.3 2.8-.4 2.8-.1 2.8.5 2.6 1.2 1.9 2.1"/>
<path stroke="#44304e" stroke-width="0.75" fill="none" stroke-linejoin="round" d="M41.7 435.4l-2.3 1.4 -2.1 1.6 -2 1.7 -1.6 2.1 -.9 2.5 .2 2.6 .8 2.5 1.5 2.1M14.1 385.1l2.4 1.1 2 1.7 1.3 2.3 .3 2.6M25.6 418.8l2.6-.8 2.5-.9 2.4-1.2 2.2-1.5M15.8 416.2l-2.1-1.4 -2.2-1.3 -2-1.5 -1.8-1.8 -1.2-2.2 -1-2.3 -.7-2.4 -.2-2.5M71.1 440l2.7.1 2.7-.1 2.6-.5 2.4-1.2 1.9-1.9 1.1-2.4 .2-2.7 -.4-2.6 -1-2.5M28.3 425.3l-2.1 1.8 -2.4 1.3 -2.7.7 -2.7.3 -2.7-.2 -2.7-.6 -2.5-1.2M114.5 444.1l-2 1.8 -1.8 2.1 -1.9 2 -1.7 2.1 -1.7 2.1 -2.1 1.7 -2.1 1.7 -1.9 2M69 440.3l-2.7 1 -2.9-.2 -2.7-.8M39.3 386.2l-2.3 1.4 -2.3 1.2 -2.5.8 -2.6.2 -2.6-0 -2.6-.5 -2.5-.7 -2.5-1 -2.5-1"/>
<path stroke="#382646" stroke-width="0.6" fill="none" stroke-linejoin="round" d="M73.9 462.6l1.6-2.4 1.1-2.7 .2-2.9 -.6-2.8M100 398.5l-2.6-.2 -2.4-1 -2.2-1.3 -1.9-1.8 -1.8-1.9 -1.4-2.2 -.8-2.5 -.1-2.6 1-2.4 1.9-1.8M28.1 416.8l-1.1 2.4 -1.4 2.3 -1.5 2.2 -1.6 2.1 -1.5 2.3 -.8 2.6M33.5 414.1l1.4-2.2 .3-2.6 -.7-2.5 -1.7-2 -2.2-1.5 -2.6-.5 -2.6.2 -2.6.4M44.7 391.2l.4-2.7 -.1-2.8 -.5-2.7 -.5-2.7 -.9-2.6 -1.6-2.2 -2.2-1.6 -2.6-.8M39.2 434l-2.6-.6 -2.6-.7 -2.6-.6 -2.7-.2M89.1 407.5l2.8.1 2.8-.3 2.8-.2 2.8-.1 2.8.5 2.4 1.5 2.1 1.9 2 2M73.9 469.8l2.8-.3 2.7-.6 2.7-.8 2.5-1.2 2.1-1.9 2-2M100.3 395.9l-2.9-.2 -2.9-.1 -2.8-.7 -2.6-1.3M110.8 444.6l-2.2 1.3 -2.4.9 -2.6-.1 -2.3-1.1M17 398.5l-2.2 1.6 -1.9 2 -1.9 2M47.6 405.5l1.4 2.2 1.7 2 2.1 1.6 2.6.6 2.6-.2 2.5-.8 2.4-1M75 449l-1.4 2.2 -.4 2.6 .7 2.5 1.7 2 2.1 1.5 2.5.8"/>
<path stroke="#2e1c38" stroke-width="0.75" fill="none" stroke-linejoin="round" d="M120.7 448.8l-2.6.7 -2.2 1.6 -1.4 2.3 -.3 2.7 .8 2.6 1.8 2 2.4 1.2 2.7.1 2.7-.5M104.8 436.8l1.9-1.9 1.4-2.3 .9-2.6 .5-2.7 -.3-2.7 -1.3-2.4M105.4 432.2l1.6-2.1 1.7-2 1.8-1.9 1.6-2.1 1.5-2.2 .8-2.5M61.1 460.5l-1.9 1.9 -1.9 2 -2 1.8 -2.4 1.2 -2.7.2 -2.5-.9 -2.2-1.6 -1.5-2.2 -.5-2.7M19.9 453l3.1-.4 3.1.4 2.8 1.4M103.1 382.1l2.6 0 2.5.4 2.5.4 2.6.1 2.6-.4 2.4-1 1.9-1.8 1.2-2.3 .7-2.5M71.6 421.8l.3-2.7 -.2-2.7 -.2-2.7 -.3-2.7 -.1-2.7 -.3-2.7 -.2-2.7 -.5-2.7M113 442l-2.4.7 -2.5.3 -2.5-.3 -2.4-.8 -2.2-1.2 -1.7-1.9 -1.3-2.1 -1.1-2.3 -.9-2.3 -.4-2.5M108.9 432.1l-2.4 1 -2.5.5 -2.6-.1 -2.3-1.1 -1.7-2 -.7-2.5 .4-2.6 1.4-2.2 2-1.7"/>
<path stroke="#1a1020" stroke-width="0.95" fill="none" stroke-linejoin="round" d="M97.4 471.5l2.6-1.1 2.6-1 2.8-.3 2.8.2 2.7.7 2.5 1.2 2.4 1.4 1.9 2 1.6 2.2M111.7 451.1l2.6-.1 2.5-.7 2.4-1 2.4-.8 2.5-.3 2.5.2 2.5.7 2.4.9 2.3 1 2.3 1M26.7 443.8l-2.5.9 -2.7-.1 -2.4-1.2 -1.9-1.9 -1.2-2.4 -.8-2.5M84.5 447.8l2.5-1.4 2.6-1.2 2.8-.6 2.8.3 2.7.6 2.6 1.2 2.3 1.6M90.8 398l2.9.3 2.6 1.5 2 2.2 .9 2.8 -.3 2.9M53.9 454.8l-2.5 1.4 -2.1 1.9 -1.9 2.1M20.8 393.6l-2.5 1.2 -2.4 1.4 -2.4 1.5 -2 1.9 -1.9 2.1 -2.2 1.8 -2.4 1.5M116.6 398.3l2.7-.3 2.7-.4 2.7-.3 2.7-.2 2.7-.6 2.5-1.1 2.5-1.1 2.3-1.5 2-1.9M83.4 469.2l2.4-1.2 2.4-1.3 2.2-1.6 2-1.8 1.5-2.2 .6-2.6M80.2 385.2l-2.7 1.1 -2.7 1.2 -2.8.9 -2.9.4 -2.9-.4 -2.6-1.3M58.6 388.6l2.5.8 2.5.7 2.4 1 2 1.6 1.6 2 .8 2.5 0 2.6"/>
<path stroke="#44304e" stroke-width="0.95" fill="none" stroke-linejoin="round" d="M119.1 450.9l-1.7 1.9 -1.2 2.3 -1 2.3 -.4 2.5 -.3 2.5 -.2 2.6 -.1 2.6 -.5 2.5 -.5 2.5M14.2 435.7l2.7.4 2.6.6 2.7.4 2.6.6M118.8 397l-2.3-1.1 -2.2-1.3 -2.2-1.4 -2.3-1.1 -2.6-.3 -2.5.7M63.7 409.5l1.5 2.1 1.5 2.1 1.9 1.7 2 1.6 2 1.6 2.1 1.4 2.1 1.4 2.2 1.3 2.5.7M39.2 426.9l2.2-1.6 2.3-1.4 2.3-1.5M49.5 423.1l2.5-.4 2.5-.3 2.4-.7 2.2-1.2 1.9-1.6 1.4-2.1 .5-2.5 .1-2.5 -.3-2.5M120.5 405.1l-2.5 1.8 -1.9 2.4 -1.8 2.5 -1.7 2.6M114.6 400.4l-2.8.9 -2.6 1.4 -1.9 2.3M86.3 471.8l1.6 2.3 1.7 2.3 1.7 2.3 1.9 2.1 2.3 1.6 2.8.7"/>
<path stroke="#1a1020" stroke-width="0.6" fill="none" stroke-linejoin="round" d="M115.4 404.4l2.5-.4 2.5-.4 2.5-.1 2.5.2 2.5.6 2.4.9 2.3 1 2.4.8M32.3 399.8l2.3-1.5 2.2-1.6 2-1.9 1.5-2.3 1.1-2.5 1.1-2.5 1.2-2.5M54.5 433.6l1.8-2.4 1.2-2.7 1-2.8 .5-2.9M78.2 460.1l2.5-1.2 2.7-.7 2.8-0 2.7.6 2.6.8 2.3 1.5 2.2 1.7 2.3 1.6M120.9 463.7l2.7-.9 2.3-1.7 1.4-2.5 .5-2.8 -.1-2.9M76.5 444.1l-2.5 1 -2.5 1 -2.4 1 -2.4 1.2 -2.3 1.3 -2.1 1.6 -2 1.8 -1.5 2.2 -.5 2.6M95.8 434.3l2.1-1.7 1.8-2 1.9-2 1.9-2 1.9-1.9 1.5-2.3 1.2-2.5M61.4 471.5l1.9 1.9 2.2 1.7 2 1.8 1.7 2.2 1.6 2.2 1.7 2.1 1.6 2.2 1.4 2.4M18.8 387.4l-2.9.1 -2.9-0 -2.9.2 -2.9.1M115.5 391.3l2.5.3 2.3 1 1.8 1.8 .8 2.4 .4 2.5M79.5 409.2l-2.3 1.1 -2.5.1 -2.5-.5 -2.1-1.5 -1.5-2 -1.2-2.2 -.4-2.5 .5-2.5 1.3-2.2 1.7-1.9M53.6 456.1l-2.6 1.2 -2.7.7 -2.8.2 -2.8-.1"/>
<path stroke="#24162c" stroke-width="0.95" fill="none" stroke-linejoin="round" d="M35.9 420.7l-2.7-.1 -2.6-.8 -2.4-1.3 -2.1-1.7 -1.3-2.3 -.3-2.7 .6-2.6 1.3-2.3 2.2-1.6M88.8 455.5l2.6-.7 2.7.3 2.4 1.3 1.8 2 1.5 2.2 1.1 2.4 .1 2.7 -1 2.5M47.9 429.2l2.2-1.6 2-1.8 1.9-2 2-1.8 1.7-2.1 1.1-2.5 -0-2.7 -.6-2.7 -1.4-2.3M94.4 419.7l-.7-2.5 -1-2.4 -1.3-2.3 -1.7-1.9 -2.3-1.1 -2.6-.3 -2.5.5M41.2 469.2l2.4-1.3 2.5-1.1 2.7-.6 2.7.1 2.7.4 2.7.6 2.4 1.3 1.7 2.1 .8 2.6M98.6 412.5l-2.5 1 -2.7-0 -2.4-1.1 -1.9-1.8 -1-2.4 -.2-2.6 .9-2.5M103.5 417.6l-1.4 2.1 -1.2 2.2 -1.5 2 -1.6 1.9 -1.7 1.8 -1.4 2.1 -.8 2.4 -.7 2.4 -.4 2.5 -.2 2.5"/>
<path stroke="#44304e" stroke-width="0.6" fill="none" stroke-linejoin="round" d="M121.8 458l2.7-1.2 2.5-1.5 2.3-1.9 2.1-2.1 2.1-2M91.5 463.8l2 2.1 2.3 1.8 2.8 1 2.9.3 2.8-.9M61.4 383.1l-2.6.2 -2.6-.3 -2.4-1 -1.9-1.8 -1.3-2.3 -.4-2.6 .7-2.5 1.5-2.1M23.4 469.1l-1-2.4 -.1-2.6 1-2.4 1.9-1.8 2.5-.9M94.5 455l-2.5.6 -2.6-0 -2.4-1 -2-1.7 -1.1-2.3 -.2-2.6 .8-2.5 1.7-1.9 2.4-1.1M83.3 382.3l.3-2.5 .6-2.5 .8-2.4 .7-2.4 .1-2.5 -.3-2.5 -.3-2.5 .2-2.5 .3-2.5 .3-2.5M74.4 383.9l-1.7 2.4 -1.1 2.7 -.9 2.7 -.8 2.8 -.3 2.9M38.1 387.5l2.6-.2 2.6-.5 2.5-.7 2.6-.5 2.6.1 2.4 1M14.5 440.9l2.7.4 2.3 1.5 1.5 2.2 .7 2.6 0 2.7 -1.1 2.5 -1.9 1.9 -2.5.9 -2.7.2"/>
<path stroke="#382646" stroke-width="0.95" fill="none" stroke-linejoin="round" d="M51 459.6l-2.8.8 -2.7.9 -2.4 1.6M106 395.3l3-0 3-.2 3-.1M121.9 452.2l2.5 1 2.7.4 2.7.2 2.7-.3 2.7-.4 2.7-.1 2.7-.1 2.7-.3M50.3 456.2l-2.6.4 -2.6.5 -2.5.6 -2.5.7 -2.5.8 -2.4 1M54.9 459.2l-2.9 1 -2.9.9 -3 .7M110.1 463.7l1.7-1.9 1.2-2.2 1.2-2.3 1.4-2.2 1.1-2.3 .7-2.5 .5-2.5"/>
<path stroke="#382646" stroke-width="0.75" fill="none" stroke-linejoin="round" d="M121.5 445l2.8.8 2.8.8 2.7.9 2.8.5 2.8.3 2.8.7M89.9 442.9l-2.1 1.4 -2.2 1.3 -2.4.8 -2.4.8 -2.4.8 -2.3 1.1 -2 1.6 -1.9 1.7 -1.9 1.7M15.6 389.5l2.1-1.5 2.2-1.3 2.3-1 2.4-.8 2.3-1 2-1.6 1.9-1.7 2.1-1.4 2.3-1M110.7 422.7l2.7.1 2.7-.1 2.7.1 2.7 0 2.7 0 2.7-.3 2.7-.1M118.7 454.4l-2.2 1.9 -2.5 1.6 -2.3 1.8 -2.2 2 -2.5 1.6M35.8 411.2l-1.7-1.9 -1.9-1.6 -2.3-1 -2.5 0 -2.3 1.1"/>
<path stroke="#2e1c38" stroke-width="0.6" fill="none" stroke-linejoin="round" d="M106.9 461.8l-2.6 1.2 -2.5 1.4 -2.4 1.5 -2.2 1.8 -1.6 2.4 -.8 2.7M19.7 467.7l-2.8.1 -2.7.9 -2.5 1.2 -2.4 1.4 -2.3 1.6M67.2 461.3l-.5-2.6 -.7-2.6 -.6-2.6 -.2-2.7 .4-2.7 1.5-2.3 2.2-1.5 2.7-.4M83.4 425.8l2.4-1.3 2.5-1.1 2.7-.3 2.7.5 2.6.8 2.6.9M122.7 439.4l2.9.3 2.7 1.2 2.4 1.7 1.9 2.2 .9 2.8M31.5 469.9l-2.5-.4 -2.1-1.3 -1.8-1.7 -.9-2.3M62.1 463l2.4.8 2 1.6 1.3 2.1 .8 2.4 .4 2.5 -.6 2.4 -1.5 2M86 400.8l-1.5 2.2 -1.6 2.2 -1.8 2 -2.3 1.4 -2.5.9 -2.7.4 -2.7.2 -2.7-.3M105.5 411.6l-2.5-.6 -2.3-1.2 -1.9-1.7 -1.2-2.3 -.7-2.5 -.3-2.5 .1-2.6 .6-2.5 .7-2.4"/>
<ellipse cx="41" cy="400" rx="26" ry="6" fill="#fcf6f8"/>
<polygon points="19,387 66,387 65.5,392 61,396 54,398.5 44,399 29,397 19,395.5" fill="#cc949c"/>
<polygon points="19,387 66,387 66,389.5 19,390.5" fill="#dcb0b6"/>
<path stroke="#ea74aa" stroke-width="3" d="M30.7 386.2l.1.7M104.3 387.6l.4.7M107 388.1l-.3 0M119.2 386.3l-.4.7M80.1 389.4l-.5.3M124.8 391.1l-.1.5M103.4 396.4h0M116 399.3l-.1.9M118.1 398.9l.2.7M92 407.6l.2.9M33.1 409.6h0M57.7 409.3l-.4.4M71.8 410.4l-.3.3M47.8 413.1l-.5.1M70.9 412.5h0M75.1 413.9l.4.4M102.9 412.7l.1.8M58.3 416l-.3.8M110.6 416h0M124.5 418.1l-.4.1M41.1 420.5l-.3 0M85 420.5l.2.5M108.1 420.9l-.6.1M35.7 424.1l-.6 0M45.7 423.1l.3.7M69.4 424l.4.3M91.3 423.4l1 .1M112.3 424.6l.3.3M92.7 427.1l-.4.8M120.4 426.2l-.6 0M98 431.1l.3.1M105.5 431l-.5.5M121.2 430.4l.2.5M52.3 433.1l.4.1M99.8 433.3l.1.5M114.9 432.5l-.5.1M117.9 434.3h0M49.4 436.3l.8.1M101.8 436.3l.4.2M47.7 440.1l.4.2M70.7 440.3h0M81.3 440.2l.8 0M110.9 440.2l.4.4M19.9 443.4l.4.1M44.3 443.8l-.3.1M66.1 442.2l-.3.8M76.2 443.7l.4.3M108.4 444.5l.5.1M98.1 447.7l-.4.1M115.8 450.5h0M124.9 450.5l.4 0M55.5 453.5l-.4.2M75.3 452.8l-.4.5M122.1 453.6l-.7.3M89 456.7l-.7.7M116.9 456.6l.2.6M70.2 461.2h0"/>
<path stroke="#de3a86" stroke-width="2.2" d="M34.9 386.9l-.3.1M96.7 394l-.1.4M108.5 393h0M80.1 396.8h0M110.5 400l-.5.4M122.8 401.1h0M77 404.1l-.2.3M119.8 402.9h0M37.5 407.1l.4.2M88.3 406.8l.1.3M57.3 413.8l-.3.2M116.4 412.4l-.4.3M17.5 418.8l.5.8M32.5 419.8l.8.4M56.6 420.2l.2.6M60.3 420.4l-.2.3M63.1 419.6h0M66.5 419.6l.8.4M73.3 420h0M62.5 423.7l-.9.1M56.6 425.6l.7.3M100.8 426.6h0M58.8 429.6h0M70.1 429.8l.2.4M75.6 429.5l-.5.2M112.8 429.7l.4.2M17.8 433.7l.4.4M81 432.6h0M93.2 432.8l-.1.8M27.3 436.6h0M124 440.6l-.4.5M61.9 444.2h0M68.4 444.3l.9.2M72.5 442.5h0M69.9 446l.4.9M21 449.4l.3.1M27.8 451.2l.3.2M58.6 450.4l-.8.3M35 453.4l-.2.9M48.6 453.7h0M60.9 452.2l-.9.5M95.8 454.1l.5.1M101.8 454.7l-.3.1M23.7 457.3l.4.8M49.3 457.8h0M102.9 456.8l.9.5M108.5 459.3l.3.4"/>
<path stroke="#e45296" stroke-width="2.6" d="M37.4 386.4l.2.3M121.4 385.9l.2.6M66.3 390.2l-.5.2M93.6 389.6h0M63.9 394h0M85.1 392.6l-.3.4M123.1 392.7l.2.6M83.2 395.9l.4.5M77.7 401h0M107.1 404.6h0M65.5 410l0 .8M84.9 409.5l-.2.2M29.3 413.1l.5.6M77.3 414.5l-.5.2M35 416.6l-.4.1M24 420.8l-.2.2M44.2 419.7l.4.3M97.8 424.7l-.4.1M126.1 422.5l-.7.8M36.7 426.9l-.3.4M67.5 426l.9.3M88.9 426.3h0M122.5 426.3h0M25.1 429.7l1 0M73.4 429.6l.4.1M87.1 429.8h0M74.7 433.1l-.6.6M69.9 436.4l0 .6M75.7 436.3h0M79 437.1l.6.1M92 437.5l.4.5M22.5 440.7h0M27.3 439.1h0M37.7 441l.2.3M100 441.1h0M29.3 444.7h0M99.9 442.4l-.2.3M121.9 443.5h0M45.6 446.4l.1.4M60.2 448l.2.1M99.2 446l.4.4M46.3 450.3l-.2.3M72.1 450.8h0M103.5 449.3h0M109.1 449.1l-.5.4M114 449.6l.4 0M19.9 452.2l-.7.5M22.5 454.7h0M91.6 454.2l.4.3M119.5 454.4h0M35.1 456.3l.9.4M47.3 456.1h0M54.5 459l.6.7M66.3 459.7h0M111.4 460.7h0"/>
<path stroke="#de3a86" stroke-width="2.6" d="M45.8 385.8l.8.3M77.2 389.4l.1.4M108.9 390.5h0M76.6 397.5h0M117.8 396h0M120.4 396l.2.4M107.1 400.8l-.2.7M19.6 407.6h0M22.1 407.8l.4.5M29.8 407.2l-.1.3M116.3 410.7l.1.8M24.1 413.5l-.3.6M62.3 414.4h0M119.8 414.6l-.9.2M54.8 415.7l.3.4M94.3 416.3l-.8.6M71.6 419.4l-.3.1M29.3 424l.3.9M31.7 423.3l.5.4M65.5 424.4l.3.8M80.4 422.2l-.5.6M44.5 427.5l.1.3M60.3 426.2h0M32.9 429.1h0M54.8 430.4h0M109.9 430.5h0M37 432.7l-.3.9M67.8 433.2l.2.2M123.1 433h0M43.5 436.3l.9.4M84.7 435.9h0M120.1 436.1h0M66.7 439.1l.1.3M88.9 439.8h0M97.4 441.3l.8.2M104.8 439.1l-.5.4M58.9 444.4h0M124.4 443.3l.4.5M19 447.1h0M63.7 446.8h0M39.6 450.4l.3.5M61 451.1h0M26.3 453.5l.3.5M103 452.5l-.2.3M43.6 457.8l-.4.6M73 457.3l-.2.5M22.8 459.2l.8.3M52.5 459.6h0M61 460l-.3.6"/>
<path stroke="#e45296" stroke-width="3" d="M52.9 386.3l.3.1M105.4 389.2l-.2.8M66.9 392.4l-.4.5M89.3 393.2h0M112.1 394.1l.6.1M110.5 397.8l.3.3M113.4 397.6l.5 0M92.5 399.1l.1.6M72 402.8l.1.6M92.4 404.3h0M95.5 402.8h0M111 403.1l-.6.3M124 403.2h0M55.5 407.2h0M66.9 405.7l-.5.3M75.3 407.8h0M20.9 409.3h0M23.6 410.4l.1.6M40.3 410.6h0M61.6 410h0M69.7 411l-.9.3M87.9 409.6l.3.4M58.6 412.5l.6.5M27.8 417.8l-.2.5M68.1 416.7l-.6.4M75.1 417.3l.3.1M91 415.9h0M99.7 416.5l-0 .5M30.2 421.1l.4.1M97.8 421.2l-.3.1M118.6 419.6l.3.4M24.2 423.5h0M75.6 422.4l-.2.5M94 422.2l.1.6M22.1 427.1l-.8.4M47.5 427.1l.3.6M74.1 426.4l-.3 0M97.5 426.8l.5.8M95.8 431h0M124.5 429.1l-0 .5M27.3 434.1l-0 .9M63.2 434.2h0M103.5 434l.1.3M110.9 432.8l.1.3M87 437.4h0M117.3 435.4l.5.9M29.3 438.9l.8.5M114.2 440.5l.3.3M53.1 444.3h0M89.9 443.6h0M102.5 443h0M21.2 446.9l.9.5M26.1 447.6h0M47.7 445.8l.3.5M54.7 447.4l.4.1M92 446.3l-.2.8M36.4 451.1h0M53.9 450.6h0M69 450.8l-.5.7M45.2 454.3l.7.1M51.6 454.4l.5.3M62.2 453.7l.9 0M67.7 454.1l.2.2M70.7 452.6l.2.2M106.1 456.8l-.1.2M30.7 459.1l.3.2M73.6 460l.5.4M99.5 461l-.4.5"/>
<path stroke="#de3a86" stroke-width="3" d="M55.6 386h0M117.9 393.1l.2.2M124 397.2l.2.4M82.3 399.5l.6.5M65.7 404.2l-.3.1M68.9 402.7l-.2.5M63 406.1h0M121.9 405.8l.2.3M66.2 414.4l.5.1M30.9 416.6h0M72.3 416.5l.5.2M82.7 420.4l-.6.5M104.1 420.9h0M70.6 426.3h0M111.6 427l.2.2M115.3 425.8l.5.4M85 434l-.9.2M94.2 435.7l-.4.3M117.8 440.7h0M25 442.4l.9.4M106.2 444.2l.2.7M29.4 447.1l.5.1M105.3 447l-.4.5M42.9 450.8l.4.2M66 451.3l.6.1M111.6 453.5l.1.6M37.8 459.8l-.6.5M40.2 459.6h0M48.4 459.6l.7.6"/>
<path stroke="#e45296" stroke-width="2.2" d="M73.6 386.3h0M88.1 387.1l.2.4M68.8 389.4h0M84.1 390.3l-.8.2M83 394.2l-.2.7M92.3 394.4l.5 0M64.9 396.8h0M95.1 396.4l.3.1M99.2 396.5l.3.8M89.5 399.6l-.3.4M97 399.6h0M103.4 399.2l.1.3M99.4 403.2l.1.5M101.9 403.2h0M35 406.6h0M102.7 409.5l-.7.6M110.6 410.2h0M18.4 414.4l.3.7M45.7 413.9l-.4.6M88.7 414.4l.2.3M94.4 412.8l-.5.6M112.2 412.6l.9.2M22.2 416.6l-.6.2M62.6 417.2l.3.1M87.6 415.8l.4.7M93.9 420.3l.1.8M100 419.1l-.8.2M116 418.8l.2.9M73.3 423h0M101.9 422.5l-.6.3M104.9 424.7h0M25.4 426.9h0M80.8 427.9h0M86.1 426.3l-.2.4M43 430.1l-.1.5M44.3 433l.5.6M89.2 432.2l.6.7M24.3 437l.5.5M33 436.8l-0 .9M36.5 436.5h0M99.5 435.7l-.6.2M112.5 437.1l-0 .7M63.1 440.5h0M92.4 441.2l-.1.2M35.8 443.7l-.2.6M81.3 444.2l-1 .1M122 446.2h0M50.9 451.2l-.4.4M80.8 449.9l.6.4M84.5 449.4h0M95.5 451.3l-.5 0M31.2 456.9l-.5.7M60.4 455.4l-.2 1M110.1 457.9l.4.2M120.8 456.8l-.7.2M43.7 459.5l.2.6M79 459.6l-.7.1M81.6 460.9l.1.4M97.3 459.6l-.7 0"/>
<path stroke="#ea74aa" stroke-width="2.2" d="M85.9 386.9h0M121.8 389.6l.3.8M116.4 393.7l-.3.3M90.4 396.9h0M106.7 396.6l.1.6M71.7 400h0M75.3 401.2l-.4.2M79.7 403.8l0 .3M47.6 407.3l-.3.5M53.2 406.6l.2.5M94.6 409.9l-.6.7M106.1 409.7h0M97.7 412.6l-.5.6M99.2 412.2l.5.7M50.6 417.3l-.6.6M101.5 417.8l.9.1M112.9 416.3l0 .8M116.4 417l.3.2M27.6 421.1l-.1.2M49.2 421.2l-0 .3M123.5 421.3l-.9 0M87.4 422.9l-.4.3M116.5 423.8l-.4.3M103.1 426.9l-.6.3M21.2 430.8l-.3.1M81.5 429.1l-.5.4M90.5 430.3l0 .7M22.7 434l-.5 0M77.5 433.3l.4.5M106.9 434l-.7 0M18.1 440.7l.3.4M56.3 440.2h0M77 438.9l.7.7M86.1 439.4l.4.9M84.3 443.4l.3.2M88.1 444.3h0M95.8 443.5l.3.5M117.2 443.9l-.4.5M37.5 446.3l-0 .3M108.3 446.9l.3.3M119.2 447.4h0M76.7 451.2h0M107.2 449.4l-.5 0M119.9 449.3h0M80.2 454.2l1 0M20.2 456.4l.6.4M81 456.7l-.2.2M99.7 457.9l-.3.1"/>
<path stroke="#ea74aa" stroke-width="2.6" d="M93.4 387.4l-.2.9M73.5 390.3l-.2.6M90.6 390.5l-.2.7M97.8 389l.6.5M117.6 390h0M71.1 392.7l-.5.3M101.2 400.1l.8.3M99.6 406.6l-.4.1M111.4 407.5l-.2.2M42.2 410.7l.2.6M49.3 409l.4.3M90.1 409.3l.3.4M34.9 412.5h0M25.1 416.8l-.5.7M43.3 417.7l.6 0M120.7 416.7l.6.3M111.6 419.2h0M82.7 423.8l.7.4M35.7 430.6l-1 0M46.9 430.7l.4.6M39.8 436.7l.2.2M54.6 436.4l-.6.1M30.7 442.5l.5.4M40.1 444.2l-.5.1M46.5 443.1l-0 .7M52.9 446.7h0M111.6 447.3l.2.2M115.1 447.4h0M91.2 450.4l.4.1M97.7 449.6l0 .5M54.4 455.7l.4.8M56.5 456.4l.7.1M64.5 456.7l.1.4M77.1 455.9l-.6.4M113.8 456.9l.4.2M85.8 461.1l.1.6M123.2 461l.4.5"/>
<path stroke="#f09ac0" stroke-width="3" d="M73.9 392.8h0M76.2 410.5l.2.6M40.9 413.9l-.6 0M82.5 413.2l0 .5M40.1 441.2h0M45.4 439.5h0M83.2 457.5h0M18.2 459.5l-.8.3"/>
<path stroke="#d02878" stroke-width="3" d="M103.8 393.3h0M54.7 423.2h0M58.7 422.5l.3.8M30 426.9l.3.2M116.6 429.7l-.3.3M34.8 446.9l-.8.4M30.8 454.1l-.4.5"/>
<path stroke="#d02878" stroke-width="2.2" d="M68.2 396.7h0M58.9 407.3h0M53.1 420.5h0M64.3 427.3l-0 .6M27.8 430.5l.3.8M31.4 433.9l-.3.7M41 454l.4.1M39.5 456.5l-.4.6"/>
<path stroke="#f09ac0" stroke-width="2.2" d="M85.4 399.1l.1.6M53.8 409.8l-.5.1M36.5 413.7l.4.6M82.8 417.9h0M37.4 418.8l.1.6M18.8 426.5h0M91.7 461.4l.6 0"/>
<path stroke="#f09ac0" stroke-width="2.6" d="M106.7 413.3l.4.6M21.6 424l.2.3M49.4 442.8l.8.2M79.1 453.8h0M89.9 459.7l.5.2M116.4 460.6l-.4.3"/>
<path stroke="#d02878" stroke-width="2.6" d="M33 433.8h0M109.7 437.1l-.9.1M108.4 452.9l.1.4"/>
<path d="M8 24Q30 20 48 17T70 12" transform="translate(19 387)" fill="none" stroke="#2a1e34" stroke-width="0.8"/>
</g>
<path stroke="#808088" stroke-width="1.1" d="M22 464.2h22.5"/>
</g>
<clipPath id="cr1"><path d="M123 387h100v81h-100z"/></clipPath>
<g clip-path="url(#cr1)"><g filter="url(#bl)" stroke-linecap="round">
<path fill="#fbeff4" d="M122 386h102v83h-102z"/>
<path stroke="#fae6ee" stroke-width="4" d="M198.1 443l1.9 1.6M195.7 425.8l1.5 1.5M202.9 419.8l-.5.4M177.8 444.5l.5 1M133.7 409.8l-2.2 1M127.2 413.7l1.1.5M202.8 405.7l.4.3M213.7 462l1.7 0M183.4 448.5l-1.4 1.9M139.1 389.1l1 .9M152.9 404.8l-1.9.3M130.3 405.3l-1.2 2M164 468.3l.6.8M135.1 405.2l2.1.5M163.4 389l-1.2 1M132.6 431.8l.1.3M158.9 409.9l1.2 1.3M203.6 407.3l-.5.9M195.4 444.9l-.3.3M140.7 431.2l-2.1.8M134.9 465.4l-1.6.2M156.1 414.1l1.4.8M149.3 410.6l-1.9 1.4M155.1 457.8l2.1.5M147.2 391.9l-.4.2M175.4 468.3l-.2.4M131.2 386.2l-1.9.8M203.5 447.9l-1.9.6M202 430.2l.2.5M214.9 450.6l-1.3 1.2M169.1 465.6l.8 1.1M167.5 460.4l1.4 1M181.7 455h0M166.5 404.6l-.2.2M178.2 419.8l.2.6M161.8 393.7l-.1.3M167 387l1.1.8M159.2 430.8l.6 1.3M127.6 419.6l-1.4 1.6M222.5 385.3l-1 1M220.4 399.3l.2.2M148.3 391.1l-1.7 1M195.3 437.3l-.3.8M154.1 402.7l1.8 1.3M170.5 414.9h0M139.4 389.3l.3 0M210 427l1 .2M123.9 456.5l1.3.9M126.9 447.8l.4.2M132.2 433.1l-.2 2M195.9 419.3l-.8.4M144.9 411l-.5.8M209.8 402.5l-2.3.3M128 457.5l1.3.6M178.3 399.2l.1.4M215.2 417.6l1 1.4M129.8 441.7l-2.2.4M159.2 414.2l-1 1.1M168.8 414.6h0M146.2 399.7l-1.5 1.7M205.4 453.6l-.8.2M203.4 427l.1 1.6M216.7 458.3h0M150.1 462.6l.2.2M151.2 396.5l1.7.1M201.9 400.1l.6.7M217.6 435.5h0"/>
<path stroke="#f8dce8" stroke-width="4" d="M185.3 397l-2 .4M212 401l.7.5M140.2 434.8l2.2.1M200.9 426.6h0M137.2 400l.3 2.3M177.5 418h0M190.3 447.3l.2.3M191.5 413.5l-.5 2.4M210.7 444.1h0M213.6 429.6l-.4 2.4M208.7 448.5l.6.2M199.6 433.4l1.9.1M191.3 456.9l.3.9M147.9 385l-1.8 1.4M214.1 402.9l.9 1.4M122.4 446.4h0M146.5 388.9l-.9.1M190.2 425.5l-2.3.2M123.2 406.9l.1 1.1M204.3 462.4l-1.8.9M155.1 413l1.8 1.3M167.9 387.2l-1.4 2M214.6 392.2l-2 1.1M161.5 402.7l-2.3.9M221.3 443.7l-1.2 1M141.8 465.2l-.8 1M132.2 461.3l-1.3.2M197.2 416.3l-1.1.4M173.6 459.9l-.4.1M143.4 404.8l.9 1.7M155.7 427.1l.8.2M217.5 399.3l-2.3.2M190.6 404.8h0M151.4 401.3l-1.6 1.1M214.8 398.7l.6 1.5M193 418.6l1.3.8M142.7 466.8l-.9.9M202.3 420.8l.6.8M121.6 430.7l1.3 1.2M191.2 466.9l.8.7M129.3 445.5l-.5.4M130.6 444.1l.6.8M171.6 408.9l.2 1.9M134.2 404.4l.9 1.4M137.2 388.6l-1.4 1.6M181.5 467.8l1.8 1M147.2 465.1h0M189.1 420.9l.7 1.6M184.1 438.4h0M126 451.5l-.1.4M210.9 415.6l-.5.2M162.1 384.9l1 1.6M221.9 398l-.3.6M129.1 456.9l1.4.3M181.4 438.4l.2 1M131.5 421l-1.9.9M125.5 439.7l.1.3M207.6 397.3l-.5.1"/>
<path stroke="#fae6ee" stroke-width="3" d="M178.9 425.1l1.9 1M122.8 419.1l.2 2.3M193.6 413.7l-.7 1.2M221.3 414l-.9.1M204.4 443.5l-1.9.5M214.4 446.1l-.3 0M162 443.6l-.5.5M188.7 387.5l-1.3 0M147.3 426.4l-.7 1.4M195.9 437.3l.3.4M144.7 463.4l.1.9M201.4 460.8l-.5.9M198.4 445.2l-1 .7M125.3 416.2l1.8.7M175.3 391.4l-1 .3M179.2 391.7h0M190.1 394.3l-2.2.5M175.5 420.6l1.3.3M163.2 457.6l-.4 2.1M196.5 412.3l-1.1.1M148.1 466.8l-.2.1M125.1 461.4l.6.6M174.4 413.9l.3.2M139 468.5l1.9.2M122.7 447.8l-2.1 1.3M160.9 448.9l-.5.1M170.9 406.2h0M196.5 411l.2.5M172.7 409.3l-1 .7M138.2 402.6l.7.9M172.2 384.4l.3 2.3M152.6 436.1h0M138 462.5h0M179 395l.2.6M149.3 425.8l-1 .5M179.6 404.9l0 .6M180.1 413.9h0M215.8 423.7l.1.3M131.1 408.1l-.8 1.9M135.7 420.7h0M147.3 419.2l2.1.3M185 399.7l.8 2.3M123.1 440.8l-.5.3M134.3 413.5l-2.1.3M154.3 433.8l-2.4.5M207.7 421.6l-1.9.1M205.7 461.1l.3 1.2M212 438l.5 1.7M145.2 396l.4 1.3M187.2 392.7l.7 1.2M223.5 387.1l1 1.4M216 458.2l1.3.9M221 412.4l.5.5M187.7 450.8h0M167.8 435.7l.5.2M125.9 466.5l-.8 1.7M220.3 425.7l.6.6M215.1 462l1.8.1M135.1 448.8l.1 1.5M179.6 398.8l-.7 1M140.2 393.1l-1.2.2M149 392.1l-1.7 1M216.8 447l-.5.7M210.3 444.2l-.6 0M209.4 415.7h0M140.8 409.3l.4.1M180.9 408.9l-.3.1M182.3 397.2l-1 .1"/>
<path stroke="#f2c6d8" stroke-width="4" d="M176.5 402.7l.3 1.6M173.7 405.6l-.1 2.1M208.9 430l-.4.8M195.3 417l-2 .2M122.3 409.9l1.4 1.4M155.9 403.8l-.5.4M161.1 444.4l.2 2.1M123.5 465.5h0M185.3 434.2l-.9.5M154.6 389l-.3.4M201.2 403.4h0M186.7 460.3l-.5.8M205.4 426.4l-.7 2.3M194.4 426.6l.5 1.1M215.7 427.1l-1.3.2M206.5 422.1h0M171.4 414.2l-.4 1.9M154.4 432.5h0M223.9 407l-.4.7M128.7 466.7l-1 2.1M134 421.4h0M186.4 396.6l-.6 1.4M192.1 437.7l-2.4.5M212.6 390l.1 1.3M156.2 459.5l-.3.3M146.9 463.9h0M214.2 432.1h0M129.2 454.1l-1.5.8M167.8 393.6h0M165.5 395.9l1.4.1M173.2 466.2l-.6.7M210.6 440.6l-1.5.3M139.3 386.6l.2.9M138.9 428.8l.8.6M186.2 415.9l-1.8.6M181.7 393.5l-.5.6M130.1 385.3l-2.3.8M124.7 436.7l-.3.8M214.1 401.7l-.4.1M193.8 403.5l-2.2 1.2M196.3 393.1l.6 2.2M158.2 420.1l.7 1M184.1 391.7l1.5.5M194.7 417.6l.1.8M169.2 388.4l.6.4M143.4 416.9h0M218.7 386.1l-.5.3M168.2 385.4l-1.3.5M206.5 438.8l-1.2.4M136 385.1l-.1 1M204 463.4l.9 1.6M199.9 405.8l.9 1.5M130 419.7l.1.6M183.5 393.6l.6 1.1M209.3 388.6l-.1.7M218 447.1l-.4 1.6M141 425.3l-1 1.2M127.4 386.4l-2.3.2M147.2 407.6l-2.1.7M188.2 397.8l.6 1.4M222.7 405.2l-.8 2.2M199.7 432l1.8 1.1"/>
<path stroke="#f5d0e0" stroke-width="3" d="M148.6 399.9l.8 1.5M207.9 464.2l.8 1.9M212.5 421l.4 1.9M137.5 392.2l.9.3M179.2 450.3l-.9 2.2M216.1 418.5l-1.5.8M209.1 439.7l.1.2M202.8 464.2l2 1.2M190.4 389.4l-2.3.1M213.8 426l-.1.4M193.3 409.5l-.5.1M215.5 452.9l.5 0M222.5 387l-1.2 1.6M178.2 439.2l-.3.2M177.1 432.8l-.5 1.5M151.4 462.5l-.4.2M159.8 404.4l1.4 1.2M188.3 460.6l-.5 0M189.1 392.9l.6.2M129.8 452.5l-1.2.5M143.8 425.5l2.2 1M149.9 461.4l-.4 1.6M167.8 440.1l-.2 1.5M184.8 444.4l-1.3 1.7M138.6 421.4l-.2.3M208.5 423.5l-1.4 1.8M148.8 403l-2 .9M205.3 448.3l.9.8M196.4 432.9l1.3.2M217.1 437l.3.4M219.5 419.3l-2.3.3M140.2 393l.6 1.8M224 412.5l-.3.1M218.8 402.8l-.7.4M198.6 390.3l-1.6.4M144.3 414.6l-.7.2M137.6 426.5l1.9 1.3M125.8 425.4h0M172.5 466.9h0M184.7 413.2l.9 1.6M207.4 391.3l2.2.1M134.3 386.3l-0 .9M216.4 411.5l.8 2.3M133.7 451.6l.7 1.8M128.3 432.9l-1.7 1.1M181.4 390.8l.9.8M151.6 402.3l-.2 1.3M146.4 394.4l.7 1.3M161.4 397.6l1.1.2M144.3 393h0M214.3 397.3l.4.8M185.7 425l-1.4 1.3M184.9 450.5l.2 1.1M196.6 457.1l-.7.3M134.4 418.8l.9.4"/>
<path stroke="#f2c6d8" stroke-width="3" d="M199.8 441l-1.5.7M192.2 409.7l-.8.9M175.7 460.2l1.8.7M123.1 460h0M132 425.6l-.1 1.5M125.1 403.7l-1.8 1.7M136.5 433.1l1.2.8M190.8 466.2h0M216.3 444.1l-.8 1.9M124.8 394.1l-0 1.2M173.4 385.9h0M188.8 438.5l1 1.2M141.9 389.5l1.4.2M187.3 413.5l.5.1M220.8 385.5l0 .7M193.1 460.4l-.7.6M224.1 447.3l.7 2.3M132.8 457.7l-1.7.2M199.9 427l-.4 1.1M161.9 463.6l-.8 2M174.9 414.2l1 .2M185.9 443.8l-.2.4M180 456.9l-.5 1.8M200.6 397.4l-.2.1M204 407.2l.9.6M200 420.6l1.5 0M142.8 462.2l.8.3M183.3 389.9l-.5 1.4M133.4 451.2l1.4 1.2M138 416.7l.2 1.4M205.1 430.1l-1.7.3M179.7 412.4l.3.2M159.7 468.4h0M184.3 445.7l.1.2M190.6 456.2l.8.6M140.6 433.9l1.6.5M158.6 412.4l-.5 2M142.8 397.6h0M200.1 405.5l-.4.4M160.3 444.7l.9 1.4M162.1 391.2l1.8.4M129.8 423.6l-.1 1.4M221.6 401l-1 .6M224 387.2h0M124.7 428.1l-2.1 1.3M160.2 400.7l-.3.4M133.6 464.8l-1.6.1M180.7 403.1l-.1 1M159 422.8h0M210.2 414.6l1.2 1M195.8 455l-1.3 1.6M180.8 446l-2 .9M203.5 401.5l-.7 1.1M161.4 464.4h0M199.3 427.5l.1 1.1M178.1 449.5l1.9.7M210.2 438l1.6.2M193.1 402.5l.7.3M178.6 405.8l2.1 1M131.5 437.9l-2.2 1M222.5 392.8h0M188.5 392.7l1.3 2M147.6 431.1h0M149 418.2l-.6 1.2M200.1 402.8l-.5.1M210.3 452.2l-.4 1.9M191.1 464l.5 1M157.2 387.2l.1.7"/>
<path stroke="#f8dce8" stroke-width="3" d="M183.4 411.7l-1.9 1.2M222.7 441.6l1.4.3M182.9 439l.9.9M134.2 429.6l2 .6M192.7 449.5l-.3.4M159.1 411.1l-1.1.2M214.8 386l.6 1.2M153 467.7l-1.3 1.1M208.8 465.4l1.1.8M161.7 434.3l-.9.8M144.6 469l1.4.3M155.3 412.4l2.2.9M215.3 399.8l-1.7 1.3M221.8 400.5l.8.4M217.7 448.3l.8 2M222.9 464.8l1.1 1M126.9 423l0 .6M194.1 387.1l-.1.6M163.3 399.8l.3.3M125.1 428.5l-.6.5M180.4 468.9l1.3.1M186.7 411.4l1.4 1.5M126.8 430.7l-.9.7M194.3 422.4l1.7.3M224.2 424.4l.4.9M128.6 448.5l.9.2M203.2 386.1l2.1 1M131.2 432.9l1.5 1.8M169 406.1l-.6 1.9M202.1 435.5l-.7.6M214.2 426.2l-1.6.3M145.3 391.3l.8 2.1M166.2 441.5h0M215.8 443.2h0M132.9 447.5l1 2.3M124.8 439.8l1.6 1.3M141.3 402.9l-1.1 1.8M199 423.1h0M124 403.9h0M194 391.4l-1.4.1M197.2 448.5l-.1 1M212 412.3l.6.9M214.8 447.9h0M205.1 450.3l.1 1.5M207.6 410.8l-1.1 2.1M212.7 451.5l-2.2.5M140.6 401.8h0M207.3 405.1l0 1M174.2 442.3l-.6.1M208.1 418.8l-1.5.5M207.7 460.4l-1.4.2M194.6 389.7l-.4 1.1M165.6 389.2l.2.3M208.1 429.7l1.2 1.1M203.2 425.9l.5 1.3M137.2 425.8l-0 .4M208.5 412.3l.1 1.1M192.5 425.4l1.9 1.1M152.3 466.2h0M170.8 399.5l-.3.7M187.9 424.8l1.1 1.5M123.6 427.8l2 1.3M182.3 431.3l1.5.6M166 385.8l-1.1.9M181.8 394.6l-1.6 1.5M221 409.6l.3 1.1M125.6 455.8l.1.5M158.1 437.6l.1.4M197.1 420.9l-1.4 1.6M153.8 396.8l-.9.5"/>
<path stroke="#f5d0e0" stroke-width="4" d="M122.1 403.5l-.7.7M146.5 464.9l-.6 2.2M209.7 410.1l0 1M159.6 390.2l.7.3M184.9 419l-2.3.1M150.5 394.8l.1 1M138.6 418.2l-1.5 1.9M165.7 408.2l-1 .2M159.2 409.5l-.5.8M125.1 421l-.8 1M215.2 461.8h0M200.2 399.9l-.4 1.4M175.9 440.1l2 .9M168.6 391.6l-.2 1M183.8 431.6l-.8.5M221.6 449.2l-.8.6M204.5 412.4l-1.5.6M141.3 420.1l1.9.6M216.4 407.7l.5.5M206.8 387l-.9.5M127.3 410.2l-.3 0M126.5 452.9h0M188.2 435.4l.5 1.6M184.9 408.1l-.4.2M127.8 442.7l-1 2.2M159.6 443.2l.7 0M127.2 422.2l1.3.4M206.4 442.1l.9.7M218.6 412.8l1.4.8M218.8 391.4l-.4.1M148.6 395l1.2.9M195.8 459.7l.3.2M182.2 395.7l.8.9M194.9 421.4l1.1 0M209.5 405.6l-.9 1.8M202.9 466.3l-.8.5M206.5 407.7l1 1.6M133.4 460.3h0M143.8 469h0M140.1 423.5l-1.2.7M182.5 442.1l.1 1.3M195.9 441l-2 1M151.2 393.2l1.6.1M150.7 396.3l-1 .6M121.6 409.7l2 .7M200.5 454.9h0M180.3 387l-.6 1.1M167.9 391.2l.1.9M149.4 390.9l-1.4 1.1M159 432.2l-.6 1.3M140.6 462.6l-1.9.6M196.1 448.7l1 .5M165.1 389.9l-0 2.2M176.6 441l2.2.4M151 400.6l.9.2M132 435.1l.3.1M160.8 466.7l2 1.4M177.7 418.5l0 .5M154.3 411.1l-1.3 1.3M171.2 463h0"/>
<ellipse cx="147" cy="448.5" rx="11.5" ry="13.5" fill="#fdf9fa"/>
<ellipse cx="167" cy="425.5" rx="8" ry="9" fill="#fdf9fa"/>
<ellipse cx="170" cy="452" rx="8.5" ry="8.5" fill="#f4cedc"/>
<ellipse cx="173" cy="435" rx="3.5" ry="3" fill="#fdf9fa"/>
<ellipse cx="131" cy="397" rx="4" ry="7" fill="#fcf6f8"/>
<ellipse cx="208" cy="410" rx="7" ry="6" fill="#f8e2ea"/>
<path stroke="#2e1c38" stroke-width="0.55" fill="none" stroke-linejoin="round" d="M167.2 465.1l.4 2.8 -.1 2.8 .3 2.8 1 2.6 1.8 2.2M227.1 431.3l-.7-2.4 -.8-2.4 -.4-2.5 .3-2.5 .5-2.5 1.3-2.2 2.2-1.3M134.5 466.6l.3-2.6 .6-2.6 1.1-2.4 1-2.5 .1-2.6 -.9-2.5M159.6 440.2l-1.1-2.7 -1.2-2.6 -1.7-2.3 -2.3-1.7M154.7 418.9l1.4 2.4 2.4 1.5 2.7.6 2.7-.7 2.1-1.9 .9-2.7 -.5-2.8M199.3 469.5l.9 2.5 -.4 2.7 -1.6 2.2 -2.5 1.1 -2.7.1 -2.5-1M194.3 425.8l-2.9-.3 -2.5-1.5 -1.7-2.4 -1.3-2.6 -.5-2.9"/>
<path stroke="#44304e" stroke-width="0.85" fill="none" stroke-linejoin="round" d="M224.2 397.6l-2.2 0 -2-.9 -1.8-1.3M223.2 463.8l1.2-1.9 .6-2.2 .1-2.3M168.1 453.7l.7-2.5 1.5-2.2 2.1-1.5M210.5 463.7l-2.4-1.4 -2.3-1.5 -2.1-1.8 -2.3-1.6 -2.4-1.3 -2.4-1.3 -1.9-2M195.9 429.3l-.4-2.7 .9-2.6 2.1-1.8 2.7-.6 2.7.6 2.1 1.8 1 2.6"/>
<path stroke="#382646" stroke-width="0.7" fill="none" stroke-linejoin="round" d="M183.6 405.8l-.6-2.7 -1.4-2.3 -1.5-2.3 -1.7-2.1 -1.5-2.3M125.8 427l2.2-.3 1.9-1.1 1.3-1.8M205.8 397.7l.9 2.6 .5 2.7 -.4 2.7 -1.4 2.4 -1.9 2 -2.4 1.4 -2.6.9"/>
<path stroke="#1a1020" stroke-width="0.85" fill="none" stroke-linejoin="round" d="M155 427.1l-.6 2.1 -.1 2.2 .9 2M199.3 399.9l1.6-2.1 .4-2.6 -.7-2.6 -1.8-2 -2.2-1.6 -2.6-.6M146.1 440.7l.6 2.6 .8 2.6 1.2 2.4 1.4 2.3 2.2 1.6M144.1 414.4l2.4 1.7 1.5 2.5 .7 2.8M224.9 415l-2.3 1.2 -2.5.2 -2.3-1 -1.6-2M163.6 394.3l2.4 1.1 2.3 1.3 2.4.9 2.5.7"/>
<path stroke="#44304e" stroke-width="0.55" fill="none" stroke-linejoin="round" d="M192.8 421.1l2-2 1.8-2.1 1.2-2.5 0-2.8 -1.3-2.4 -2.3-1.5M221.2 428.8l-2.5-.8 -2.5-.9 -2.6-.7 -2.6-.6 -2.6-.3 -2.6.5M135.9 383.8l1.3-2.5 1-2.6 -.1-2.8 -1.4-2.4 -2.4-1.5 -2.8-.1 -2.6 1.1M130.2 414.1l-2.1-1.6 -2.2-1.5 -2.5-.8 -2.6-.2"/>
<path stroke="#382646" stroke-width="0.55" fill="none" stroke-linejoin="round" d="M224 437.2l-2.6-1.3 -2.9.1 -2.5 1.4 -1.6 2.4 -.2 2.9M170.2 449.6l2.1 1.7 2.2 1.5 2.5.8 2.6.6 2.4 1.1M205.5 425.9l-1.8-1.9 -.8-2.5 .2-2.6 1.2-2.4 2.2-1.5 2.5-.7 2.6.4M176.5 390.6l2.3-.4 2.4.2 2.2.8M126.1 399.9l2.7-.8 2.8.3 2.3 1.6M134.9 470.2l-2.5-.9 -2.6-.7 -2.6-.7 -2.7-.4 -2.6-.6"/>
<path stroke="#24162c" stroke-width="0.85" fill="none" stroke-linejoin="round" d="M164.9 443.2l.9-2.4 1.9-1.7 2.3-1.2M136.8 424.6l.3-2.5 .6-2.4 .3-2.5 -.9-2.4 -1.4-2.1 -2.1-1.5M210.1 425.1l-1.9 1.9 -2.3 1.4 -2.3 1.4M202.5 408.4l.7-2.5 .6-2.5 .8-2.4M192.3 437.9l-2.6.9 -2.8-.3 -2.7-.8M135.1 465.1l2.6-1.1 2.4-1.5 2.4-1.5 2.7-1 2.8-.1"/>
<path stroke="#1a1020" stroke-width="0.55" fill="none" stroke-linejoin="round" d="M187.8 440.6l.2-2.8 .9-2.7 1.5-2.4 1.6-2.4M141.4 471.2l-2.4-2 -2-2.5 -1.2-2.9M170.2 446.9l-1.8-2 -2.5-.9 -2.6-.4 -2.6.6 -2.5 1 -2 1.8M200.1 468.6l.7-2.8 .8-2.7 .1-2.8 .2-2.8M153.9 411.4l-1.3-2.8 -1.3-2.8 -1.5-2.7 -1.8-2.5M162.7 392.9l1.7-2 2.4-.9 2.6-.3 2.6.5 2 1.6 1 2.4"/>
<path stroke="#382646" stroke-width="0.85" fill="none" stroke-linejoin="round" d="M126.9 466l-2 1.3 -2.3.6 -2.4 0M206.6 469.8l-2.4 1.3 -1.5 2.3 -.2 2.7 1 2.6 2 1.9 2.4 1.3M165.9 398.6l2.2 1.7 1.5 2.4 .8 2.7 -.3 2.8 -1 2.6 -1 2.6M154.9 402.1l-1.2-2.3 -.2-2.6 .1-2.6M125.2 447.4l.3-2.7 1.3-2.4 1.8-2 2.1-1.8 1.8-2 1.6-2.2"/>
<path stroke="#1a1020" stroke-width="0.7" fill="none" stroke-linejoin="round" d="M154.5 382.6l.4 2.3 .5 2.3 -.1 2.3M155.7 423.7l2.6 1.5 2.5 1.7 2.2 2.1 2.3 1.9M152.3 433.5l-1.9-2.2 -2-2.1 -2.2-2 -1.7-2.4 -1.6-2.5M178 448.7l1.7-1.9 2.1-1.4 2-1.5 2.2-1.2 2.1-1.4M135.6 422.5l2.3 1.1 2.5.5 2.4-.7 1.8-1.8 1.4-2.1M184.4 448.2l2.7 1 2.1 2 .9 2.7 -.5 2.8 -1.6 2.4 -2.1 1.9"/>
<path stroke="#44304e" stroke-width="0.7" fill="none" stroke-linejoin="round" d="M186.4 430.3l.5-1.9 -.1-2 -.6-1.9M177.6 385.4l-.3 2.4 -.8 2.2 -1.2 2.1M221 470.1l2.3-1.1 2.5-.7 2.6-.3 2.6-.4 2.6-.1M157 453.4l2.8-.4 2.7-1.1 2.3-1.8 1.6-2.4"/>
<path stroke="#2e1c38" stroke-width="0.85" fill="none" stroke-linejoin="round" d="M164.9 387.6l-1.8 2.5 -.9 3 .7 3.1M141.7 473l-.2 2.6 0 2.6 -.2 2.6 -0 2.6M162.7 458.6l1.7-1.5 1-2 .3-2.2M190.5 407.5l.9-2.8 .1-2.9 -1.3-2.6 -2.4-1.7"/>
<path stroke="#2e1c38" stroke-width="0.7" fill="none" stroke-linejoin="round" d="M181.4 385l2.4 1.2 2.4 1.3 2.4 1.2 2.1 1.7M176.1 442.5l-1.2-2.4 -.8-2.6 -.2-2.7 .5-2.7 1.5-2.3 2.4-1.3M170.5 444.5l-2.7.2 -2.7-.4 -2.6-1 -2-1.8 -1.7-2.1M119.7 470.8l-2.6-.9 -2.7-.4 -2.6-.7 -2.3-1.4M191.7 384.4l1.4-2.2 .2-2.6 -.6-2.5 -1.1-2.4 -1.9-1.8"/>
<path stroke="#24162c" stroke-width="0.7" fill="none" stroke-linejoin="round" d="M215.7 406.7l-2.9-.5 -2.9-.5 -3 .1 -2.6 1.4 -1.6 2.5M127.3 405.8l-2.7.6 -2.8.3 -2.7-.5 -2.7-.6 -2.4-1.5 -1.8-2.1"/>
<path stroke="#24162c" stroke-width="0.55" fill="none" stroke-linejoin="round" d="M190.9 430l-1.6-1.6 -1.7-1.5 -2-1.1"/>
<ellipse cx="147" cy="448.5" rx="11.5" ry="13.5" fill="#fdf9fa"/>
<ellipse cx="167" cy="425.5" rx="8" ry="9" fill="#fdf9fa"/>
<ellipse cx="170" cy="452" rx="8.5" ry="8.5" fill="#f4cedc"/>
<ellipse cx="173" cy="435" rx="3.5" ry="3" fill="#fdf9fa"/>
<ellipse cx="131" cy="397" rx="4" ry="7" fill="#fcf6f8"/>
<path stroke="#ea74aa" stroke-width="2.5" d="M128 386l-.6.1M208.3 387.9l-.8.6M220.6 387.9h0M148.3 391.1l-.1.6M152.3 390.1l-.9.1M201.8 390.7l.9.2M153.4 393.5h0M165.9 393.4l-0 .3M168.5 392.7l.5.4M179.9 392.9h0M196.4 392.7l.3.1M170.8 402.9h0M215.4 404.3l-.2.1M203.9 406.5l-.2.7M210.7 408.2l.1 1M207.3 415.5h0M220.8 414.3h0M225.5 414.7h0M160.2 416.5l-.4.9M127.9 421.4l.2.7M146 421.8h0M156.3 419.9l.1.5M155.8 424.3l-0 .3M228 430.6l-.2.2M141.8 435.2l-.7.6M199.6 435.9h0M223.1 435.7l-0 .7M173.6 439.4l-.5 0M167.3 440.6h0M201.3 445.1l-.7.4M228.6 445.6l.2.7M160.2 451.9l.3.9M197.1 452.6l.5.8M159.7 455.5l.7.4M125.9 458.6h0M159.7 459.5l-.9.3M130.1 461.5l.2.3M157.3 461.4l0 .3"/>
<path stroke="#e45296" stroke-width="1.8" d="M129.4 385.7l0 .4M133.9 387l-.4.7M164.8 386.5l-.2.4M186.6 385.6l.2.3M190.2 387.2h0M124.1 391.2l0 .4M136.1 389.7h0M208 390.9l-.2.4M189.1 393.6l-.4.2M206.3 397l-.5.6M165.8 401.7h0M174.9 403l.3.7M122.2 406.7l-.6.4M191.2 408.3l-.7.4M225.7 406.3h0M139.4 409.7l.1.4M200.6 411.1l-.8.3M130.7 414.5h0M156.4 414.8h0M163.3 414.4l.6.4M167.7 414.8h0M142.7 418.5l-.2.4M203.8 416.6l.8.5M219.2 418.4l.2.8M134.8 420l-.3.2M195 420.5l.3.6M196.7 425.2l.4.1M122.4 427.3l.8.1M131.6 427.1l-.3.8M206.2 428.8l.3.5M148.2 432h0M205.4 434.3h0M215.6 435.6l-.5.6M128.2 437.5l-.4.4M189 439l.8.5M193.8 437.4l-.2.1M208.7 438.6h0M211.8 444l.5.5M123.2 448l.1.3M127.8 449h0M187.8 448.6l.9.4M210.3 448.5h0M217 447.8l-.2.2M128.1 451.5l.4.3M202.1 455h0M214.2 455.6l.7.2M219.1 454.5h0M222.5 455.5l-.4 0M225 456.2l.3.6M222.8 458.1h0M143 461.8l-.3.3M212.8 462.7l.6.1"/>
<path stroke="#de3a86" stroke-width="2.2" d="M140.9 386.9l.4.1M146 387.3l.3.3M139.6 391.1h0M190.8 393.9l-.3.8M224.7 393.3l-.8.3M168 397.2l-.3.5M200.1 396.6h0M168.9 399.9l.6.4M207.3 399.6l.3.4M125.9 405.1l-.5.2M167.4 404.6l.5.4M170.4 410.3l-.8.2M191.8 413.7l-.6 0M212.7 413.2l.9.4M139.9 417.6l.1.2M213.3 417.1l-.3.3M222 418.3l.9.1M226.7 418.7l.4.6M122.5 421.8l.9 0M130 421l-.2.5M142.3 421l-.3.4M215.1 420.5l-.1.9M224.1 421.4l.3.1M216.8 424.9l-.3.6M202.2 427.8l-.3.2M222.5 427.4h0M126.8 434.3l.3.8M183.6 435.5l-.9 0M186.4 439.1l.4.2M205 437.6l-.3.2M161.9 442.5h0M180.6 440.5l-.7.2M202.4 440.5l-.3.6M164.1 444.6h0M208.2 443.5l-.3.9M216.6 444.7l-.5.8M130.4 448.4l-.6.8M122.8 455.5l.1.5M193.2 458.8l.1.2M215.7 459.1h0M194.3 462.3h0M197.8 463l.2.4"/>
<path stroke="#e45296" stroke-width="2.2" d="M158.2 385.9l-.1.7M175 385.6l0 .8M163.1 390.5l.2.3M160.6 393.8l.9.3M179.2 397.3l-.9.3M224.9 397.1h0M148.3 401.3l-.1 1M160.5 401.1l-1 .2M186.5 404.1h0M212.2 403.3h0M224 403.8h0M179.4 408.5l.8.3M187.6 406.8l-.7.6M126.1 411.5l.1 1M151.8 410.3l.3.3M173.2 410.7h0M204.6 410.8l.1.3M209.2 411.5l-.7.3M212.7 409.9h0M216.1 409.9l.5.7M224.2 410.2l-.1.4M146.9 413.9l.2.4M171.9 413.1l.3.6M129.5 425.3l-.8.4M143.3 424l-.3.1M191.3 427.8l.9.3M143.5 431.2l.2.6M201 431.4l-.3.4M201.9 434.9h0M217.7 433.7l-0 .3M211.3 438.2l.1.4M125 444.8l-.2.8M128.7 444.9l.3.1M224.7 444.5h0M203.7 450.7l.8.3M210.4 455.9l-.3.1M128 459.7l-.3 0M133.3 459.4h0M186.2 458.1l-.1.2M165.5 461l-.5.3"/>
<path stroke="#de3a86" stroke-width="1.8" d="M161.8 387.5h0M201.8 386.9l-.2.3M132.9 389.2l-.8.4M186.5 390h0M189.1 391.3l.6.2M212.9 390.4l-.5.1M220.7 389.7l.1.7M189.8 396.7l-.1.6M134.9 401.5l.2.4M185 401.8h0M212.9 401l0 .3M220.9 399.4l-.5.3M143.6 404.3l.6.1M163.9 404.7l-.1.9M188.4 404.9l-0 .3M192.6 403.2l.4.8M199.6 403.1l.5.6M142.3 406.5l.3.1M199.8 407.9l-.1.8M141.4 414.6l-.5.1M201.6 415.4l.4.2M192.9 417.4l.3.7M209.2 418.9l.8.2M206.4 421.8l-0 .4M152.9 424.2l-.6.2M194.5 424.9l.2.4M209.6 427.5l-.1.4M214.9 426.9l-.5 0M218.4 427.5l.8.3M129.2 431l.1.4M181.6 432.1l-.1.4M198.4 432.2l-1 .1M216.9 430.9h0M194.8 434.7l-.8.6M158.7 437.1h0M127.6 442.4l-.4.1M225.8 448.1l0 .5M212.5 452.7l-.4.8M129.1 454.6l.5.2M203.8 458.5l-.1.6M138.1 462.9l-.4.8M211.1 462.5l.4.1"/>
<path stroke="#ea74aa" stroke-width="1.8" d="M168.3 386.4h0M180.8 387.2h0M223.9 390.1h0M139.1 394.2l-.1.8M177.3 394.8h0M200 392.8l-.3.1M159.5 397.4h0M152.2 400.4l-.2.2M155.5 404.6l-.3.7M178.2 403.6l.4.6M126.9 406.3l-.1.7M144.5 410.5h0M192.7 411.2l-.2.1M160.2 413.8h0M137.7 427.6l.6.6M155.8 428l.4.8M194.4 428.2l.1.4M199.3 427.3l-.1.6M209.3 435.2l.3.3M220.9 437.2l-1 .2M222.7 437.6h0M134 441.5l-.5.7M209.4 458l-.6.5M177 463.1l-.3.1M180 461.2l.5.4"/>
<path stroke="#ea74aa" stroke-width="2.2" d="M170.9 387.7l.9.1M198.4 388.1h0M153.8 390.2l.5.4M182.6 390.2h0M196.1 390.2h0M125.5 397.2l.2.3M140.1 398.1l-.4.4M156.2 398.4h0M163.1 396l.2.4M125.7 401.7l-.4.2M145.3 399.8h0M176.4 400.6l-.9.1M172.7 407.7l-.4.2M162 411.2l-.2.5M154.1 413.7l-.7.1M198.2 415l.4.9M197.8 418.5h0M202.7 422.1l-.4.4M200.9 423.7l.6.8M139.4 432.1h0M151.4 431.6l.6 0M174.8 430.9l.1.9M191.1 431.8l-.5 0M193.4 432.4h0M224.2 431.4h0M134.6 434.3l.2.2M188.7 433.7h0M171.4 439l.3.5M198.3 437.5h0M215.4 441.2l-.9.2M227 452.6l-.2.9M163.1 459.2l-.4.3M126.1 462.4l-.4.3M168.5 463.4h0"/>
<path stroke="#f09ac0" stroke-width="2.2" d="M184.2 387l-.9.4M146.7 393l-.8.5M149.7 413.2l.8.2M154.6 428.7l.1.5M188.1 442.7l-.2.3M218.8 440.6h0M191.2 449.1l-.4 0M158 454.7h0"/>
<path stroke="#f09ac0" stroke-width="2.5" d="M215.1 387l-.3.2M217 386.6l.5 0M149.6 392.7h0M190.2 440.6l.3.4M190.8 445.7l-0 1M217.3 451.4l-.7.5"/>
<path stroke="#de3a86" stroke-width="2.5" d="M159.6 390.6l-.1.4M184.9 393.5l-.9.1M185.2 396.2l.2.6M181.7 401.3l-.8.4M201.6 399.7l.4.5M225.3 400.8l-.5.6M147.9 402.8l-.5.5M137.2 406.6l.1.8M187 410.9l0 .3M182.9 414.1l-.5.6M187.2 413.3l-.6.2M209 414.6l.2.4M129.5 418.4h0M173.5 418.7l.2.4M187.2 420.9l.2.5M199.7 420.2l-.4.7M139.8 423.6h0M212.3 423.5l.7.3M191 436l.4.2M226 435.1l.7.6M179 443.9l.8.1M201.6 449.5l-.1.4M184.6 455l.1.6M135.8 458.7l.2.6M160.4 462.4h0"/>
<path stroke="#e45296" stroke-width="2.5" d="M171.7 390.9l.1.4M174.5 390.1h0M124 394.3h0M125.9 393.5h0M201.3 393.4l.5 0M210 393.7l.9.4M173.9 397.9l.4.8M180.9 397.4l.2.3M198.1 397.9l-.2 1M216.7 396.6l-.7.2M123.2 400.9l.2.2M156.6 401.1l-.3.7M171.4 400.6l-.5.7M187.9 400.9l.1.4M227.6 403.7l-.8.3M131.7 408.6l-.8 0M194.7 408.1l-.3.2M207.3 406.4l-.7.2M222.1 406.7l.1.5M129.2 410.6l.8 0M136.5 409.7l-.1.3M166.4 409.6l.9.3M197 410.2l-.3 0M226.3 411.6l.6.7M135.2 417.1h0M216.2 417.4l-.1.3M132.6 425.2l-0 .9M157.7 425.4l.7.7M184.1 424.6l.8.4M224.7 425.5l-.2.5M219.6 432.3l.2.4M130.2 434.8l-.3.4M160.7 434.4h0M163.7 438.1l-.4.9M166.4 439.2l0 .5M178.2 437.6l.4.2M200.7 437.6h0M199.4 440.9l-.1.8M210.6 440.4l0 .3M160.4 449.2l-.4.2M206.5 448h0M214.8 448.5l-0 1M123.9 452.9h0M180.6 454.2h0M195.2 455.8h0M201.2 459.5h0M135 463.3h0M153 462.1h0M187.4 461.3h0"/>
<path stroke="#d02878" stroke-width="1.8" d="M213.5 394.2l.5.1M189 416.6l.4.5M221.8 420.4l.2.5M220.4 423.8l-.5.2M208 431.2h0M133.5 444.1l-.8.3"/>
<path stroke="#f09ac0" stroke-width="1.8" d="M147.2 398.1l-.6.4M175.3 407h0M219.5 411.8l.4.6M142.2 428.5l-.7.2M123.4 441.2l-.9.3M195.6 442.8l-.2.2"/>
<path stroke="#d02878" stroke-width="2.2" d="M192.6 396.7l.1.3M192.5 400.4l-.2.3M183.2 404.1l-.9.4M165.3 407.8h0M179.4 410.9l-.2.6M190 409.5l-.7.5M175.7 413.7l-.6 0M175.7 429.1l.7.2M133.5 448.5l-.2.3"/>
<path stroke="#d02878" stroke-width="2.5" d="M136.1 404.4l-.1 1M182.6 407.9l.8.5M218.2 422.1l.1.6M181.1 439.1h0M183.8 447.5l-.7.3"/>
<path d="M8 42Q20 30 38 31" transform="translate(123 387)" fill="none" stroke="#2a1e34" stroke-width="0.7"/>
<path d="M76 25Q78 50 80 78" transform="translate(123 387)" fill="none" stroke="#34243f" stroke-width="0.7"/>
<path d="M58 50Q68 44 74 52" transform="translate(123 387)" fill="none" stroke="#34243f" stroke-width="0.6"/>
</g>
<path stroke="#808088" stroke-width="1.1" d="M126 464.2h22.5"/>
</g>
<clipPath id="cr2"><path d="M228 387h100v81h-100z"/></clipPath>
<g clip-path="url(#cr2)"><g filter="url(#bl)" stroke-linecap="round">
<path fill="#f8e4ec" d="M227 386h102v83h-102z"/>
<path stroke="#f4cadc" stroke-width="4" d="M305.7 439.1l-1.1 1.1M279.3 458.1l2.1.7M253.1 400.1l.4.5M239.9 403.6l-.6.8M279.3 432.9l1.7 1.4M263.4 398.4l-1.8.7M267 467.7l-.6.2M244.4 458.1l-1.1 0M323.2 395.4l.3 1.9M248.9 424.4l-2.4.7M284.2 425.9l.9 1.1M261.6 467.2l-.2.7M299.9 465.4l.7.4M252.1 433.5l-.2 2.3M264.1 465.8h0M293.4 385.3l-.3 1.4M313.8 421.7l2 1.3M275.5 420.6l-1.3.7M245.7 454.8l-1.8 1.1M227.1 392.7l.3 1.6M270.1 466.1l-1.7.1M327.8 398.3l2.2 1.2M281.6 437.2l.9.1M247.5 444.2l-.8 1.1M287.7 464.9l-.4.3M309.6 414.4l.5.4M283 461l.5 1.7M255.5 465.9l-.5 1.4M263.3 393l-.5 1.6M310.7 462.1l-1.9 1M269.9 454.9l-.4.1M326 440.4l-.1 1.1M264.6 427.7l-1.4.3M268.8 407.5l1.1 1.5M267.5 456.3l-.1.2M241.9 459.5l2.2.2M328.5 450.9l-.5.5M227.6 424.7l.3.1M235.9 453.8l-0 .6M310.9 422.5l1 .7M243.6 425.1l-.4 1.6M271 404.5h0M249.8 447.2l.1 2M279.7 387.4l1.6.7M253.7 401.6l1.1.6M309.8 442.1l-.3.4M255.9 427.3l2 1.5M269.2 416.5l.2.5M292.4 435.5l.4.5M302.6 429.8l1.2.3M236.1 452.1l.8.3M232.9 435.2h0M312.9 443.2l.4.5M311.5 441l-.1 1.1M310.7 389.9l.9.5M288.4 408.1l.1 1.7M291.7 462.8l-0 1.5M298.5 463.5l-.7 1.9M286.8 440.9l-1.4.2M322.9 391.3l-.3.1M298.3 455.3l-.3 1.1M296.6 426.1l-.3.4M248.8 467.7l-.3 1.1M318.1 454.8l-2.2.1M311.2 459.6l-.8 1.2M248.5 449.7l-1.9.7M254.6 451.5l1 1.3M323.5 400.2l-1.8.7M274 422.1l-.1 2M321.9 401l.9 2.2M309.9 387.4l.8 1.9M248.1 423.6l-.6.1M295.1 457.8h0M243.4 423.6l-2.2.4M298.6 419.1l.2 1.7M258.1 463.5l-.4.4M316.3 447.8l.3.1M282.9 468.1l.1.4M272.9 457.9l1.2.3M317.2 451.6l.3 1.1M240.4 406.1l-.4.1M266.4 392.2h0M251.7 411l-2 .5M249.9 391.8l-.4.2M305.4 467.6l1.9 1.6M309.8 409.4l.1.4M305 430.6l1 1.5M320.5 461.6l-.1 2.2M271.5 414.1l.3 1M265.7 406.2l-.9 1.2M291.7 465.1l-1.7 1.1M303.7 404.6l-.7 2M303.5 398.4l-1 1M261.9 442.9l.6.1M241.7 400.3l-.5.3M312.3 425.9l.1 1.9M280.9 405.7l.3.1"/>
<path stroke="#f4cadc" stroke-width="3" d="M269.2 401.9l-1.1.5M254.3 389l.1.8M308.9 401.6l-1.8 1.1M294.1 401.3l-1.4.6M286.7 385.7l.6 2.1M296.1 465.7l.3.6M228.6 420l-.2 1.2M297.2 428l1.6.6M283 405.9l1.3 1.4M297.2 452.9l1.1 1.7M303.7 440.6l.3 1.3M280.3 428.3h0M313.5 430.7l-1.4 1.8M269.5 390.7l.2.5M279.4 419.8l-.7.3M289.2 418.2h0M327.1 422.2l1.6 1.6M236.2 466.7l1.4.4M246 402.4l.3.4M234.2 457.3l-2.1 1.1M251.9 421.7l.1.4M300.9 393.4l2.4.7M315.4 451.3l-2.1.4M237.7 401.1l.8 1.1M307.3 404.1l-1.5 1.6M244.9 446.7h0M258 403.5h0M280.4 430.4l.3 1.6M238.2 402.1l-.5.2M261.3 394.2l-.6 1.5M270.7 404.4l.3 1.2M288.5 409.2l.9.8M246.6 444.9l.5.7M284.4 408.8l-1.3 0M307.8 465.7l.9 2M298 457.9l.3 1.3M324.5 393.3l1.9 1.1M269.4 417.5l-2 1.5M284.8 427.6l-.4.4M287 407.8l-.3.1M253.5 421.7l.2.8M257.2 439l2.2.6M241.7 388.4h0M235.1 402.6l-.4 1.2M311.2 406.7l-.9 1.8M250.2 401.7l.5 1.7M304.7 390.7l.9 1.4M266.1 425.7l-1.1.9M300.7 396.2l.4 1M230.8 445.1l.8 1.9M297.7 412.1l.2.1M279.9 420.4l.9 2.3M306.9 422.9l-.3 2.3M239.2 459.1l-0 .9M263.1 437.1h0M277 467.8l-2.1.9M231.6 385.2l-1.7 1.7M303.6 425.2l.2.3M328.8 404.4l.4.7M303.1 466l-1.1 2M239.9 395.9h0M307.6 385.3l-.7 2.1M284.8 406.5l-.6.4M256.3 401.3l2 1.1M261.8 451.7l1.5.4M253.1 447l.4.8M296.7 440.7l2.3.7M305.9 461.3l-.6.1M246.3 441.5l.3.3M236.9 453l1.2 1.4M269.1 432.6l.2 1.1M294.8 398.5l-.9 1.1M311.9 450.9l.1 2M238.4 403.4l.9 1.4M267.7 415.1l1.4.9M282 441.7l-.6 2.3M264.5 408.1l-.8.4M226.9 427l-.5 2M296.4 440.6l.3 2.2M285 414l1.5.7M272 395.1l.1 2.1M240.8 468.9l-.1.3M314.2 389l-.3 2M255.2 398.1l-.6.6M317.2 422.9l-.6 0M326.9 411.5h0M262.7 418.9l-.7 0M254.6 451.7h0M300.4 427.5l-1.3 1.4M285.6 420.4l-2.2.5M295.1 401.7h0M239.6 451.1l.7.6M238.2 466.6l-.7.3M252.5 456.2l-.5.1M324.8 437.7l-1.8.2M266 440.6l.7.7M256.7 458.7l-2.2.2M241.7 451.2l-.2.4M269.1 442.4l.6.8M272.3 444.3l-.1 1M294.9 445.3l-.2.5"/>
<path stroke="#eeb0ca" stroke-width="4" d="M269.8 456.6l1.4.8M299.6 388.4l-.3.4M320.4 395.1l.7 1.8M262.5 390.2h0M283.6 414.1l.3 1.4M262.9 467.2l-1.8.1M236.7 461.9l1.3 1.6M250.8 431.2l-.3 1.7M278.1 458.2l1 1M313.2 465.3l-.2.1M283.5 451l-.3 1.2M261.6 461.9l1.3 1.8M303.7 416.3l-.2.2M248.2 425.6l-.3 2M270.8 402.8l-1.7.3M313.7 457.5l-1.6 1.4M287.3 405.1h0M262 419.2l.8.3M296.8 394.3l0 .4M242.9 425.6l-.4 2.3M318.8 463.3l-.3.1M325.1 432.1l1.2.1M324.4 441.6l.5.4M309.8 431.2l-1.2 2.2M229.2 391.9l1.1.2M307 403.9l-1.7 1.6M323.9 433.2l-.1.3M235.5 463l-1.6.4M302 462.7l-0 1.2M277.3 445.1l.2.2M318.3 396.1h0M296.6 387l.2.9M323.8 431.3l.4 1.7M304.5 447.1l.9 1.5M254.1 417.8l-1.7.9M264.8 393.7l-.8 1M226.6 421.2l.7.5M324.9 410.2l-2 1.3M278.7 455.2h0M243.9 445.2l-.5 1.1M266.8 407.2h0M318.8 437l-1.3.1M273.7 418.2l.2.4M320.5 430l-1.8.8M326.6 465.2h0M247 406.6l2.2.4M310 456.9l-1.6.8M284.4 417l.4.4M250.9 391.3l1.6.4M317.5 390.4l.3.2M313 455.4l-.2.9M227 390.3l-.9.4M275.2 392.5l-1.1 1.6M276.5 410.8l-.5 2.3M259.7 420.8l-1.1 1.1M282.7 398.5l-1.4.5M284.6 422.1l1.5 1.4M248 426.6h0M328.5 440.4l1.6 1M285.7 398.9h0M289 465.7l-1.3.7M324.8 457.1l-1.1 1M238.6 408.2l-.4.5M325.8 447.4l1.2 1M274.9 401.2h0M318.1 466.2l.9 2.2M310.4 438.1l-.5.4M287.3 401.6l-2.2.2M270.3 396.4l-1.5.8M256.1 391.2l-1.2.4M303.3 455.3l1.5.9M259.1 421.8l1.9 1.3M260.5 397l1.5.3M269.2 431.4l-1.3.7M264.1 432.8h0M302.3 462h0M251.5 385.5l.4.1M317.5 426.6l.5.3M254.3 430.1l-.8.2M305 420.8l-1.5 1.6M232.5 448.3l1.7 1.3M310.6 391.1l-1 .3M328.1 427.5l0 .4M300.7 408.8l1 1.1M251.4 445l.5 1.1M303 452.7l1 .1M307.2 433.4l.6.7M322.4 420.3l.4 2M275.7 401.7l.4.1M297.5 399.3l-.2.4M305.2 419.9l.4.2M275.1 415.1l-.4.3M317.2 452.9l-1.1 2.1M239.2 420.2l1 2M309.8 455.2l-.3 1.6M275.7 435.5l-.5 1.9M259.2 456.6l-.9.2"/>
<path stroke="#f0bcd2" stroke-width="4" d="M247.6 426.3l-.7 1.4M274.8 457.2l.6 1.3M319 458.4h0M306.3 387.6l-.7 2.2M330.1 405l-1.7 1.7M228.6 413.6l-1.1 2.1M264.7 398.3h0M272.9 417.7l-.3.3M257.3 402.3l-2 .2M231.1 433.4l1 .3M263.8 442.3l1 .3M239.4 409.3h0M244.5 389.1h0M292.5 439.3l0 1.2M314.6 459.1l.7 1M280.4 434.3l-1.5 1.6M320.3 400.2l0 .3M250.7 446l-.7.9M299.9 409.8l-.9.5M313.7 417.6l.3.3M259.4 424.4l-1.9 1.6M300.7 394.9l-.2.6M278.8 432.8l1.6 1.2M298.8 439.7l-.2 1.8M263.2 450l1.5.6M306.7 467.7h0M278.4 444.6l2 .1M301.2 449.9l.7.4M301.8 462.1l.2 1.2M324.4 452.9l0 2M305.8 416.8l-.5 1.6M258.6 432.6l-1.9.5M230 413.8l-1.9 0M228.2 424.2l-2 .1M315.3 466.8l.7 2.1M310.1 468.3l-1 1M325.3 415.7l1.3.1M244.7 416.1l.3 0M276.3 387l1.3 1.8M316.4 466.1l.3.6M274.4 405.1l.1 1.6M316.2 397.7l.5 2.2M266 434.5l1.8.1M304.3 400.4l-.9.4M279.4 435.2l2 .2M245.4 414.8l-.6.6M315 385.8l-0 .5M324.4 425.2l-.2 1.6M279.8 443.4l.6.1M287.7 384.6l.9 2.3M287.8 391.3l-.4 0M273.5 436.7l.2.3M276.8 462.9l-1.4.2M251.1 423.8l.5.6M244 392.5l-2.3.4M258.2 429.2l.2 2.1M283.8 451.3l-.5 1M254.7 463.8l-1.4.7M313.2 448.6l-.4.1M316.9 401l-.6.3M244.8 456.4l-0 .9M260 411.9l0 .9M262.6 430.9l.9 1.3M263.8 397.3l.7.7M234.5 439.4l-.3.3M287.1 408.6l-1.4.2M306.3 404.6l-1.2 2M308.1 413.8l1 1.2M226.7 461.8h0M310.8 425.7l-.6 1.3M326.1 441.8h0M248.8 457.4l-1.3 0M312.2 385.5l-.3.4M284.6 436.9l-.5 1.6M323.4 419.8l.2.8M301.5 416.4l1.4.3M246.8 433.9l.1 2M266.5 399.7l-1.2 2.2M284.2 387.7l.3.8M244 449.3l1.5 1.3M288.1 463.5l-.3 1.6M323.8 388.8l-1.9.2M280.7 460l.9 2.3M297.8 424.9l-1 1.8M288.2 439.5l1.7.7M275.2 411.2l-2.1.1M256.5 402.3l-1.5.9M292.5 425.4l-.7.2M325.6 448.8l.6.1M321.3 462h0M284.9 393.6l.1.7M249.5 438.8l1.1 1.6M256.6 449.4l-1.5 2M272.6 411.1l2.1.1M233.9 406.8l-.4 2.3M263.6 397.8l0 1.2M249.8 452.8l.4.6M284.5 417.6l.1.3M259 439.5l1.7.9M272.7 447.9h0M257.6 438.9l.4 1.6M255.1 465.9l.4.7M267.1 463.4l-2.3.3M303.1 464.5l.4 1.6M323.2 433.3l.7.3"/>
<path stroke="#f0bcd2" stroke-width="3" d="M288.6 457.2l1.8.4M231.7 439.7l2.2 1.1M296.7 451.9l-.1.3M274.2 437.2l-2 .8M265.6 458.4l-.8.9M245.2 436.1l1.8.1M324.5 438.5l2 .8M270.2 424.3l-1.3.5M245.9 402l1.1.2M271.3 443.9l1.6 1M322 429.5h0M300.3 436.3h0M276.7 385.8l-.6.2M257.3 426.2h0M286.9 440l-1.3 1.1M290 395.1l.2.3M298.4 417.7l-1.9 1M245.8 450.4h0M308.3 460.5l1 1.2M248.9 412.1l-.3 1M247.2 428l-1.6 1.3M286.8 407.6l1.1 1.1M312.9 417.1l1.6.7M271.9 459.9l1.1.7M254.5 423.2l.6 0M320.9 388.2l-1.6.8M322.5 386.7l1.4.2M261.7 450.5l-1.3 1.3M270.9 408l.6 1.4M249.8 415.1l-.7.3M234.1 454.8l-.4 1M226.2 399.7l1.5 1.1M249.5 429.6l-.5 0M273 412.2l-1.5 0M230.6 409.7l1.1.1M253.2 387.9l-1.1 1.7M228.6 418l-1.1 1.2M261.2 407.4l.4 1.1M296.3 461.9l-1.7 1.1M237.3 440.1l.4 2.3M319 444.6l.7 1M260.5 430.4l.6 0M242.7 385.6l-.6 2M254.4 455.6l1.3.8M289.6 398.9l.3.2M298.2 422.5l.1.6M254 396.1l-1.4.2M267.9 397.2l-.9.5M316.3 430.6l1 1M325.4 387.1l-1 1.8M249.8 439.9l.7 1M268 439.6l.5 1.4M310.3 455.6l1.7 1.3M309.3 387.6l.5.2M263.1 463.4l.3 1.6M328 413.7h0M257.9 426.2l.5 1.7M269.9 401.5l1.3 0M288.5 420.5l.5.5M247.7 400.6l.8 1M262 397.7l-.5.2M315.2 464.9l-2.4.4M306.5 405.6l-1.1 1.2M229.9 432.9l-1.6 1.5M290.9 390l.2.3M303.1 464.2l-.1 1.2M326.6 425.9l-1.5 1.8M271.2 387.8h0M279.6 409.6l.8 0M244.6 442.4l.4 1.7M310.9 428.9l-.2.3M283.5 397.6h0M267.5 433.3l-.8 1.1M309.3 419l-.3.2M324.6 441.4l-.4 1.6M318.9 463.8l.6.8M307.4 464.2l1.4 0M227.1 447.1l.4 2.2M253.1 405.6l.5.2M324.7 459.3l-.5.3M318.6 443.1l-.5.4M322.5 443.4l-1.7 1M289.4 423.5l-.4.8M266.9 448.9l1.3 2.1M246.5 425.6l.7.2M257.2 405.3l.9.8M327.8 436.7h0M246.5 420.2l.2 1.2M268.3 414.2l.7 1.1M310.6 400.3l-.2.7M299.8 464.9l-1.6.6M307.5 401.4l0 .3M260.2 452.5l-1.8.4M302.9 468.5l0 .3M241 433.3l.1.9"/>
<path stroke="#f8d8e6" stroke-width="4" d="M260.3 396.1l-.3.3M274.5 445.1l-.2.9M327.6 411.4l.4 0M258 440.2l-.7.4M323.8 439.4l-.7 1M241.2 391.8l-.6.4M265.7 420.6l.1 2.5M325.4 434.5l1.2 1.2M309.8 453.3l-2 .5M232.9 390.5l-.4.3M281 468.1l-1 .8M275.3 436.9l.4 2.3M237.7 457.8h0M252.7 417.1l.1.9M306.1 397.7h0M323.9 457.8h0M304.5 438.9l-.9 2M299.8 408h0M263.4 465.5l1.3 1.3M283.7 428.5l-.3 1.4M328.4 447.9l-.2.4M232.2 454.3h0M306.3 405.9l-.3.1M230.4 404.3l-1.5 1.5M288.2 466.5l-1 .4M313.1 410.7l.9.5M300.2 411h0M234.5 460.5h0M243.1 442.9l2.1 1.3M235.9 454.1l-.7.7M269.6 430.6l1.7 1.8M280.4 453.6l1.8 1.4M324 411.2l-.5 2.3M247.1 444.1l.4 1M321 464.9l-.4 2M265 452.7l.3.1M277.6 434.2h0M319.3 468.6l1.8 1.6M237.5 390.4l-.4.3M271.5 396.6l1.8 1.2M322.6 429.9h0M226.7 458.4h0M267.1 392.1l-.4.1M230.3 438.7l-2.3.5M251.8 420.4l-1.3.7M263.3 401.3l.1.3M293.3 424.4l1.5 1.2M316.6 454.8l1.3.4M262.3 445.2l-.5.2M301.3 466.7l.6 2.3M261.8 411.6l.8.9M260.3 456.5l.1.6M326.6 398.5l1.2.3M284.5 445.9l-.8 1.1M307.5 462.4l-.3 2.4M321.9 460.2l.7.6M301.3 419.7l-1 2.3M259.3 456.9l0 .3M235.5 406.7l-.6.8M297.4 412.4l-.1 1.3M304.2 455l.9.7M311.1 458.8l-.5 1.1M325.1 463.7l.9.8M307.2 434.9l-1.1.3M270.8 466l1.3 1.9M250 403.6l.5.4M294.4 411.5l0 2.1M227.9 422.8l1.8.2M274.4 455.2l-1.2 0M260.8 395.3l-.6 2.1M288.9 394.1l.3.3M267.5 416.1l-0 1.9M328.5 458.5l1.9 1.3M249.2 429.2l-.6 1M317.8 442.4l-1.3 1.6M295.3 453.1l.7 1.1M247.6 446.1l.4 0M293.4 442.3l-.8 1.7M247.3 427.9l-.4 1M256.4 385.5l-1 0M301.5 464.9l-1.9.4M228.1 422.5h0M259.9 416.7l.5.8M299.6 433.5l1.5.3M297.7 461.1l-1.3.4M322 420.7l-1.5 1.3M322 437.7l-.9.3M229 412.4l-1.4.3M314 441.7l.1.8M242.3 419l-.9.3M262.9 389.4l-.8 2.3M239.4 429.2l-.3.6M276.8 411.1l1.2 1.9"/>
<path stroke="#f8d8e6" stroke-width="3" d="M247.1 417.3l-1.1.9M244.9 432l1.2.6M307.4 404.6l-0 1.1M232.3 434.9l-.9.5M229 410.6l-.5.3M313.6 438l1 .3M290.7 399.2l-0 .6M281.5 400.9l1.3 1.7M312 401.6l1.6.7M316.8 449.3l.8.1M306.9 457.6h0M287.3 420.7h0M302.6 396l-1.9 1.6M324 446.8l-.8 1.4M296.7 387.7l-1.1.4M242 425.3l-.8.1M254.2 415.4l.4 1.1M284.1 392.7l1.7 1.3M242.1 410.3l2 1.3M279.6 434.8l-1.9 1.5M269.9 458.4l1.7.1M282 425.8l-2.1 1.1M249.1 447.7l-.2.5M313.5 427.5l.8 2.1M270.4 411l-1.3 1.1M261.8 390.2h0M295.6 436.5l.1.8M238.5 389.3l.3.3M317.3 457.2l.7 1.8M242.2 406.1l-.9.3M297.4 454.6l-.7 1M270.5 409.3h0M293.5 406.7l1.1.4M274.7 393.5l.1.6M315.1 412.8l-.8.3M239.7 404.2l1.7 1.6M246.2 449.4l-1.1 1.6M231.2 412.3l-.7.4M265.8 417.3l.1.6M268.6 449.7l-0 .9M268.3 419.1l2.1 1M312.4 464h0M277.2 429l-.1 2.2M263.7 459.6l.5 0M314.7 433.1l-.8.4M248.6 451.9l-1 .5M295.2 406.5l-.6 2.1M242.5 451.8l.8.4M251.1 387.7l-1.1 1.4M239.1 430.6l.5.8M228.7 448.4h0M280.8 435.8l-1.6 1.5M269 436l-.4 1.5M321.1 421.7l2.3.4M247.9 413.2h0M272 422.4l-.2.9M238.7 404.5h0M227.7 429.2l1.5.5M282.6 391.3l1.1.1M313 407.3l-1.5.6M327.1 437.5l-1.2 1.4M327.8 402.8l.2 1M324.1 433.4l1.9.3M313.2 458.7l1 .8M302.3 414.7l-.4.9M251.7 413.6l.6.3M246.4 458l.1.3M243.4 458.4l-.5 1.5M259.2 405.7l-.3.9M267.8 411.8l1.1.4M255.3 419l-.2.4M304.8 452.3l.5.3M264.2 394.9l1.8 1.6M285 394.8l-.9 2.2M321.1 441.9l.3.5M276 414.6h0M326 431l.9 1.8M314.6 456h0M325.6 450l.5.2M274.5 421l.2.3M256.3 449l.9.5M244.5 434l-1.4.7M236.4 438.2l-1.6.8M317 450l1.9.3M270.6 406.1l-0 1.2M246.4 464.2h0M235.9 446.4l-1 .1M327.8 467.3l.7.4M297.3 460.6l.5 1.5M266.1 458.1l-.1.9M231.5 428.7l-.2.5M233.3 385.3l1 1.2M269.1 412.4h0M280.9 411.4l2 1.4M302.2 407.9l-2 0M265.2 432h0M235.5 411.1l.6 2.4M284.2 429.4l-1.2.6M250.5 404l.2.3M299.8 464.3l-1.4 1.1M279.6 417.3l-.1 1.5M290.1 409.7l-2 .6M243.1 441.3l.3.4M263.8 422l-1.7.1M254.8 403.5l-.4.4M261.7 387.1l0 .6M251.2 449.9l.8.1M267.7 440.6l-.6 1M297.8 420.3l-.8.2M299.3 415.5l-.6.2M297.8 407.6l.8.5M272.1 386.6l1.5.1M325 421.8l.9 2M280.6 412.8l.1.6"/>
<path stroke="#eeb0ca" stroke-width="3" d="M309.9 416.3l-.5.1M282.9 412.6l1.2.6M269 444.5l-.1.3M260.6 401.2l.2 2.2M312.3 403.4l-.3 1.4M322.5 440.9l-.6 1M238.8 436.7l-.3 1.2M262.8 430.5h0M312.1 391l1.2 1.2M307.6 438.3l2.2.6M328 398.6l1.9.3M252.9 394.9l.6 1.7M273 411.4l1.3 1.7M284.9 404.4h0M257.8 463.2l-1 .8M267.2 464.9l-.2.2M248.2 441.2l-.9.3M308.6 441.1l.4.1M275.2 408.2h0M261.7 412.2l.3 2M288.1 397.9l1.5.4M250.2 395.1l.2.1M325.9 418.9l1.2 1.4M290.7 407.8l.1.8M324.3 389.8l-1.7 1M309.9 425.2l1.1 0M242.6 426l-.8.5M313.9 456.6l-2 1.4M293.1 413.3l-1.5 1.3M314.1 409.6l-.6 1M273.9 392.2l-.7.6M268.8 395l-.1 1.1M276.9 438.2h0M267.4 442.6l-1.8 1.8M259.6 462.5l.6 1.2M253.1 439.7l1 1.3M304.8 464.7l.7.2M320.5 399.9l-.8 2M305 434.2l.7.7M253.8 446.9l-1.4.2M235.8 441.5l-2.1.1M281.3 438.3h0M247.2 462.5l-2 .1M290.7 414.5l.1.7M285.1 414.7l.6.1M303.8 458.9h0M315.3 455.5l.8.4M311.1 410.9h0M250 419.9l.7.2M327.1 466.7l1.3.2M328.7 419.4l-.9.5M317.4 445.7l-.3.5M238.3 462.7l-1.6 1.3M237.3 457.8l-.4.8M302.2 446.5l1.3 1.1M328.7 434l-1.8 1.2M311.3 436.2l.6 0M276.7 414.1h0M286.6 466.8l-1.5.2M318.3 385.4l0 1.2M282.5 425.5l-.1.3M287.7 390.4l-1 .2M275.4 394.1h0M260.1 409.2l-1.7 1.6M272.6 436.6l1.3 1.4M249.5 442.1l-.1.5M323.4 397.8h0M303.1 423.7l-.6.5M266.9 464h0M303 412.7l-1.6.7M299.9 404.8l.9 1M258.7 447.3l-.2.8M291.5 458.9l-.3 1.2M255 456.8l-.1 2.4M240.9 424.3l1.7.2M308.8 457.3l-1.2 1M310.8 443.1h0M275 434.8l.6 1.8M294.1 407.1l.4.3M228.4 449.1l1.7 1.1M270.3 408l-.3 1M227.5 444.4l.9 2.1M308 415l-1.4 1.4M282.5 429.9l-1.4 1.7M314.9 390.8l-1.8 1.2M309.7 403.6l2.3.2M278.9 419.3l.3.3M288.9 386.2l-1.8 1M281.4 457.8l.1 1.8M295.8 439.7h0M296.2 449.2l-1 1.8M317.3 453.5l1.9.4M228.8 403.2l.5.9M267 385.4l.8.5M258.6 443.4l-.6 2M280 397.4l-.3.3M231.6 396.9l2.4.1"/>
<ellipse cx="234" cy="418" rx="6" ry="5" fill="#fcf7f9"/>
<ellipse cx="291" cy="432" rx="9" ry="4" fill="#fcf7f9" transform="rotate(-10 291 432)"/>
<ellipse cx="319" cy="408" rx="3.5" ry="7" fill="#fcf7f9"/>
<path stroke="#24162c" stroke-width="0.65" fill="none" stroke-linejoin="round" d="M262.7 413.6l-2.4 1.4 -2.3 1.5 -1.5 2.3 -1.1 2.5 -1.1 2.5M247.5 412.4l-1.6 2.4 -1.7 2.4 -2.4 1.6 -2.8.7 -2.8.6M225.2 384l-3 .1 -2.9.6 -2.8 1 -2.4 1.7 -1.5 2.6M269.3 414.1l.4-3 1.4-2.7 2-2.3 2.4-1.8M260.4 411.2l2.6.1 2.4 1 2.1 1.5 1.1 2.4 -.3 2.6M254.9 408.5l2-1.5 1.7-1.8 2-1.5M252.1 437.2l1.8 2.1 1.8 2.1 1.4 2.4 .3 2.8"/>
<path stroke="#44304e" stroke-width="0.65" fill="none" stroke-linejoin="round" d="M241.6 460.1l2.6-.8 2.8-.2 2.5 1.2M269.9 419.1l2.8-1.3 1.7-2.6 .3-3.1 -1.3-2.8M306.8 465.7l-2.9 1.5 -3.3-.2 -2.7-1.9M240.7 442.2l-2.5.8 -2.5.7 -2.6.1 -2.6-0 -2.6.2 -2.3 1.2M291.6 466.5l-2.1-1.6 -1.4-2.2 -.4-2.6 .8-2.5 1.8-1.9 2.6-.6M247.2 397.1l-2.5.4 -2.5.1 -2.4-.8"/>
<path stroke="#1a1020" stroke-width="0.8" fill="none" stroke-linejoin="round" d="M265.5 389.1l-1 2.5 -.5 2.7 -.8 2.6M252.1 456l-.1-3.1 -.9-2.9 -1.8-2.5M226.3 411.8l2.9-.9 2.7-1.5 1.5-2.7M266.8 423.8l2.1-1.5 2-1.6 1.6-1.9 .7-2.4 .4-2.5M244 468.5l-.8 1.8 -.9 1.8 -1.1 1.7M316.9 419.3l-2.6 1 -2.3 1.5 -1.2 2.5 -.5 2.7 .1 2.8M282.4 385l-1.7 1 -1.2 1.5 -.3 1.9M237.6 426.4l1.4-2.1 1.1-2.3 1.3-2.2 1.4-2.1 1.2-2.2M277.9 401.7l-1.4 2.9 -.6 3.1 .3 3.2M255.1 435.2l2.6-1.6 2.1-2.1 1.3-2.7M323.9 414.7l3-1.2 2.7-1.8 1.7-2.7M298.2 406l-2.6 1.5 -1.5 2.6 .1 3 1.6 2.5 2.7 1.3M271.8 390.7l1.6-2.6 .9-2.9 -.7-3M280.8 471.7l1.1 2.8 1.3 2.7 1.2 2.7M248.4 419.2l2.2-1.6 1.8-2.1 1.6-2.2 1.4-2.3 1-2.5M254.3 391.9l1.7 0 1.6.6 1 1.3M229.2 455.8l-1.7 1.9 -1.7 1.9 -2.2 1.4 -2.1 1.4 -2.4.9M247 394.8l.9-2.4 0-2.5 -.6-2.5M332.2 456.6l-1.9 2.1 -1.5 2.4 -1.3 2.5 -1.7 2.2"/>
<path stroke="#44304e" stroke-width="1.0" fill="none" stroke-linejoin="round" d="M243 467.3l3.1-.5 3-1 2.9-1.2M245.5 403.2l.3-3 -.1-3 -.4-2.9M313.6 399.4l2.5-.4 2.5.5 2.2 1.3 1.2 2.2 -0 2.5 -1.3 2.2M278.2 404.9l-2.3 1.6 -2.1 1.8 -1.2 2.5 -.8 2.7M235.2 444.7l2-2.2 2.2-2 2.3-1.8 2.6-1.4M229.6 453.3l-2.3 1.3 -1.6 2.1 -.2 2.7 1.2 2.4 2.1 1.7 2.4 1.1M279.6 413l2-1.6 2-1.5 1.5-2 .4-2.5 -1-2.4 -2.1-1.5M270.3 448.2l3-1.3 3.3.1 3.1.9M332.3 394.3l1.2-2.4 1.5-2.3 1.9-2 2.1-1.7"/>
<path stroke="#44304e" stroke-width="0.8" fill="none" stroke-linejoin="round" d="M260.1 423l1.7-2.3 1.6-2.4 1.8-2.2M309 426.1l-2.3 1.8 -1.5 2.5 .1 2.9M296.8 434.9l2.7.2 2.7.2 2.7.5 2.6.6 2.7.2M243 382.7l3.2-.9 3.2-.7 3.3-.4M322.6 441.4l1.1-1.7 1.4-1.4 1.3-1.5M231.3 413.2l1.2-1.7 1.5-1.4 1.8-1.1M284.5 425l-2.7.7 -2.7.3 -2.6-.8M229.1 386.7l-1.3 2.6 -1 2.8 .1 2.9 .4 2.9 .3 2.9M253.9 421.5l1.6-2.3 1-2.6 1.1-2.5 .6-2.7 .8-2.6M289.2 423.3l2.3-1.2 2.5-.9 2.6.1 2.2 1.5M238.8 446.3l-0-3.1 -1.4-2.8 -1.6-2.7 -2.5-1.9M321 438.6l-3.2-.6 -3.2-.8 -3.3-.2M327.8 432.2l1.6-1.8 .7-2.3 .1-2.4M312.9 385.8l2.5-.8 2.6-.3 2.6.3 2.4 1.2 1.8 1.9M251.6 436l2.9-1.7 3.2-.7 3.3-.3M225.7 433.7l3.2 0 3.1.6 2.7 1.7"/>
<path stroke="#2e1c38" stroke-width="0.8" fill="none" stroke-linejoin="round" d="M247.6 425.2l-1.8 2.2 -1.9 2.2 -2.4 1.6 -2.5 1.4 -2.4 1.6M321.5 437l-2.4 1.2 -2.7.6 -2.7.2 -2.7.6 -2.4 1.3M288.5 402.9l-2.4 1.7 -2 2.1 -1 2.8 .5 2.9 1.9 2.2M304.4 442.2l.6-2.6 -.3-2.7 -1-2.5 -1.8-1.9M296.6 468.1l-.5 2.8 -.5 2.8 .3 2.8 .4 2.8 1 2.6M299.4 416.5l3.2-.3 3-1.3 3-1.2M329.5 424.4l2.5.5 2.5.5 2.5.4 2.5-.5 2.1-1.4"/>
<path stroke="#382646" stroke-width="0.8" fill="none" stroke-linejoin="round" d="M289.6 461.1l2.7-1.3 3-.2 2.8 1.1M239.8 386.7l-2.8.4 -2.6-.9 -2.1-1.8M224.4 389l1.8-2.5 .9-2.9 -.2-3.1M266.4 401.6l-3 1.3 -3 1.2 -3.2.1M308.1 398l-2.3.5 -2.3-.2 -2.2-.8M315 426.7l-2.2-1.8 -1.5-2.4 -1.2-2.6M288.2 439.6l-1.3 1.9 -1.1 2.1 -.8 2.2M223.7 453.5l-1.9 2 -.6 2.7 .9 2.6 1.8 2.2 2.6 1M300.2 457.2l1.7 1.9 1.7 1.9 1.2 2.2 1 2.3 1.2 2.2 1.9 1.7"/>
<path stroke="#2e1c38" stroke-width="0.65" fill="none" stroke-linejoin="round" d="M310.5 397l-2.2.6 -2.2-.3 -1.8-1.4M322.2 401l-2.3 1.7 -2.2 1.8 -1.9 2.2 -.9 2.7 .2 2.9M236.8 470.5l1.3-2.2 .4-2.6 -.1-2.6 .3-2.6 .1-2.6M311.8 448.9l-2 2.2 -1.8 2.3 -.9 2.8M242.6 438.1l-1.9 1.8 -2.3 1.3 -2.3 1.3 -2.2 1.5 -2.3 1.4M248.3 395l-1.9.8 -1.8.9 -2 .4M226.1 455.3l-1.7-2.2 -1.9-2.1 -1.9-2.1 -1.8-2.2 -1.3-2.5M290.2 460.7l1.6-1.5 1-1.9 .9-2M254 468.4l2.5-.8 2.4-1 2.5-.6 2.6-.1M253.3 456.9l2.4-1.7 1.5-2.6 .1-3 -1.5-2.6 -2.3-1.8M325 397.8l-2.1 1.7 -2.1 1.7 -2.2 1.5 -1.7 2.1 -.3 2.6 .5 2.6M254.1 393l-1.6.8 -1.3 1.3 -1.3 1.3M312 466.8l-1.9 2.3 -1.9 2.3 -1 2.8M263.6 447.5l2.5-1.5 2.8-.8 2.9.6"/>
<path stroke="#382646" stroke-width="1.0" fill="none" stroke-linejoin="round" d="M308.6 426.5l-2.2 1.8 -2 2 -1.4 2.5 -.2 2.8M315.3 453.8l-.9 2.6 -.7 2.7 -.1 2.8M288.2 403.5l-2.3-.2 -1.9-1.4 -1.4-1.9M281.8 421.8l-1.8 2.5 -1.4 2.7 -.4 3M262.7 453.2l.3-2.6 .9-2.4 1.7-2 2.1-1.6 2.2-1.4 2.4-.9M245.8 436.1l-2.4-0 -2.4-.2 -2.4.4M288.2 402.6l2.6-.3 2.3 1.1 1.7 1.9 .5 2.5 -.3 2.6 -.3 2.6M272.6 452l1.4-2.1 1-2.3 1.2-2.2 1.9-1.7 2.3-1.2M225.4 425.2l1.2-2.3 1.2-2.2 .6-2.5 -.5-2.5 -.9-2.4 -1.7-1.9M330.7 471.6l-2.5.6 -2.5.8 -2.2 1.4 -1.7 2M307.5 431.1l-1.6 1.9 -1.8 1.7 -2.1 1.3 -2.2 1.2M276.8 459.4l1 2.4 1.4 2.2 1.3 2.3 .8 2.5 .1 2.6M256.5 391.6l-1.8 1.8 -2.2 1.3 -2.5.7"/>
<path stroke="#24162c" stroke-width="1.0" fill="none" stroke-linejoin="round" d="M314.1 395.2l-.9 1.9 -.9 1.9 -1.5 1.4M287.9 429.2l-2.3 1.1 -2.5.6 -2.5.6 -2.5-.2 -2.1-1.4 -1-2.3M275.2 469.9l-2.4.7 -2.5.1 -2.2-1.2 -1.3-2.2M311 430.4l-1.6-.8 -1.5-1 -1.6-.8M326.9 384.9l2.3-1.1 2.4-.8 2.5-.2 2.5.3 2.4.8M306.5 436.8l2.6-.9 2.4-1.3 2-1.9 1.3-2.4"/>
<path stroke="#1a1020" stroke-width="1.0" fill="none" stroke-linejoin="round" d="M243.7 469.1l-1.9 1.8 -2.4 1.1 -2.5.7 -2.6-.4 -2.5-.7 -2.6-.3M330.9 388.2l-2.7.1 -2.6-.3 -2.6-.4 -2.5-.7 -2.5-.8 -2.6-.7M320.4 440.5l2.6.3 2.1 1.6 .9 2.5 -.5 2.6M255.6 397.7l-2.3 1.4 -2.7-0 -2.4-1.3 -1.3-2.4M279.9 425.8l-2.5-.7 -2.2-1.4 -1.2-2.3 -.3-2.6 -.2-2.6 .6-2.5M259.6 384.4l-2.6 1 -2.8.1 -2.7-.8 -2.4-1.4 -2.4-1.4M289.7 392.2l.2-1.7 -.7-1.6 -1.5-1"/>
<path stroke="#2e1c38" stroke-width="1.0" fill="none" stroke-linejoin="round" d="M246.9 469.2l-2.6 0 -2.6.2 -2.4 1 -2.5.8 -2.6-.1 -2.5-.7M320.9 388.2l1.2-2.6 .3-2.8 -.6-2.8 -.4-2.8 -.9-2.7M226 403.9l1.1-2.8 .5-2.9 -.8-2.9 -1.2-2.7 -1-2.8M301.6 414l-.8 2.2 -.5 2.3 -.2 2.3M302.4 448.4l2.7.6 2.2 1.6 1 2.6 0 2.8 -.7 2.7M288.1 429.4l-1 2.6 -.9 2.6 -1.3 2.5 -1.8 2.2M302 456.9l-1.4 1 -1.6.4 -1.7-.1"/>
<path stroke="#24162c" stroke-width="0.8" fill="none" stroke-linejoin="round" d="M287.4 444.3l1.1-1.3 .9-1.4 .7-1.5M252.5 425l-2.5 1 -2.3 1.4 -2.4 1.2 -2.7.2M304.2 459.5l1.3-2.3 1.4-2.2 1.1-2.4 .9-2.5 .6-2.5M310.4 432.7l2.4-.9 2-1.6 .9-2.4 .1-2.5M265.8 420.5l-1.4 2.1 -1 2.3 -.8 2.4 -1 2.3 -.4 2.5 -.1 2.5M282.9 440.8l2.3-2.2 1.3-2.9 -.1-3.2M332.8 431.6l-2.4 1.3 -2.6 1 -2.7-.1 -2.7-.1M258.3 438.4l-1.4 1.3 -1.8.8 -1.7.9"/>
<path stroke="#382646" stroke-width="0.65" fill="none" stroke-linejoin="round" d="M252.4 406.3l2.6-1.8 1.2-2.9 -.5-3.1M237.3 454.6l-.8-2.2 -0-2.4 .2-2.4M326.1 425.8l-2.6 1.6 -2.7 1.4 -3 .8 -3 .4M296.1 462.4l-2.1 1.8 -1.8 2.1 -.6 2.7 -.1 2.8 -.4 2.8M320.3 415.2l-1.9.9 -2 .7 -2.1.1M320.1 385.1l-.5 1.9 .2 1.9 .7 1.8"/>
<path stroke="#1a1020" stroke-width="0.65" fill="none" stroke-linejoin="round" d="M331.5 445l-2.4.9 -2.3 1 -2.4.8M234.2 399.2l-2.3-1.6 -2.6-1.1 -2.6-1 -2.8-.1 -2.6 1.1M252.4 403.7l1.7-2.1 2-1.8 2.6-.7 2.6.7 2.3 1.4M303.7 463.6l1.5-1.6 1.7-1.4 1.8-1.3M245 400.1l-1.5 2.1 -.5 2.5 .3 2.5 1.2 2.2 1.7 1.9 2.4.8"/>
<ellipse cx="234" cy="418" rx="6" ry="5" fill="#fcf7f9"/>
<ellipse cx="291" cy="432" rx="9" ry="4" fill="#fcf7f9" transform="rotate(-10 291 432)"/>
<ellipse cx="319" cy="408" rx="3.5" ry="7" fill="#fcf7f9"/>
<path stroke="#ea86b2" stroke-width="2.7" d="M231.2 386.3h0M281.5 387.1l-.4.1M312.3 386.9l-.7.1M243.5 389.4l.3.3M300.5 390l1 .6M306.6 390.6l-.6.2M310.6 389.7l-.4 1M259.5 394l-.5.1M329.7 393.3l-.5.1M247.2 397l.4.1M265.8 396.6h0M272.3 395.2l-.5.9M314 395.4l-.7.2M323.9 396.7l-.2.4M243.3 399.2l-.7.7M264.2 399.2h0M236.5 402.6h0M281.7 401.9l-.5.6M293.7 403.4h0M264.3 404.8h0M309 406.1l.9.4M252.2 409.2l-.6.2M311.2 414.9h0M283.4 417.6l.6.4M260.3 420.4l.2.4M288.1 420.6l.2.2M241.1 425.2l.5 1M248.8 425.6h0M251.6 425.2l.6.5M276.6 426.9l-.2.4M253.8 431.9l-.2.5M253.1 434l.7.1M260.3 434.8h0M270.7 435h0M320.2 433.6h0M327.2 435h0M241.6 436.5l.7.5M312.2 437l0 .7M316 437.4l-.2.5M251.4 440.1l.4.2M275.3 440.3h0M232.1 443l.9 0M239.2 442.9l.4.8M263.9 442.6l-.8.5M265.6 446.4h0M274.7 446.4l.2.5M307.1 447.5l-.1.4M229.3 450.6l-.3 0M315.8 448.9l-.7.3M265.9 453.4l-.1.6M303.6 454.1l.3.1M332.2 452.9l-.3.1M270.6 456.6l-0 .7M288 455.2l.4.2M303.7 456.4l.4.3M316.3 456l-1 .2M230.5 459l.4.7M233 459.3l.7.8M292.8 458.8h0M314.6 458.7h0M236 463.7h0M270.8 462.8l-.5.3M280.5 461.9l.5 1M308.6 462.6l.3.2M320 461.1l.4 1.1"/>
<path stroke="#e26ca2" stroke-width="1.9" d="M238.3 387.7l.2.2M249.9 387.5l-.5.2M260.3 387.5h0M291.2 386.8l-.1.6M260.7 389.5l-.4.5M327.2 389.8h0M252.6 393.1l.7.4M305.5 392.5l-1 .2M251.6 397.1l-.3.1M274.7 396.5l-.4.5M283.2 396l.2.6M310.3 396.5l.2.9M284.4 399.6l-.1.5M297.6 400l-.5.9M233.2 402.7h0M241.3 401.8h0M258.7 403.8h0M260.1 402.1l.8.3M236.2 406.6h0M256 406.1l.2.1M258.9 405.5l-.9.6M247.3 409.3l-.3.8M268 409.1l-.3.9M278.9 409.5l0 .3M283.7 409.6l-.6.1M297.5 409.9h0M328.6 407.8l-.4.9M250.3 411.2l-.7.5M282.6 411.9l1 .7M304.6 412.7h0M330.6 411.9l.2.8M267.9 414.1l.2 1M271.2 416.1l.3.4M274.1 415.1h0M322 414.7l-.5.7M330.1 418.1l-.2.6M251.8 421.8l-.5.3M256.9 420.7l-.8.1M267.9 428.3l-.1.4M285 428.7h0M266.3 430.7h0M237.5 434.2l-.4.2M299.2 435l-.9.3M238.1 437.4h0M290.7 437h0M235.9 446.2l.3 1M309.7 446.7l1 .6M278.2 452.9l.6.3M305.9 452.6l.8.9M310.6 452.7l.1.7M273.4 455.7l-.2.2M303.5 458.7l-.2.4"/>
<path stroke="#f09cc0" stroke-width="2.3" d="M242.6 387.2l-.2.6M263.2 386.9l-.3.5M272.3 389.1l.3.4M236.5 393.7l-.8.2M270.7 393.4h0M236.4 395.5h0M269.7 404.9l.4 0M330.1 405.9l.5.9M307 409.3h0M278.4 415.1l.1.4M290.2 414.9h0M324.7 417.8l.7.9M245.6 424l-.4.3M311.3 424.4h0M325 425.1l.1.7M322.5 431.2l.8 0M323.4 433.3h0M273.5 437.1h0M304.2 444.2l.1.7M314.5 442.9l1.1.1M318.8 442.4l.1.9M240.3 447.4l.4.5M251.5 451l1 0M270.2 448.8l-.5.8M279.9 450.2l-.7 1M284.5 450.5l-.3.7M286.6 450.3l-.5.2M325.6 449.7l-.5 1.1M271.3 454.1h0M320.2 452.4l-.1 1M234.9 454.9l.2.7M262.8 456.7l-.3 1.1M332 459.9l.3.2M248.8 462.1l-.1.3M251.9 462.5l.4.9"/>
<path stroke="#f09cc0" stroke-width="2.7" d="M245.1 386l-.2.6M277.2 387.9l-.6.3M277.6 389.2l.7.5M290.5 390.9l-.2.3M293.5 395.9l.5.6M234.6 399.8l.5.4M273.4 398.9l-.3.3M285 402.5l.2.2M288.7 402.5l-1 .2M298.7 402.6l0 .7M312.4 402.7l.3.7M248.1 405.9h0M323.1 406.4h0M228.7 411l.3.4M232 412.1h0M290.1 412.3l.1.3M264.8 415.1l0 .9M302 420.7h0M309.4 421.7l.2.7M321.5 421.5l.7 0M291.1 424l-.3.2M279.5 433.1l-.1.6M277.4 436.5l.6.8M293.5 436.9l0 .7M327 437.1l-.3.1M253.5 440l.2 1.1M265.9 440.9l.1.4M228.7 446.4l.5.1M269.6 447.7l-.7.3M320.7 447.6l-1.1.2M230.5 450.4h0M258.5 450.7l.4.6M249.7 452.3l.9.8M241.3 459.2h0M256.1 462.2l-.1.3M330 462.3l.3.2"/>
<path stroke="#e26ca2" stroke-width="2.7" d="M254 387l-1.1.5M328.8 387.9l1.2.2M240.5 390.5l-.1.7M254 389.2h0M232.7 392.4h0M286.1 392.3l.6.2M307.7 393.7h0M230.4 396.5l.2.2M285.1 397.1l.5 0M308.1 397.2l-.4.2M320 395.3l-.4.3M331.7 395.8h0M237.9 399.3l-.6 0M286.3 400.2h0M300.3 400.1l.9.1M255.3 402.2h0M279.1 401.7l-.8.2M283.4 406.7l.7.2M297 405h0M303.9 409.2l-.6.2M272.5 412.5l.2.6M277.3 412.6h0M314.2 412.2l.6 1M276.3 418.1l.3.6M301.7 418.7l.6.3M283 422h0M260.3 424.1l.5.4M269.8 425.8l-.6 0M276.9 425.9h0M304.3 425.8l.5.2M237.8 428.7h0M243.5 428.1l1 .5M318.3 429.7l-.4.7M330.9 430.2l-.4.3M304.2 434.7h0M318.8 437.2l-0 .7M241.4 439.1l-0 .9M271.6 439.6l-.7.3M286.4 440.8l.5.1M300.5 439.4l0 .5M306.9 439.8l.4.6M229 442.8h0M260.3 444.7l-.5.1M286.8 443.1l.3.7M293.8 443.3l-1 .5M315.9 447.4l.3.1M255.7 449.3h0M294.8 452.6l.5.6M329 452.9h0M249.4 457.1l-.2.4M277.2 456.2l.5 0M281.8 456.5l-.9.3M289.5 455.6l.6.5M262 458.4l-.7.4M258.8 461.1l.5.9M274.5 461.4l-.7.5"/>
<path stroke="#d44e90" stroke-width="1.9" d="M256.9 386.1l-.4.4M294.6 386.5h0M318.1 387.8l.2.2M266.5 411.2l.3.8M232 434.6l.4.9M267.6 458l-.4.8"/>
<path stroke="#ea86b2" stroke-width="1.9" d="M270 386.9l-.3 1M283.8 387.4l.7.2M306 386.3l.1.8M315.3 386.2l-.2.4M258.7 390.1h0M286.2 390.8l.6.3M313.8 389.8l1.2.1M277.3 392.7l1.1.2M302.5 392.3h0M315.5 392.6l.2.7M260.6 397.1l1.1.3M316.9 396.8h0M328.1 396.6h0M227.6 400.3l-.2.2M232.1 398.9l.3.1M257.1 398.4l.1 1M280.4 399.5l-.4.8M322.6 400.4l.4.4M249.9 401.9h0M242.7 405l.4.1M294.5 405l-.1.3M302.3 405l0 .3M229.3 408.1l-.1.8M236 408.3h0M255.2 409.6h0M286.8 408.5l-.6.7M330.7 408.9l.8.9M256 412.4l-.3.1M269.9 411.6l-.7.9M288.2 411.5l.3.3M253.7 415.1h0M284.6 415.4l.1.5M269.4 418.7h0M285.9 418l.9.4M292 417.8h0M246.7 421.5l-.6.1M285.8 420.5l.1.3M267.8 425.1l-.3.7M295.5 425.5h0M314.9 423.8h0M232.7 428.7l.5.6M257.5 428.7l-1.2.1M314.8 428.7l.1.5M259 430.9l-.3.9M262.2 429.9l-.8.2M270.8 429.9l.6.2M309 430.1l-.4.8M312.3 431.9l-.3.4M258.9 437.8h0M309.2 437.9h0M322.2 437.7l0 .9M328.7 436.9l1 .3M228.8 440.5l.9.2M325 440.5l-.3.3M283.3 442.6l.2.3M296.5 442.5l.7.6M309.4 442.9l-.3.1M326.4 444l-.8.3M261.8 445.8l-.2.1M281.4 446.6l.4.3M238.5 449.6h0M246.6 449.3l.2 1M273.9 448.7l.6.6M228.9 452l.5.5M240.7 453.3l-.5.4M260.8 452.5l.3.2M246.5 456.7l-.9.7M259.3 457.3h0M254.5 459.7l-.1.4M273 460.1h0M300.9 459.7h0M246 463.7l-.6.1M266 461.2l0 .8M277.8 462.1l-.9.7M283.3 461.9h0M295.3 463.2l-0 .5M298.2 461.9l.2.7"/>
<path stroke="#f09cc0" stroke-width="1.9" d="M273 386.7l0 .9M247.2 389l-.2.8M265.2 389.7l.7.6M276.3 391l-1 .3M331.8 389.1l.8.5M296.4 392.1l.8.4M233.6 407.9l0 .3M275.8 409.9l-.2.3M311.8 412.6l-.2.5M281.9 416.2l-.2.2M305.2 418.8l.3.6M299.5 420.9l-.6.5M306.4 421.2h0M228.5 423.6l.4.4M230.5 423.9l.5.1M234.2 424.7l-.5.7M283.9 423.6l.6.2M288.5 423.5l-.1.8M321.7 425.2l.5.3M280.8 431.3l.1 1M281.2 436.8l-.9.4M283.6 437.2l1 .3M235.5 439.8l.2.7M279.6 440.7l-.5 0M255.7 444.6h0M281.1 444.2h0M300.6 444.3h0M250.6 446.5h0M254.9 447.6h0M314.2 446.6l-1 .2M331.3 447.1l-.3.1M248.2 449.2l.1 1.2M267.3 449.3l.2.7M236.8 453.5l.7.4M284.6 453l.4.3M289.6 452.6l-.8.8M252.9 456.2h0M257.1 458.9h0M295.9 459.2l.3.6M310.4 459.4l-.6.1M262.4 462.3l-.2.1"/>
<path stroke="#ea86b2" stroke-width="2.3" d="M287.2 387h0M250.6 389l1.1.4M262.9 393.4l.4.2M273.4 393.4h0M279.3 394.1l.4.1M322.9 392.8l.9.7M325.1 392.7l.2.7M232.6 397.1l-0 .8M277.8 399.9l.4.3M293.6 400.3l.1.3M325.6 399.6l-.3 1.1M243.5 402.5h0M268.5 403.1l.1.2M327.2 403.7l-.9.2M239 406.7l-.2.4M272.7 404.7l.1.4M311.8 405.7l-.6.5M325.1 406.4l-.7.7M264.6 407.8l.3 1M272.3 408.8l.4.1M289.4 409.8h0M299.1 408.6l-0 .4M236.1 410.9l-.8.9M246.1 411.8l-.7.5M259.2 412.9l-.1.3M296 415.4l-.5.1M328.2 415.2l.9.1M255.6 418.2l-1 .1M281.4 418.9h0M271.1 421.9l-.3 0M276.1 420.5l-1 .4M292.3 421.3h0M328.1 421.8l.5.2M251.6 426.7l-.5.8M254.3 427.4l-.5.3M307.5 427.6l.3.3M328.5 428.1h0M330.8 427.9l-.3 0M273.5 430.7l1 .1M304.4 431.6l.2 1.1M326.2 430.5l-1 .5M265.1 433.4h0M305.9 434.4l.3 0M314.7 434.8l-.6 0M316.9 433.7l.2.6M236.4 438.1l-.6.3M252.7 438.1h0M269.4 437h0M243.9 439.6l0 .9M291.9 440.1h0M311.2 440.7h0M312.9 440.1h0M321.5 440.1h0M266 443.2l-.1.5M270.9 444.1l-.7.3M259 447.8l-.7.2M241 449.3h0M263.8 450.1h0M293.8 448.7l-.5 1M301.3 451h0M311.5 450l-.3.4M319.8 449.7l-.1.5M258.7 453.9l-.6.3M318 453.7l-.7.7M231.6 457.2l-.6.1M266.9 456.5h0M283.6 455.5l-.3.2M295.3 457.4h0M301.3 456.7l.4.1M311 456.6l.8 0M288.1 460.4l-.1.4M316.5 458.8l-.8.6M226.9 461.5l-.2.2M304.5 462.4l.3 0M311.4 461.6l-.7 1M326.3 462.4l-.6.1"/>
<path stroke="#e26ca2" stroke-width="2.3" d="M296.8 387.5h0M228.9 390.8l.5.4M281.1 389.9l.8.5M292.3 390.3l.2.6M297.1 391h0M244.3 392.9h0M289.8 392.9l1.1.1M294.4 394.4h0M279.9 395.8l-.6.4M290.4 397.4h0M297.4 395.6l-1 .6M245.9 399.6l.2 1M249.2 399.9l.3 0M311.2 400.4l.3.4M278.2 406.7l-.1.6M314.7 406.3h0M237.7 411l.4.8M240.9 412.3l.4.1M262.8 412h0M280.9 412.4h0M307.6 411.1h0M244.4 415l-.6.7M261.8 414.9h0M313 416.1l-.8.4M331.1 414.3l-.6.9M246.8 418.1h0M249.1 417.3l0 .5M258.6 418.9h0M262.9 417.1l0 .9M307.2 417.7h0M321.5 418l-.5.5M268.7 422.4l.1.3M272.9 425.1l.5.5M272.4 428.5l-.5 0M230.4 431.9h0M238.2 430.1l.2.8M241.6 430.2h0M228.8 433.3l-.3.4M251.7 435l.6.2M310 434.8l-.2.3M258.6 441l-.7.2M295.3 440.9l.6.6M243.3 447.4l.5.6M330.7 449.9l-.7.5M268.5 453.7h0M307.9 457l.7.2M321.1 456.2l.9.4M329.2 456.3h0M276 458.6h0M320.2 459.3l-1.1.1M328.7 459.4l.3.3M231.4 462l-.9.5M286.6 462.1h0M291.2 463.5l1 .2M314.6 461.4l-.5.3"/>
<path stroke="#d44e90" stroke-width="2.7" d="M256.6 392.1l.4.7M257.1 395.9h0M258.4 414.4l0 .5M293.1 417.9l.3 0M308.7 450.1l-.1.6M276.7 454l-.6.4M278.3 458.8l.5.4M306.1 459.9l.4.2"/>
<path stroke="#f4b0cc" stroke-width="2.3" d="M266.2 393.4l-.6.9M270.8 403h0M322 426.9l-.3.3M257.4 434.8l.9.7M262.5 441.3l-.5.2M330.2 443.8l-1 .6M249.9 459.1h0"/>
<path stroke="#d44e90" stroke-width="2.3" d="M283.3 392.3h0M239.7 397.4h0M323.7 462.6l-.4.2"/>
<path stroke="#f4b0cc" stroke-width="2.7" d="M267.1 400.3l-.9.5M271 399h0M332.6 439.7l-1 .5M302.2 446.9l.1.3"/>
<path stroke="#f4b0cc" stroke-width="1.9" d="M325.4 447h0M231.6 452.1l.9.8M281.5 452.5l.4.9M255.3 457l-.4 0"/>
</g>
<path stroke="#808088" stroke-width="1.1" d="M231 464.2h22.5"/>
</g>
<clipPath id="cr3"><path d="M332 387h100v81h-100z"/></clipPath>
<g clip-path="url(#cr3)"><g filter="url(#bl)" stroke-linecap="round">
<path fill="#f8dfe9" d="M331 386h102v83h-102z"/>
<path stroke="#eeaec8" stroke-width="4" d="M409.7 435.2l2.2.5M405.5 450.5l-1 .3M337.9 438.4l-.9.7M390.5 418.1l.1.6M353.8 431.4l-1.2 1.2M342.2 459.6l-.6 2.3M425.2 437.9l-.3.5M356.3 432.8l0 .5M429.6 454.8l-0 1.6M381.9 421.6l1 1.1M374.6 445l-.8 1.1M432.7 463.6l.1.4M347 397.6l-.9 1.4M390.4 457.3l.2 1.5M381.7 466.1l-.5.8M330.9 386.8l.9 1M419.6 426l.4.7M376.1 444.7l1.8.5M365.4 400.8l1.2.5M357.2 431.9l1.9.3M390.9 387.5l1.9.8M345.7 448.4l-1.1.9M334.4 454.6l-.1.3M335 422.1l-.3.1M343.7 467.3l-.4.6M330.9 457.6h0M407.1 457.1l-1.9 1M427.6 425.1l.6.4M332.6 424.1l-.3.1M423.8 461.5l2.2.9M407.5 465.1l-1.8.7M332.2 425.9l2.1.3M347.9 453.5l-1 .9M428.4 468.9l-.4.5M336.5 457.7l-.3.5M363.1 445.9l.2.4M336.4 422.3l-.1.4M348.2 446.9l-1.6.8M394.8 460.1l1.4.2M377.2 402.8l.3.2M339.7 435.1l.9.1M410.3 454.5l-1.6.6M352.5 436.3l.9 1.2M366.3 434.6l-.5.4M382.6 446.2h0M431.2 427.1l.5.1M407.5 457.7h0M422.6 443.9l-1 .4M343.1 449.2l-2 1.2M349.3 392.4l-1.3 1.3M384 421.3l-1.1.9M350.4 454.3l1.3.6M360.7 439.2l-1.6 1.3M369.5 456.2l.6.3M335.9 396.4l-1.9 1.3M415.9 458.3l2.2.6M331.5 419l.6 1.2M370.3 441.4l-.9.1M381.3 412.5l1.3.9M370.8 408.8l1.3 1.3M351.2 426.5l1.5.8M420.1 433.6l-0 .5M334.2 392.1l-1.1.6M353.2 449.4l1.3.9M374.3 443.3l-.2 2.2M385.2 426.5l-1.2.2M408.7 432.7l-1.9 1.1M414.5 452.2h0M344.2 458.1l-1.1.1M390.5 387.4l.6.8M426.4 450l-2.3.1M357.3 405.2l-1.2.3M368.7 436.3l.3 1M337 413.8l-1.2.5M373.8 463.3l-2 .4M370.6 445.5l-0 .8M409.6 464.9l-1.8.8M382.7 448.5l1.3.2M394.1 444l0 .6M387.1 412.9l.7 2M378.2 418.9l.9.9M350.7 466.5l.5.3M381.5 410.4l-1.7 1.2M378.1 461.6l-.9.8M385.5 468l-.7 2M427.8 410.5l-.4.9M418.7 394.5l1 1.6M415.7 389.8l-1 .4M421.5 449.6l-.3 1.7M375.1 466.1l-2.1 1.1M424.3 455.6l1 0M339.9 386.2l.8.1M431.6 468.5l-2 .6M370.2 416.1l-1 1.2M420.2 393.4l-.7.9M372.9 409.5l-1 .5M367.5 417.6l-1.6.6M384.7 426.2l-2 1.4M433.5 416h0M382.1 394.6l-.6 1.5M359.5 434.9l-1.1 1.6M381.3 417l1.3 0M395.9 449.6l-1 1.2M378.7 392.6l-.5.3M391.7 468.1l-.5 1.7M394.7 445.2l-2.1.6M427 444.7l.6 0M351.3 407.4l.2.5M365.7 419.9l.2.4M331.8 411.7l-.2.3M381.1 428.2h0M351.8 402.9l.7 1.6"/>
<path stroke="#f8d4e4" stroke-width="4" d="M365.3 393.2l1.2.7M415.2 408.5l1.6 1.3M335.1 451.1h0M347.6 403.6l.3.3M356.3 449.4l.3 1M427.4 394.7l2.4.6M378.6 464.1h0M425.4 398.8l-2 .8M336.3 402.6h0M354.6 439.8l-.2.3M426 447.8l.5.6M341.1 441.9l1.3 1.1M379.5 448.6l-.1.8M389.5 459l.9 1.5M366.8 446.8l-.7 1.5M387.6 436.1h0M341.2 397.4l-1.7 1.1M353.2 459.8l2.3 0M369.4 465.1l-.6 1.1M364.1 429.7l1.2.2M356.2 432.1l1.1.4M338.6 387.6l1.3.9M386.2 425.8l1.2 1.9M392.6 456.7l-.8.9M380.2 430.4l.3.1M355.5 408.3l1.2.2M425.6 424.3l-.2.4M370.1 394.6l1.1 1.8M337.7 405.1l-1.2.4M387.1 434.5h0M360.3 409.9l-1 1.1M362.1 451.1l.9.6M357.9 433.9l1.4 1.2M382.6 411.3l1.3 1M426.6 405l.3 1M415.5 411.9l-1.2.1M430.5 399l.7 1.7M367.5 412.7l1.7.7M338.7 441.1l-1.4 1.6M349.2 431.3l-1.8.7M407.4 468.8h0M431 445.2l-1.6 1.7M386.7 391.2h0M383.4 433.2l-1.1 1M360.8 431.7l-1 .4M349.2 465.9h0M383.2 434l.5.6M408.1 443.7l1.3.3M342.5 452.8h0M384.9 409.5l-.8 1M418.1 415l.3.5M367.6 426.2l1.6.4M332.1 450.8l1.9.7M381.7 439.4l.9.5M391.8 455l-.6.2M360.1 441.6l.1 2.4M432.8 425.5l.4 0M342.4 411.2h0M419.5 428.5l2.1 1.2M365 434.1l-.4.4M343 426.5h0M376 461.1l-.2 1M369.5 422.1l-.1.3M412.2 393.6l-.5.5M407.8 444.3l.4.4M427.4 410.4l.2.6M361.2 389.8l-1.3 1.4M393.7 436.4l-.8 2.3M388.4 427.4l1.6.5M332.2 425l2.1.4M433.4 423l-1 .5M366.1 392.2l1.9.9M424.8 403.1l.3 1.1M381.4 411.3l-.7 1.7M346.7 402.9l-.8.4M367.5 413.4l1.1 1.2M355.1 422.1l.2.1M356.6 388.1l2 1M380.8 395.4l.9 0M424.4 407.4h0M421.9 406l-2.4 0M374 400.6l.1.3M408.4 396l1.3.7M337.4 393.4l-1.2.6M394.7 443.1l-.2 2.2M409.1 436.6l.2.4M354.8 401.1l-.9.9M426.7 454.3l.4.5M412.9 394.7l-.7.2M336.9 452.7l-2 1.2M331.3 415.8l.8.3M372.1 467.4l-.7.2M344.1 453.9h0M396.7 386.9l1.3 1.1M337.1 446l.9.2M331.9 450.7l.1 1.5M334 409.1l.1.9"/>
<path stroke="#f4c6da" stroke-width="3" d="M422.7 394.8l.5 1.1M338.6 435.1l-1 .9M354.4 446.4l-.6 2.2M424.7 467.3l1 2M416.7 416.7l-0 1.8M335.1 420.8l.9.9M369.2 414.1l.6.8M380.2 407.8l-1.1.3M419.6 391.2h0M373.8 413.3l-.2 1.2M427.5 461.4l1.2.7M431.9 391.7l-2 .8M340.6 436.3l-.9.3M365.3 457.7l.6 1M416.4 418.2l.2.5M336.6 438.2l-.4 2.2M372.6 392.7l-.1.4M376.3 433.3l.6.5M419.3 394.1h0M356.3 413.9l-.9 2M390.7 385.3l.9 1.5M332.7 390.7l1.2.9M335.2 388h0M358 460.5l-.5 1.6M388.6 399.4h0M330.8 468.6l-.4.5M355.2 422.6l.3 2.4M364.9 446.2l-.6.4M418 420.3l.1.3M331 444.7l-.9.3M410.5 399l-1.5 2M422 418.5l-.9 1.3M425.7 398.4l-1.4.1M355.5 411.6l.7.2M386.8 416.2h0M369.6 427.6l-.4.6M394.2 461l.7.1M389.6 414.1l.5.1M348.8 433l.5 1.7M332 406.6h0M365.8 465.2l1.8.5M425.1 448.5l-2.1.4M381 399l-.5.8M397.5 446.5l.2 1.1M407.4 463l-0 .3M372 440l-.2.8M409.7 434.7l1.6 1.2M352.7 441.5l-1.9 1.2M335.5 461.2l-1.4.3M380.7 389.8l.4.5M372.2 428.1l2.2.7M361.2 399.8l-1.5.4M380.5 402.2l-.8.2M363 430.9l.2.6M372.5 425.5l.1 1.5M415.5 415.4l-1.5.2M374.8 404.5l-.4 1M337.4 444.6l-1 .2M343.1 403.5l1.3 1.9M351.2 400l-1.3 1.9M362.5 454.3l.4.2M363.9 389.1h0M380.5 436.5h0M332.1 460.4l.7.4M413.2 434.8l1.7 1.3M402.2 457.5l1.3 1.2M361.2 408.5h0M350.4 435.4l.9 1.8M351.1 420.2l.5.6M432.1 419.7l-2.1 1.1M343.3 433.1l-1.4 1.7M391.7 435.1l.7 1.4M362.4 426.9l-1.6.2M377.5 417.2l1.5 1.6M334.8 459l.1.4M373.6 438.2l.3.5M336.7 450.8l.1 1.1M365.3 440l-.1.5M338.4 403.2l-1.3.5M402.1 436l-.9 1.7M368.9 407.9h0M351.9 456.2l-.1 2.4M417.7 418.2l-1 1.4M373.8 406.2l-2.3.9M338.2 407.9l-1.1.9M350.1 402.9l-.4 1M428.5 394l-1.1.9M367.9 429.6l-2.1 1.3M413.2 442l1.5.5M372.4 412.3h0M370.2 402.9l-.3.2M392.7 461.9l-.9 1.7M352.8 392.4l2 .1M430.5 412.9l.1.4M355.3 398.9l0 .3M361.8 452.8l-1.8 1.4M404.8 468.2l-1.3.2M331 394.2l.2 2M331.4 417.6l.2.2M331.1 452.7l1.3.8M400.7 469.5h0M401.7 455.6l1.7.3M382.8 413.1h0M420.8 395l-2.1.7"/>
<path stroke="#f8d4e4" stroke-width="3" d="M386.8 468.7l2.1.1M388 404.6l-.2 2.2M346.6 466.8l-1.8.9M383.6 391.7l.8.8M374.3 451.1l-.7 1.6M368.7 418.5h0M395.8 443.3l.5.3M425 410l-1.3 1.6M365.5 416.2l.5 0M386.1 440.6l-.1.9M352.7 388.2l1 .5M404.8 461.5l1.3.1M416.3 387.9h0M367.3 392.4l-1.1.2M412.1 446.3l-.2.7M362.7 400.2l1 .5M369.6 396.8l.1 2.4M345.7 417.1l-.6 1.4M339.6 435.9l-.4 2.1M335.6 395.3l.7.4M380.2 428.6l.8.8M371.4 430.9l-2.1.6M423.1 443.8l-.3.2M342.5 411.7l-.3.3M388.9 410.4l-.2 1.1M424.5 430.5l-.9 1.1M423.8 445l-.8.5M409.6 467.1h0M414.5 398.7l-.9.5M385.2 453.8l-1.3.5M381.4 404.6l-2 1M406.1 435.9l1.9.4M427.2 418.6l-1.3.2M353.9 402.6l-1.6 1.6M394.5 448.3l.2.3M400.6 459.5l.7.2M340.1 423.1l1.1.4M392.1 448.8l.5.4M379.7 435.1h0M369.5 399.7l1.5.2M429.5 468.3l1.3 1.3M332.4 405.9l1.1 1.7M352.7 457.5l-.4 0M407.1 465.6l-2.1 0M406.7 468.9l-.6.7M363.4 401.4l.2.3M386.8 436l-.4 1.4M374.9 392.5l.3.5M415.6 440.4l-1.7.8M386.3 409l-.9.6M425.2 412.8l-.4.6M388.4 452.2l0 1.7M425.7 421.9l1.3 1.5M424.4 467l2 1.4M347.8 403.4l.3.2M376.7 405.8l2.1 0M336.9 431.3l-1.8.1M333.8 399.8l-.1.5M408.2 438.5l-2.2.6M424 400.3l1.6.5M429.5 447.2h0M413.6 428.1l.8.8M342.5 443.8l.9.3M407.3 389.5l2.1.9M423.7 434l2 .4M377 437.4l1.3.2M397.3 385.4l-1 1.1M391.7 444.5l-2.5.2M413.3 410l-.3.6M373.3 396.8l-1.1.4M393.2 435.6l-.7.3M385.9 399.7l-.5.9M385.6 399.1l-0 2.1M365.7 450l.1.7M406 446.3h0M385.2 411.6l1.3 1.8M398.8 430.3l.2.3M403.3 446.5l.4 1.7M360.8 438l.8.3M346 395.2l-.1.7M350.9 449.9l.9 1.2M381.2 429.6l2.2.3M418.9 425.4l.3 1M384.6 459.8l.5 1.1M374.3 430.5l1 .7M333.5 467.5l1 .3M378.8 404.4l-1.3 1.1M350 451.2l-1.9 1M393.2 388.3l.7.3M334.7 385.6l-1.6 0M411.6 438.2h0M334.2 400.8l-.3 1.7M358.4 466.3l-.1 2.2M371.4 399.8l-.6.8M433 460.5l.2.1M343.8 407.6l-2 .6M359.4 423.2l-1.5.2M393.2 425.3l.6.2M373.2 430.6l-1 1.9M431.1 399l-.4.7M386.8 395.3h0M352.1 453.5l-2.1.7M339.3 434.7l-1.2 2M349.9 432.5l1 2.2M417.4 465.7l.8.9M415.5 400.7l-1 2.1M432.8 409.5l.8.4M390.9 439.1l-.8.6M430.7 446.6l1.5 1.2M425.2 442.8l-1 0M356 389.5l-.7.8M372.5 432.1l1.2.8M432.6 387.7l-.2 1.7M351.9 438.6h0M376.9 390.2l.1 1.1M429 459.4l1.8.6M432.6 404l-.8 1.4M337 438l-.2.3M343.7 390.7l-.5 1M368.5 386.1l-2.2.4M416.4 464.9l-.4.1M420.2 424l1.2.1M368.2 468.8h0M389.4 442.3l-.9.2M432.1 424.2l.7 1M335.9 389.7l1.7.7M381.7 465l.4.2M405.6 438.9l.2 1.2M401.8 459.4l-.4.1M366.8 402.2h0M429.5 402.9l.6 1.9"/>
<path stroke="#f0b8d0" stroke-width="4" d="M367.3 407.3l-1.4.3M380.3 458.1l-.5.8M337.6 402.4l-.7 2.4M335.1 400.8h0M373.6 444.1l.2 2.2M424.6 422l-1.6 1.1M427.7 407.6l-.8 1M376.8 425.3l.3.6M336.6 449l-1.7.5M422.3 392.7l1.2 1.7M419.8 389l-1.1 1.8M427.3 462.4l-.1 2.3M416.5 468.7l-1.8.8M413.5 392.9l1.1.9M419 413.4h0M410 404.5l.3.4M380.3 433.9l.7.3M350.5 405.1l-2.3.5M347.4 465.8l0 1.6M353.2 419.8l-.2.4M360.9 451.6h0M346 459.6l-1.9 1.4M420.9 446.4l-.5.3M410.2 394.2l.8 1.3M411.3 452.6l-1.2 1.4M420.9 460.5l-.3.3M333.4 400.7l.4 2.1M389 420.9l-.4 1.2M388.1 398.9l-1.1 1.2M374.3 391l.3.8M391 465.3l-.6.4M348.7 465.8l-.1.5M377.2 440.1l-.7 1.6M334.3 467.7l-.8 1.2M357.9 406.1h0M405.2 468.8l.6.2M431.7 406.1l-.5 1.2M388.8 414.1h0M361 421.7l2.2 1M368.6 451.6l.2 1.9M402.8 455.6l-.7.1M368.2 413.2l1.9.2M331.6 403l.2.4M419.6 402.7h0M342.1 388.4l2.1.5M373.1 424.9l-1 1.3M331.8 434.6l-.6 1.7M389.6 435.7l-.5 1.6M355 407.3l-.6 1.2M333.1 438.2l-1.5.1M380.6 437l-.9 0M351.3 462.9l.1.8M376.7 441l-.8.7M421.1 424.9l-.4 1.5M383 433.6l2 1M429.1 456.2l1.3.5M398.3 447.5h0M339.2 464.7l1.8 1M417.4 457l.3 1.6M337.1 413.7h0M427.9 395.2l1.1 1.6M388.8 396l.1 1M386.6 428.3l.5 1.5M367 447.8l-1.3 1.2M337.2 435.9l-2 1.3M415.7 437.4l.2.5M424.2 397l-2.1 1M366.2 417.7l-.4.5M351.2 433l-1.7.4M417.4 463.8l-1.1.2M348.8 387.6l-1.4 1.8M380.5 396.5l-1.3.7M333 410.5l-2 .6M390.7 438.8l0 .7M335.7 402.9l.3 1.3M425.9 411.5l-.6.4M433 458.6l-.1.8M336.4 406.5l-.2.7M369.8 453l-.9.2M367.5 457.6h0M372.7 442.9l.8 1.6M356.4 401.1l1.8 1.5M375.4 445.6l.8 1.1M345.3 423l1.1.8M395.1 428.8l1.6 1.8"/>
<path stroke="#f0b8d0" stroke-width="3" d="M370 401.6l-.1 1.8M427.6 468.3l1.4.9M433.6 464.2l-.6.5M338.2 463.6l.3.1M338.5 443.6l2.3.6M376.6 432.9l.9.7M419.1 391.4l-1 .8M349.4 396.4l-.2.6M382.5 436.8h0M344.1 385.5l1.1 1.7M398.8 429l.3.2M414.5 466.8l1.7 1M377.6 407.6l.4.7M421.7 450.2h0M426.3 397.5l.9 2M405.9 447.5l-.4.9M347.7 407.5l-1.6.4M411.9 431.7l-.9 1.5M414.3 387.4l-.2.3M334.5 386.6l-.4.2M354.3 419l-.3.5M346.8 467.2l2.4 0M349.1 415.3l1.4.3M391 436.5l1.9.9M424.8 425.3l.3.2M430 387.7l.8.4M414.1 452.8l2 .7M395.8 456.3l0 1.1M367.9 444.7l.3.2M341.8 409.2l-1.4.4M423.6 391.8l1.9.6M337.4 414.6l-.6 1.5M424.8 423.8l-.1 1M352.6 434.6l2.1 1M400.6 432.5l-2.1.9M386.7 398l-.9.4M373.3 394.8l-.3.5M332.9 433.1l-1.5.3M342.3 450.5l.3 1.5M428.2 452.8l-.3.6M392.1 427.5h0M421.8 426.4l1.5 1.5M405.6 387.9l-.4 1.9M331.5 391.6l.3.9M409.2 465.6l-.7 1.4M382.1 406.8h0M345.8 438.7l2.3 1M341.3 398.2l-.6 1.7M391.5 417.5l-.2 1.3M427.3 412.3h0M351.6 411.3l1.6 0M365.3 426.1l-1.2.1M337.7 401.3l-.4.3M355.3 405.2l-.2.6M355.1 393.3l-.2 1.9M362.9 410l-.6.3M407.3 439.3l-.4.3M333.4 435.9l.3.1M404.8 446.8l0 .9M347.6 411.7l-.5 1M415 465l-1.8.1M384.8 415.5l1.1 0M415.4 465.8l.7 1.5M430.6 468.1h0M385.5 395.8l.1.4M345.2 414.2l1.2.5M417.5 409.1l1.9.5M358.4 448l.4.2M382.4 414.9h0M425.3 400.9l.4.1M359.5 391.6l-.4.1M388.3 419.1l-.1 1.1M352 403.1l1.3 1.2M372 449.8l.9.6M394.5 465.8l-.3.3M333.5 404.9l.7 1.2M365.6 389.5h0M377.9 455.5h0M384.5 398.4h0M389.2 407.9l.4.2M391.5 449.5l.3 1.2M368.2 440h0M387.8 396.3l-.8.8M396.7 453.4l.5.4M372.3 454.8l.1.4M425.1 439.9l.1.4M358 396.9l1.1.6M430.5 424.9l-0 .7M341.5 428l-.7.3M378.8 447.6l-.3 1.7M333.5 454.3l-.8.2M357 441.5l-.1 1M352.1 454.8h0M370 468.3h0M426.9 466.6h0M432.8 398.7l.3.3M333.4 409.5l-2.3.6M372.1 418.3l.8 1.8M359.5 409h0M356 445.8l-.9.1M341.4 407.7l-.1 1.8M340.8 447.7l-.1.3M343.5 395.1l.3.1M342.8 422h0"/>
<path stroke="#eeaec8" stroke-width="3" d="M357.2 400.5h0M332.1 455.9l.4.1M375.3 413.2l-.3 1.1M341.6 462.4h0M348.4 410.6l.8.8M409.3 466.9l.4.5M356.2 399.7l1.1.5M358.3 439.3l-1.1.5M390.3 431.2h0M422.3 396.5l-.1.6M421.4 434.3l1.5.6M390.8 443.4l.4.6M335.6 423l.2 2.2M396.2 442.9l.3 0M356.9 429.2l-.3.4M432.6 396.4l1.4.1M424.8 392.5l.5.5M341.7 411.1l-0 .7M362.2 427.9l1.5.5M388.4 395.9l1 .3M415.2 433.2l-.8.4M353.8 413.9l-1 .6M404 447.4l.4 1.1M423.9 429.9l.2 1.3M430.3 457.9l-.1.4M349 419.7l-1.8.1M368.9 446.6l-.9 1.4M345.7 438.6l-1.5 1M364.2 397.5l-.2.8M404.5 462l.5 1.7M372.4 440.4l1.1.2M352 438.7l.3 1.4M374.3 433.9l-1.7 1.8M420.7 410.5l-.2.8M380.8 421.9l.9 2M422.9 418l.2 1.7M402.6 463l.4.2M423.7 393.6l-.7 1.8M341.8 385.1l1.1 1.5M337.6 460.1l.7.4M363.9 463.5l.2 1.1M398.9 439.9l.1.3M359.2 447l-0 .3M335.1 409.1l-1.9.5M415.8 449.9l.7.5M389.7 414.1l.3.1M356.3 466.8l.4 1.7M383.1 435.4l1.2 1.2M360.6 442.8h0M360.2 408.2l1.4.9M428.4 419.4l1.3 1.8M374 463.8l1 1.8M374.8 460.9l-.3.6M334.6 413.5l.9 1.3M419.2 392.7l-1.8 1M371.6 458.7l.7 1.4M340.9 421.6l.6.3M369.4 459.4l-1 .1M415.5 412.9l.1 1M370.9 408.7l.7 1.6M364.2 440.3l1.5 1.6M345.3 463.7l.2.2M427.3 426.6l.3.6M409.7 468.6l-.5.9M345.3 432.2h0M424.3 395.6l-1.7.9M363.6 422.9l1 .6M423.3 393.2l.7.5M376.5 418l1.7.9M360.3 457l-1.5.3M389.7 455.1l1 1.7M393.4 432.8l.1.6M361.3 405.1l.1.3M334.9 394.4l.1 1.6M428.4 442.5l-1 .6M412.5 459.1h0M351.2 424.4l.2.3M426 428.8l.1 2.5M383.3 432.5l1.7.1M332.3 389l-.4.7M394.3 449.8l1.1.3M380 430.7h0M366.6 448.1l.8.6M370.8 410l2.1.2M353.1 421.2l-2.5.1M391.7 439.4l1.7.3M427.6 421.9l.5 1.3M352.8 455.3l-2.3.7M420.9 387.5l.2 1.7M332.7 419.9h0M345 413.9l.4.5M415 451.1l-1.3.1M346 408.9l-0 1M384.7 429.4l-.2.7M365.9 426.1l-1 0M425.7 435.1l.2.4M387.4 393.5l-1.1.3M422.5 422.5l.5 1.7M391.8 451.4l-.9.5M430.2 398.2l-.6 1.7M358.7 403.3l.3 1.2M427 450.2l1.7 1.4M359.6 393.5l-.1.4M382.4 418.4l-.4 1.1M334.3 390.8l-.2 1.9M360.3 392.5h0M369.6 414.2l1.7 1.7"/>
<path stroke="#f4c6da" stroke-width="4" d="M405.3 443.4l-2.1.6M390.9 459.6l-1.9.2M363.6 431l.5.1M336.2 415.1l-.9.9M345.4 463.8l.1.6M389.2 452.6l-1.2 1.1M331.5 423.1l.7 1M413.5 451.9l.3 0M394.4 467l-1 .7M358.6 449.5l.4 1.2M348.4 390.9l-1.5.5M420.1 466.5l-1.1.4M336.3 393.9l0 .7M383.2 398.4l-.7.3M369.9 455.5l-1.9.2M367.8 401.5l.2 1.5M364.7 405.5l.1 1.5M369.2 414.7l-1.4 1.1M383.4 424.3l-.1 1.5M336 412.6l2 1.5M334.8 422.3l-.6.7M377.4 435.7h0M387.9 404.7l1 0M334.4 449.2l.2.3M345.8 452.9l-.9 1.9M349 396.7l.6.9M381.3 447.8l-.1 1.7M350 418l-1.5.1M395.3 451.4l1.4.5M345.1 447.9l1.7.8M354.1 431.9l.1.2M378.9 410.3l1.7.8M419.4 429l1 2.3M404.5 452.3l-1.6 1.1M409.2 450.5l-1 1.5M394.4 387.5l-2.1.4M397.1 457.4h0M425.4 393.6l-.8 1.6M354.8 416.4l-.3 1.6M353.9 452.4l-.2.2M350.1 387.5l-.7.5M421 416.4l.4 1.8M334.4 404l0 2M350.4 409l-1.7.1M379.1 398.5l-1.9 1M386.9 390.9l-.3.3M341.6 460.9l1.5.8M372.3 452.5l.6.7M392.4 427l-2 1.4M385.6 400.9l.8.6M388.8 434.6l-.2.3M427 422.2l1.2 1.7M427.7 467.3l-0 .7M387 435.4l0 .3M421.4 426.4l-1.1 1.6M341.5 389.8l-.3 1.7M356.1 401.6l.1 1.9M429.5 428.6h0M346.9 423.5l.6 2M430.1 441.3l-1.6.9M367.2 422.2l.6 1.8M333 469.2l-2.2.4M412.9 402.4l2 .3M391.4 440.6l1 0M398.9 462.5l1 1.6M413.7 449.3l-.4.2M409.3 399.8l1.3.2M383.6 432.7l-2.1 1.1M337 424.3l.2 2.1M428.5 449.6l.3.6M380.6 429.1l-1.7.5M385.2 409.3l1 .5M431.4 416.6l-.4.7M387.6 433.8l.1.6M366.7 449.4l.8.1M368.9 464.1l.2.4M345 407.8l-.2 1.3M364.7 396.9l-.5 1.2M358.6 430l-1 .1M363.4 433.4l-2.2 1M374.8 428.2l-.6.2M341.6 463.1l.3 1.5M338.5 443.2l-1 1M355.9 461.6l2.3 1M419.8 387l.5 2.3M367.8 420.4l.3 1.9M334.6 430.6l.2.3M424.1 452.3l1.8 1.1M414.1 410.4l1.2 2.2M338.2 421.8l.8.5M359.3 445.5l-1.6.3M344.8 459.6h0M410.1 432.9l-1.2.1M331.9 404.1l.3 1M341.6 458.5l.6.2M371.8 434.1l-.8 1.8M433 460.3l.4.4M406.2 446.9l-1.6 1.4"/>
<polygon points="389,389 404,389 406,397 414,415 420,425 406,432 394,427 390,412" fill="#fcf6f8"/>
<ellipse cx="398" cy="403" rx="6" ry="9" fill="#f8e4ec"/>
<path stroke="#4a4a66" stroke-width="0.45" fill="none" stroke-linejoin="round" d="M398.7 399.8l.4 2.8 .5 2.8 .7 2.8 .3 2.8 -0 2.8M386.4 408.5l-1-3.1 -1.7-2.8 -1.6-2.9M433 451.2l1.7 2 2.1 1.6 2.1 1.6M350.1 434.3l.1-1.7 -.1-1.7 -.6-1.6M388.4 409.4l-.6 3.2 -.6 3.2 -.3 3.2M341.4 384l-.3-2.7 -.8-2.6 -1.8-2 -2.5-.9 -2.6.4M355 460.3l-2.6-.5 -2.6 0 -2.6.5 -2.3 1.2 -2.2 1.4 -2.5.9M328.9 460.4l-.8 2.5 -1.7 2 -2.4 1.2 -2.7-.1 -2.3-1.3 -1.8-1.9M399.3 452.5l.6-2.8 .8-2.7 1.6-2.3 1.9-2.1 2.1-1.9M374.9 400.1l-1.3-2.1 -.9-2.3 -1.1-2.2M371.9 460.7l2.9.6 3-.3 2.5-1.7M381.5 390.5l.9 2.6 .6 2.7 .6 2.7 .6 2.7 .4 2.8M378.7 392.3l.1-2.7 .7-2.6 1.4-2.3"/>
<path stroke="#3a3850" stroke-width="0.6" fill="none" stroke-linejoin="round" d="M396.7 466.6l2.5 1.6 2.6 1.5 2.4 1.7M344 397.9l2.8.8 2.6 1.3 1.8 2.2 .7 2.8 -.8 2.8M362 403.3l.7-2.8 1.9-2.2 2.4-1.6 2.9-.3 2.9.4M429.8 471.1l1.2 1.3 1.3 1.2 1 1.4M389.2 393.7l-3 .9 -3 1 -3 1 -3.1.3M393.6 416.8l-.1-2.8 1.2-2.5 2.1-1.8 2.3-1.6 2-2M411 431.4l-.7-2.4 -.6-2.4 .4-2.5 .9-2.4 1.4-2.1"/>
<path stroke="#4a4a66" stroke-width="0.6" fill="none" stroke-linejoin="round" d="M369.6 392.8l1.4 2.7 1.3 2.7 1.8 2.4 1.8 2.4 1.9 2.3M351.2 469.8l-1.4-2.1 -1.8-1.7 -2.4-.6M431.1 440.8l.9 2.4 .8 2.4 .4 2.5 .5 2.5M338.1 465.9l-1-2.1 -.8-2.2 -.2-2.4M378.4 427.3l-.5-2.5 -.6-2.5 -.1-2.6 1-2.4"/>
<path stroke="#2e2a40" stroke-width="0.6" fill="none" stroke-linejoin="round" d="M398.3 404.4l3.1-.3 3.1.1 3.1.4M413.1 391.3l3.1.2 3 .6 3.1.2 3.1.1M418.3 418.4l0 3 -.8 2.9 -1.7 2.5 -2.2 2.1M368.6 407.6l1.3 1.2 1.3 1.2 1.4 1M351.8 436.4l-1.5-2.7 -1.7-2.5 -2-2.3 -2.3-2M352.3 449.4l.4 2.5 .1 2.5 .1 2.5 .2 2.5M413.3 391.1l-2.3 1.9 -2.7 1.3 -3-0 -2.6-1.4 -1.7-2.4M387.6 452.8l1.7 1.5 1.9 1.2 2.2.4"/>
<path stroke="#5a5a78" stroke-width="0.6" fill="none" stroke-linejoin="round" d="M378.5 403.5l-.4 2.7 -.6 2.7 -.6 2.7 -0 2.7 .1 2.7M374.2 429.2l.2-3 .1-3 .3-2.9 .7-2.9 .7-2.9M367.8 387.5l-1.3-1.8 -.9-2 -.6-2.1M346.1 404.8l-.2 2 -.6 1.9 -.6 2M370.1 460l-2.8.2 -2.7.9 -1.9 2 -1.2 2.6 -.7 2.7M425.5 407.9l-1.8 2.1 -1.9 2.1 -1.8 2.1 -1.4 2.5 -.5 2.8M433.3 455.6l-.5 2.5 -1 2.3 -1.2 2.2"/>
<path stroke="#5a5a78" stroke-width="0.45" fill="none" stroke-linejoin="round" d="M336.6 455.1l2.3-.1 2.2-.8 1.8-1.5M424 455l.1-2.9 1.4-2.5 1.9-2.2 2.6-1.4 2.7-1.1M421.2 427.9l.2 2 -.5 1.9 -1.1 1.6M410.3 391.9l-1-2.1 -0-2.3 .7-2.2M377.8 430.2l-2.4.8 -2.1 1.4 -1.8 1.7 -2 1.5 -2.1 1.4M372.5 430l-.4 2.9 -.4 2.9 .5 2.9 .5 2.9M384.1 448.3l1.6-1.7 2-1.3 2.3-.3"/>
<path stroke="#3a3850" stroke-width="0.45" fill="none" stroke-linejoin="round" d="M336.5 454.1l1.2 2 1.4 1.9 1.4 1.9M327.7 437.1l-.1 2.9 -1 2.7 -1.8 2.3 -2.6 1.2 -2.9 0M375.7 391.9l-.1 2.4 .3 2.4 .6 2.3M332.8 395.4l-.3 2.8 -.5 2.8 -.2 2.8 .7 2.7M403.9 431l1.9-1.5 1.8-1.6 1.3-2M330.4 434.6l-.4 1.7 -.5 1.7 -.4 1.7M376.3 459.3l1.6 2 1.5 2.1 .8 2.5 -.4 2.6"/>
<path stroke="#2e2a40" stroke-width="0.45" fill="none" stroke-linejoin="round" d="M403.4 432.1l-.4 2.4 -1.4 2 -1.8 1.6M381.7 437.8l-1.3 2.4 -1.9 2 -2.4 1.2 -2.7-.1 -2.6-.8M400.2 448.9l.8 1.6 .6 1.6 .5 1.7M371.9 432.8l-1.8-1.8 -2.2-1.4 -2.1-1.5 -2-1.6 -2.2-1.3M370.7 391.5l-0 2.5 -.2 2.5 -1 2.3M423.8 457.6l-.4 3.1 .1 3.1 1.3 2.8 1.8 2.5M376.1 405l-.5-2.6 -.5-2.6 -.9-2.4M396 466.1l-2.6.6 -2.6.7 -2.3 1.4 -1.4 2.2 -.6 2.6 .7 2.6"/>
<polygon points="389,389 404,389 406,397 414,415 420,425 406,432 394,427 390,412" fill="#fcf6f8"/>
<path stroke="#ee96bd" stroke-width="2.6" d="M334.9 385.7l-.7.5M359.9 387.8l1 .1M374.7 386.2l.2.9M416.6 385.8l.6 1M348.7 389.5h0M368.8 389.5l.6.5M336.3 399.5l-.1.3M378.3 399.7h0M385 404.7h0M419.7 405.5l.5.6M368.8 408.6h0M385.4 408.2h0M427.5 408.1l.5 0M334.8 413l-.8.4M360.9 412.2l.4.2M425.4 411.1l0 .3M341.8 414.2l-.8.5M381.9 415.6l0 1M435.1 416.1l.9.4M336.3 421.8l-.3.7M353.7 420.6l.1.3M383.1 421.7l-.1.8M347.4 424.7l-.6.5M384.6 425.2l.5.3M350.9 428.6h0M355.8 426.9l.3 1M388.7 427.9l.1.3M347.8 431.2l1.2 0M384.2 431.2l.2.4M433.2 431l.7 1M422.9 437.9l-.1.6M432.3 437.3l.6.3M371.2 439.5l.5.7M345.3 444.3l.3.2M362.8 443.1l.9.1M345.5 446.1l-.4.4M397.9 445.9h0M407.2 447.5h0M427.8 447.5l.4.3M402.6 450.5h0M410.5 449.2l-.6.2M336.6 456.1l-.6.3M423.2 456.1l.8.7M430 455.6h0M366.9 460.1l-1.1.1M422 458.4l.6.6M357.6 461.1l-.7.9M429.7 462h0"/>
<path stroke="#e87cae" stroke-width="1.9" d="M339.8 386l-.4.1M395.9 387.2h0M340.6 389.6h0M365.9 389.4l.2.4M378.2 390.5l.1.8M408.2 389.7l.4.2M375.5 397.4l.4.1M337.4 402.4l0 .7M344.9 401.7h0M350.6 402.5l.5.8M362.7 403.4l-.3.8M410.7 402.4l.5.3M431.9 402.1l.5.1M354.5 404.9l-1.2.1M388.1 404.9l-.5.3M346.9 411.5l-.6.3M367 410.9l0 .7M432.9 412.8l0 1M342.8 414.6l1 .2M350.4 415.8l.2 1M361.7 414.4l.6.2M338.5 417.6l-.2.3M353.3 418.7h0M371.3 418.4l-.6.2M429.8 418.5l.1.3M345.5 422l-.9.5M347.4 422.2l-.6.3M363.1 422l-.6.1M335 424.7l-.1 1.1M343 425.3h0M350.3 424.7l.2.1M381.4 423.9h0M387 425.3l.3.1M337 428.4l-.5.8M392 428l.9.7M424.8 426.9h0M355.1 431.2l.8 0M334.6 435.2h0M337.7 434.8l.2.5M357.4 433l.3.8M366.6 433.7l-.6 0M382.9 433.6l-.4.4M389.1 435l-.5.7M343.5 437.7h0M366.3 437.7h0M391.4 437.8l1 .3M361.7 440.7l.3.9M429 440.5l-.8 0M432.3 439.6h0M342.2 443l.3 0M377.2 442.3l-.2 1.1M425.9 443.6h0M417.6 446l.2 1M340 450.6l.3.3M387.7 448.9l.3.3M392.4 450.1l-.7.6M419.2 450.1l.1.6M429.4 450.1h0M403 453.2h0M407 452.6l.3.2M401 457.1l.3.3M404.8 454.9l.5.9M351.5 459.4l.2.7M365.6 462.6l.5.3M378 463l-1.1.3"/>
<path stroke="#ee96bd" stroke-width="2.3" d="M343.2 387.6l.3.6M377.5 387.7l-.1.3M382 387.7l-.3.5M374.6 390.3l.5.6M383.6 390.5l.3.5M330.7 392.3l.4.2M378.2 397.2h0M421.9 395.5l-.2.4M382 398.8l-.4.8M379.7 401.9l.3.1M383.1 402.4l.1.3M423.7 401.9l.3.4M428.1 402.4l-0 .3M426.7 404.7l0 .4M336.4 408.3l-0 .7M345.2 407.8l.4.6M414.8 409h0M419.9 414.4l.3.7M335.9 417.6l-.5.5M373 418.6l-.2.5M366 421.1h0M379.5 421.5l-.1.5M421.9 421.4l-1 .2M357.5 428.3l.5.2M372.1 427.4l-.4.3M352.4 431.6l.9.1M346.2 436.1l.4.6M384.5 437.2h0M355.4 442.5l-.1 1M422.1 444.4h0M433.1 443.1l-.5.8M373 447.8l-1 .3M337.3 453h0M414 453.6l.7 0M338.6 456.4l-.3.2M377.3 456.3l-.7 0"/>
<path stroke="#f4aacb" stroke-width="2.6" d="M346.6 386.7l.3.8M359.5 423.8l.8.7M362.5 424.5l.5.4M411.3 434.8l-.8.7M433.2 450.6l.4.3M432.3 454.1l.7.2"/>
<path stroke="#ee96bd" stroke-width="1.9" d="M349.4 386l0 .3M423.8 389.2l.6.5M375.8 392.5l1.1.4M342 395.7h0M356 405.6l.2.4M384.3 411.7l0 1.1M378.9 415.5l.2 1M377.5 418.2l-.4.3M381.6 418.8l-1 .1M359.2 421.5l-.4.4M367.5 420.3l.2.5M338.3 424.4l-.6.8M367 424.8l.3.9M366.5 428.1l-.2.6M382.9 427.6l.2.3M334.5 430.8l-.2.3M391.1 430l-.6.1M421.2 433.6l-.6.6M430 436.4l-.9.2M374.4 443.1l-.6.1M332.4 445.9l.9.1M360.3 446.5l.4.2M364.1 445.3l.2 1.1M405.5 448.5l.5.9M427.3 450.8l.5 0M373.3 455.7l-.6 1M420 456.6l-1 .4M348.1 462.1l1.2 0M394.9 462.5l-.9.4"/>
<path stroke="#e87cae" stroke-width="2.3" d="M352.3 387.6l-.6.7M345.2 390.4l-.8.7M412.2 389.7l-.5.2M415.3 391.1h0M428.3 390.5l.4.9M431.9 390.9l.2.1M357.7 393.1l-.8.5M369.4 393.1l.7.4M373.5 393.2l.4 0M348.7 395.5l-.2.4M424.1 395.7l-1 .6M364.4 400.1h0M389.1 399.2h0M416.9 402.2h0M334.7 405l.5.7M338.2 405.8l-.3 0M360.3 406.4l.7.3M368.1 404.7l0 .3M376.3 406.6l.5.1M340.1 409.3l.4.5M346.8 408.7l-0 .3M351.1 408.1h0M359 408.5l-.4 0M381.8 409.8l.3.1M388.9 408.7l-.4.6M418.4 408.9l-.7.5M424.5 407.8l-.3.8M376.8 411.4h0M334.1 415l-1.1 0M359.2 414.9l.4.3M365.4 415.4h0M368.9 414.7l0 .5M376.9 415.7h0M331.8 417.3l-.2.6M366.6 417.7h0M422.9 418.5l-1 .7M426.9 418.2h0M334.9 421.1h0M352.2 422h0M371.2 422h0M376.7 421.7l.1.9M390.2 422l-.5 1.1M392 422.2l.8 0M428.7 421.2l-.6.4M374.9 423.9l.6 0M385.7 427h0M430.4 427.2l.7.9M387.4 430l.2.3M395.1 431.5l.1.5M402 430.9l-.6 1M404.7 431.7l-.1.9M339.9 433.6l.9.1M369.7 433.9h0M397.8 435h0M418.2 435l-.3.1M428.4 435.2h0M432.1 433.3l.6.4M381.5 437l.5 0M388.5 436.7l-.5 1M425.4 437.6l1.1.4M354.1 440.1l-.3 1.1M416.7 440.6l.9.2M331.1 444.5h0M360.5 443.6h0M371.5 444.4h0M391 443.5l.2.4M400 444.4l-.7.1M430.3 443l.1.3M394.1 447.3h0M421.4 447.1l.6.1M432.1 447.3l.7.2M374.7 450l.7 0M384.6 449.7h0M398.8 449.4h0M333.4 454h0M420.1 452.9h0M350.6 456.3h0M337.5 458.6l-.9.3M347.9 460.2h0M357.5 459.3h0M372.6 459.8l.5 0M389.7 458.7l-1.1.2M424.3 459l.7.4M384 462l-.4.6M387.6 463.1l.5.7M391 462.6l.2.8M425.6 463.2l.9 0"/>
<path stroke="#e87cae" stroke-width="2.6" d="M371.2 386.7h0M391.9 385.9l1 .6M411.3 387.7l-0 .3M418.8 386.8l.2.3M336.6 390.4l-1 .6M404.1 389.9l1.1.1M351.9 393.5h0M381.6 394h0M384.6 393l-.1.5M414.1 393.1l-.9.4M338.3 395.3l-0 .5M358.2 397.4l-.9 0M369.9 395.1l-0 .7M410.2 396.3l-.3 1.1M409.9 399.3l-.4.4M341.7 403.3l-.5.2M347.7 401.9l.8.6M358.4 402.7l.7.4M374.8 401.9h0M363.6 405.8l-.5.1M374 406.6h0M380 406.2l-.3.9M411.7 405.4l0 .5M375.4 407.9l-.6.4M331.8 412.9l-0 .9M350.7 412.6l.1.3M362.9 411.8h0M370.3 412.6l-.6.3M415.9 411.5l-.1.5M419.5 412.8l.3.4M423.8 415.8l.3.6M428.5 415.1l-0 1M340 421.4l.1.5M348.2 427.8l.9.7M378.1 428.2l.1.8M427.5 428.2l-.2.7M363.6 430.9l-.9.1M398.3 431.2h0M422.5 429.7l-.9.6M426.3 431l1.1.1M344.9 434.1l-.4.1M351.5 434.8l-.2.7M386.9 433.7l-.6.2M425.8 434.8l-.1.7M356.4 436.9l-.5.3M370.2 436.2l-1.1.4M409.5 437.7h0M341 440.6l.5.8M385.9 440.4l-.5.9M436.4 441.1l-.2.9M335.4 443.8h0M413.5 442.6l-.3.5M420 442.9l-0 .3M340.3 447.3l-.3.1M357.9 447.2h0M331.1 449.8h0M362.8 450.2l.3.8M396 450.5h0M360.3 453.8l.9.5M369.4 453l-.2.9M345.3 456.4h0M360 456.7l.8.6M363.3 456.9l-.3.2M383.7 455.8l.6 0M354.4 459.6l-.8.3M434.6 459l-.2.4M358.9 461.7l.8.3M397.7 461.5l.4.9"/>
<path stroke="#de5c9a" stroke-width="1.9" d="M384.7 387.6l-.9.1M387.6 386.7l-.2.3M405.6 387.9l-.6.2M426.1 387.7h0M358.2 390.2l-0 .4M366.3 393.2l.8.6M352.3 396.1l-.8.7M331.6 398.7h0M355.8 400.4h0M333.1 403.5l-.3.4M420 402.5l.4.2M371 408.7l.3.1M352.3 412l.6.8M388.2 413l1.2.1M346.5 414.8l.7.6M353.8 415.5l.2.3M372 414.4h0M386.4 414l.9.5M346.4 418l-.1.3M348.5 418.1l.7.5M377 425.8h0M334.6 428.5l-.9.5M367.6 430.1l.7.3M373 434.1l-.6.2M376 437l.8.3M415.5 437.8h0M366.2 439.2l.4.6M382.1 440.1l.3.1M411.4 439.9l-.6.2M349.3 442.7l.4.2M352.7 442.7l.3.2M417 443.5l-.5.1M401.4 447.2l.2.6M410.3 446.5l.6.2M360.5 450.9l-.4.2M390.3 454.1l1.2 0M410.6 452.2l-.6.1M399.8 455.3h0M393.2 458.2l-.2.7M404 458.4l.5.5M407.6 458.8h0M411.2 458.3l1 .2M371.2 462.8h0M402 462.9l-.1.6M406.5 463.2l-.1.3"/>
<path stroke="#de5c9a" stroke-width="2.6" d="M399 387.5h0M401 386.2h0M416.9 390.7l-.3 0M359.5 392.6l.4.6M363.6 392.6h0M365.3 395.3l.1.3M388.3 397.3l.6.3M371.3 398.9l-.3.8M412.4 398.3l-.3 1M368 401.8l-.6.6M372.5 402l-.3.3M432.5 406.4h0M356.1 408.5l-.2.6M380.8 411.7l.7.1M360.6 418.8h0M385 419.5h0M375.7 426.7l-.1 1.1M371.6 431.9h0M374.2 429.8l-.6.3M377 431.8h0M411.5 431.9h0M400.7 433.6l-.4.8M415.1 434h0M338.9 438l.3.1M352.2 437.8l.3 1.1M402.5 436.5l.5.9M405.1 437l-.8.3M399.9 439.9l.5.4M384.9 443.8l-.6.1M404.6 442.8l0 .7M408.6 443.3l.8.1M338 446.9l-.3.2M353.9 450.1l-.7.1M415 449.7h0M392.9 452l-.6.9M355.6 456l.5 1M343.4 459l.9 0M367.9 459.1l.1 1.1M379.3 459.8l.6.9M383 458.5l-.7.3M407.8 462.7l.6.8"/>
<path stroke="#de5c9a" stroke-width="2.3" d="M333.4 391.1l.2 0M385.6 391l-.5 0M434.9 389.2l-0 .5M342.2 392.1l.7.5M387.9 392.5l-.6.4M418.9 392.1l.8.6M423.6 391.8l-.7.9M345.7 395.6l-.8.2M372.9 396.9l.9.2M382 395.4l.2.5M427.9 396.1l-.4.9M360.5 399.1l.5.5M367.2 399l.7.2M374.2 399.9l-.6.6M385.5 398.3l.2.5M422.4 399.1l-.8.4M435.9 402.4l-.3.1M361 408l.2.2M355.7 412.2l0 .7M390.8 419.4l.1.4M434.9 422.2l.4.8M331.8 423.5l-.7.6M420.2 424.5l.2.7M423.3 424.4l-.2.7M427.2 424.2l-0 .3M430.8 424.5l-.3.3M381.9 430h0M414.8 430.4l.1.7M393.9 438h0M399.3 437.5l0 .4M412.3 437.2l0 1M376.2 439.4l-.3.4M378.3 440.7l-.2.1M390.1 440h0M402.7 442.1l.2 1.1M355.2 446.9l.3.8M382.5 446.6l-.3 0M355.6 449l-.4.3M368.1 449.2h0M345.1 453l-.3 0M347.7 452.1l-.6.4M366.7 453.5l-.6.1M373.5 451.9l-.1.4M380.1 452.5l-.1.9M352.1 456.5l.2.5M394.4 455.3l-0 .5M399.8 458.9l-.6.4M418.2 459.7l-.8.2M412.3 463.5l-.7.3"/>
<path stroke="#c83a80" stroke-width="2.6" d="M336.8 393.5l-.8.6M355.1 396.2l.2.7M362.1 396.2h0M386.6 396.4l-.9.2M331.7 405.2l.4.7M343.6 417.7h0M416.8 417.7l-.2.3M418.3 420.9l-1 .3M331.1 431.9h0M397.2 452.6l-.5.3M330.7 462.4l.6.2"/>
<path stroke="#c83a80" stroke-width="1.9" d="M339.3 392.3h0M426.6 394.1l1 .1M350.8 441.3l0 .6M393.7 440.2h0M380.7 442.6l.5.4M395.6 443.3l.9.4M381.2 450.5l.9.3M399.3 452.1l-0 .8M381.3 456.4l-1 .4M332.7 458.7h0"/>
<path stroke="#c83a80" stroke-width="2.3" d="M415.5 393.6l-.5.6M380.7 433.8l-.4.3M343.6 450.5l-.1.9"/>
<path stroke="#f4aacb" stroke-width="1.9" d="M339.4 400.2l.1.6M429.1 411.2l.6 0M364.3 418.3l.8.3M391.1 424.6l.5.4M368.6 427.5l-.3.7M385.4 453.1l.5 0M434.3 453.1l.3.8M433.8 462l.7.6"/>
<path stroke="#f4aacb" stroke-width="2.3" d="M346.4 405.3l-.4.8M337.8 415.7l.4.3M342.8 427.6l.8.2M435.9 428.5l-.7.1M394.5 433.2l-.1 1.1"/>
</g>
<path stroke="#808088" stroke-width="1.1" d="M335 464.2h22.5"/>
</g>
<g fill="#2a2a2a"><text x="7.60" y="15.40" font-size="10.8" fill="#111" font-weight="bold">A</text>
<rect x="60.4" y="11.6" width="83.2" height="11.4" fill="none" stroke="#333" stroke-width="0.8"/>
<text x="65.9" y="19.8" font-size="7.6" fill="#2a2a2a" stroke="#2a2a2a" stroke-width="0.18"><tspan font-style="italic">MPL</tspan> W515L retroviral</text>
<line x1="42.00" y1="102.70" x2="166.00" y2="102.70" stroke="#b4b4b4" stroke-width="0.9" stroke-dasharray="2.6 1.8"/>
<line x1="42.00" y1="108.80" x2="166.00" y2="108.80" stroke="#cfcfcf" stroke-width="0.9" stroke-dasharray="2.6 1.8"/>
<line x1="40.60" y1="30.10" x2="40.60" y2="111.10" stroke="#4a4a4a" stroke-width="1.2"/>
<line x1="37.80" y1="30.60" x2="40.60" y2="30.60" stroke="#4a4a4a" stroke-width="0.9"/>
<text x="34.60" y="33.50" font-size="7.6" text-anchor="end" stroke="#2a2a2a" stroke-width="0.18">100</text>
<line x1="37.80" y1="46.60" x2="40.60" y2="46.60" stroke="#4a4a4a" stroke-width="0.9"/>
<text x="34.60" y="49.50" font-size="7.6" text-anchor="end" stroke="#2a2a2a" stroke-width="0.18">80</text>
<line x1="37.80" y1="62.60" x2="40.60" y2="62.60" stroke="#4a4a4a" stroke-width="0.9"/>
<text x="34.60" y="65.50" font-size="7.6" text-anchor="end" stroke="#2a2a2a" stroke-width="0.18">60</text>
<line x1="37.80" y1="78.60" x2="40.60" y2="78.60" stroke="#4a4a4a" stroke-width="0.9"/>
<text x="34.60" y="81.50" font-size="7.6" text-anchor="end" stroke="#2a2a2a" stroke-width="0.18">40</text>
<line x1="37.80" y1="94.60" x2="40.60" y2="94.60" stroke="#4a4a4a" stroke-width="0.9"/>
<text x="34.60" y="97.50" font-size="7.6" text-anchor="end" stroke="#2a2a2a" stroke-width="0.18">20</text>
<line x1="37.80" y1="110.60" x2="40.60" y2="110.60" stroke="#4a4a4a" stroke-width="0.9"/>
<text x="34.60" y="113.50" font-size="7.6" text-anchor="end" stroke="#2a2a2a" stroke-width="0.18">0</text>
<line x1="40.10" y1="110.60" x2="166.50" y2="110.60" stroke="#4a4a4a" stroke-width="1.2"/>
<line x1="57.50" y1="110.60" x2="57.50" y2="113.60" stroke="#4a4a4a" stroke-width="0.9"/>
<text x="57.50" y="122.80" font-size="7.2" text-anchor="middle" stroke="#2a2a2a" stroke-width="0.18">0</text>
<line x1="88.20" y1="110.60" x2="88.20" y2="113.60" stroke="#4a4a4a" stroke-width="0.9"/>
<text x="88.20" y="122.80" font-size="7.2" text-anchor="middle" stroke="#2a2a2a" stroke-width="0.18">1</text>
<line x1="119.00" y1="110.60" x2="119.00" y2="113.60" stroke="#4a4a4a" stroke-width="0.9"/>
<text x="119.00" y="122.80" font-size="7.2" text-anchor="middle" stroke="#2a2a2a" stroke-width="0.18">2</text>
<line x1="150.20" y1="110.60" x2="150.20" y2="113.60" stroke="#4a4a4a" stroke-width="0.9"/>
<text x="150.20" y="122.80" font-size="7.2" text-anchor="middle" stroke="#2a2a2a" stroke-width="0.18">3</text>
<text x="77.40" y="131.20" font-size="8.8" textLength="52.6" lengthAdjust="spacingAndGlyphs" stroke="#2a2a2a" stroke-width="0.3">Treatment (weeks)</text>
<text transform="translate(19.40,71.00) rotate(-90)" x="0" y="0" font-size="8" text-anchor="middle" textLength="36.1" lengthAdjust="spacingAndGlyphs" stroke="#2a2a2a" stroke-width="0.3">WBC (K/μL)</text>
<circle cx="44.40" cy="35.40" r="1.6" fill="#c8102e"/>
<text x="48.40" y="37.90" font-size="6.9" stroke="#2a2a2a" stroke-width="0.18">Vehicle</text>
<circle cx="44.40" cy="44.00" r="1.6" fill="#0d4f8f"/>
<text x="48.40" y="46.50" font-size="6.9" stroke="#2a2a2a" stroke-width="0.18">Pev</text>
<circle cx="44.40" cy="52.40" r="1.6" fill="#2fb84a"/>
<text x="48.40" y="54.90" font-size="6.9" stroke="#2a2a2a" stroke-width="0.18">Rux</text>
<circle cx="44.40" cy="60.80" r="1.6" fill="#4e1272"/>
<text x="48.40" y="63.30" font-size="6.9" stroke="#2a2a2a" stroke-width="0.18">Rux + Pev</text>
<line x1="75.20" y1="35.90" x2="75.20" y2="47.70" stroke="#8a8a8a" stroke-width="1.0"/>
<line x1="80.70" y1="35.50" x2="80.70" y2="54.50" stroke="#8a8a8a" stroke-width="1.0"/>
<line x1="85.70" y1="35.90" x2="85.70" y2="62.00" stroke="#8a8a8a" stroke-width="1.0"/>
<path d="M76.60 37.30h1.8M77.50 36.40v1.8" stroke="#444" stroke-width="0.55"/>
<path d="M76.60 40.03h1.8M77.50 39.13v1.8" stroke="#444" stroke-width="0.55"/>
<path d="M76.60 42.77h1.8M77.50 41.87v1.8" stroke="#444" stroke-width="0.55"/>
<path d="M76.60 45.50h1.8M77.50 44.60v1.8" stroke="#444" stroke-width="0.55"/>
<path d="M82.10 40.00h1.8M83.00 39.10v1.8" stroke="#444" stroke-width="0.55"/>
<path d="M82.10 42.77h1.8M83.00 41.87v1.8" stroke="#444" stroke-width="0.55"/>
<path d="M82.10 45.53h1.8M83.00 44.63v1.8" stroke="#444" stroke-width="0.55"/>
<path d="M82.10 48.30h1.8M83.00 47.40v1.8" stroke="#444" stroke-width="0.55"/>
<path d="M87.10 43.50h1.8M88.00 42.60v1.8" stroke="#444" stroke-width="0.55"/>
<path d="M87.10 46.27h1.8M88.00 45.37v1.8" stroke="#444" stroke-width="0.55"/>
<path d="M87.10 49.03h1.8M88.00 48.13v1.8" stroke="#444" stroke-width="0.55"/>
<path d="M87.10 51.80h1.8M88.00 50.90v1.8" stroke="#444" stroke-width="0.55"/>
<circle cx="47.60" cy="108.00" r="1.55" fill="#c8102e"/>
<circle cx="47.60" cy="109.00" r="1.55" fill="#c8102e"/>
<circle cx="54.20" cy="107.80" r="1.55" fill="#0d4f8f"/>
<circle cx="54.20" cy="108.80" r="1.55" fill="#0d4f8f"/>
<circle cx="60.80" cy="108.60" r="1.55" fill="#2fb84a"/>
<circle cx="60.80" cy="109.20" r="1.55" fill="#2fb84a"/>
<circle cx="67.40" cy="107.30" r="1.55" fill="#4e1272"/>
<circle cx="67.40" cy="108.60" r="1.55" fill="#4e1272"/>
<line x1="78.30" y1="78.00" x2="78.30" y2="100.50" stroke="#c8102e" stroke-width="0.7"/>
<line x1="76.80" y1="78.00" x2="79.80" y2="78.00" stroke="#c8102e" stroke-width="0.7"/>
<line x1="76.80" y1="100.50" x2="79.80" y2="100.50" stroke="#c8102e" stroke-width="0.7"/>
<circle cx="78.02" cy="76.20" r="1.55" fill="#c8102e"/>
<circle cx="77.74" cy="82.40" r="1.55" fill="#c8102e"/>
<circle cx="78.54" cy="84.60" r="1.55" fill="#c8102e"/>
<circle cx="77.62" cy="89.00" r="1.55" fill="#c8102e"/>
<circle cx="78.36" cy="90.40" r="1.55" fill="#c8102e"/>
<circle cx="78.09" cy="93.00" r="1.55" fill="#c8102e"/>
<circle cx="77.59" cy="99.60" r="1.55" fill="#c8102e"/>
<circle cx="78.31" cy="101.00" r="1.55" fill="#c8102e"/>
<circle cx="84.16" cy="95.80" r="1.55" fill="#0d4f8f"/>
<circle cx="84.79" cy="98.20" r="1.55" fill="#0d4f8f"/>
<circle cx="84.21" cy="100.50" r="1.55" fill="#0d4f8f"/>
<circle cx="84.25" cy="102.50" r="1.55" fill="#0d4f8f"/>
<circle cx="84.78" cy="104.50" r="1.55" fill="#0d4f8f"/>
<circle cx="85.42" cy="106.50" r="1.55" fill="#0d4f8f"/>
<circle cx="84.30" cy="108.30" r="1.55" fill="#0d4f8f"/>
<circle cx="84.46" cy="109.50" r="1.55" fill="#0d4f8f"/>
<circle cx="91.70" cy="87.30" r="1.55" fill="#2fb84a"/>
<circle cx="92.22" cy="95.80" r="1.55" fill="#2fb84a"/>
<circle cx="91.62" cy="99.80" r="1.55" fill="#2fb84a"/>
<circle cx="91.33" cy="102.20" r="1.55" fill="#2fb84a"/>
<circle cx="92.26" cy="104.40" r="1.55" fill="#2fb84a"/>
<circle cx="90.77" cy="106.40" r="1.55" fill="#2fb84a"/>
<circle cx="92.07" cy="108.30" r="1.55" fill="#2fb84a"/>
<circle cx="91.16" cy="109.50" r="1.55" fill="#2fb84a"/>
<circle cx="97.53" cy="92.70" r="1.55" fill="#4e1272"/>
<circle cx="97.49" cy="99.80" r="1.55" fill="#4e1272"/>
<circle cx="97.79" cy="102.20" r="1.55" fill="#4e1272"/>
<circle cx="98.61" cy="104.40" r="1.55" fill="#4e1272"/>
<circle cx="97.59" cy="106.40" r="1.55" fill="#4e1272"/>
<circle cx="98.23" cy="108.30" r="1.55" fill="#4e1272"/>
<circle cx="98.32" cy="109.50" r="1.55" fill="#4e1272"/>
<line x1="109.10" y1="35.60" x2="109.10" y2="74.00" stroke="#c8102e" stroke-width="0.7"/>
<line x1="107.60" y1="35.60" x2="110.60" y2="35.60" stroke="#c8102e" stroke-width="0.7"/>
<line x1="107.60" y1="74.00" x2="110.60" y2="74.00" stroke="#c8102e" stroke-width="0.7"/>
<line x1="106.90" y1="54.50" x2="111.30" y2="54.50" stroke="#c8102e" stroke-width="0.7"/>
<circle cx="108.90" cy="33.80" r="1.55" fill="#c8102e"/>
<circle cx="109.18" cy="35.60" r="1.55" fill="#c8102e"/>
<circle cx="108.40" cy="37.60" r="1.55" fill="#c8102e"/>
<circle cx="108.40" cy="43.80" r="1.55" fill="#c8102e"/>
<circle cx="108.63" cy="53.70" r="1.55" fill="#c8102e"/>
<circle cx="109.39" cy="61.40" r="1.55" fill="#c8102e"/>
<circle cx="108.98" cy="65.80" r="1.55" fill="#c8102e"/>
<circle cx="108.80" cy="95.20" r="1.55" fill="#c8102e"/>
<line x1="115.70" y1="92.00" x2="115.70" y2="109.00" stroke="#0d4f8f" stroke-width="0.7"/>
<line x1="114.20" y1="92.00" x2="117.20" y2="92.00" stroke="#0d4f8f" stroke-width="0.7"/>
<line x1="114.20" y1="109.00" x2="117.20" y2="109.00" stroke="#0d4f8f" stroke-width="0.7"/>
<circle cx="115.84" cy="84.20" r="1.55" fill="#0d4f8f"/>
<circle cx="115.63" cy="93.40" r="1.55" fill="#0d4f8f"/>
<circle cx="115.38" cy="101.00" r="1.55" fill="#0d4f8f"/>
<circle cx="116.17" cy="104.00" r="1.55" fill="#0d4f8f"/>
<circle cx="116.02" cy="107.00" r="1.55" fill="#0d4f8f"/>
<circle cx="115.29" cy="109.00" r="1.55" fill="#0d4f8f"/>
<line x1="122.30" y1="91.00" x2="122.30" y2="109.00" stroke="#2fb84a" stroke-width="0.7"/>
<line x1="120.80" y1="91.00" x2="123.80" y2="91.00" stroke="#2fb84a" stroke-width="0.7"/>
<line x1="120.80" y1="109.00" x2="123.80" y2="109.00" stroke="#2fb84a" stroke-width="0.7"/>
<circle cx="122.42" cy="78.00" r="1.55" fill="#2fb84a"/>
<circle cx="122.34" cy="96.00" r="1.55" fill="#2fb84a"/>
<circle cx="122.90" cy="101.00" r="1.55" fill="#2fb84a"/>
<circle cx="122.67" cy="104.50" r="1.55" fill="#2fb84a"/>
<circle cx="121.96" cy="108.00" r="1.55" fill="#2fb84a"/>
<line x1="128.90" y1="77.30" x2="128.90" y2="99.00" stroke="#4e1272" stroke-width="0.7"/>
<line x1="127.40" y1="77.30" x2="130.40" y2="77.30" stroke="#4e1272" stroke-width="0.7"/>
<line x1="127.40" y1="99.00" x2="130.40" y2="99.00" stroke="#4e1272" stroke-width="0.7"/>
<line x1="126.70" y1="93.40" x2="131.10" y2="93.40" stroke="#4e1272" stroke-width="0.7"/>
<circle cx="129.67" cy="63.00" r="1.55" fill="#4e1272"/>
<circle cx="128.29" cy="74.00" r="1.55" fill="#4e1272"/>
<circle cx="128.77" cy="89.00" r="1.55" fill="#4e1272"/>
<circle cx="129.31" cy="95.60" r="1.55" fill="#4e1272"/>
<circle cx="128.34" cy="102.00" r="1.55" fill="#4e1272"/>
<circle cx="128.88" cy="105.60" r="1.55" fill="#4e1272"/>
<circle cx="128.16" cy="109.00" r="1.55" fill="#4e1272"/>
<line x1="146.90" y1="97.00" x2="146.90" y2="108.00" stroke="#0d4f8f" stroke-width="0.7"/>
<line x1="145.40" y1="97.00" x2="148.40" y2="97.00" stroke="#0d4f8f" stroke-width="0.7"/>
<line x1="145.40" y1="108.00" x2="148.40" y2="108.00" stroke="#0d4f8f" stroke-width="0.7"/>
<circle cx="147.17" cy="90.60" r="1.55" fill="#0d4f8f"/>
<circle cx="147.32" cy="100.30" r="1.55" fill="#0d4f8f"/>
<circle cx="147.02" cy="102.30" r="1.55" fill="#0d4f8f"/>
<circle cx="147.50" cy="104.30" r="1.55" fill="#0d4f8f"/>
<circle cx="146.60" cy="106.30" r="1.55" fill="#0d4f8f"/>
<circle cx="147.21" cy="108.20" r="1.55" fill="#0d4f8f"/>
<line x1="153.50" y1="96.00" x2="153.50" y2="109.00" stroke="#2fb84a" stroke-width="0.7"/>
<line x1="152.00" y1="96.00" x2="155.00" y2="96.00" stroke="#2fb84a" stroke-width="0.7"/>
<line x1="152.00" y1="109.00" x2="155.00" y2="109.00" stroke="#2fb84a" stroke-width="0.7"/>
<circle cx="153.65" cy="95.20" r="1.55" fill="#2fb84a"/>
<circle cx="153.63" cy="98.50" r="1.55" fill="#2fb84a"/>
<circle cx="153.43" cy="101.80" r="1.55" fill="#2fb84a"/>
<circle cx="154.04" cy="104.80" r="1.55" fill="#2fb84a"/>
<circle cx="154.21" cy="107.80" r="1.55" fill="#2fb84a"/>
<line x1="160.10" y1="88.00" x2="160.10" y2="105.00" stroke="#4e1272" stroke-width="0.7"/>
<line x1="158.60" y1="88.00" x2="161.60" y2="88.00" stroke="#4e1272" stroke-width="0.7"/>
<line x1="158.60" y1="105.00" x2="161.60" y2="105.00" stroke="#4e1272" stroke-width="0.7"/>
<line x1="157.90" y1="97.00" x2="162.30" y2="97.00" stroke="#4e1272" stroke-width="0.7"/>
<circle cx="160.06" cy="86.40" r="1.55" fill="#4e1272"/>
<circle cx="160.36" cy="92.00" r="1.55" fill="#4e1272"/>
<circle cx="159.40" cy="95.00" r="1.55" fill="#4e1272"/>
<circle cx="160.42" cy="98.00" r="1.55" fill="#4e1272"/>
<circle cx="160.34" cy="101.00" r="1.55" fill="#4e1272"/>
<circle cx="160.89" cy="104.00" r="1.55" fill="#4e1272"/>
<circle cx="160.62" cy="107.00" r="1.55" fill="#4e1272"/>
<text x="183.30" y="15.30" font-size="10.8" fill="#111" font-weight="bold">B</text>
<text x="249.50" y="19.80" font-size="8.34" fill="#2a2a2a" stroke="#2a2a2a" stroke-width="0.18"><tspan font-style="italic">MPL</tspan> W515L</text>
<line x1="211.00" y1="65.10" x2="335.00" y2="65.10" stroke="#b4b4b4" stroke-width="0.9" stroke-dasharray="2.6 1.8"/>
<line x1="211.00" y1="75.50" x2="335.00" y2="75.50" stroke="#b4b4b4" stroke-width="0.9" stroke-dasharray="2.6 1.8"/>
<line x1="209.60" y1="30.20" x2="209.60" y2="110.80" stroke="#4a4a4a" stroke-width="1.2"/>
<line x1="206.80" y1="30.70" x2="209.60" y2="30.70" stroke="#4a4a4a" stroke-width="0.9"/>
<text x="203.60" y="33.60" font-size="7.6" text-anchor="end" stroke="#2a2a2a" stroke-width="0.18">80</text>
<line x1="206.80" y1="50.60" x2="209.60" y2="50.60" stroke="#4a4a4a" stroke-width="0.9"/>
<text x="203.60" y="53.50" font-size="7.6" text-anchor="end" stroke="#2a2a2a" stroke-width="0.18">60</text>
<line x1="206.80" y1="70.50" x2="209.60" y2="70.50" stroke="#4a4a4a" stroke-width="0.9"/>
<text x="203.60" y="73.40" font-size="7.6" text-anchor="end" stroke="#2a2a2a" stroke-width="0.18">40</text>
<line x1="206.80" y1="90.40" x2="209.60" y2="90.40" stroke="#4a4a4a" stroke-width="0.9"/>
<text x="203.60" y="93.30" font-size="7.6" text-anchor="end" stroke="#2a2a2a" stroke-width="0.18">20</text>
<line x1="206.80" y1="110.30" x2="209.60" y2="110.30" stroke="#4a4a4a" stroke-width="0.9"/>
<text x="203.60" y="113.20" font-size="7.6" text-anchor="end" stroke="#2a2a2a" stroke-width="0.18">0</text>
<line x1="209.10" y1="110.30" x2="334.60" y2="110.30" stroke="#4a4a4a" stroke-width="1.2"/>
<line x1="226.20" y1="110.30" x2="226.20" y2="113.30" stroke="#4a4a4a" stroke-width="0.9"/>
<text x="226.20" y="122.30" font-size="7.2" text-anchor="middle" stroke="#2a2a2a" stroke-width="0.18">0</text>
<line x1="256.90" y1="110.30" x2="256.90" y2="113.30" stroke="#4a4a4a" stroke-width="0.9"/>
<text x="256.90" y="122.30" font-size="7.2" text-anchor="middle" stroke="#2a2a2a" stroke-width="0.18">1</text>
<line x1="287.50" y1="110.30" x2="287.50" y2="113.30" stroke="#4a4a4a" stroke-width="0.9"/>
<text x="287.50" y="122.30" font-size="7.2" text-anchor="middle" stroke="#2a2a2a" stroke-width="0.18">2</text>
<line x1="318.30" y1="110.30" x2="318.30" y2="113.30" stroke="#4a4a4a" stroke-width="0.9"/>
<text x="318.30" y="122.30" font-size="7.2" text-anchor="middle" stroke="#2a2a2a" stroke-width="0.18">3</text>
<text x="245.10" y="131.20" font-size="8.8" textLength="54" lengthAdjust="spacingAndGlyphs" stroke="#2a2a2a" stroke-width="0.3">Treatment (weeks)</text>
<text transform="translate(190.00,70.40) rotate(-90)" x="0" y="0" font-size="8" text-anchor="middle" textLength="43.8" lengthAdjust="spacingAndGlyphs" stroke="#2a2a2a" stroke-width="0.3">Hematocrit (%)</text>
<line x1="216.10" y1="59.50" x2="216.10" y2="68.50" stroke="#c8102e" stroke-width="0.7"/>
<line x1="214.60" y1="59.50" x2="217.60" y2="59.50" stroke="#c8102e" stroke-width="0.7"/>
<line x1="214.60" y1="68.50" x2="217.60" y2="68.50" stroke="#c8102e" stroke-width="0.7"/>
<line x1="213.90" y1="64.50" x2="218.30" y2="64.50" stroke="#c8102e" stroke-width="0.7"/>
<circle cx="215.76" cy="58.00" r="1.55" fill="#c8102e"/>
<circle cx="215.92" cy="60.20" r="1.55" fill="#c8102e"/>
<circle cx="216.37" cy="62.10" r="1.55" fill="#c8102e"/>
<circle cx="215.34" cy="64.00" r="1.55" fill="#c8102e"/>
<circle cx="216.04" cy="65.90" r="1.55" fill="#c8102e"/>
<circle cx="215.57" cy="68.40" r="1.55" fill="#c8102e"/>
<circle cx="215.49" cy="69.70" r="1.55" fill="#c8102e"/>
<line x1="222.60" y1="61.00" x2="222.60" y2="66.00" stroke="#0d4f8f" stroke-width="0.7"/>
<line x1="221.10" y1="61.00" x2="224.10" y2="61.00" stroke="#0d4f8f" stroke-width="0.7"/>
<line x1="221.10" y1="66.00" x2="224.10" y2="66.00" stroke="#0d4f8f" stroke-width="0.7"/>
<line x1="220.40" y1="63.50" x2="224.80" y2="63.50" stroke="#0d4f8f" stroke-width="0.7"/>
<circle cx="221.89" cy="60.00" r="1.55" fill="#0d4f8f"/>
<circle cx="223.03" cy="61.50" r="1.55" fill="#0d4f8f"/>
<circle cx="222.01" cy="63.40" r="1.55" fill="#0d4f8f"/>
<circle cx="222.20" cy="65.30" r="1.55" fill="#0d4f8f"/>
<circle cx="222.43" cy="66.80" r="1.55" fill="#0d4f8f"/>
<line x1="229.30" y1="62.10" x2="229.30" y2="76.00" stroke="#2fb84a" stroke-width="0.7"/>
<line x1="227.80" y1="62.10" x2="230.80" y2="62.10" stroke="#2fb84a" stroke-width="0.7"/>
<line x1="227.80" y1="76.00" x2="230.80" y2="76.00" stroke="#2fb84a" stroke-width="0.7"/>
<line x1="227.10" y1="67.10" x2="231.50" y2="67.10" stroke="#2fb84a" stroke-width="0.7"/>
<circle cx="229.89" cy="59.60" r="1.55" fill="#2fb84a"/>
<circle cx="228.63" cy="66.50" r="1.55" fill="#2fb84a"/>
<circle cx="229.22" cy="67.80" r="1.55" fill="#2fb84a"/>
<circle cx="229.38" cy="69.70" r="1.55" fill="#2fb84a"/>
<circle cx="229.91" cy="71.00" r="1.55" fill="#2fb84a"/>
<circle cx="229.81" cy="83.60" r="1.55" fill="#2fb84a"/>
<line x1="235.90" y1="62.50" x2="235.90" y2="70.00" stroke="#4e1272" stroke-width="0.7"/>
<line x1="234.40" y1="62.50" x2="237.40" y2="62.50" stroke="#4e1272" stroke-width="0.7"/>
<line x1="234.40" y1="70.00" x2="237.40" y2="70.00" stroke="#4e1272" stroke-width="0.7"/>
<line x1="233.70" y1="66.00" x2="238.10" y2="66.00" stroke="#4e1272" stroke-width="0.7"/>
<circle cx="236.48" cy="61.50" r="1.55" fill="#4e1272"/>
<circle cx="235.55" cy="63.10" r="1.55" fill="#4e1272"/>
<circle cx="235.76" cy="64.60" r="1.55" fill="#4e1272"/>
<circle cx="235.67" cy="66.50" r="1.55" fill="#4e1272"/>
<circle cx="236.51" cy="68.40" r="1.55" fill="#4e1272"/>
<circle cx="236.63" cy="70.30" r="1.55" fill="#4e1272"/>
<circle cx="235.34" cy="76.60" r="1.55" fill="#4e1272"/>
<line x1="246.90" y1="51.40" x2="246.90" y2="62.70" stroke="#c8102e" stroke-width="0.7"/>
<line x1="245.40" y1="51.40" x2="248.40" y2="51.40" stroke="#c8102e" stroke-width="0.7"/>
<line x1="245.40" y1="62.70" x2="248.40" y2="62.70" stroke="#c8102e" stroke-width="0.7"/>
<line x1="244.70" y1="56.80" x2="249.10" y2="56.80" stroke="#c8102e" stroke-width="0.7"/>
<circle cx="246.38" cy="48.50" r="1.55" fill="#c8102e"/>
<circle cx="246.47" cy="52.60" r="1.55" fill="#c8102e"/>
<circle cx="246.47" cy="54.50" r="1.55" fill="#c8102e"/>
<circle cx="246.88" cy="56.40" r="1.55" fill="#c8102e"/>
<circle cx="247.04" cy="58.30" r="1.55" fill="#c8102e"/>
<circle cx="246.52" cy="60.80" r="1.55" fill="#c8102e"/>
<circle cx="246.11" cy="67.10" r="1.55" fill="#c8102e"/>
<line x1="253.60" y1="55.00" x2="253.60" y2="68.50" stroke="#0d4f8f" stroke-width="0.7"/>
<line x1="252.10" y1="55.00" x2="255.10" y2="55.00" stroke="#0d4f8f" stroke-width="0.7"/>
<line x1="252.10" y1="68.50" x2="255.10" y2="68.50" stroke="#0d4f8f" stroke-width="0.7"/>
<line x1="251.40" y1="62.00" x2="255.80" y2="62.00" stroke="#0d4f8f" stroke-width="0.7"/>
<circle cx="253.47" cy="49.20" r="1.55" fill="#0d4f8f"/>
<circle cx="253.39" cy="56.40" r="1.55" fill="#0d4f8f"/>
<circle cx="253.71" cy="60.20" r="1.55" fill="#0d4f8f"/>
<circle cx="254.32" cy="62.10" r="1.55" fill="#0d4f8f"/>
<circle cx="253.90" cy="64.60" r="1.55" fill="#0d4f8f"/>
<circle cx="253.62" cy="66.50" r="1.55" fill="#0d4f8f"/>
<circle cx="253.79" cy="68.80" r="1.55" fill="#0d4f8f"/>
<circle cx="253.88" cy="71.00" r="1.55" fill="#0d4f8f"/>
<line x1="260.30" y1="54.50" x2="260.30" y2="83.60" stroke="#2fb84a" stroke-width="0.7"/>
<line x1="258.80" y1="54.50" x2="261.80" y2="54.50" stroke="#2fb84a" stroke-width="0.7"/>
<line x1="258.80" y1="83.60" x2="261.80" y2="83.60" stroke="#2fb84a" stroke-width="0.7"/>
<line x1="258.10" y1="68.00" x2="262.50" y2="68.00" stroke="#2fb84a" stroke-width="0.7"/>
<circle cx="259.59" cy="54.50" r="1.55" fill="#2fb84a"/>
<circle cx="260.94" cy="56.40" r="1.55" fill="#2fb84a"/>
<circle cx="260.75" cy="58.30" r="1.55" fill="#2fb84a"/>
<circle cx="260.90" cy="60.20" r="1.55" fill="#2fb84a"/>
<circle cx="260.78" cy="72.60" r="1.55" fill="#2fb84a"/>
<circle cx="260.13" cy="89.90" r="1.55" fill="#2fb84a"/>
<circle cx="260.14" cy="91.10" r="1.55" fill="#2fb84a"/>
<line x1="266.60" y1="53.90" x2="266.60" y2="83.60" stroke="#4e1272" stroke-width="0.7"/>
<line x1="265.10" y1="53.90" x2="268.10" y2="53.90" stroke="#4e1272" stroke-width="0.7"/>
<line x1="265.10" y1="83.60" x2="268.10" y2="83.60" stroke="#4e1272" stroke-width="0.7"/>
<line x1="264.40" y1="67.10" x2="268.80" y2="67.10" stroke="#4e1272" stroke-width="0.7"/>
<circle cx="265.97" cy="48.50" r="1.55" fill="#4e1272"/>
<circle cx="266.81" cy="58.30" r="1.55" fill="#4e1272"/>
<circle cx="265.90" cy="63.40" r="1.55" fill="#4e1272"/>
<circle cx="265.91" cy="72.60" r="1.55" fill="#4e1272"/>
<circle cx="266.13" cy="82.90" r="1.55" fill="#4e1272"/>
<circle cx="266.06" cy="89.20" r="1.55" fill="#4e1272"/>
<line x1="277.70" y1="50.60" x2="277.70" y2="64.60" stroke="#c8102e" stroke-width="0.7"/>
<line x1="276.20" y1="50.60" x2="279.20" y2="50.60" stroke="#c8102e" stroke-width="0.7"/>
<line x1="276.20" y1="64.60" x2="279.20" y2="64.60" stroke="#c8102e" stroke-width="0.7"/>
<line x1="275.50" y1="57.00" x2="279.90" y2="57.00" stroke="#c8102e" stroke-width="0.7"/>
<circle cx="277.44" cy="48.40" r="1.55" fill="#c8102e"/>
<circle cx="276.98" cy="50.60" r="1.55" fill="#c8102e"/>
<circle cx="276.90" cy="52.80" r="1.55" fill="#c8102e"/>
<circle cx="277.14" cy="55.00" r="1.55" fill="#c8102e"/>
<circle cx="277.06" cy="57.20" r="1.55" fill="#c8102e"/>
<circle cx="277.48" cy="60.20" r="1.55" fill="#c8102e"/>
<circle cx="276.94" cy="61.70" r="1.55" fill="#c8102e"/>
<circle cx="278.30" cy="70.90" r="1.55" fill="#c8102e"/>
<line x1="284.30" y1="45.50" x2="284.30" y2="79.30" stroke="#0d4f8f" stroke-width="0.7"/>
<line x1="282.80" y1="45.50" x2="285.80" y2="45.50" stroke="#0d4f8f" stroke-width="0.7"/>
<line x1="282.80" y1="79.30" x2="285.80" y2="79.30" stroke="#0d4f8f" stroke-width="0.7"/>
<line x1="282.10" y1="63.60" x2="286.50" y2="63.60" stroke="#0d4f8f" stroke-width="0.7"/>
<circle cx="284.48" cy="44.70" r="1.55" fill="#0d4f8f"/>
<circle cx="283.74" cy="46.90" r="1.55" fill="#0d4f8f"/>
<circle cx="283.90" cy="48.40" r="1.55" fill="#0d4f8f"/>
<circle cx="284.06" cy="67.60" r="1.55" fill="#0d4f8f"/>
<circle cx="284.08" cy="70.50" r="1.55" fill="#0d4f8f"/>
<circle cx="283.70" cy="74.20" r="1.55" fill="#0d4f8f"/>
<circle cx="284.86" cy="77.10" r="1.55" fill="#0d4f8f"/>
<circle cx="285.09" cy="79.30" r="1.55" fill="#0d4f8f"/>
<line x1="290.90" y1="50.00" x2="290.90" y2="71.00" stroke="#2fb84a" stroke-width="0.7"/>
<line x1="289.40" y1="50.00" x2="292.40" y2="50.00" stroke="#2fb84a" stroke-width="0.7"/>
<line x1="289.40" y1="71.00" x2="292.40" y2="71.00" stroke="#2fb84a" stroke-width="0.7"/>
<line x1="288.70" y1="60.50" x2="293.10" y2="60.50" stroke="#2fb84a" stroke-width="0.7"/>
<circle cx="290.85" cy="40.60" r="1.55" fill="#2fb84a"/>
<circle cx="290.87" cy="49.90" r="1.55" fill="#2fb84a"/>
<circle cx="290.24" cy="54.30" r="1.55" fill="#2fb84a"/>
<circle cx="290.26" cy="58.00" r="1.55" fill="#2fb84a"/>
<circle cx="290.65" cy="60.90" r="1.55" fill="#2fb84a"/>
<circle cx="290.52" cy="65.30" r="1.55" fill="#2fb84a"/>
<circle cx="291.43" cy="69.80" r="1.55" fill="#2fb84a"/>
<circle cx="290.36" cy="76.80" r="1.55" fill="#2fb84a"/>
<line x1="297.50" y1="45.00" x2="297.50" y2="62.00" stroke="#4e1272" stroke-width="0.7"/>
<line x1="296.00" y1="45.00" x2="299.00" y2="45.00" stroke="#4e1272" stroke-width="0.7"/>
<line x1="296.00" y1="62.00" x2="299.00" y2="62.00" stroke="#4e1272" stroke-width="0.7"/>
<line x1="295.30" y1="53.00" x2="299.70" y2="53.00" stroke="#4e1272" stroke-width="0.7"/>
<circle cx="296.74" cy="43.30" r="1.55" fill="#4e1272"/>
<circle cx="298.22" cy="45.50" r="1.55" fill="#4e1272"/>
<circle cx="297.55" cy="47.40" r="1.55" fill="#4e1272"/>
<circle cx="296.93" cy="49.10" r="1.55" fill="#4e1272"/>
<circle cx="297.57" cy="51.40" r="1.55" fill="#4e1272"/>
<circle cx="296.74" cy="53.60" r="1.55" fill="#4e1272"/>
<circle cx="297.54" cy="64.60" r="1.55" fill="#4e1272"/>
<circle cx="298.27" cy="69.80" r="1.55" fill="#4e1272"/>
<line x1="314.90" y1="60.20" x2="314.90" y2="77.90" stroke="#0d4f8f" stroke-width="0.7"/>
<line x1="313.40" y1="60.20" x2="316.40" y2="60.20" stroke="#0d4f8f" stroke-width="0.7"/>
<line x1="313.40" y1="77.90" x2="316.40" y2="77.90" stroke="#0d4f8f" stroke-width="0.7"/>
<line x1="312.70" y1="66.00" x2="317.10" y2="66.00" stroke="#0d4f8f" stroke-width="0.7"/>
<circle cx="315.48" cy="55.30" r="1.55" fill="#0d4f8f"/>
<circle cx="315.21" cy="60.20" r="1.55" fill="#0d4f8f"/>
<circle cx="314.52" cy="66.80" r="1.55" fill="#0d4f8f"/>
<circle cx="314.69" cy="69.00" r="1.55" fill="#0d4f8f"/>
<circle cx="314.37" cy="78.30" r="1.55" fill="#0d4f8f"/>
<line x1="321.50" y1="60.20" x2="321.50" y2="75.70" stroke="#2fb84a" stroke-width="0.7"/>
<line x1="320.00" y1="60.20" x2="323.00" y2="60.20" stroke="#2fb84a" stroke-width="0.7"/>
<line x1="320.00" y1="75.70" x2="323.00" y2="75.70" stroke="#2fb84a" stroke-width="0.7"/>
<line x1="319.30" y1="68.00" x2="323.70" y2="68.00" stroke="#2fb84a" stroke-width="0.7"/>
<circle cx="321.94" cy="53.90" r="1.55" fill="#2fb84a"/>
<circle cx="321.55" cy="65.30" r="1.55" fill="#2fb84a"/>
<circle cx="321.95" cy="67.60" r="1.55" fill="#2fb84a"/>
<circle cx="321.23" cy="69.80" r="1.55" fill="#2fb84a"/>
<circle cx="321.06" cy="72.70" r="1.55" fill="#2fb84a"/>
<circle cx="322.00" cy="79.30" r="1.55" fill="#2fb84a"/>
<line x1="328.20" y1="56.00" x2="328.20" y2="67.00" stroke="#4e1272" stroke-width="0.7"/>
<line x1="326.70" y1="56.00" x2="329.70" y2="56.00" stroke="#4e1272" stroke-width="0.7"/>
<line x1="326.70" y1="67.00" x2="329.70" y2="67.00" stroke="#4e1272" stroke-width="0.7"/>
<line x1="326.00" y1="61.50" x2="330.40" y2="61.50" stroke="#4e1272" stroke-width="0.7"/>
<circle cx="328.98" cy="53.90" r="1.55" fill="#4e1272"/>
<circle cx="328.76" cy="58.70" r="1.55" fill="#4e1272"/>
<circle cx="328.69" cy="60.90" r="1.55" fill="#4e1272"/>
<circle cx="328.71" cy="63.10" r="1.55" fill="#4e1272"/>
<circle cx="328.58" cy="68.30" r="1.55" fill="#4e1272"/>
<circle cx="327.76" cy="69.50" r="1.55" fill="#4e1272"/>
<text x="365.80" y="15.30" font-size="10.8" fill="#111" font-weight="bold">C</text>
<text x="425.20" y="19.60" font-size="8.27" fill="#2a2a2a" stroke="#2a2a2a" stroke-width="0.18"><tspan font-style="italic">MPL</tspan> W515L</text>
<line x1="388.00" y1="31.30" x2="512.00" y2="31.30" stroke="#b4b4b4" stroke-width="0.9" stroke-dasharray="2.6 1.8"/>
<line x1="388.00" y1="94.60" x2="512.00" y2="94.60" stroke="#b4b4b4" stroke-width="0.9" stroke-dasharray="2.6 1.8"/>
<line x1="386.50" y1="30.20" x2="386.50" y2="110.70" stroke="#4a4a4a" stroke-width="1.2"/>
<line x1="383.70" y1="30.70" x2="386.50" y2="30.70" stroke="#4a4a4a" stroke-width="0.9"/>
<text x="380.50" y="33.60" font-size="7.6" text-anchor="end" stroke="#2a2a2a" stroke-width="0.18">3000</text>
<line x1="383.70" y1="57.20" x2="386.50" y2="57.20" stroke="#4a4a4a" stroke-width="0.9"/>
<text x="380.50" y="60.10" font-size="7.6" text-anchor="end" stroke="#2a2a2a" stroke-width="0.18">2000</text>
<line x1="383.70" y1="83.70" x2="386.50" y2="83.70" stroke="#4a4a4a" stroke-width="0.9"/>
<text x="380.50" y="86.60" font-size="7.6" text-anchor="end" stroke="#2a2a2a" stroke-width="0.18">1000</text>
<line x1="383.70" y1="110.20" x2="386.50" y2="110.20" stroke="#4a4a4a" stroke-width="0.9"/>
<text x="380.50" y="113.10" font-size="7.6" text-anchor="end" stroke="#2a2a2a" stroke-width="0.18">0</text>
<line x1="386.00" y1="110.20" x2="512.00" y2="110.20" stroke="#4a4a4a" stroke-width="1.2"/>
<line x1="404.00" y1="110.20" x2="404.00" y2="113.20" stroke="#4a4a4a" stroke-width="0.9"/>
<text x="404.00" y="122.30" font-size="7.2" text-anchor="middle" stroke="#2a2a2a" stroke-width="0.18">0</text>
<line x1="434.50" y1="110.20" x2="434.50" y2="113.20" stroke="#4a4a4a" stroke-width="0.9"/>
<text x="434.50" y="122.30" font-size="7.2" text-anchor="middle" stroke="#2a2a2a" stroke-width="0.18">1</text>
<line x1="465.10" y1="110.20" x2="465.10" y2="113.20" stroke="#4a4a4a" stroke-width="0.9"/>
<text x="465.10" y="122.30" font-size="7.2" text-anchor="middle" stroke="#2a2a2a" stroke-width="0.18">2</text>
<line x1="495.60" y1="110.20" x2="495.60" y2="113.20" stroke="#4a4a4a" stroke-width="0.9"/>
<text x="495.60" y="122.30" font-size="7.2" text-anchor="middle" stroke="#2a2a2a" stroke-width="0.18">3</text>
<text x="422.40" y="131.20" font-size="8.8" textLength="54.3" lengthAdjust="spacingAndGlyphs" stroke="#2a2a2a" stroke-width="0.3">Treatment (weeks)</text>
<text transform="translate(360.20,70.50) rotate(-90)" x="0" y="0" font-size="8" text-anchor="middle" textLength="45.5" lengthAdjust="spacingAndGlyphs" stroke="#2a2a2a" stroke-width="0.3">Platelets (K/μL)</text>
<circle cx="391.00" cy="37.20" r="1.6" fill="#c8102e"/>
<text x="395.00" y="39.70" font-size="6.9" stroke="#2a2a2a" stroke-width="0.18">Vehicle</text>
<circle cx="391.00" cy="45.50" r="1.6" fill="#0d4f8f"/>
<text x="395.00" y="48.00" font-size="6.9" stroke="#2a2a2a" stroke-width="0.18">Pev</text>
<circle cx="391.00" cy="53.30" r="1.6" fill="#2fb84a"/>
<text x="395.00" y="55.80" font-size="6.9" stroke="#2a2a2a" stroke-width="0.18">Rux</text>
<circle cx="391.00" cy="61.10" r="1.6" fill="#4e1272"/>
<text x="395.00" y="63.60" font-size="6.9" stroke="#2a2a2a" stroke-width="0.18">Rux + Pev</text>
<line x1="422.40" y1="35.70" x2="422.40" y2="47.70" stroke="#8a8a8a" stroke-width="1.0"/>
<line x1="428.10" y1="35.20" x2="428.10" y2="54.30" stroke="#8a8a8a" stroke-width="1.0"/>
<line x1="433.10" y1="35.70" x2="433.10" y2="62.00" stroke="#8a8a8a" stroke-width="1.0"/>
<path d="M423.50 37.20h1.8M424.40 36.30v1.8" stroke="#444" stroke-width="0.55"/>
<path d="M423.50 39.97h1.8M424.40 39.07v1.8" stroke="#444" stroke-width="0.55"/>
<path d="M423.50 42.73h1.8M424.40 41.83v1.8" stroke="#444" stroke-width="0.55"/>
<path d="M423.50 45.50h1.8M424.40 44.60v1.8" stroke="#444" stroke-width="0.55"/>
<path d="M429.20 39.60h1.8M430.10 38.70v1.8" stroke="#444" stroke-width="0.55"/>
<path d="M429.20 42.40h1.8M430.10 41.50v1.8" stroke="#444" stroke-width="0.55"/>
<path d="M429.20 45.20h1.8M430.10 44.30v1.8" stroke="#444" stroke-width="0.55"/>
<path d="M429.20 48.00h1.8M430.10 47.10v1.8" stroke="#444" stroke-width="0.55"/>
<path d="M434.70 45.10h1.8M435.60 44.20v1.8" stroke="#444" stroke-width="0.55"/>
<path d="M434.70 47.93h1.8M435.60 47.03v1.8" stroke="#444" stroke-width="0.55"/>
<path d="M434.70 50.77h1.8M435.60 49.87v1.8" stroke="#444" stroke-width="0.55"/>
<path d="M434.70 53.60h1.8M435.60 52.70v1.8" stroke="#444" stroke-width="0.55"/>
<circle cx="393.83" cy="101.50" r="1.55" fill="#c8102e"/>
<circle cx="393.57" cy="103.00" r="1.55" fill="#c8102e"/>
<circle cx="393.05" cy="104.50" r="1.55" fill="#c8102e"/>
<circle cx="393.04" cy="106.00" r="1.55" fill="#c8102e"/>
<circle cx="399.85" cy="99.00" r="1.55" fill="#0d4f8f"/>
<circle cx="399.81" cy="101.00" r="1.55" fill="#0d4f8f"/>
<circle cx="400.51" cy="103.00" r="1.55" fill="#0d4f8f"/>
<circle cx="400.93" cy="105.00" r="1.55" fill="#0d4f8f"/>
<circle cx="400.12" cy="106.50" r="1.55" fill="#0d4f8f"/>
<circle cx="407.40" cy="102.20" r="1.55" fill="#2fb84a"/>
<circle cx="407.48" cy="104.00" r="1.55" fill="#2fb84a"/>
<circle cx="407.43" cy="105.60" r="1.55" fill="#2fb84a"/>
<circle cx="406.48" cy="107.20" r="1.55" fill="#2fb84a"/>
<circle cx="413.05" cy="100.00" r="1.55" fill="#4e1272"/>
<circle cx="413.06" cy="101.70" r="1.55" fill="#4e1272"/>
<circle cx="413.01" cy="103.40" r="1.55" fill="#4e1272"/>
<circle cx="413.03" cy="105.00" r="1.55" fill="#4e1272"/>
<circle cx="424.50" cy="93.60" r="1.55" fill="#c8102e"/>
<circle cx="424.94" cy="95.00" r="1.55" fill="#c8102e"/>
<circle cx="424.84" cy="96.50" r="1.55" fill="#c8102e"/>
<circle cx="424.27" cy="98.00" r="1.55" fill="#c8102e"/>
<circle cx="424.54" cy="99.50" r="1.55" fill="#c8102e"/>
<circle cx="424.78" cy="100.80" r="1.55" fill="#c8102e"/>
<circle cx="430.54" cy="99.90" r="1.55" fill="#0d4f8f"/>
<circle cx="431.46" cy="101.50" r="1.55" fill="#0d4f8f"/>
<circle cx="431.86" cy="103.00" r="1.55" fill="#0d4f8f"/>
<circle cx="431.65" cy="104.50" r="1.55" fill="#0d4f8f"/>
<circle cx="431.60" cy="106.10" r="1.55" fill="#0d4f8f"/>
<circle cx="437.96" cy="102.70" r="1.55" fill="#2fb84a"/>
<circle cx="437.49" cy="104.20" r="1.55" fill="#2fb84a"/>
<circle cx="438.46" cy="105.80" r="1.55" fill="#2fb84a"/>
<circle cx="437.73" cy="107.50" r="1.55" fill="#2fb84a"/>
<line x1="444.30" y1="96.00" x2="444.30" y2="106.50" stroke="#4e1272" stroke-width="0.7"/>
<line x1="442.80" y1="96.00" x2="445.80" y2="96.00" stroke="#4e1272" stroke-width="0.7"/>
<line x1="442.80" y1="106.50" x2="445.80" y2="106.50" stroke="#4e1272" stroke-width="0.7"/>
<circle cx="444.78" cy="89.80" r="1.55" fill="#4e1272"/>
<circle cx="445.05" cy="99.90" r="1.55" fill="#4e1272"/>
<circle cx="444.13" cy="101.50" r="1.55" fill="#4e1272"/>
<circle cx="444.14" cy="103.00" r="1.55" fill="#4e1272"/>
<circle cx="445.01" cy="105.00" r="1.55" fill="#4e1272"/>
<circle cx="444.66" cy="106.90" r="1.55" fill="#4e1272"/>
<line x1="455.10" y1="44.90" x2="455.10" y2="90.40" stroke="#c8102e" stroke-width="0.7"/>
<line x1="453.60" y1="44.90" x2="456.60" y2="44.90" stroke="#c8102e" stroke-width="0.7"/>
<line x1="453.60" y1="90.40" x2="456.60" y2="90.40" stroke="#c8102e" stroke-width="0.7"/>
<line x1="452.90" y1="66.30" x2="457.30" y2="66.30" stroke="#c8102e" stroke-width="0.7"/>
<circle cx="454.57" cy="34.10" r="1.55" fill="#c8102e"/>
<circle cx="454.50" cy="39.80" r="1.55" fill="#c8102e"/>
<circle cx="454.54" cy="44.90" r="1.55" fill="#c8102e"/>
<circle cx="455.75" cy="62.90" r="1.55" fill="#c8102e"/>
<circle cx="455.59" cy="70.50" r="1.55" fill="#c8102e"/>
<circle cx="454.53" cy="89.10" r="1.55" fill="#c8102e"/>
<circle cx="455.62" cy="90.40" r="1.55" fill="#c8102e"/>
<circle cx="455.87" cy="100.50" r="1.55" fill="#c8102e"/>
<circle cx="461.95" cy="89.50" r="1.55" fill="#0d4f8f"/>
<circle cx="461.46" cy="95.10" r="1.55" fill="#0d4f8f"/>
<circle cx="461.78" cy="98.00" r="1.55" fill="#0d4f8f"/>
<circle cx="461.11" cy="101.80" r="1.55" fill="#0d4f8f"/>
<circle cx="460.92" cy="104.60" r="1.55" fill="#0d4f8f"/>
<circle cx="469.05" cy="93.20" r="1.55" fill="#2fb84a"/>
<circle cx="468.54" cy="98.00" r="1.55" fill="#2fb84a"/>
<circle cx="468.34" cy="100.80" r="1.55" fill="#2fb84a"/>
<circle cx="468.99" cy="103.70" r="1.55" fill="#2fb84a"/>
<circle cx="468.19" cy="105.60" r="1.55" fill="#2fb84a"/>
<line x1="475.00" y1="89.00" x2="475.00" y2="100.80" stroke="#4e1272" stroke-width="0.7"/>
<line x1="473.50" y1="89.00" x2="476.50" y2="89.00" stroke="#4e1272" stroke-width="0.7"/>
<line x1="473.50" y1="100.80" x2="476.50" y2="100.80" stroke="#4e1272" stroke-width="0.7"/>
<circle cx="475.59" cy="85.70" r="1.55" fill="#4e1272"/>
<circle cx="475.52" cy="90.40" r="1.55" fill="#4e1272"/>
<circle cx="474.54" cy="94.20" r="1.55" fill="#4e1272"/>
<circle cx="474.60" cy="98.00" r="1.55" fill="#4e1272"/>
<circle cx="474.67" cy="101.80" r="1.55" fill="#4e1272"/>
<line x1="492.50" y1="81.90" x2="492.50" y2="103.00" stroke="#0d4f8f" stroke-width="0.7"/>
<line x1="491.00" y1="81.90" x2="494.00" y2="81.90" stroke="#0d4f8f" stroke-width="0.7"/>
<line x1="491.00" y1="103.00" x2="494.00" y2="103.00" stroke="#0d4f8f" stroke-width="0.7"/>
<line x1="490.30" y1="95.00" x2="494.70" y2="95.00" stroke="#0d4f8f" stroke-width="0.7"/>
<circle cx="492.08" cy="73.20" r="1.55" fill="#0d4f8f"/>
<circle cx="492.64" cy="80.80" r="1.55" fill="#0d4f8f"/>
<circle cx="492.11" cy="94.20" r="1.55" fill="#0d4f8f"/>
<circle cx="492.37" cy="97.30" r="1.55" fill="#0d4f8f"/>
<circle cx="491.91" cy="99.60" r="1.55" fill="#0d4f8f"/>
<circle cx="493.16" cy="103.40" r="1.55" fill="#0d4f8f"/>
<line x1="499.40" y1="88.00" x2="499.40" y2="102.00" stroke="#2fb84a" stroke-width="0.7"/>
<line x1="497.90" y1="88.00" x2="500.90" y2="88.00" stroke="#2fb84a" stroke-width="0.7"/>
<line x1="497.90" y1="102.00" x2="500.90" y2="102.00" stroke="#2fb84a" stroke-width="0.7"/>
<line x1="497.20" y1="95.00" x2="501.60" y2="95.00" stroke="#2fb84a" stroke-width="0.7"/>
<circle cx="499.17" cy="81.20" r="1.55" fill="#2fb84a"/>
<circle cx="499.33" cy="88.80" r="1.55" fill="#2fb84a"/>
<circle cx="499.53" cy="90.70" r="1.55" fill="#2fb84a"/>
<circle cx="500.05" cy="96.40" r="1.55" fill="#2fb84a"/>
<circle cx="499.27" cy="99.60" r="1.55" fill="#2fb84a"/>
<circle cx="500.07" cy="104.00" r="1.55" fill="#2fb84a"/>
<line x1="505.40" y1="78.40" x2="505.40" y2="106.80" stroke="#4e1272" stroke-width="0.7"/>
<line x1="503.90" y1="78.40" x2="506.90" y2="78.40" stroke="#4e1272" stroke-width="0.7"/>
<line x1="503.90" y1="106.80" x2="506.90" y2="106.80" stroke="#4e1272" stroke-width="0.7"/>
<line x1="503.20" y1="93.90" x2="507.60" y2="93.90" stroke="#4e1272" stroke-width="0.7"/>
<circle cx="505.40" cy="63.80" r="1.55" fill="#4e1272"/>
<circle cx="505.45" cy="93.50" r="1.55" fill="#4e1272"/>
<circle cx="505.44" cy="96.40" r="1.55" fill="#4e1272"/>
<circle cx="504.63" cy="99.60" r="1.55" fill="#4e1272"/>
<circle cx="505.30" cy="102.00" r="1.55" fill="#4e1272"/>
<text x="7.60" y="152.60" font-size="10.8" fill="#111" font-weight="bold">D</text>
<text x="50.60" y="158.80" font-size="7.78" fill="#2a2a2a" stroke="#2a2a2a" stroke-width="0.18"><tspan font-style="italic">MPL</tspan> W515L</text>
<line x1="40.40" y1="165.00" x2="40.40" y2="245.90" stroke="#4a4a4a" stroke-width="1.2"/>
<line x1="37.60" y1="165.50" x2="40.40" y2="165.50" stroke="#4a4a4a" stroke-width="0.9"/>
<text x="36.50" y="167.90" font-size="7.1" text-anchor="end" stroke="#2a2a2a" stroke-width="0.18">0.04</text>
<line x1="37.60" y1="185.48" x2="40.40" y2="185.48" stroke="#4a4a4a" stroke-width="0.9"/>
<text x="36.50" y="187.88" font-size="7.1" text-anchor="end" stroke="#2a2a2a" stroke-width="0.18">0.03</text>
<line x1="37.60" y1="205.45" x2="40.40" y2="205.45" stroke="#4a4a4a" stroke-width="0.9"/>
<text x="36.50" y="207.85" font-size="7.1" text-anchor="end" stroke="#2a2a2a" stroke-width="0.18">0.02</text>
<line x1="37.60" y1="225.43" x2="40.40" y2="225.43" stroke="#4a4a4a" stroke-width="0.9"/>
<text x="36.50" y="227.83" font-size="7.1" text-anchor="end" stroke="#2a2a2a" stroke-width="0.18">0.01</text>
<line x1="37.60" y1="245.40" x2="40.40" y2="245.40" stroke="#4a4a4a" stroke-width="0.9"/>
<text x="36.50" y="247.80" font-size="7.1" text-anchor="end" stroke="#2a2a2a" stroke-width="0.18">0.00</text>
<line x1="40.10" y1="245.40" x2="103.50" y2="245.40" stroke="#4a4a4a" stroke-width="1.2"/>
<line x1="53.20" y1="245.40" x2="53.20" y2="248.40" stroke="#4a4a4a" stroke-width="0.9"/>
<line x1="65.70" y1="245.40" x2="65.70" y2="248.40" stroke="#4a4a4a" stroke-width="0.9"/>
<line x1="78.20" y1="245.40" x2="78.20" y2="248.40" stroke="#4a4a4a" stroke-width="0.9"/>
<line x1="90.80" y1="245.40" x2="90.80" y2="248.40" stroke="#4a4a4a" stroke-width="0.9"/>
<text transform="translate(54.80,253.80) rotate(-45)" font-size="7" text-anchor="end" stroke="#2a2a2a" stroke-width="0.18">Vehicle</text>
<text transform="translate(67.30,253.80) rotate(-45)" font-size="7" text-anchor="end" stroke="#2a2a2a" stroke-width="0.18">Pev</text>
<text transform="translate(79.80,253.80) rotate(-45)" font-size="7" text-anchor="end" stroke="#2a2a2a" stroke-width="0.18">Rux</text>
<text transform="translate(92.40,253.80) rotate(-45)" font-size="7" text-anchor="end" stroke="#2a2a2a" stroke-width="0.18">Rux + Pev</text>
<text transform="translate(14.80,202.10) rotate(-90)" x="0" y="0" font-size="8" text-anchor="middle" textLength="72.4" lengthAdjust="spacingAndGlyphs" stroke="#2a2a2a" stroke-width="0.3">Normalized spleen weight</text>
<path d="M52.7 168.80V167.20H90.70V168.80" fill="none" stroke="#555" stroke-width="0.6"/>
<text x="71.50" y="166.00" font-size="5.5" text-anchor="middle" stroke="#2a2a2a" stroke-width="0.18">**</text>
<path d="M52.7 173.40V171.80H78.50V173.40" fill="none" stroke="#555" stroke-width="0.6"/>
<text x="65.50" y="170.60" font-size="5.5" text-anchor="middle" stroke="#2a2a2a" stroke-width="0.18">**</text>
<path d="M52.7 177.80V176.20H65.70V177.80" fill="none" stroke="#555" stroke-width="0.6"/>
<text x="59.00" y="175.00" font-size="5.5" text-anchor="middle" stroke="#2a2a2a" stroke-width="0.18">**</text>
<line x1="53.20" y1="181.20" x2="53.20" y2="212.50" stroke="#c8102e" stroke-width="0.7"/>
<line x1="51.70" y1="181.20" x2="54.70" y2="181.20" stroke="#c8102e" stroke-width="0.7"/>
<line x1="51.70" y1="212.50" x2="54.70" y2="212.50" stroke="#c8102e" stroke-width="0.7"/>
<line x1="51.00" y1="197.20" x2="55.40" y2="197.20" stroke="#c8102e" stroke-width="0.7"/>
<circle cx="52.69" cy="196.10" r="1.55" fill="#c8102e"/>
<circle cx="52.41" cy="202.20" r="1.55" fill="#c8102e"/>
<circle cx="53.68" cy="208.50" r="1.55" fill="#c8102e"/>
<circle cx="52.68" cy="228.20" r="1.55" fill="#c8102e"/>
<circle cx="50.50" cy="183.60" r="1.55" fill="#c8102e"/>
<circle cx="55.60" cy="180.70" r="1.55" fill="#c8102e"/>
<circle cx="50.50" cy="189.00" r="1.55" fill="#c8102e"/>
<circle cx="55.60" cy="187.60" r="1.55" fill="#c8102e"/>
<line x1="65.70" y1="207.50" x2="65.70" y2="221.50" stroke="#0d4f8f" stroke-width="0.7"/>
<line x1="64.20" y1="207.50" x2="67.20" y2="207.50" stroke="#0d4f8f" stroke-width="0.7"/>
<line x1="64.20" y1="221.50" x2="67.20" y2="221.50" stroke="#0d4f8f" stroke-width="0.7"/>
<line x1="63.50" y1="214.50" x2="67.90" y2="214.50" stroke="#0d4f8f" stroke-width="0.7"/>
<circle cx="65.70" cy="203.50" r="1.55" fill="#0d4f8f"/>
<circle cx="65.70" cy="213.40" r="1.55" fill="#0d4f8f"/>
<circle cx="63.00" cy="208.00" r="1.55" fill="#0d4f8f"/>
<circle cx="68.20" cy="209.40" r="1.55" fill="#0d4f8f"/>
<circle cx="63.00" cy="214.90" r="1.55" fill="#0d4f8f"/>
<circle cx="68.20" cy="217.10" r="1.55" fill="#0d4f8f"/>
<circle cx="63.00" cy="219.00" r="1.55" fill="#0d4f8f"/>
<circle cx="68.20" cy="220.80" r="1.55" fill="#0d4f8f"/>
<circle cx="63.00" cy="223.30" r="1.55" fill="#0d4f8f"/>
<line x1="78.20" y1="203.80" x2="78.20" y2="223.30" stroke="#2fb84a" stroke-width="0.7"/>
<line x1="76.70" y1="203.80" x2="79.70" y2="203.80" stroke="#2fb84a" stroke-width="0.7"/>
<line x1="76.70" y1="223.30" x2="79.70" y2="223.30" stroke="#2fb84a" stroke-width="0.7"/>
<line x1="76.00" y1="213.40" x2="80.40" y2="213.40" stroke="#2fb84a" stroke-width="0.7"/>
<circle cx="78.20" cy="199.10" r="1.55" fill="#2fb84a"/>
<circle cx="78.20" cy="214.20" r="1.55" fill="#2fb84a"/>
<circle cx="78.20" cy="229.20" r="1.55" fill="#2fb84a"/>
<circle cx="75.50" cy="205.00" r="1.55" fill="#2fb84a"/>
<circle cx="80.70" cy="207.50" r="1.55" fill="#2fb84a"/>
<circle cx="75.50" cy="210.50" r="1.55" fill="#2fb84a"/>
<circle cx="75.50" cy="220.30" r="1.55" fill="#2fb84a"/>
<circle cx="81.00" cy="222.70" r="1.55" fill="#2fb84a"/>
<line x1="90.80" y1="209.70" x2="90.80" y2="220.80" stroke="#4e1272" stroke-width="0.7"/>
<line x1="89.30" y1="209.70" x2="92.30" y2="209.70" stroke="#4e1272" stroke-width="0.7"/>
<line x1="89.30" y1="220.80" x2="92.30" y2="220.80" stroke="#4e1272" stroke-width="0.7"/>
<line x1="88.60" y1="213.70" x2="93.00" y2="213.70" stroke="#4e1272" stroke-width="0.7"/>
<circle cx="90.76" cy="205.00" r="1.55" fill="#4e1272"/>
<circle cx="91.16" cy="208.30" r="1.55" fill="#4e1272"/>
<circle cx="90.89" cy="214.90" r="1.55" fill="#4e1272"/>
<circle cx="90.52" cy="217.40" r="1.55" fill="#4e1272"/>
<circle cx="90.83" cy="223.30" r="1.55" fill="#4e1272"/>
<circle cx="88.00" cy="213.90" r="1.55" fill="#4e1272"/>
<circle cx="93.60" cy="213.40" r="1.55" fill="#4e1272"/>
<circle cx="89.50" cy="221.50" r="1.55" fill="#4e1272"/>
<circle cx="91.90" cy="221.80" r="1.55" fill="#4e1272"/>
<text x="122.40" y="152.50" font-size="10.8" fill="#111" font-weight="bold">E</text>
<text x="190.50" y="158.70" font-size="7.91" fill="#2a2a2a" stroke="#2a2a2a" stroke-width="0.18"><tspan font-style="italic">MPL</tspan> W515L</text>
<line x1="152.20" y1="165.00" x2="152.20" y2="246.10" stroke="#4a4a4a" stroke-width="1.2"/>
<line x1="149.40" y1="165.50" x2="152.20" y2="165.50" stroke="#4a4a4a" stroke-width="0.9"/>
<text x="149.10" y="168.10" font-size="7.4" text-anchor="end" stroke="#2a2a2a" stroke-width="0.18">100</text>
<line x1="149.40" y1="181.52" x2="152.20" y2="181.52" stroke="#4a4a4a" stroke-width="0.9"/>
<text x="149.10" y="184.12" font-size="7.4" text-anchor="end" stroke="#2a2a2a" stroke-width="0.18">80</text>
<line x1="149.40" y1="197.54" x2="152.20" y2="197.54" stroke="#4a4a4a" stroke-width="0.9"/>
<text x="149.10" y="200.14" font-size="7.4" text-anchor="end" stroke="#2a2a2a" stroke-width="0.18">60</text>
<line x1="149.40" y1="213.56" x2="152.20" y2="213.56" stroke="#4a4a4a" stroke-width="0.9"/>
<text x="149.10" y="216.16" font-size="7.4" text-anchor="end" stroke="#2a2a2a" stroke-width="0.18">40</text>
<line x1="149.40" y1="229.58" x2="152.20" y2="229.58" stroke="#4a4a4a" stroke-width="0.9"/>
<text x="149.10" y="232.18" font-size="7.4" text-anchor="end" stroke="#2a2a2a" stroke-width="0.18">20</text>
<line x1="149.40" y1="245.60" x2="152.20" y2="245.60" stroke="#4a4a4a" stroke-width="0.9"/>
<text x="149.10" y="248.20" font-size="7.4" text-anchor="end" stroke="#2a2a2a" stroke-width="0.18">0</text>
<line x1="151.70" y1="245.60" x2="272.00" y2="245.60" stroke="#4a4a4a" stroke-width="1.2"/>
<line x1="152.20" y1="245.60" x2="152.20" y2="248.60" stroke="#4a4a4a" stroke-width="0.9"/>
<text x="152.20" y="257.40" font-size="7.1" text-anchor="middle" stroke="#2a2a2a" stroke-width="0.18">0</text>
<line x1="182.10" y1="245.60" x2="182.10" y2="248.60" stroke="#4a4a4a" stroke-width="0.9"/>
<text x="182.10" y="257.40" font-size="7.1" text-anchor="middle" stroke="#2a2a2a" stroke-width="0.18">10</text>
<line x1="212.00" y1="245.60" x2="212.00" y2="248.60" stroke="#4a4a4a" stroke-width="0.9"/>
<text x="212.00" y="257.40" font-size="7.1" text-anchor="middle" stroke="#2a2a2a" stroke-width="0.18">20</text>
<line x1="241.90" y1="245.60" x2="241.90" y2="248.60" stroke="#4a4a4a" stroke-width="0.9"/>
<text x="241.90" y="257.40" font-size="7.1" text-anchor="middle" stroke="#2a2a2a" stroke-width="0.18">30</text>
<line x1="271.80" y1="245.60" x2="271.80" y2="248.60" stroke="#4a4a4a" stroke-width="0.9"/>
<text x="271.80" y="257.40" font-size="7.1" text-anchor="middle" stroke="#2a2a2a" stroke-width="0.18">40</text>
<text x="206.20" y="266.80" font-size="8.8" textLength="12.7" lengthAdjust="spacingAndGlyphs" stroke="#2a2a2a" stroke-width="0.3">Days</text>
<text transform="translate(130.00,208.40) rotate(-90)" x="0" y="0" font-size="8" text-anchor="middle" textLength="61" lengthAdjust="spacingAndGlyphs" stroke="#2a2a2a" stroke-width="0.3">Percent survival (%)</text>
<path d="M239.51 165.50H269.41v-1.5" fill="none" stroke="#3f7fbf" stroke-width="1.1"/>
<path d="M254.16 165.50V175.51H269.41v-1.5" fill="none" stroke="#3cb54a" stroke-width="1.1"/>
<path d="M251.47 165.50V185.52H269.41v-1.5" fill="none" stroke="#7b3f9e" stroke-width="1.1"/>
<path d="M152.20 165.50H239.51V215.56H242.20V235.59H244.89V245.60" fill="none" stroke="#e0304a" stroke-width="1.1"/>
<text x="155.8" y="228.0" font-size="7.1" fill="#22609e" stroke="#22609e" stroke-width="0.18" textLength="48.4" lengthAdjust="spacingAndGlyphs">Pev <tspan font-style="italic">P</tspan> &lt; 0.0001</text>
<text x="155.8" y="235.3" font-size="7.1" fill="#2ea044" stroke="#2ea044" stroke-width="0.18" textLength="48.4" lengthAdjust="spacingAndGlyphs">Rux <tspan font-style="italic">P</tspan> &lt; 0.0001</text>
<text x="155.8" y="242.3" font-size="7.1" fill="#6a2a8c" stroke="#6a2a8c" stroke-width="0.18" textLength="68.4" lengthAdjust="spacingAndGlyphs">Rux + Pev <tspan font-style="italic">P</tspan> &lt; 0.0001</text>
<text x="7.60" y="294.80" font-size="10.8" fill="#111" font-weight="bold">F</text>
<text x="71.50" y="297.20" font-size="8.8" text-anchor="middle" stroke="#2a2a2a" stroke-width="0.18">Vehicle</text>
<text x="173.10" y="297.20" font-size="8.8" text-anchor="middle" stroke="#2a2a2a" stroke-width="0.18">Pev</text>
<text x="279.90" y="297.20" font-size="8.8" text-anchor="middle" stroke="#2a2a2a" stroke-width="0.18">Rux</text>
<text x="385.90" y="297.20" font-size="8.8" text-anchor="middle" stroke="#2a2a2a" stroke-width="0.18">Rux + Pev</text>
<text transform="translate(13.60,342.30) rotate(-90)" x="0" y="0" font-size="8.3" text-anchor="middle" textLength="17.1" lengthAdjust="spacingAndGlyphs" stroke="#2a2a2a" stroke-width="0.3">H&amp;E</text>
<text transform="translate(14.20,421.30) rotate(-90)" x="0" y="0" font-size="8.7" text-anchor="middle" textLength="33.5" lengthAdjust="spacingAndGlyphs" stroke="#2a2a2a" stroke-width="0.3">Reticulin</text></g>
<rect x="0.5" y="0.5" width="519" height="474" fill="none" stroke="#111" stroke-width="1.2"/>
</svg>
</body></html>
